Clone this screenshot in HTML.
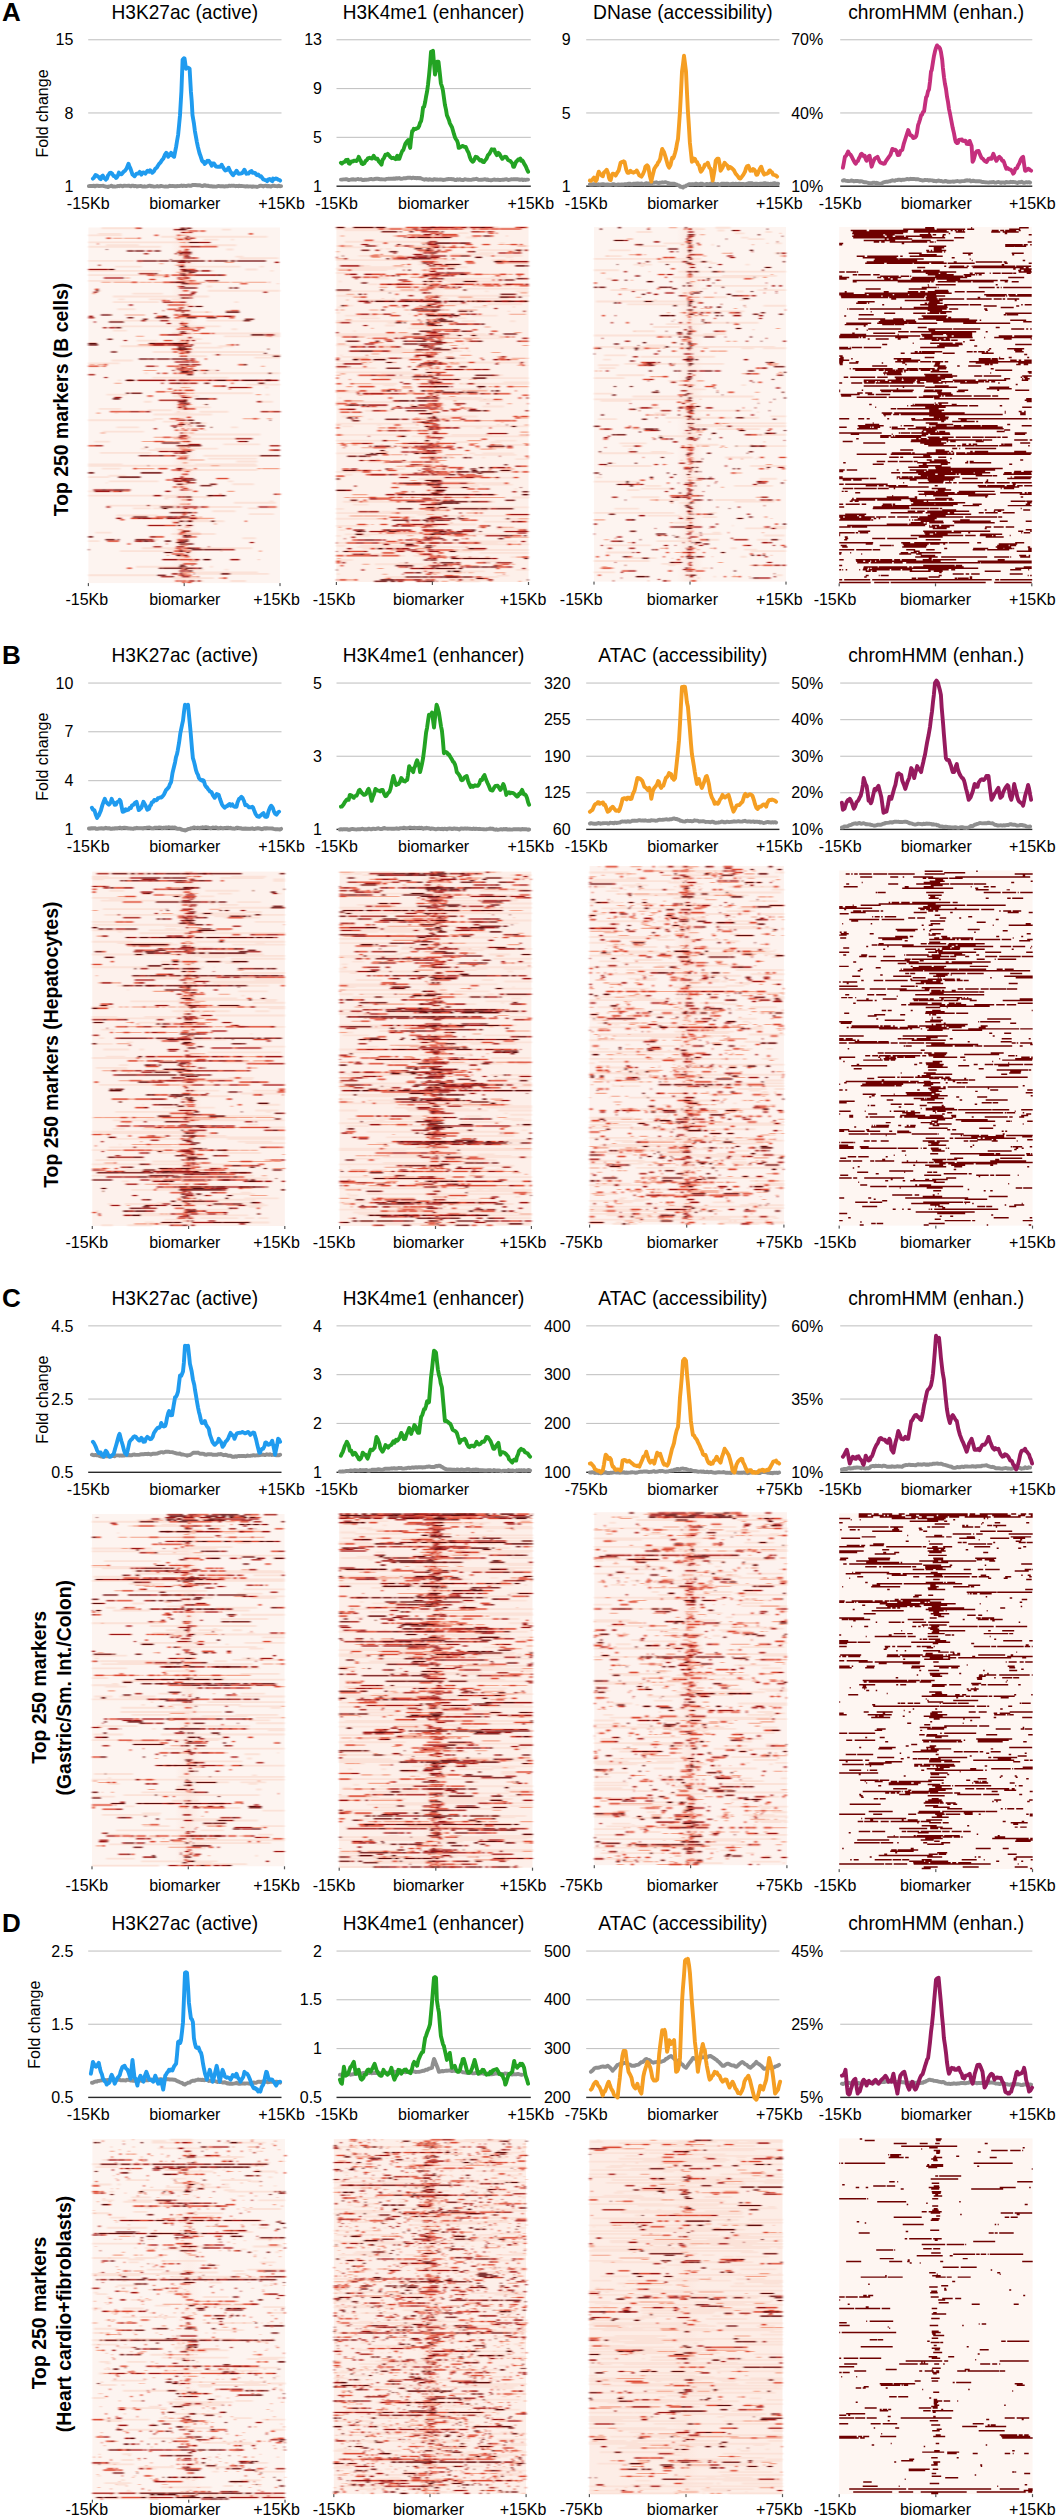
<!DOCTYPE html><html><head><meta charset="utf-8"><style>html,body{margin:0;padding:0;background:#fff;}html{scrollbar-width:none;}html::-webkit-scrollbar,body::-webkit-scrollbar{display:none;width:0;height:0;}svg{display:block;}</style></head><body>
<svg width="1060" height="2517" viewBox="0 0 1060 2517" font-family="&quot;Liberation Sans&quot;, sans-serif" fill="#000">
<defs><linearGradient id="band" x1="0" x2="1" y1="0" y2="0"><stop offset="0" stop-color="#f7b9a3" stop-opacity="0"/><stop offset="0.5" stop-color="#f7b9a3" stop-opacity="1"/><stop offset="1" stop-color="#f7b9a3" stop-opacity="0"/></linearGradient><filter id="soft" x="-5%" y="-5%" width="110%" height="110%"><feGaussianBlur stdDeviation="0.8 0.55"/></filter><filter id="soft2" x="-5%" y="-5%" width="110%" height="110%"><feGaussianBlur stdDeviation="0.4 0.3"/></filter></defs>
<rect width="1060" height="2517" fill="#fff"/>
<g transform="translate(88.4 227.5)">
<rect width="191.6" height="355.6" fill="#fdf4f0"/>
<rect x="82.4" width="26.8" height="355.6" fill="url(#band)" opacity="0.2"/>
<g filter="url(#soft)"><g transform="scale(0.5 1.4224) translate(0 0.5)" fill="none">
<path d="M26 0h76M267 1h18M19 4h47M0 5h67M145 6h38m9 0h166M230 8h30m25 0h6M0 10h201M35 12h66m130 0h65M0 13h145M276 15h14M294 20h16M302 21h78M0 23h92m80 0h49M98 24h8M53 27h54m84 0h113m38 0h9M189 29h27m98 0h24M0 30h145m39 0h67m113 0h6M0 33h147M127 34h32M0 37h83M194 38h16M191 40h27M237 41h10M15 44h10m214 0h144M88 46h61M49 48h192m-34 0h26M60 50h12m49 0h36m9 0h22M49 52h92m151 0h8M58 57h36M200 59h47M42 65h163m31 0h87M46 69h218M286 71h12M49 72h28M167 74h45m14 0h157M347 75h36M271 76h59m-35 0h22m-20 0h86M178 78h49M97 79h41M208 81h37M64 83h115m81 0h31M211 84h57M129 87h224M248 89h136M201 90h36M332 91h51M46 93h43M0 95h62M185 97h11M169 100h88M112 102h7m103 0h161M128 105h152m-147 0h16M59 107h6M316 110h67M354 112h6M208 116h121m-75 0h18M36 117h42m276 0h8M169 118h52M111 122h15m214 0h29M193 126h51M21 127h44M119 128h48M222 129h58M52 130h8m114 0h25M130 131h117M130 134h19M0 135h134M149 136h29M183 137h53M56 140h45m184 0h14M230 142h6M29 143h82M204 145h140M194 148h109M12 150h31M270 152h73M105 155h10m18 0h126M120 156h67M23 158h102M230 160h138M198 161h3M239 162h98M187 163h15M296 164h42M0 166h68m145 0h122M0 167h338M27 169h37M176 170h162M40 174h35M0 175h42m25 0h17M41 178h99m139 0h11M35 179h3M288 180h43M0 185h60M0 188h204M153 189h93m-46 0h15M152 190h8m71 0h3M362 192h8M291 193h54m-3 0h33M36 195h174M154 196h153M89 197h36m4 0h95m95 0h21M248 199h46M321 201h50M56 202h82M107 204h9m36 0h75M199 205h42M165 206h107M14 214h32m134 0h43M166 215h88M308 218h27M123 219h17M0 220h22M133 222h5M107 225h221M158 226h36M63 227h92M95 238h97m51 0h6M201 240h30m41 0h8M207 242h132M216 243h145M0 244h135M169 246h82M187 248h43m54 0h31" stroke="#fbe2d8" stroke-width="1.3"/>
<defs><path id="A1_1" d="M184 5h3m0 0h5m2 0h3M49 7h19m3 0h20m0 0h8m75 0h6m0 0h11M182 10h10M194 14h2M186 19h4M202 21h10M273 24h18M142 25h8M174 26h5M176 31h16m0 0h6M189 32h8M133 33h19m92 0h19M73 35h10M178 36h4m8 0h5m1 0h1M187 37h7m0 0h7M26 38h10m-1 0h10m5 0h16m0 0h15m0 0h5m16 0h14m1 0h10m3 0h18m14 0h12m22 0h9m-7 0h3m0 0h3m1 0h14m1 0h14m5 0h18m0 0h16m0 0h10m3 0h5m0 0h12m0 0h6m4 0h5m1 0h19m0 0h15m0 0h4M378 39h2M8 46h6M202 48h4M187 52h3M193 54h8M275 58h10M235 59h4M73 61h19m0 0h13m0 0h8m68 0h6M183 63h11M189 70h6m2 0h1m6 0h12M210 74h14M95 76h16m244 0h8M180 80h10m-1 0h5M100 82h21m155 0h9M194 86h6M186 88h5m0 0h5m0 0h4M187 93h7M2 96h11m5 0h13M23 97h7m152 0h13m150 0h8M174 98h10M110 100h20m0 0h6M199 101h7M197 102h1M52 109h14M185 112h9m0 0h4m1 0h4M190 114h8m1 0h6m0 0h2M155 115h11m0 0h7M185 116h6m0 0h9m0 0h4m1 0h6M335 117h10M194 118h6M192 124h6m5 0h4m23 0h2M180 127h9M179 129h2M16 130h8M182 134h6m0 0h3m118 0h6m0 0h14m9 0h5m14 0h10M193 137h6M197 139h2M205 141h16M182 142h9M24 144h10m155 0h9m3 0h9m-1 0h2M131 147h18m16 0h8m0 0h6m13 0h8M170 148h6m0 0h7M107 150h24m20 0h20m2 0h23m0 0h1M191 153h4M181 154h8m0 0h6m2 0h1M181 155h17M184 156h10m3 0h4m5 0h6M174 157h8M177 160h7m3 0h7m0 0h7M202 163h10m0 0h20M189 165h9M245 167h17M97 169h19m0 0h16m206 0h7m2 0h6m0 0h15m0 0h14M187 170h7m-1 0h7m0 0h7m-5 0h6M191 171h4M185 180h9m0 0h4M177 182h6M69 185h14m195 0h14M186 191h6m0 0h5m9 0h1M183 194h8m0 0h9M198 197h4M190 203h1m12 0h7m0 0h8m4 0h5M110 204h2m68 0h24m11 0h7m-4 0h18m0 0h16M251 208h6M193 210h10M179 212h10M188 215h3m-2 0h11m-8 0h8m0 0h9m-6 0h22m-16 0h4m1 0h1M177 220h9M175 221h8M184 223h6m-1 0h8M190 226h8m0 0h2M265 227h2m74 0h6M157 230h4M178 231h4m1 0h8M340 233h2M201 234h18M185 242h8m0 0h7m0 0h9m0 0h4M185 243h15m1 0h3M203 245h16M261 246h8M183 248h18m-4 0h5M195 249h3"/></defs>
<defs><path id="A1_2" d="M94 0h7M200 2h20m3 0h11M194 3h7m6 0h1M321 4h8M132 5h8m37 0h7M36 7h9m54 0h5m88 0h4m13 0h5M178 8h5m-1 0h8m4 0h4m0 0h6M192 10h2M18 11h2M184 13h19m19 0h24m0 0h12M193 15h7m0 0h1M181 16h4m6 0h4M181 17h4M182 19h3m5 0h5M190 21h6m16 0h8M179 26h3m2 0h8M199 29h15M185 30h4m6 0h1M200 32h5M117 33h16m20 0h8m5 0h15m17 0h15m58 0h4M151 34h10m32 0h2M183 35h9m-1 0h12m-2 0h2M122 36h12m48 0h8M201 37h9m1 0h3M86 38h12m51 0h14m14 0h19m-5 0h4m10 0h2m155 0h1M201 39h21m82 0h14M179 41h4M13 43h6M189 44h9m0 0h2M192 49h2M147 51h9m2 0h5M169 52h14M159 54h19m0 0h15M181 56h6M158 57h19M285 58h8m0 0h8M171 61h10m11 0h3m7 0h2M137 62h10m32 0h20m0 0h24m0 0h18m0 0h11m3 0h15m18 0h5M172 63h11m99 0h10M187 66h2M190 67h5m0 0h4M185 68h7m-1 0h4M183 70h20m12 0h17M177 71h7m1 0h4m0 0h6m-6 0h20M208 72h12M201 74h3m20 0h20m3 0h5M143 75h15m23 0h7M364 76h2M199 77h4M151 79h17m17 0h7m8 0h2M195 80h5M192 81h4m0 0h3M121 82h8m-4 0h20m0 0h12m-5 0h8m10 0h21m3 0h8m83 0h7M167 85h14m8 0h13m0 0h5M181 86h4m0 0h7M169 87h10m6 0h5m1 0h8M182 88h10m6 0h2M187 90h8M233 92h4M194 93h7m5 0h5m1 0h2M212 94h9M31 96h7m262 0h10M0 97h21m9 0h5m101 0h3m18 0h16m1 0h8m3 0h4m6 0h15m0 0h5M191 98h6m9 0h2M190 99h10m-9 0h13m-1 0h7M182 100h10m2 0h9m20 0h11M206 101h4M148 102h7m15 0h7m3 0h12m-10 0h9m1 0h5m-2 0h15M80 107h6m96 0h7m1 0h3m6 0h20m0 0h20m37 0h13M286 109h4M250 111h16M320 112h7M159 113h8m114 0h4M171 114h6m3 0h7m6 0h18M135 115h19M191 116h3M181 117h2M118 118h11m55 0h6m-6 0h10m-4 0h4M198 119h8M241 120h9M190 121h5m0 0h3M185 122h7m-1 0h3M179 124h6m1 0h8m5 0h4M180 125h10M190 126h7M192 127h13m0 0h9M43 129h18m0 0h22m19 0h11m249 0h7M197 133h8M163 134h19m147 0h9M175 135h6M182 137h9M182 139h5m17 0h2M187 141h4m8 0h2m21 0h7m0 0h2M173 142h7m11 0h6m9 0h8M192 146h6M149 147h16m23 0h4m9 0h2M182 148h4m0 0h6m0 0h6M131 150h9m0 0h12m36 0h8m0 0h5m0 0h3M0 153h13m172 0h4m6 0h6M188 156h18m-13 0h4m165 0h7M183 158h8M151 160h14M182 161h8m1 0h6M178 162h7m-1 0h8M90 169h7m43 0h18m33 0h1m20 0h4M166 170h20M195 171h7M187 173h10M188 176h7m0 0h5m56 0h18m0 0h6M155 177h11m17 0h7M190 178h7M169 182h8m6 0h8m3 0h1M193 183h6M192 184h6m6 0h2M48 185h13m149 0h8M263 187h2m113 0h6M200 194h3M43 196h1m189 0h7m120 0h9m0 0h7M190 197h3m17 0h6M190 200h9m11 0h5M188 201h4m0 0h4M135 203h22m23 0h10M85 204h13m28 0h12m-2 0h15m53 0h14M64 205h8M313 206h4M169 207h7M153 209h23M186 213h18M183 214h10m0 0h2M180 215h9M135 217h16m54 0h5m1 0h5M178 219h18M38 220h15m0 0h6m0 0h2m40 0h7m77 0h4M78 222h6m72 0h2M197 223h1M174 225h8m0 0h5m2 0h4m0 0h9M180 226h8M171 227h16m3 0h7m2 0h6M167 229h17m0 0h7M187 230h4M192 231h4m-1 0h7M181 233h15m-1 0h14M190 236h24M77 239h10m101 0h4M186 240h4m6 0h2m-1 0h2M192 243h2M180 244h4m0 0h8m1 0h6m1 0h6M269 246h8M174 248h8m7 0h6m7 0h1M188 249h5m5 0h3m0 0h5"/></defs>
<use href="#A1_2" stroke="#e65440" stroke-width="1.6" stroke-opacity="0.34"/>
<defs><path id="A1_3" d="M101 0h5M171 1h4m1 0h5M186 3h8m8 0h5M196 6h6M202 7h7M221 10h23M203 13h20M117 16h11m68 0h3M178 17h3m4 0h9m0 0h8M111 18h9m53 0h4m13 0h9m0 0h5M195 19h6M191 20h6m0 0h4M196 21h9m1 0h7M97 23h12m74 0h10m-5 0h6m45 0h5M179 24h16m4 0h4m170 0h8M20 26h4M190 27h3M0 29h21m0 0h19m144 0h14M188 30h7m11 0h15m4 0h9m0 0h10M101 32h16m0 0h15m51 0h4m18 0h1M182 33h16m15 0h18m0 0h10m-2 0h18m7 0h7M31 35h16m0 0h21m110 0h6m8 0h4m1 0h4M234 37h18M163 38h9M184 41h6m-4 0h4M182 42h9m22 0h5M19 43h2M10 45h8m188 0h10m134 0h8M205 46h8M181 47h24m0 0h4M191 49h4m9 0h2m0 0h2M149 52h20m14 0h7m0 0h5M81 54h8M200 55h10M187 56h3M180 57h6M149 58h2m22 0h18m-6 0h9m-3 0h2m1 0h5m0 0h4M187 59h4M132 60h4M185 61h7m3 0h6m0 0h2M1 62h8m261 0h17M0 63h12M105 65h10m28 0h9m0 0h9M11 66h4M157 67h8m18 0h7M29 70h8m4 0h7m-1 0h7M209 71h2m8 0h4M182 74h5m-1 0h4m0 0h9M158 75h23m173 0h18M202 77h4m0 0h1M71 79h6m118 0h6m6 0h6M134 81h17m0 0h19M129 82h23m7 0h11m-10 0h20m0 0h12m12 0h6m86 0h4M178 83h9m1 0h8m0 0h7M182 85h4M198 87h7M255 89h8M183 90h4m8 0h3M203 92h10M203 93h3M173 94h10m0 0h9m0 0h11m2 0h7M182 96h12m12 0h15m0 0h3M115 97h18M185 98h6M176 99h9m0 0h6m11 0h2M168 100h4m84 0h4M185 101h10m0 0h4m4 0h5M138 102h4m13 0h3M0 103h11m0 0h2M32 105h6M98 107h15m0 0h18m-1 0h17m0 0h8m4 0h17m4 0h15m-2 0h9m37 0h9m2 0h7m32 0h13m3 0h5m27 0h14m3 0h20m0 0h6M146 109h4m12 0h14m12 0h12m2 0h16M266 111h9M281 112h20m0 0h7m0 0h12M167 116h23M52 119h14m121 0h6M250 120h6M141 121h20m0 0h14m-1 0h16M337 122h10M182 123h8m8 0h5M195 124h4M179 126h8M190 127h7M83 129h19m12 0h10m221 0h16m8 0h15M181 135h14M179 138h7m14 0h2M165 139h14M131 141h6M198 142h1m15 0h4M184 144h5M183 146h8m-2 0h7M179 147h9M294 148h14m0 0h19m0 0h1M299 150h14M200 152h19m0 0h5M13 153h16m334 0h20M369 156h14M141 157h20m1 0h23m-3 0h5m-3 0h11m-8 0h7M171 158h10m10 0h2M123 160h8m0 0h10m24 0h10M193 162h4M119 167h2M176 169h7M179 170h7M145 172h2M196 173h3M184 175h6M170 176h14m0 0h4m3 0h3m1 0h3m2 0h5M167 177h14m9 0h6M171 178h17m9 0h6M203 179h3m0 0h7M254 180h3M190 183h3M10 184h17m9 0h7m0 0h7m21 0h13m100 0h3m0 0h4m8 0h2M12 185h16m0 0h17m16 0h7m86 0h10M371 187h6M130 188h16m104 0h16M178 189h8m1 0h6M197 191h10M117 195h6M36 196h7m133 0h8m3 0h17m-1 0h17m4 0h9m107 0h20M193 197h6M190 202h2m14 0h6M171 203h8M56 204h10m32 0h7m1 0h20m29 0h10m-1 0h13m1 0h7m17 0h14M199 206h10M176 207h5M119 209h11m0 0h23m43 0h5m7 0h1M123 217h12m54 0h7m3 0h6M115 219h15m66 0h4M93 220h15m14 0h10m48 0h10M193 221h1m129 0h8M194 222h4M130 224h16m30 0h16m48 0h2M203 225h1m10 0h10M268 226h10m0 0h15M191 230h8M148 233h10m0 0h21m33 0h7m0 0h3m62 0h18M214 236h2M210 239h8M182 241h8m-1 0h6m1 0h5M167 243h12m3 0h7m22 0h2M145 245h21m21 0h16m16 0h2M184 248h3m14 0h12m5 0h7"/></defs>
<use href="#A1_3" stroke="#e65440" stroke-width="1.6" stroke-opacity="0.34"/>
<defs><path id="A1_4" d="M184 0h10m2 0h7m0 0h3M181 1h9m0 0h4m1 0h2M194 7h5M200 10h21M36 15h2M77 16h14m2 0h12m0 0h7m20 0h12M202 17h4M181 18h8m15 0h2M201 20h2M164 22h2M109 23h18m0 0h11m2 0h8m0 0h13m4 0h18m-10 0h7m0 0h8m-4 0h12m-3 0h13m-12 0h5m7 0h17m0 0h10m10 0h4m3 0h13m0 0h16m5 0h10m3 0h6m0 0h6m0 0h5m0 0h14m0 0h20m0 0h7M182 27h8M41 29h11M190 30h16M200 31h10m0 0h4M133 32h5m51 0h4M189 33h4m65 0h6M68 35h3M252 37h8M172 38h20m0 0h1M186 39h15m21 0h2M190 41h2M191 42h22m69 0h6m3 0h9M15 44h6M185 49h6m5 0h6M214 55h14M275 59h10m0 0h16m-1 0h2M25 61h18m1 0h3m142 0h12M147 62h10M78 63h12m44 0h20m0 0h8m34 0h20m20 0h20M109 64h10m194 0h18M310 65h14M41 66h23m0 0h7M191 69h8M55 70h11M184 73h8m0 0h2M325 75h20m0 0h7M38 78h8m0 0h2M0 81h17m104 0h13m35 0h20m0 0h7m0 0h3M0 82h19M203 83h4M179 84h8m1 0h3m0 0h3M178 85h5m0 0h3m0 0h6m0 0h7m3 0h1m156 0h2M45 87h12m138 0h6M352 88h4M369 90h14M101 92h18m1 0h13m3 0h10m0 0h17m3 0h20m0 0h13M194 96h8m108 0h7M208 100h11m15 0h6M185 101h17M232 102h2m126 0h6M197 103h12M75 107h17m165 0h19m34 0h12m0 0h16m14 0h13M176 109h10m46 0h10m98 0h12M75 116h7m3 0h14m0 0h8M193 119h6M49 120h14m151 0h9m0 0h18M190 121h7M179 122h13m0 0h5M190 123h4m0 0h3M234 124h4M190 125h5M198 135h13m152 0h2M203 137h8m2 0h12M186 138h7M217 139h14m0 0h2M171 140h4m70 0h2M199 150h2m112 0h6M147 151h23m0 0h13M177 153h8m1 0h12m1 0h19m0 0h8M114 154h4m82 0h2M197 157h8M183 158h14M101 160h22m18 0h10m192 0h13m0 0h19m0 0h8M197 161h1M183 169h5M0 172h11m94 0h23m0 0h17M60 175h7m0 0h18m0 0h8m0 0h11M206 176h3m1 0h1M186 177h20m0 0h9M196 179h7m11 0h1M177 180h12m54 0h11M224 181h8m0 0h14M27 184h9m14 0h21M238 188h12m16 0h8M194 189h8m0 0h5M144 196h7m0 0h18m-1 0h2M148 197h11M163 200h6m0 0h12m0 0h14m2 0h2m0 0h5m0 0h4m7 0h2M89 203h8m0 0h7m0 0h15m38 0h13m14 0h18M138 204h2M181 206h10m2 0h2m2 0h10m38 0h8M179 209h6m16 0h6M189 213h3m0 0h4m2 0h3m0 0h1M190 216h8m2 0h5M0 217h9m186 0h4M34 219h19m5 0h4m32 0h21M110 220h11m32 0h9m0 0h3m25 0h10M176 221h7m-1 0h6m1 0h4M182 222h7m0 0h5m4 0h3m0 0h9M198 225h16M0 226h2m204 0h13m0 0h10m1 0h17m-1 0h22M182 227h7m0 0h1M152 228h15m0 0h1m28 0h6M176 230h9M230 233h14M183 237h10m14 0h2M181 238h10m1 0h4M141 239h6m1 0h17m0 0h14m0 0h9m-9 0h9m5 0h17m9 0h8M192 240h4M201 241h8M185 242h2M265 243h7m0 0h9m1 0h2M137 244h18m32 0h4M166 245h5"/></defs>
<use href="#A1_4" stroke="#e65440" stroke-width="1.6" stroke-opacity="0.34"/>
<use href="#A1_1" stroke="#f4a38b" stroke-width="0.75"/>
<use href="#A1_2" stroke="#dd4c36" stroke-width="0.75"/>
<use href="#A1_3" stroke="#9c1719" stroke-width="0.75"/>
<use href="#A1_4" stroke="#5a0a0c" stroke-width="0.75"/>
</g></g></g>
<g transform="translate(336.4 226.8)">
<rect width="192.1" height="355.2" fill="#fdf0ea"/>
<rect x="82.6" width="26.9" height="355.2" fill="url(#band)" opacity="0.2"/>
<g filter="url(#soft)"><g transform="scale(0.5 1.4208) translate(0 0.5)" fill="none">
<path d="M213 0h111M0 1h204m-13 0h174m-165 0h20m17 0h89M16 2h100M243 4h21M208 5h6M259 7h22M170 8h55M17 10h168M326 11h11M80 12h7M60 13h26m40 0h79M9 14h44m93 0h132M86 15h7m5 0h12M282 16h102M285 18h30m51 0h6M228 19h80M44 20h106m148 0h74M164 21h23m152 0h14M102 22h53M0 23h242m-234 0h73m229 0h9m28 0h8M163 24h58M164 26h13M20 27h48m137 0h3M23 28h127m28 0h84M0 29h119M22 30h79M0 32h19M210 33h11M85 35h19m205 0h8m6 0h19M77 36h29m97 0h181M182 37h84M5 38h5m212 0h103m-95 0h100M64 40h19m30 0h40M176 41h7m100 0h44M94 43h5m46 0h99m13 0h127M0 45h186m111 0h7m55 0h25M1 48h40m163 0h129m-42 0h40m-20 0h33m-21 0h62M53 49h8m290 0h4M111 50h6m88 0h18m23 0h98M41 51h81m-63 0h15m125 0h10M270 52h6M224 54h40m38 0h69M9 55h25m138 0h31M3 56h13m159 0h29m69 0h29M0 60h7M145 61h4M17 62h63m192 0h50M174 63h23m2 0h30M47 64h40m156 0h17M0 66h180m70 0h29m68 0h11M102 67h23M97 69h20m32 0h33M143 71h50M34 73h5M0 75h245m-41 0h35m17 0h43M0 76h240m39 0h53M43 77h16m35 0h74M156 78h179m-141 0h23M0 83h110m-66 0h76M87 85h49M35 86h186m-54 0h12M68 87h183m12 0h4M100 88h35m88 0h10M7 90h5M10 91h29m-13 0h60M82 92h176M0 94h78M193 95h187M0 96h65M0 99h80M181 100h75M0 102h154M89 103h63m-49 0h38m-24 0h65M318 104h15M84 105h75m-46 0h5M87 106h297m-180 0h79M334 109h51M68 110h54m124 0h139M94 111h22M216 114h89M12 115h84M0 116h63M237 117h37m-31 0h23M53 118h20M6 120h3m151 0h112m-46 0h30m18 0h17M216 121h95M285 122h49M0 123h129M8 124h18M38 125h52m108 0h21M57 126h44m191 0h43M57 129h55m-13 0h2M11 133h44m123 0h104M160 134h74M63 135h10M0 138h163m-108 0h26M82 139h7m231 0h8m23 0h3M11 140h22m166 0h33m5 0h147M113 141h53m112 0h13M0 146h139m-56 0h10m17 0h34m86 0h82M151 147h32m-4 0h205M0 150h68m-68 0h94m-59 0h39m6 0h16m222 0h42M146 151h19m70 0h29m44 0h22M7 153h11m158 0h3m160 0h44M84 154h24M0 159h18m-18 0h71m195 0h11m15 0h63M275 160h85M190 161h43M201 162h12m78 0h7M79 163h7m272 0h26M62 165h65m-55 0h12m91 0h25M91 166h11M131 168h35M274 169h4M116 170h21M223 171h4M0 172h62m264 0h49M108 173h73m100 0h36M17 174h15m44 0h18M193 176h164M164 177h107m-41 0h41m46 0h7M202 179h68M259 180h86M197 181h88m-74 0h42m38 0h62m-56 0h4M266 182h19M225 183h29M356 184h5M195 190h17m25 0h23m91 0h34M26 191h19M55 192h39M13 193h173m7 0h124M33 195h31M191 197h193m-187 0h28M0 198h15m177 0h121M270 199h32M90 200h39m-10 0h104M0 201h194M162 202h53M33 203h49m110 0h192M127 204h30M0 205h84m-83 0h28m-25 0h103m227 0h50M151 207h20m-12 0h7m129 0h70m-35 0h54M123 209h157M0 210h52m-52 0h64M320 212h61M6 213h11m70 0h20m100 0h8M17 216h354m-230 0h93m-86 0h30M0 217h9m35 0h23m42 0h5M262 221h100M0 222h74m-60 0h45m224 0h40M254 223h130M0 224h18m29 0h87m118 0h3M41 225h221m-208 0h35M52 226h88M114 227h3m33 0h234M241 228h30M286 229h98M74 230h42M0 231h137m17 0h65M198 232h87m63 0h36M0 234h33M0 235h21m270 0h38M125 236h13M77 237h97M176 238h31M359 241h25M169 242h128M194 243h55M1 244h6M321 245h24M97 246h49m69 0h109m-87 0h42M232 248h69M246 249h41" stroke="#fbe2d8" stroke-width="1.3"/>
<defs><path id="A2_1" d="M197 0h7m-4 0h10M96 1h10m22 0h16m-10 0h17m-3 0h20m0 0h14m-14 0h17m-4 0h7m-4 0h18m-14 0h6m18 0h14m0 0h4m22 0h4m22 0h8M134 2h19M142 5h13m0 0h15M8 6h8m98 0h7m20 0h8m43 0h16m132 0h2M170 11h10M324 12h12m2 0h10M2 13h6m8 0h12m0 0h4m93 0h10m49 0h4m3 0h6m13 0h6m146 0h18m3 0h1M145 14h5m1 0h9m0 0h13m0 0h19m0 0h15m6 0h6m0 0h11m0 0h17m-7 0h9m1 0h8m1 0h10m8 0h5M0 17h6m346 0h6M74 19h12M85 20h20m-1 0h12m6 0h10M70 21h14m0 0h4m22 0h10M0 22h15m186 0h15M320 23h12m0 0h6M198 24h5M194 25h8m1 0h2m130 0h20m0 0h18m-5 0h14m-7 0h6m0 0h3m-2 0h2M130 26h8M114 27h20m58 0h15m18 0h14M4 30h9m0 0h10m148 0h5m5 0h10m6 0h1M222 31h2M142 33h7m0 0h18m31 0h12m-2 0h9m-5 0h9m0 0h9m4 0h17m-8 0h11m-3 0h9m-6 0h7m3 0h12m16 0h16m1 0h19m15 0h10M148 35h17m10 0h5M149 38h3m24 0h4m2 0h6m0 0h10m1 0h6M124 39h11m0 0h3M127 40h10m17 0h14m0 0h5m8 0h14m12 0h5m4 0h11m104 0h6M184 41h10m78 0h8m2 0h14m38 0h13m0 0h3m6 0h8M86 42h16m67 0h7m1 0h6m0 0h6m1 0h4m2 0h9M172 43h6m38 0h17m0 0h11M128 44h13m0 0h14m-1 0h2M368 46h14M20 47h7m0 0h9M180 48h9m-1 0h6m0 0h4m4 0h9M34 49h13m137 0h4m-4 0h6m3 0h7m2 0h1m41 0h18m0 0h10M92 50h2m84 0h7M20 51h4m153 0h4M260 52h19m12 0h7m4 0h19m0 0h11m17 0h18m11 0h6M203 54h9m-1 0h1M181 55h8m1 0h2m25 0h10m0 0h11m56 0h6M120 56h8m32 0h11m15 0h5m16 0h1m146 0h2M186 57h2M8 58h8m50 0h18m52 0h10m70 0h10m18 0h12m1 0h12m-1 0h14M344 59h2M112 60h6M81 61h11m97 0h13m-6 0h4m1 0h5m140 0h19m0 0h14M18 65h10m0 0h2m155 0h10M131 66h11M0 67h8m188 0h4m14 0h6m3 0h12M296 70h12M70 71h4M124 74h9m0 0h9m214 0h14M272 75h4M43 77h13m165 0h3m102 0h12m9 0h6M62 78h6m141 0h9m1 0h11m-1 0h10m0 0h9m5 0h17m0 0h16M191 79h2m18 0h4m43 0h9M260 80h12M84 81h10m127 0h13M2 82h16m169 0h4m2 0h9m0 0h7m0 0h1m42 0h2M187 83h3m8 0h2m28 0h14m130 0h12M97 84h9M246 85h12M156 87h15M132 88h6m0 0h13m0 0h17m1 0h8m24 0h7m102 0h10m0 0h8M70 89h16m87 0h6m14 0h5M185 90h4m0 0h5m54 0h20m0 0h2M218 91h11m0 0h5m88 0h7M34 92h14m1 0h6m0 0h9m286 0h8m0 0h10m0 0h11m2 0h3M328 93h11m9 0h16M188 94h6M50 95h11m5 0h4m80 0h8m29 0h3m21 0h5m10 0h10m4 0h4m76 0h6M185 96h10m32 0h15m0 0h4M362 97h9m10 0h1M171 98h13m14 0h8M195 99h5M8 103h8m0 0h2M0 104h8m183 0h6m-3 0h10M168 107h15m0 0h14m0 0h3m66 0h4m4 0h6M35 110h20m0 0h15m92 0h4m82 0h2M20 112h12m100 0h15m0 0h3m154 0h8m15 0h1m26 0h17m0 0h13M132 113h11m0 0h9M90 114h14m14 0h12M20 115h4m160 0h7m0 0h7m0 0h6m-1 0h3m0 0h5m1 0h2m38 0h6m3 0h15m-1 0h17m0 0h10M0 116h2m140 0h15m26 0h7m1 0h5m0 0h7M141 117h10m-5 0h13m2 0h11m22 0h14m41 0h15M44 118h8M188 119h2m36 0h9m0 0h3M179 120h10M194 121h12m90 0h2M30 122h8m0 0h16m180 0h6M342 124h9M0 125h2m146 0h6m27 0h7M164 126h14m11 0h9M256 127h16M190 128h8m-2 0h14m46 0h4M186 130h4M24 133h16m0 0h11m197 0h2m113 0h7M158 134h4m206 0h16M168 135h12m38 0h8M211 136h6m14 0h20m37 0h13m0 0h15M330 137h4M0 139h8m152 0h4m212 0h8M84 141h15m25 0h8m48 0h8M91 143h11m47 0h13m20 0h6M368 144h11m0 0h5M10 146h4m286 0h2m64 0h16M191 147h5m-4 0h2m2 0h1M102 150h9m0 0h13m138 0h16m0 0h12M156 151h2m18 0h8M2 152h7m7 0h15m87 0h13m135 0h17m91 0h10M32 153h10m48 0h2m83 0h7m26 0h6m103 0h15M124 154h8m0 0h18m0 0h2M50 155h12m0 0h15m20 0h15m0 0h4m41 0h19m103 0h8m25 0h11m0 0h13M288 156h6m0 0h19m2 0h3M88 158h10m0 0h6M108 160h12m0 0h13m85 0h10m0 0h12m0 0h13m4 0h2M184 161h8m0 0h7m-1 0h1M226 162h10M55 164h10m24 0h19m5 0h19m54 0h10m0 0h6m0 0h7m0 0h11M133 165h7m2 0h6m43 0h3m10 0h2M174 167h16M120 168h14m21 0h20m0 0h5m10 0h4m2 0h1M179 169h6m0 0h8m19 0h10M162 170h2m28 0h4m2 0h13m121 0h19m0 0h5M71 171h13m220 0h4M175 173h13M276 176h12m20 0h10M148 178h11m0 0h1M262 180h15M120 181h9m0 0h10m32 0h11M191 185h4m0 0h3M195 186h6m1 0h5m0 0h1m64 0h13M32 188h15m0 0h7m0 0h8m246 0h14M16 190h12m2 0h10m1 0h15m-1 0h10m15 0h10m0 0h14m32 0h10m9 0h13m1 0h18m5 0h2m-2 0h16m-1 0h6m18 0h9m0 0h16m10 0h15m1 0h11m0 0h12m0 0h14m0 0h11m0 0h5M186 192h8m0 0h5M53 193h10m129 0h7m2 0h6M182 197h4m0 0h5m6 0h5m0 0h4M188 198h3M178 199h15m3 0h11m-9 0h1m9 0h12m7 0h1M110 201h9m141 0h16M181 202h8m0 0h6M26 203h15m0 0h13m1 0h18m0 0h13m0 0h8m0 0h8m3 0h3M128 204h8M82 205h12m270 0h13m0 0h7M185 207h5M228 208h4M59 209h5m6 0h4M159 210h16m17 0h10M4 211h6m171 0h13m89 0h9m39 0h12m1 0h11M197 214h6M117 215h16m1 0h19m0 0h9m30 0h3m0 0h8M142 217h12m70 0h13m19 0h19M349 218h16m1 0h7m0 0h11M148 219h16m27 0h8M86 222h18m2 0h15m0 0h5m10 0h11m0 0h12m16 0h3m0 0h8m20 0h18m1 0h8m-2 0h11m-7 0h7M350 223h15M158 226h10m0 0h16M108 227h9m117 0h10m8 0h14m0 0h17m0 0h13M115 229h3m42 0h11m0 0h1M192 230h1M194 231h7m8 0h9m22 0h4M298 232h8m54 0h11M2 233h6m206 0h6M52 237h14m250 0h7m1 0h8m18 0h7M191 238h4m49 0h12m11 0h16m1 0h2M174 239h8M82 240h12M196 243h9m33 0h13m4 0h3m6 0h7m1 0h3m41 0h12m0 0h10M92 244h10m92 0h6M234 245h12M96 247h6M20 248h17m189 0h12m30 0h7M210 249h13m17 0h8m58 0h6m52 0h6"/></defs>
<defs><path id="A2_2" d="M139 0h14m0 0h12m25 0h7m7 0h8m-1 0h3m21 0h14m109 0h8m11 0h5M84 1h11m11 0h9m0 0h16m46 0h5m12 0h7m-6 0h15m-9 0h1m1 0h1m6 0h15m2 0h11m6 0h9m19 0h6m8 0h20m2 0h18m1 0h17m0 0h15m0 0h11M157 2h7m1 0h9m-1 0h7m0 0h2M287 3h11m13 0h5M188 4h14m2 0h9m91 0h11m4 0h3M210 5h20m0 0h12M121 6h20m8 0h10m1 0h12m0 0h16m22 0h14m1 0h12m0 0h7m28 0h18m18 0h6M182 7h4m0 0h7M56 9h18M94 11h8m84 0h4m0 0h5M258 12h14m20 0h15m41 0h14m5 0h5M8 13h8m102 0h7m25 0h4m34 0h19m25 0h6M226 14h14m9 0h7m13 0h7M187 15h3m3 0h2M162 16h7m0 0h18m5 0h3m23 0h12M168 17h2m4 0h8m0 0h12m14 0h14m122 0h8m12 0h4M340 18h11M89 19h3m98 0h4M68 20h17m143 0h20m62 0h6M120 21h18M112 22h10m70 0h9m15 0h4M170 24h8m0 0h4m-1 0h6m0 0h7m-2 0h4m-2 0h3m61 0h10m0 0h6m58 0h12M186 25h8m67 0h16m43 0h15M142 26h6M51 27h1m155 0h17M187 29h7m-1 0h6m0 0h5M23 30h7m146 0h3m14 0h5M256 32h12M18 33h6m47 0h18m1 0h8m21 0h8m0 0h15m10 0h12m9 0h15m5 0h14m-5 0h2m13 0h19m0 0h7m33 0h16m35 0h13m19 0h16M88 34h4m6 0h9m65 0h3m13 0h9m7 0h7m107 0h9m37 0h4M53 35h15m2 0h15m80 0h10m16 0h6m0 0h5M312 37h4M132 38h17m130 0h3M87 40h7m0 0h7m11 0h15m21 0h6m36 0h4m1 0h12m21 0h10m18 0h20m4 0h6m5 0h20m2 0h13m25 0h8m0 0h15m0 0h1M194 41h11m91 0h20m4 0h10m36 0h19M120 42h13m0 0h17m4 0h11m16 0h10m-2 0h8m-2 0h1m21 0h11M180 43h6m1 0h6m2 0h1M166 44h17m0 0h1M118 47h6M48 49h12m118 0h6m4 0h5M185 50h5M143 51h7m0 0h15m5 0h5m3 0h6m-2 0h7m0 0h4m0 0h8M168 52h18m93 0h12m41 0h17m18 0h12M182 54h8m7 0h4M17 55h6m83 0h16m80 0h13M94 56h8m31 0h3m36 0h15m0 0h7m6 0h6M156 57h12M0 58h2M162 59h10m0 0h10m0 0h8m0 0h10m-1 0h3M40 61h8m23 0h11m82 0h8m15 0h9m6 0h17m-11 0h3m0 0h3m4 0h8m20 0h15m23 0h6M108 62h15m33 0h6m32 0h4M238 63h2M201 64h3m10 0h1M194 65h6M120 66h11m37 0h2m12 0h8M188 67h15m-3 0h8m27 0h7M150 68h13m0 0h13m50 0h10m27 0h11M181 69h8M192 72h11m0 0h15m0 0h15m39 0h10M200 73h2m14 0h17m8 0h5m64 0h12M100 74h11m0 0h6m63 0h10m-5 0h4m3 0h8M186 75h19M192 76h7M12 77h9m0 0h8m105 0h12m0 0h16m0 0h19m18 0h17m122 0h8m7 0h3M72 78h20m0 0h10m98 0h9m173 0h2M96 79h15m61 0h20m-10 0h5m0 0h4m1 0h4m8 0h6m57 0h3M238 80h14m0 0h2m115 0h13M66 81h18M190 83h6M41 84h11m32 0h11m13 0h10M259 85h4M73 87h18m13 0h4M179 88h5m2 0h9m1 0h5M179 89h5m3 0h6m-1 0h8M60 90h2m125 0h5m2 0h2M156 91h10m171 0h3M0 92h6m282 0h4m32 0h13M48 93h7m-3 0h17m77 0h16m0 0h8m156 0h13M182 94h5m14 0h2M116 95h2m57 0h7m-1 0h5m5 0h7m0 0h4m62 0h13M203 96h19m145 0h5M173 97h4m3 0h6m185 0h6M54 98h6m100 0h11m14 0h3m32 0h10M188 99h4m8 0h6M180 100h2m77 0h15M192 102h14m0 0h13M44 104h7m0 0h19m10 0h20m56 0h14m12 0h8m18 0h10m0 0h16M0 106h4M26 107h2m42 0h20m0 0h15m-1 0h4m50 0h9M197 108h5M0 110h10m18 0h7m133 0h17m6 0h6m1 0h18m-17 0h3m14 0h16m1 0h1m40 0h2M44 112h15m0 0h14m0 0h3m110 0h10m0 0h5m115 0h10m16 0h12M104 114h15M0 115h10m0 0h9m27 0h10m0 0h4m30 0h9m81 0h15m4 0h11m148 0h2M40 116h6M56 117h9m1 0h14m0 0h15m0 0h6m0 0h6m19 0h15m13 0h20m-1 0h4m34 0h13m0 0h11m0 0h13m16 0h19m14 0h12m5 0h6m1 0h20m-1 0h8M188 118h4m8 0h4m168 0h12M180 119h8M104 120h8m252 0h6M314 121h12m1 0h4M16 122h14M0 124h13m0 0h9m5 0h14m142 0h9m-6 0h4m11 0h9m0 0h2m170 0h2M18 125h6m154 0h14m-4 0h7m1 0h12m0 0h3m29 0h8M50 126h8m11 0h7m1 0h4m96 0h6m1 0h5m9 0h3m0 0h4m0 0h3M112 127h10m86 0h4m36 0h8M6 128h15m165 0h10m14 0h2m16 0h19m0 0h1M88 129h13m201 0h4M8 130h8m0 0h11m3 0h16m146 0h10M354 133h9m6 0h15M230 134h11m0 0h9m108 0h10M152 135h16m22 0h4m16 0h8M180 136h16m-2 0h6m55 0h13m0 0h8m40 0h12m0 0h9m0 0h13m1 0h9M160 137h11M175 138h7m-1 0h10m0 0h9M116 139h12M186 140h4m-1 0h15m0 0h2M0 141h6m97 0h7m0 0h11m77 0h19m-11 0h2m98 0h4M195 142h5m0 0h8M82 143h9m51 0h7m13 0h8m1 0h12M164 145h18m24 0h16M0 146h10m372 0h2M122 147h7m50 0h9M180 148h9M204 149h4m82 0h11M9 152h6m15 0h19m16 0h8m58 0h11m33 0h12m11 0h19m-1 0h16M10 153h10m170 0h15m61 0h10m32 0h9m61 0h6M185 154h6m-5 0h10m10 0h4m10 0h14m44 0h8M14 155h2m58 0h16m-13 0h20m-5 0h8m50 0h18m23 0h16m-15 0h11m4 0h8m90 0h7m29 0h12M162 156h12m52 0h11M174 157h4m22 0h10m48 0h8M164 158h20m0 0h4m14 0h4m1 0h3M92 160h13M378 161h6M168 162h19m12 0h11m172 0h2M188 163h4m5 0h3M80 164h9M96 165h10m43 0h12m-1 0h14m22 0h9m-7 0h2M165 167h8m37 0h2M138 168h18m30 0h4m8 0h13m158 0h13M193 169h5m26 0h17m1 0h12m59 0h8m20 0h7M12 170h14m79 0h9m135 0h3m54 0h4M42 171h8m14 0h6m14 0h5m13 0h18m58 0h10M52 172h14m0 0h2m114 0h17m-7 0h3m11 0h17m4 0h9m116 0h2m2 0h8m8 0h12M166 173h9m25 0h13m1 0h13m15 0h6M59 174h17m0 0h19m0 0h7m17 0h5m5 0h12m29 0h2m32 0h19m36 0h18M0 175h16m232 0h17m0 0h16m-1 0h12M230 176h11m0 0h15m32 0h20m46 0h6m0 0h4M112 180h9m32 0h12m17 0h9m-6 0h13m-7 0h1m19 0h10m0 0h17m0 0h8m90 0h8M139 181h15m0 0h16M190 182h5m2 0h7m0 0h4m-1 0h1M110 183h14M262 184h15m5 0h19M182 185h6M130 186h12M118 187h19m53 0h10m3 0h4M169 188h10M65 190h15m25 0h13m3 0h12m16 0h6m59 0h17m25 0h10m69 0h1M81 191h19m0 0h10M54 192h6m46 0h13m0 0h13m0 0h16m0 0h10m1 0h9m0 0h14m0 0h14m3 0h1m13 0h11M46 193h6m68 0h8m82 0h7M190 194h9M180 195h16M193 197h4M166 198h10m0 0h9m-7 0h12m0 0h8M220 199h6M119 201h8m149 0h7m4 0h5M340 202h7M250 203h4M106 204h15m0 0h7m8 0h9m48 0h10m3 0h5M94 205h7m31 0h12m112 0h8M187 206h4m59 0h15m1 0h12m-1 0h5M373 207h8M142 208h3M42 209h17m29 0h14m28 0h9m0 0h12m27 0h8m0 0h4m-1 0h6m25 0h4M148 210h10m128 0h16M170 211h11m111 0h7M20 212h10M108 213h10m56 0h7m0 0h4m7 0h4m168 0h11M94 214h6m21 0h8m4 0h6m4 0h15m18 0h18m-6 0h9m-1 0h10m-3 0h3m18 0h12M86 215h4m10 0h17m48 0h8m32 0h6M174 216h20m2 0h12m10 0h12m4 0h17m0 0h11M237 217h18m20 0h3m75 0h17M192 218h9m135 0h13M174 219h4m-3 0h8m69 0h2m4 0h6M32 220h10m82 0h9m23 0h17m15 0h4M100 221h20m3 0h1M20 222h19m16 0h16m11 0h4m41 0h10m22 0h19m6 0h20m-10 0h2m55 0h7m1 0h17m-15 0h18m0 0h7M342 223h8m15 0h3M158 224h6m30 0h4M260 225h2M68 226h10m105 0h5M120 227h18m60 0h15m-1 0h12m0 0h10M25 228h19m0 0h10m116 0h6M92 229h13m0 0h10m89 0h10M56 230h10m100 0h19m0 0h7M0 231h15m4 0h11m0 0h19m0 0h11m-1 0h9m22 0h18m0 0h14m0 0h4m60 0h8M186 232h14m0 0h19m1 0h2m149 0h13M0 235h8M0 236h8m272 0h14M202 237h4m15 0h19m91 0h15M8 238h6m170 0h5m37 0h6m24 0h12m55 0h9M124 239h14m185 0h18M320 240h6M176 242h4M190 243h4m11 0h1M179 244h9m146 0h2M216 245h18M278 246h10M102 247h6m187 0h9M0 248h2m4 0h14m16 0h6m93 0h19m15 0h3m6 0h4m6 0h9"/></defs>
<use href="#A2_2" stroke="#e65440" stroke-width="1.6" stroke-opacity="0.34"/>
<defs><path id="A2_3" d="M168 0h9m0 0h6m0 0h17m0 0h16m0 0h20m13 0h7m0 0h6m4 0h20m10 0h9m0 0h9m52 0h11M152 1h12m7 0h5m5 0h10m47 0h5M170 3h15m0 0h8m0 0h12m65 0h17m15 0h9M174 5h16m8 0h9M142 7h17m17 0h5m13 0h3m-3 0h18m-15 0h4m26 0h3M184 10h17M180 11h6m-3 0h7m38 0h17m15 0h8M50 12h14m118 0h6m-5 0h10m-5 0h14m-9 0h4M72 13h8m55 0h13M194 14h13m5 0h4M78 16h8m102 0h3m11 0h6m168 0h7M196 17h10m56 0h10M114 18h6m54 0h5m0 0h3m1 0h6m9 0h3m123 0h16m12 0h18M154 19h18M158 20h17m12 0h17m0 0h12m47 0h5M0 21h2m138 0h11m0 0h9m2 0h14m0 0h8m2 0h13m0 0h7M15 22h7m100 0h18m0 0h4m88 0h4M344 24h10m0 0h17m0 0h13M180 25h6m1 0h7M180 26h6m8 0h18M8 27h20m0 0h19m138 0h6M204 29h12m5 0h8M134 30h2M187 31h10m-1 0h3M198 32h11m0 0h8m9 0h14m0 0h16M26 33h15m15 0h15m115 0h3m0 0h6m1 0h8m0 0h5m48 0h5M109 34h9m56 0h12m11 0h7m7 0h15m2 0h8M32 35h17M38 36h4m142 0h7m14 0h5m165 0h7M124 37h17m183 0h8M204 38h6M101 40h11m8 0h9m0 0h11m0 0h8m-6 0h7m24 0h8m56 0h19m81 0h15m26 0h6M196 41h1m11 0h14M205 42h11m15 0h8m3 0h8M172 46h10M55 47h5m296 0h4M144 48h10m45 0h3M194 49h12m139 0h7m-1 0h8M128 51h8m0 0h8m22 0h7M44 52h16m9 0h4m24 0h8m17 0h16m27 0h8m13 0h6m23 0h7m39 0h6m32 0h12m18 0h14m14 0h6m0 0h4m0 0h7M56 53h12m128 0h14m6 0h4m30 0h8M190 54h7M132 55h12m24 0h2M191 56h4m1 0h6m-5 0h3M168 57h6m142 0h6M212 58h2M190 59h3m181 0h4M48 61h18m27 0h17m68 0h9m81 0h13M124 62h3m75 0h8m11 0h11M226 63h6M207 64h3m0 0h3M164 65h2m15 0h4M8 67h14m0 0h6M188 68h6m4 0h1m39 0h12m0 0h13m11 0h14M54 69h8m127 0h8M233 72h14M192 73h8m4 0h4m25 0h8m20 0h11M0 74h4m185 0h9m0 0h3m-1 0h2M205 75h14m1 0h6m80 0h8M177 76h6m0 0h9m-2 0h16m-7 0h1M30 77h13m141 0h15M116 78h8m3 0h11m-1 0h3m14 0h11m8 0h7m8 0h5m179 0h10M174 79h6M44 80h2m54 0h14m28 0h18m28 0h7m71 0h16m80 0h7m13 0h2M198 81h14m0 0h9M56 82h11m0 0h9m106 0h20M166 83h19m2 0h2M28 84h13m11 0h7m4 0h16m39 0h10m53 0h6m-1 0h4m1 0h4M185 85h7m0 0h2m38 0h10M174 86h13M26 87h20m45 0h13M208 88h1M198 89h4M158 90h11m0 0h7m-1 0h8m-7 0h12M180 91h4m0 0h6m0 0h4m0 0h1m134 0h8M104 92h20M0 93h5m287 0h3m19 0h10m16 0h8M194 94h7M184 95h10m10 0h7m157 0h6M14 96h12m0 0h20m0 0h6m116 0h14m20 0h10m106 0h6M185 97h7M0 98h15m0 0h7m122 0h4M216 100h18m11 0h11m18 0h16m1 0h14m-1 0h2M200 103h8M69 104h11m20 0h18m10 0h2m44 0h4m12 0h2m6 0h9m105 0h8m2 0h2M191 106h8M202 107h6m2 0h13m0 0h10M184 108h6m-1 0h5M128 109h4m57 0h9m9 0h4M134 110h14m39 0h8m67 0h12M164 112h12m0 0h16m37 0h3M286 113h2M116 115h6m4 0h2m18 0h6M205 116h5M41 117h6m5 0h14m1 0h11m0 0h11m0 0h5m13 0h19m57 0h11m93 0h10M192 119h8M160 120h18m11 0h8m-7 0h6m2 0h4m0 0h4m174 0h4M114 122h11m57 0h6m1 0h14M192 124h9m35 0h19m47 0h2M38 125h9m15 0h17m0 0h18m0 0h5m62 0h14m18 0h5M60 126h7m53 0h8M123 127h10m3 0h12m-1 0h9m0 0h11m0 0h11m0 0h13m1 0h12M21 128h17m160 0h1m67 0h14M72 129h16m60 0h8m56 0h12m8 0h8m138 0h6M46 130h4M166 131h13M192 133h6M37 134h6m146 0h3m2 0h6M30 135h4m96 0h12m56 0h8m42 0h10M185 136h4m-1 0h5m3 0h11m-7 0h1m16 0h9m50 0h12M154 137h2m16 0h6M192 139h14M178 140h8M184 141h4m0 0h8m2 0h5m0 0h4m10 0h13m2 0h14M191 142h4M102 143h19m2 0h19M193 144h9m0 0h1M192 145h14m96 0h7m0 0h16m-1 0h14M64 147h2M189 148h18m0 0h7M92 150h10M50 152h15m77 0h7m0 0h19m0 0h7m12 0h7m39 0h5M182 153h4m2 0h4M18 154h2m46 0h4m16 0h12m18 0h4m36 0h8m2 0h20m7 0h5m143 0h6m0 0h5M132 155h12m24 0h19m-11 0h17m22 0h9m-3 0h11m10 0h10M174 156h6M180 157h8m2 0h10M130 158h16m2 0h16m16 0h10m7 0h3M181 159h15m0 0h4M138 160h2M63 161h5m258 0h2M210 162h2M192 163h3M46 164h9m10 0h15m52 0h6M106 165h13m0 0h13m44 0h9m-3 0h10m-7 0h7M148 167h17M175 168h4m0 0h7m25 0h11m136 0h11M321 169h17M29 170h13m130 0h16m0 0h2m22 0h6m24 0h7M52 171h12m126 0h3M172 172h8m3 0h6m10 0h7M154 173h10m24 0h8M68 174h20m0 0h10m13 0h8m22 0h19m0 0h12m0 0h14m4 0h6m-4 0h11m40 0h12m22 0h1M126 176h17m0 0h1m72 0h14m27 0h19m42 0h8M207 178h3M203 179h9M124 180h10m31 0h7m1 0h12m15 0h12m34 0h16M181 181h9M36 182h4M193 183h9m10 0h4m0 0h7m39 0h2M301 184h5M19 185h11M198 186h16m138 0h8M200 187h3M99 188h18m4 0h5m60 0h8m-6 0h2m0 0h4m0 0h19m1 0h7m44 0h12m15 0h11m13 0h1M218 190h2M66 191h15m91 0h19m4 0h3M198 192h10m18 0h10M160 193h7m0 0h11m107 0h20m2 0h2M198 194h5M168 195h12m0 0h7m4 0h5M200 198h6m101 0h13M190 199h7M44 200h19m1 0h10m0 0h11M246 201h4M347 202h16m0 0h9m0 0h13M214 203h9M187 204h6m-5 0h7m1 0h9m-1 0h6M183 205h7m1 0h4m8 0h19M149 206h19m20 0h2m1 0h4m1 0h1m18 0h13M140 207h4m46 0h5m155 0h8m2 0h13M120 209h10m21 0h18m-1 0h8m16 0h8m-3 0h4m0 0h1m0 0h18M112 210h13m4 0h20m26 0h17M290 211h4m28 0h9M34 213h10m8 0h4m36 0h8m18 0h18m0 0h14m22 0h17m-3 0h7m-4 0h3m4 0h4m0 0h16m4 0h10m22 0h18m105 0h5M66 214h20m0 0h9m120 0h6m19 0h11m0 0h13m0 0h9m63 0h18m0 0h16m0 0h14M219 215h10m133 0h18M51 216h3m154 0h10M298 217h18m0 0h10M30 218h8m137 0h8m20 0h4M16 219h2m167 0h6m-4 0h19M42 220h15m19 0h15m2 0h6m39 0h16m20 0h14m24 0h8m23 0h1M162 221h8m200 0h8M0 222h2m37 0h16m16 0h12m85 0h7m12 0h7m0 0h15m3 0h20m12 0h7m-7 0h17m15 0h7m3 0h2M94 223h12M138 224h20M22 226h8m68 0h16m4 0h10m1 0h10m-1 0h8m130 0h14m0 0h10M141 227h11m0 0h10m20 0h14M0 228h2m52 0h8m58 0h16m14 0h20m14 0h16m0 0h6M32 230h15m19 0h2m105 0h7m1 0h8M68 231h17m117 0h6M228 232h12m26 0h2M182 233h8m2 0h9m45 0h4m60 0h12M11 236h7m120 0h4m52 0h6m38 0h10m46 0h6m4 0h2m14 0h12m0 0h19M240 237h8M190 238h14m0 0h19m91 0h9M138 239h6m4 0h4m96 0h7m3 0h13m70 0h11M148 240h18m9 0h7m0 0h14m176 0h6M50 241h6M136 243h20m28 0h8M132 244h2m53 0h2M194 246h15m10 0h18m0 0h9m0 0h5m16 0h7m14 0h2M116 248h20m18 0h15m14 0h3m58 0h8m50 0h11M122 249h12m26 0h10m1 0h7m22 0h2"/></defs>
<use href="#A2_3" stroke="#e65440" stroke-width="1.6" stroke-opacity="0.34"/>
<defs><path id="A2_4" d="M0 0h13m0 0h3m18 0h9m0 0h14m0 0h18m3 0h20m90 0h10m88 0h11M90 3h14m0 0h12m0 0h6m5 0h3m16 0h8m56 0h4M294 6h14M136 7h2m23 0h16m2 0h11m22 0h15M196 11h7m0 0h11m0 0h8m0 0h6m18 0h14M122 12h6m46 0h2M58 13h14M156 15h13m0 0h3m8 0h8M50 16h16m113 0h3m0 0h5m4 0h1m166 0h13M106 17h12m0 0h4m150 0h6M189 18h9M12 20h2m161 0h9m32 0h4m28 0h15M278 21h13M100 22h6m44 0h14m0 0h7m0 0h19M316 24h16M172 25h9M217 26h19m0 0h10m0 0h2M193 27h4m161 0h20m2 0h4M229 29h7M144 30h4M219 32h8M246 33h11M122 34h4m49 0h4m0 0h4M191 36h5m1 0h8m5 0h4m0 0h1m145 0h15m7 0h2M141 37h1m194 0h11m0 0h9M174 38h8m3 0h9m60 0h7m0 0h19M50 39h12M186 41h7M0 44h17m0 0h11m60 0h6m160 0h6M106 46h2m76 0h4M44 47h7m277 0h13m0 0h15M326 49h19m19 0h6M60 52h5m12 0h5m0 0h15m8 0h13m19 0h17m2 0h9m8 0h17m1 0h19m14 0h6m-1 0h5m0 0h10m1 0h7m-1 0h5m14 0h7m2 0h9m1 0h10m15 0h16m13 0h14m18 0h8M10 55h6m164 0h11M202 56h6M178 57h2M90 58h6m54 0h17m1 0h16m0 0h3m1 0h10m0 0h7m0 0h3M194 59h5m45 0h18m5 0h5M228 61h8m25 0h5M181 62h10m-9 0h7m0 0h13m8 0h11m12 0h12m0 0h1M202 65h18M194 66h8m4 0h10m0 0h16m0 0h2M118 67h13m4 0h4m29 0h2m9 0h8M180 68h8m-8 0h9m0 0h8m93 0h6M197 69h7m2 0h5M166 73h8m0 0h16m60 0h11M152 75h16m166 0h7m0 0h20M206 76h8m28 0h8m20 0h10M165 78h8m9 0h4M20 80h17m0 0h7m34 0h8m48 0h8m18 0h8m0 0h12m15 0h16m71 0h7m0 0h3M134 82h19m0 0h11m2 0h16m20 0h7m0 0h3M174 84h6M196 85h14M158 86h16m18 0h15m0 0h10m-1 0h12M46 87h12m-1 0h7m0 0h9M180 91h8m0 0h2M126 92h4m90 0h12m-1 0h6M33 93h11m30 0h19m0 0h6M100 95h7m0 0h5M182 96h18M164 97h7M25 98h2m219 0h14M100 99h11m0 0h10m0 0h7M152 100h10m72 0h12M180 102h12M278 104h17m0 0h18M152 105h18m0 0h16m1 0h7M199 106h3m1 0h1m68 0h13m0 0h15M154 107h2m78 0h13M185 109h3m10 0h9M193 112h18m0 0h14m57 0h12m0 0h4M100 115h9m61 0h8m32 0h4m96 0h4m4 0h8M196 116h10m6 0h20m0 0h7m3 0h14m3 0h18m1 0h4M316 117h6M176 120h7m0 0h5m10 0h4M125 122h10m0 0h11m3 0h9m4 0h17m0 0h2M255 124h3M24 125h14m11 0h11M150 126h12M110 128h4M140 129h8m8 0h18m0 0h6m84 0h18m0 0h8m3 0h9M202 130h4M179 131h13M21 134h12m150 0h5m4 0h9M98 135h18m0 0h10m16 0h2M32 136h14M169 137h9m1 0h8m2 0h3M340 139h2M177 140h7m166 0h10M184 142h7m11 0h1M182 145h2m154 0h4M129 147h9M178 150h7M202 151h2M186 153h2M76 154h10m12 0h10m92 0h6m96 0h16m0 0h19M88 157h8M189 158h8M68 159h6m4 0h8m0 0h14m56 0h10m4 0h11M58 160h19m0 0h5M22 161h19m3 0h17M187 162h10m19 0h4m34 0h9m2 0h5M336 167h6M286 169h8m12 0h7M98 170h7m163 0h12M13 171h18m0 0h9m125 0h2m104 0h10m47 0h15m0 0h5M240 172h16m0 0h10m4 0h7m0 0h8m3 0h17m0 0h12m2 0h3M282 173h10M104 174h7m113 0h5m-1 0h10M0 177h7M178 178h10m0 0h19M189 179h9m-1 0h6M134 180h18m0 0h16M180 181h4m0 0h10m0 0h7m0 0h9M202 183h10m11 0h1m26 0h12m106 0h2M0 185h9m0 0h10m179 0h16m0 0h4M152 186h2m218 0h12M190 187h14M126 188h17m-7 0h11m-4 0h10m-6 0h9m-1 0h19m-18 0h13m1 0h6m-2 0h4m-2 0h8m-6 0h9m-8 0h9m6 0h19m6 0h10m0 0h19m-8 0h15m-7 0h17m-9 0h7m14 0h15m11 0h7m0 0h5m57 0h12M28 192h14m296 0h19M140 193h20m52 0h11m0 0h19m0 0h13m-1 0h10m4 0h17M204 194h9m0 0h8m0 0h14m1 0h10M187 195h3m6 0h6m1 0h7M180 197h16m8 0h6m0 0h7m0 0h5M122 198h19m0 0h11m82 0h18m0 0h7m0 0h17m0 0h10m1 0h11m0 0h6m16 0h17m0 0h15m0 0h2M244 204h2M180 205h4m-4 0h12m0 0h10m20 0h16m6 0h12m84 0h6M112 206h20m0 0h13m27 0h13m13 0h17M180 207h4M303 210h4M44 213h8m48 0h8m86 0h4m72 0h8M40 214h12m2 0h4m46 0h17m84 0h10m59 0h2m10 0h4M194 215h17m2 0h6m10 0h15m0 0h8M38 216h13m137 0h7m-1 0h3M326 217h19m1 0h7m22 0h5M186 218h6M180 219h7m19 0h8m110 0h10M57 220h9m0 0h10m158 0h9M172 222h2M138 223h16M179 224h5m1 0h6M176 225h7m0 0h9M82 226h12m170 0h12M14 228h11m201 0h14M47 230h9M230 233h16m6 0h16m0 0h19m0 0h13m0 0h9m67 0h7M175 234h10m2 0h9m0 0h5M208 236h16m0 0h11M214 237h7M118 238h20m0 0h12m0 0h4M190 239h9m2 0h3m67 0h16m2 0h16m1 0h17M166 240h10m22 0h13m0 0h11m0 0h17m5 0h8M0 241h2M222 242h7m3 0h11m0 0h5M158 243h12M138 246h14m0 0h17m1 0h7m-1 0h8m2 0h8m14 0h9m0 0h17m0 0h8m0 0h2m8 0h15M280 247h15M88 248h9m0 0h18m267 0h2M76 249h17m0 0h9m6 0h10m60 0h17"/></defs>
<use href="#A2_4" stroke="#e65440" stroke-width="1.6" stroke-opacity="0.34"/>
<use href="#A2_1" stroke="#f4a38b" stroke-width="0.75"/>
<use href="#A2_2" stroke="#dd4c36" stroke-width="0.75"/>
<use href="#A2_3" stroke="#9c1719" stroke-width="0.75"/>
<use href="#A2_4" stroke="#5a0a0c" stroke-width="0.75"/>
</g></g></g>
<g transform="translate(594 227)">
<rect width="192" height="354.6" fill="#fdf4f0"/>
<rect x="82.6" width="26.9" height="354.6" fill="url(#band)" opacity="0.2"/>
<g filter="url(#soft)"><g transform="scale(0.5 1.4184) translate(0 0.5)" fill="none">
<path d="M243 0h30M200 1h22M247 2h14M85 3h31m227 0h13M282 4h19M294 7h15M308 8h33M139 11h55m169 0h13M235 12h5M88 13h57M30 16h43M361 18h23M22 20h33M0 22h214M128 24h108M232 25h13M79 26h37m187 0h8M93 27h7M222 28h3M0 30h50M169 31h215M256 34h110M158 35h171M25 36h11M240 41h107M216 43h11M33 44h74m220 0h57M284 45h15M216 49h50M292 51h9M4 52h210M66 54h48m-36 0h27m-27 0h119M339 55h24m-13 0h34M190 59h111M274 61h21M218 67h111m-23 0h17M144 68h77M118 70h54M78 73h44M218 75h46M0 76h246M104 83h40M0 84h362m-341 0h19m126 0h20M41 85h78m176 0h25m18 0h46M89 86h11M20 90h45M93 91h149M18 93h16M61 96h199M8 97h42M10 99h33M45 104h56M0 106h61M149 108h33M295 111h9M195 114h29M0 117h38M77 119h243m-166 0h73M0 121h187m-156 0h19M13 122h61M85 127h46M188 129h104m-37 0h61M326 130h4M121 131h30M353 133h31M143 134h133m13 0h41M8 135h38M250 138h35m-21 0h120M204 139h45M194 140h190M76 142h29m142 0h85M178 145h27M307 146h77M128 147h82M51 152h54M203 153h46M57 154h41m182 0h104M69 156h8M114 158h32M11 159h144M262 162h56m9 0h15M323 163h3M21 168h94m197 0h72M5 176h11m171 0h32M331 177h35M0 179h92M103 182h31m146 0h78m-49 0h34M94 184h64M66 185h25M75 190h24m-7 0h39M118 192h52m72 0h82M281 193h80M171 194h31M182 196h5M41 198h49M0 201h161m69 0h15M184 202h32M106 203h66M217 204h29M160 208h28M276 210h3M359 211h25M302 212h82M237 215h16M201 216h54M161 217h3m176 0h41M167 219h28M225 220h25m76 0h23M125 221h107M22 224h92M273 226h12M300 227h26M313 228h71M24 229h51M293 232h12M62 233h63M0 235h111M135 237h38M149 238h14M216 240h13M0 243h42M364 245h13M239 246h5" stroke="#fbe2d8" stroke-width="1.3"/>
<defs><path id="A3_1" d="M108 0h4m38 0h13m0 0h3M372 4h2M212 5h10M66 8h12M346 11h2M174 12h6m9 0h7m0 0h3m117 0h4M256 18h14m0 0h4M70 19h10m0 0h4m16 0h4M26 20h2m190 0h7m147 0h7M163 21h1M98 25h4M110 31h2M14 32h7M354 33h4M187 35h9m142 0h8M315 36h5M74 37h4m174 0h2M192 38h10M54 43h7m0 0h5M194 45h10M178 46h8m6 0h4M84 49h10m102 0h11m0 0h5m8 0h13m0 0h7M122 51h2M302 56h2M214 57h5m3 0h12m46 0h6M190 59h6m0 0h1M146 60h6m20 0h6m10 0h10M184 62h8m-4 0h2m5 0h1m4 0h8m4 0h9m2 0h5M160 65h2m28 0h4M282 67h2M364 71h8M191 72h7m120 0h2M80 73h2M138 77h13M183 78h9M186 79h6M176 80h6m1 0h7m4 0h2m68 0h9m5 0h8M111 85h12m-1 0h8m0 0h2m6 0h4m76 0h8m0 0h2M162 87h4m66 0h14m1 0h7m0 0h12M120 96h7m230 0h12M350 97h4m0 0h12M189 98h3M2 101h5m4 0h5M370 102h6M296 103h8m62 0h5m3 0h4M112 105h10m1 0h5m0 0h9M172 108h5m29 0h6m0 0h8M170 111h9m8 0h3m6 0h5M322 116h9M212 121h2m102 0h10M174 123h13m0 0h5m136 0h2M194 124h10M170 126h11M184 129h6M109 132h12m2 0h8M180 133h6M259 134h3M150 137h2M255 138h10m2 0h3M192 139h6m54 0h2M198 141h2M190 142h2M198 143h5m12 0h7M204 144h5m0 0h9M234 146h2M116 148h4M340 151h2M188 153h7m0 0h1m118 0h2M192 154h5m9 0h4m5 0h11m0 0h4m24 0h7M252 155h4m6 0h4M187 157h4M192 158h4M156 159h2M193 161h1M191 162h7m-1 0h1M195 163h5m94 0h4M174 164h2M40 166h2M142 167h4m42 0h4m152 0h8m0 0h4M189 171h4M284 173h12M189 176h4m1 0h1M194 178h5m4 0h13m164 0h4M150 180h2M254 183h6M324 190h10M112 192h13m237 0h4M154 194h4M186 195h8M192 201h5M170 204h4m11 0h8m147 0h4M354 205h2M0 206h7m0 0h11m0 0h4m162 0h3m0 0h4m0 0h4M152 208h6M230 212h2M187 214h9M336 215h4M134 217h7M20 220h10m342 0h2M68 222h5M132 226h12m57 0h3m28 0h6M206 227h5M162 229h12M354 231h2M236 232h2M156 233h2M248 236h10M312 238h6m10 0h10M16 239h7m0 0h3M12 240h4m19 0h5M187 245h3m90 0h2M276 246h4m0 0h8m22 0h2M208 247h2M108 249h2"/></defs>
<defs><path id="A3_2" d="M180 1h3m4 0h6M190 6h5m0 0h1M192 7h3M183 10h8m0 0h4M190 12h2m16 0h6M187 14h7m0 0h4M274 18h2M84 19h11m107 0h14m0 0h2M187 20h6m186 0h5M138 21h10m1 0h13M126 22h8m58 0h6M189 26h7M154 29h8M249 31h5M21 32h1M128 33h14m46 0h6M187 34h9m0 0h1M142 35h4M300 36h9m0 0h6M208 37h4M0 39h6M126 43h5M191 46h4m47 0h2m96 0h2M50 47h4M181 48h5m113 0h12M187 49h9M186 50h4M186 51h2m1 0h8M208 53h5M382 58h2M178 60h6m13 0h11m15 0h11m36 0h12M16 62h6M188 63h5M240 64h4M64 67h6m117 0h6M280 68h8M196 73h8m47 0h12M192 74h3M126 77h12M188 78h4M176 79h10M189 80h5M156 81h5M198 82h8M191 83h8M0 85h8m92 0h11m61 0h8M156 87h6m52 0h6M187 91h10M94 95h10M97 96h12m3 0h7m41 0h2m185 0h9M88 97h12m6 0h8m38 0h5M324 99h9M316 103h7m-1 0h8M198 104h4M137 105h8m-1 0h4M98 107h13m6 0h3m68 0h2M179 108h11M328 109h8M191 111h5m40 0h8M188 112h3m31 0h13m0 0h5M246 115h2M268 116h12M168 118h11m7 0h2M326 121h2M182 122h8M166 123h8M116 125h11m66 0h5M189 126h3M182 127h12m3 0h5m96 0h2M184 128h10M168 129h4m18 0h6M195 130h3M190 131h10M104 132h5m26 0h3m88 0h4M250 134h9M191 135h1M242 138h9M70 140h4M62 141h6m10 0h10M12 142h5m16 0h3m250 0h4m3 0h5m52 0h6M101 143h10m95 0h5M314 146h13M19 149h8m107 0h8m48 0h6m-4 0h11M89 154h5m82 0h4M180 155h9m0 0h11M187 156h10M191 157h7M186 161h5M98 162h2m232 0h8m30 0h9m0 0h5M187 163h8m75 0h5M189 164h6M189 165h6M192 166h5m-3 0h2M120 167h4m14 0h4m50 0h1M180 169h10m-3 0h5M330 170h10m6 0h2m28 0h6M194 171h2M274 173h10M113 177h5M92 178h6m0 0h4m87 0h4M192 179h2m143 0h6m0 0h5M146 180h4M81 181h10m99 0h6m-6 0h6M188 182h9M152 189h13m0 0h13m16 0h6m0 0h9M188 190h6M125 192h3m215 0h5m18 0h6M194 193h5M188 201h4M204 202h10m2 0h11M344 204h2M191 208h3m0 0h2M362 209h6M183 211h7m0 0h9m141 0h5M196 214h2M268 215h2M203 218h5M42 219h2M212 220h13M190 221h4M202 223h4M298 224h7m69 0h8M144 226h4m40 0h13m39 0h4M144 229h6m26 0h10m0 0h11m0 0h5m16 0h4M312 230h6m20 0h4M24 231h6m157 0h7M4 232h5m0 0h1m59 0h7m62 0h4m32 0h5M196 233h3M166 234h6M188 237h6M338 238h10m0 0h10m25 0h1M16 240h5m0 0h14m155 0h4M185 241h12m0 0h5M56 242h12m80 0h6m38 0h6m5 0h11m-1 0h8M8 245h6M260 246h4m25 0h5M149 249h3m42 0h10"/></defs>
<use href="#A3_2" stroke="#e65440" stroke-width="1.6" stroke-opacity="0.34"/>
<defs><path id="A3_3" d="M107 1h4m81 0h4M282 2h10M188 3h10M199 5h3M187 6h5m0 0h8M188 7h3M184 8h6M61 9h7M120 10h11m235 0h2M206 11h4M82 12h6M189 13h6M152 17h7m157 0h2M374 18h10M190 19h12M266 20h12M272 21h10M195 22h1M176 24h7M88 25h5m101 0h1M196 26h4m0 0h1m47 0h8M192 28h3m0 0h1m0 0h6M336 30h4M60 31h6m119 0h4m9 0h1M191 32h3M146 33h7m0 0h5M82 34h5M36 37h9m0 0h3m168 0h6m4 0h4m14 0h8M152 38h4M344 39h2M194 41h2m30 0h6m124 0h6m8 0h6M342 43h2M76 45h5m125 0h2m156 0h2M106 46h8m28 0h10m0 0h8m204 0h2M120 47h6m0 0h2m69 0h1M174 48h7m108 0h10m16 0h9M197 51h1M199 52h1M48 53h6m134 0h3m1 0h4m17 0h5M254 54h2M300 55h2M198 56h6m18 0h4m5 0h5M212 60h8m32 0h2m28 0h11M189 61h7m14 0h6M42 62h2m234 0h7m0 0h5m0 0h4m36 0h8M193 63h1M330 64h6M216 65h4M34 67h4m132 0h6m53 0h5m32 0h2M114 68h2m172 0h2M190 70h4M192 71h2M180 72h6M240 73h11M188 74h3M167 75h10M151 77h3m108 0h2M16 78h2m174 0h2m150 0h2M62 80h4m0 0h6m232 0h4m70 0h6M188 81h5M199 83h1M54 85h4m135 0h3M189 86h3M128 87h4M120 89h4m0 0h4m52 0h7m-2 0h9m2 0h2M78 91h10M193 92h6M178 93h12m110 0h8M79 94h3m103 0h7m0 0h4M104 95h11m0 0h9m4 0h4M150 96h6M100 97h6m3 0h5M335 99h11M24 101h5m173 0h4m4 0h12m19 0h12M304 103h11M366 104h7M187 105h9M111 107h6M108 108h2m202 0h4M154 109h10M179 111h8M364 113h8M174 115h12M194 117h2M172 119h4M188 121h3M194 122h2M352 123h2M72 124h2m102 0h6M184 126h5m0 0h11M92 127h9m0 0h10m2 0h3m58 0h5m9 0h4m32 0h13m85 0h2M70 128h8m116 0h3M90 129h2m42 0h13m0 0h7m130 0h7M187 130h8M140 132h2m172 0h6M190 133h6M124 134h2M187 135h4m5 0h5m10 0h1M10 140h2m258 0h6M68 141h5m15 0h2m100 0h9M19 142h13m167 0h6M111 143h6m0 0h9m57 0h6m158 0h5M189 145h4m159 0h7M210 146h4m88 0h12m18 0h2M28 147h4M20 148h8m160 0h7m-5 0h10m52 0h4M119 149h4m19 0h8m47 0h3m3 0h3m0 0h2M200 150h4m176 0h2M158 151h9M80 154h9m234 0h5m10 0h6M22 155h2m150 0h6M197 156h2M70 158h13M187 159h9m0 0h2M193 160h2M195 164h1M170 166h7m0 0h5M10 167h11m103 0h4M262 168h4M368 169h12M180 170h13m-7 0h7m0 0h3M190 172h4M152 176h6M206 177h13m16 0h5M244 179h2m80 0h11M86 180h4m78 0h2m25 0h6m41 0h2m89 0h11M57 181h11m6 0h7m11 0h7m81 0h4m0 0h6m128 0h8M197 182h1m30 0h2M152 184h8m26 0h6M188 185h9M142 186h6m42 0h4m24 0h2M187 187h7M186 188h5M178 189h8m22 0h4m2 0h4M36 190h7m0 0h4m108 0h7m0 0h10m3 0h13m146 0h13m0 0h1M187 191h6M198 192h5m12 0h3m114 0h11m12 0h3M340 196h2M246 197h2m40 0h4M191 198h7M186 200h6M196 202h3m107 0h6M90 203h12M170 205h8M64 206h11M0 209h6m238 0h4M152 211h7m40 0h9m0 0h8m16 0h10m103 0h7M122 212h2m230 0h10M190 215h5M0 216h2m183 0h7m0 0h2m19 0h2M127 217h7m7 0h5m67 0h2M46 218h10m136 0h11M188 219h6m80 0h4M280 220h14m0 0h9m0 0h5M34 221h10m0 0h4M76 222h6m96 0h2m156 0h13m2 0h5M218 223h4M14 224h4m122 0h8m14 0h2m46 0h8m87 0h9m44 0h4M380 225h4M28 226h8m34 0h12m102 0h2M122 227h6m61 0h8M76 229h4m5 0h7m94 0h4m-1 0h6M190 230h3M326 231h8M213 232h7m122 0h5M42 236h2m117 0h11m19 0h4m151 0h10M62 238h2m126 0h6m122 0h10m32 0h7m0 0h6m3 0h7M234 240h2M178 241h7M68 242h7m0 0h9m70 0h2m29 0h4M54 243h4M360 244h2M184 245h4M192 246h6m162 0h4M54 247h2m274 0h11m0 0h12M128 248h4M38 249h2m98 0h8"/></defs>
<use href="#A3_3" stroke="#e65440" stroke-width="1.6" stroke-opacity="0.34"/>
<defs><path id="A3_4" d="M48 0h6m128 0h4M12 1h4m330 0h2M276 2h6M198 3h1M188 5h11m129 0h4M376 6h2M264 8h2M40 9h8m0 0h12m127 0h9M187 11h4m0 0h3M88 12h10M195 13h2m51 0h2M148 15h6m0 0h6m0 0h8M188 16h4m0 0h4m116 0h6M166 17h2m21 0h4M366 18h4M186 21h8M190 22h5M104 24h5m2 0h1m71 0h5m26 0h11m153 0h4M185 25h10M46 26h2m96 0h5M230 28h4m108 0h9m0 0h3M189 31h8m3 0h10m26 0h12m9 0h3M194 33h2M87 34h5M320 35h2M226 36h6M62 37h4M106 38h10m0 0h2M186 39h4m2 0h1m45 0h2M178 41h4m6 0h5m39 0h2M0 42h7m3 0h6m0 0h7m107 0h6m0 0h13m1 0h6m100 0h4M156 43h10M212 45h4m98 0h4M198 46h6m0 0h8M96 47h6m92 0h3m69 0h8M170 48h4m102 0h13M298 50h6m0 0h6M100 52h13m0 0h5m71 0h10M40 53h6M188 54h5M158 55h8m22 0h6m0 0h1M246 56h8M187 58h8m0 0h3M240 60h12m82 0h7m0 0h1M192 61h8m118 0h11m41 0h8M132 62h12m0 0h9m1 0h8m82 0h5m5 0h4M157 66h1m58 0h3M220 67h7M284 71h10M144 73h2m42 0h4m0 0h5M166 74h10M186 75h9M170 77h4m4 0h11m0 0h3m28 0h13m0 0h8m71 0h4M334 80h2M98 81h6m57 0h3m29 0h1M40 82h9m0 0h1m124 0h4m10 0h10M88 83h2M142 84h6m0 0h2m41 0h5M8 85h6m66 0h10m94 0h4m0 0h4M82 86h6M0 89h2M186 92h5M185 93h6m-1 0h3m1 0h5m4 0h5M72 94h6M344 95h4m2 0h10M106 96h10m72 0h4m-1 0h4m0 0h4M113 97h8m-7 0h2m42 0h2m30 0h4M360 98h10m0 0h11M110 101h6m44 0h6m2 0h5m15 0h14m20 0h7m0 0h8m71 0h12M380 102h4M188 103h6m0 0h1M373 104h5M184 106h5m0 0h7M186 107h7m163 0h4M318 109h2M40 112h4m28 0h5m113 0h4m-3 0h5M240 113h2M124 115h4M116 116h14m116 0h2m128 0h4M185 117h7M36 118h8m135 0h7m70 0h2M188 120h8m184 0h4M191 121h1m168 0h2M188 122h6M329 124h1M203 126h9M169 127h5m18 0h4m0 0h1M78 128h6M190 129h10m150 0h2M14 132h6m148 0h4M185 133h5M189 134h3m0 0h3m-3 0h4m88 0h11m0 0h5M96 135h10m100 0h5m147 0h6M187 138h6m2 0h4M0 140h10m180 0h2m74 0h4M100 142h8m0 0h13m2 0h5m66 0h5m8 0h5m4 0h9M127 143h4m60 0h1m1 0h2m95 0h12m78 0h4M90 144h4M236 145h8m98 0h10m8 0h4M36 146h6m1 0h11m0 0h8m0 0h2M132 147h2M130 148h8m70 0h2M152 149h6m28 0h4m2 0h6m32 0h2M284 154h2m26 0h11m6 0h9M188 155h3m0 0h2M10 158h4m69 0h3m224 0h8M226 159h8m72 0h2M185 160h6M134 162h6M216 163h2M194 165h7m2 0h10m0 0h3M28 166h7m0 0h1m46 0h4M21 167h5M194 169h6m4 0h4m138 0h6M278 170h4m5 0h5M193 172h1m8 0h6m4 0h2M0 173h10m136 0h4M12 174h2m146 0h4m22 0h6M112 176h6m114 0h2M219 177h5m2 0h9M64 179h6M64 180h5m115 0h2m3 0h6m1 0h2m129 0h6m41 0h5M46 181h11m11 0h6M72 182h6m124 0h2M196 185h1M170 187h4M192 188h4M186 189h4M164 190h9M62 192h2m139 0h11m14 0h4m2 0h2m111 0h8M152 193h6M191 194h6m2 0h1M182 196h8M185 197h9m0 0h1M270 198h2M189 200h5m0 0h1M30 202h10m0 0h2m148 0h4m-4 0h4m33 0h11M310 204h7M186 205h7m1 0h5m87 0h12M75 206h7M378 209h6M187 210h6m0 0h5M159 211h12m-1 0h13m6 0h5M184 212h12M72 214h12M212 215h2M124 216h12m0 0h8M158 217h2M162 218h8M92 220h2m131 0h5m124 0h8m0 0h6M48 221h10M196 222h2m4 0h12M222 223h8M190 225h6M116 227h4m66 0h3M254 229h8M315 231h5m18 0h4M58 232h11m115 0h6m-6 0h8m1 0h4m-3 0h6m4 0h10M96 233h13m0 0h1m77 0h10M152 236h9m11 0h4M183 240h5M191 242h3m86 0h4M191 245h13M84 246h8m0 0h6m0 0h5m2 0h5M312 247h1m5 0h12"/></defs>
<use href="#A3_4" stroke="#e65440" stroke-width="1.6" stroke-opacity="0.34"/>
<use href="#A3_1" stroke="#f4a38b" stroke-width="0.75"/>
<use href="#A3_2" stroke="#dd4c36" stroke-width="0.75"/>
<use href="#A3_3" stroke="#9c1719" stroke-width="0.75"/>
<use href="#A3_4" stroke="#5a0a0c" stroke-width="0.75"/>
</g></g></g>
<g transform="translate(839.2 227)">
<rect width="192.6" height="356.3" fill="#fef6f2"/>
<g filter="url(#soft2)"><g transform="scale(0.5 1.4252) translate(0 0.5)" stroke-width="1.05" fill="none">
<path d="M172 0h18m74 0h2m94 0h19M128 1h29m-6 0h34m-25 0h4m12 0h15m4 0h3m-3 0h57m4 0h14m70 0h22M23 2h32m5 0h78m11 0h66m8 0h4m4 0h4m2 0h9m1 0h3m55 0h14m3 0h8m2 0h22m5 0h4M27 3h4m0 0h106m-104 0h79m37 0h28m-3 0h39m-38 0h4m0 0h23m5 0h10m-2 0h4m14 0h19m52 0h18m5 0h32M26 4h71m-65 0h14m1 0h26m2 0h53m-31 0h17m-12 0h6m70 0h4m37 0h3m109 0h5M29 5h59m4 0h19m50 0h23m3 0h7m13 0h6m166 0h6M26 6h23m0 0h40m0 0h2m4 0h2m-2 0h12m5 0h18m3 0h16m0 0h36m-22 0h23m20 0h4M28 7h28m-12 0h94m-82 0h2m3 0h18m3 0h13m70 0h19m-5 0h33m-26 0h4m2 0h14m-1 0h4m21 0h20M91 8h4m4 0h47M49 9h30m0 0h4m0 0h29m33 0h38m12 0h34M69 10h11m4 0h7m10 0h75m5 0h8m2 0h2m184 0h8M0 11h8m117 0h5M0 12h6m326 0h35m2 0h8m5 0h3M179 13h35m118 0h18m0 0h24M189 14h21M189 15h15m-7 0h8M174 16h6m3 0h3m3 0h2m-1 0h24m-18 0h18M175 17h14m-8 0h22m-10 0h13m4 0h2M139 18h26m82 0h20m78 0h24M160 19h35m63 0h5m83 0h4M35 20h16m5 0h62m4 0h5m14 0h66m-23 0h4M47 21h68m110 0h6M71 22h25m0 0h23m1 0h2m0 0h47m92 0h2M69 23h87m109 0h2m100 0h5M55 24h33m0 0h89m0 0h16m-10 0h17m-5 0h14m20 0h6m38 0h53m3 0h6M52 25h38m5 0h52m-45 0h3m28 0h6m4 0h2m4 0h2m-1 0h10m-6 0h19m-9 0h2m3 0h11m4 0h9m-1 0h10m-7 0h3m3 0h14m2 0h54m-41 0h6m95 0h6m42 0h6M325 26h5M210 27h4m7 0h29m5 0h4m6 0h2m1 0h64m0 0h20m2 0h26m-1 0h5M156 28h16m47 0h9m-6 0h20m-11 0h26m10 0h74m-5 0h6m-1 0h28m4 0h6M348 29h5m8 0h24M145 30h19m4 0h33m157 0h6m5 0h15M0 31h11m3 0h20m1 0h3m108 0h42m-10 0h56m-44 0h5m164 0h20m-1 0h7M173 32h20m-18 0h5m-4 0h23m3 0h13m46 0h6m4 0h20m10 0h2m4 0h16m2 0h22m1 0h6m21 0h8M27 33h9m2 0h25m5 0h13m96 0h52m20 0h23m2 0h2m3 0h6M0 34h6m76 0h37m4 0h17m2 0h2m48 0h56m-48 0h13m38 0h13M0 35h20m-17 0h6m67 0h8m4 0h10m3 0h23m-2 0h2m22 0h104m-62 0h18m-11 0h27m5 0h8m2 0h19m82 0h32M0 36h15m75 0h13m4 0h10m26 0h49m2 0h45m-43 0h40m-29 0h15m4 0h2m4 0h10m-2 0h2M27 37h95m0 0h69m24 0h102m5 0h16M27 38h8m82 0h65m2 0h5m8 0h23m-2 0h15m4 0h27m3 0h42m22 0h6m8 0h14M177 40h2m14 0h40m80 0h4M178 41h2M165 42h20m0 0h10m2 0h2m80 0h32m4 0h5m3 0h2m3 0h57M53 43h30m-17 0h2m71 0h36M191 44h27M11 45h4m74 0h10m38 0h21m4 0h10m5 0h42m12 0h20m4 0h15m0 0h21M0 46h29m-22 0h4m40 0h132m-96 0h10m72 0h38m-29 0h19m-10 0h32m-19 0h13m6 0h6M0 47h55m4 0h48m3 0h25m0 0h3m2 0h54m-17 0h13m100 0h45m3 0h15m3 0h29M3 48h81m3 0h85m3 0h37m-33 0h29m-17 0h12m91 0h38m2 0h2m4 0h45M4 49h94m2 0h70m3 0h15m-9 0h16m82 0h5M104 50h10m60 0h23m2 0h51m5 0h50m4 0h16m2 0h5m4 0h24M131 51h72m-19 0h15m4 0h4m144 0h4M37 52h34m109 0h21M34 53h21m3 0h2m111 0h5m2 0h15m-15 0h29M86 54h4m72 0h34m14 0h49m2 0h5m0 0h18m80 0h3m4 0h14M178 55h5m-2 0h35m73 0h26m39 0h6M122 56h3m24 0h68m-46 0h44m108 0h26M16 57h2m2 0h30m-12 0h4m12 0h4m3 0h154m-105 0h5m24 0h4m77 0h18m52 0h6M177 58h29m86 0h5M63 59h2m116 0h44M90 60h22m36 0h25m3 0h19m-18 0h7m2 0h14m2 0h12m118 0h53m-6 0h2M39 61h30m260 0h5m1 0h23M10 62h4m151 0h46m-35 0h10m5 0h8m2 0h15M168 63h46m-43 0h20m-14 0h36m5 0h6M38 64h54m16 0h7m0 0h13m30 0h3m0 0h60m-55 0h60m-52 0h34m13 0h22m0 0h17M82 65h48m3 0h19m42 0h82m5 0h3m58 0h17m0 0h15M79 66h75m-70 0h29m4 0h21m70 0h32m0 0h34m94 0h17M14 67h50m12 0h61m-51 0h47m-31 0h15m0 0h13m8 0h39m0 0h19m52 0h6m0 0h88M11 68h3m0 0h43m29 0h24m1 0h19M49 69h4M157 70h18m138 0h8M33 71h5m20 0h66m54 0h29m-27 0h16m4 0h26m2 0h54m62 0h26m4 0h4m4 0h3M55 72h2m122 0h13M118 73h21m3 0h52m-5 0h41m-34 0h42m0 0h36m19 0h4M26 74h5m37 0h44m72 0h18m-18 0h53m0 0h29M2 75h52m63 0h2m45 0h44m6 0h52M0 76h37m-36 0h44m-8 0h125m-113 0h4m113 0h21m29 0h9m4 0h37m53 0h27m4 0h16m0 0h20M0 77h39m2 0h3m3 0h6m59 0h26m32 0h16m0 0h18m-16 0h9m3 0h30m-17 0h54m23 0h2m18 0h14m-5 0h9m-2 0h19m-12 0h38m-21 0h35M57 78h4m12 0h26m18 0h6m38 0h34m2 0h12m4 0h8m108 0h16m38 0h2M185 79h15m4 0h18m2 0h13m24 0h10M248 80h3M147 81h2m33 0h36m-11 0h20m5 0h14M86 82h10m104 0h40m-33 0h9m4 0h27m105 0h33M196 83h15m-3 0h31m-24 0h10m45 0h6M0 84h18m3 0h2m2 0h21m3 0h35m78 0h49m-38 0h5M0 85h24m276 0h4m32 0h34M297 86h4m49 0h16M151 87h6m3 0h4m1 0h41m49 0h12m2 0h6m3 0h13m3 0h4m54 0h17M123 88h8m12 0h48m16 0h24m54 0h24M370 89h6M0 90h7M2 91h7m162 0h19m130 0h2m17 0h6m31 0h4M0 92h7m0 0h2m15 0h3m82 0h35m135 0h24m2 0h12m2 0h11M0 93h4m-4 0h7m-3 0h16m96 0h8m3 0h35m117 0h39m24 0h13m4 0h5m6 0h15M0 94h8m25 0h6m73 0h23m-18 0h38m-20 0h23m4 0h22m2 0h20m-19 0h20m-1 0h2m3 0h7m42 0h26m-11 0h14m-3 0h99m-94 0h14m34 0h21m13 0h11M0 95h7m13 0h18m47 0h3m38 0h6m60 0h10m71 0h26m-7 0h26m40 0h27m-16 0h9M1 96h6m125 0h3m56 0h10m90 0h9m2 0h5m47 0h9m-3 0h3m6 0h6m-5 0h8M66 97h30m93 0h24m23 0h5m17 0h26M197 98h18M21 99h2m4 0h80m-21 0h4m27 0h13m5 0h22m2 0h32m5 0h18m89 0h6M32 100h39m0 0h3m5 0h10m2 0h21m-8 0h5m4 0h14m2 0h10m1 0h18m5 0h19m4 0h14m112 0h34M91 101h2m4 0h30m3 0h3m50 0h35m-21 0h6m174 0h8M88 102h36m178 0h2m75 0h6M90 103h2m3 0h30m45 0h17m0 0h20m-18 0h5m-5 0h5m1 0h31M172 104h25m5 0h34m34 0h16m3 0h35m42 0h2m0 0h17M9 105h9m4 0h50m4 0h21m14 0h78m-15 0h53m-46 0h18m-8 0h8m2 0h10m152 0h3m3 0h8M113 106h13m1 0h3m-1 0h61m-22 0h26m-21 0h23m-1 0h5m-1 0h13m118 0h12m24 0h2m3 0h10M49 107h43m5 0h28m4 0h24m3 0h2m0 0h27m-12 0h13m-10 0h28m23 0h46m5 0h17m2 0h31m-1 0h7m-6 0h3m34 0h13M49 108h6m3 0h14m4 0h2m3 0h19m4 0h34m0 0h2m0 0h11m-9 0h8m5 0h7m12 0h25m-24 0h20m9 0h24m2 0h22m3 0h35m-26 0h6m22 0h8m-5 0h3m6 0h8M0 109h4m0 0h2m18 0h22m4 0h21m2 0h73m0 0h2m8 0h14m18 0h16m0 0h2m-1 0h2m5 0h2m28 0h36m40 0h3M353 110h4M49 111h50m2 0h70m20 0h28M127 112h3m42 0h19m-6 0h31m-21 0h41m64 0h40M115 113h3m177 0h50M0 114h2m43 0h3m34 0h2m0 0h65m21 0h19m2 0h15m32 0h20m58 0h4m32 0h28M0 115h2m82 0h20m3 0h40m22 0h9m-8 0h21m-11 0h4m3 0h18m30 0h16M36 116h11m5 0h14m130 0h21m-17 0h24M3 117h38m16 0h13m3 0h29m-16 0h4m108 0h18m-11 0h22M4 118h20m144 0h29m0 0h7m2 0h3m3 0h53m4 0h34m3 0h3m0 0h7m-3 0h5M35 119h60m4 0h56m4 0h29m1 0h12M190 120h52m0 0h98m34 0h11M371 121h14M375 122h10M191 123h2m5 0h20M60 124h5m82 0h2m2 0h39m2 0h5m2 0h6m20 0h10M136 125h2m5 0h108m0 0h6m3 0h18m43 0h5M72 126h2m98 0h41m153 0h19M103 127h11m2 0h83M180 128h30M180 129h25m-24 0h2m148 0h2m26 0h6m5 0h3M85 130h21m4 0h141m80 0h2m29 0h11M88 131h16m4 0h12m3 0h123m-115 0h13m2 0h29m-18 0h43m-25 0h8m40 0h18m-17 0h5m15 0h83m35 0h11M90 132h3m87 0h32M189 133h30M0 134h20m18 0h12m5 0h6m35 0h4m44 0h8m-3 0h2m17 0h30m-4 0h6m1 0h17m20 0h139m2 0h6M145 135h6m0 0h50m-30 0h42m30 0h12M204 136h6m16 0h29m0 0h16m3 0h4M67 137h2m104 0h24M52 138h28m100 0h48m108 0h6M37 139h12m0 0h40m34 0h2m4 0h10m-1 0h11m44 0h22m14 0h15m5 0h34m2 0h32m48 0h20M0 140h15m24 0h23m2 0h2m3 0h13m19 0h2m2 0h12m36 0h21m5 0h4m2 0h11m-4 0h3m1 0h49m-13 0h22m-9 0h47m-36 0h71m-30 0h3m4 0h2m1 0h4M36 141h41m28 0h20m0 0h7m5 0h32m-12 0h41m-27 0h134m-75 0h99M167 142h28m135 0h12M165 143h4m5 0h18m4 0h2m2 0h12m103 0h16M0 144h75m0 0h10m34 0h3m1 0h3m0 0h16m2 0h61m-44 0h27m-15 0h13m6 0h5m4 0h13m-7 0h14m130 0h24M23 145h17m65 0h2m58 0h13m-5 0h4m5 0h39m-11 0h12m129 0h21M82 146h18m0 0h4m4 0h2m2 0h62M82 147h17m4 0h61m-11 0h5m19 0h24m5 0h23m4 0h30m3 0h23m2 0h24m-7 0h4m4 0h7m3 0h11M34 148h5m115 0h5m4 0h12m4 0h3m0 0h17m0 0h19M144 149h36m-25 0h49m-20 0h102m-93 0h29m65 0h4m-4 0h19m44 0h27m4 0h5M7 150h20m116 0h42m-7 0h26m11 0h3m4 0h11m40 0h16M48 151h44m70 0h24m-10 0h34m-16 0h20m148 0h4m0 0h16M170 152h39m37 0h8m5 0h5m3 0h9m-3 0h2m49 0h5m1 0h16M178 153h55m3 0h7m2 0h26m1 0h46m2 0h26m32 0h3M226 155h10m4 0h2m10 0h62M122 156h26m45 0h18M193 157h16m-9 0h20m4 0h4m34 0h5m4 0h27m52 0h24M105 158h39m2 0h5m24 0h32m-16 0h26m-5 0h2m5 0h4m4 0h3m4 0h18m3 0h28m0 0h102M35 159h60m8 0h39m-27 0h94m-55 0h4m17 0h19m3 0h33m4 0h112m-107 0h16m5 0h66m17 0h31m-29 0h23m6 0h9m-8 0h3M168 160h14M100 161h19m3 0h6m20 0h37m13 0h16M222 162h3M175 163h10m5 0h25m147 0h6M75 164h17m5 0h20m3 0h2m0 0h25m2 0h8m24 0h36m38 0h3m3 0h8M8 165h5m143 0h48m0 0h5m0 0h13m30 0h6m3 0h43M67 166h22m78 0h8m28 0h14m123 0h6M159 167h46m-43 0h36M138 168h40m14 0h31m-24 0h19M193 169h134m-131 0h28M0 170h11m4 0h21m79 0h4m22 0h34m3 0h15m-1 0h3m-2 0h18m-14 0h21m-20 0h114m-71 0h24m3 0h7M0 171h8m146 0h16m3 0h51m-41 0h25m18 0h66m58 0h14m5 0h17M104 172h18m-8 0h5m7 0h66m-13 0h29m-14 0h12m2 0h61m2 0h31m28 0h15m4 0h35M158 173h34m5 0h12m-1 0h25m2 0h4m4 0h43m42 0h57M163 174h48m62 0h33m1 0h9M0 175h7m108 0h7m3 0h14m1 0h7m3 0h26m1 0h50m-48 0h35m13 0h13m-5 0h6m102 0h2m5 0h35M0 176h7m-7 0h59m2 0h8m-1 0h6m41 0h2m3 0h96m-60 0h28m4 0h43m15 0h31m59 0h32m-28 0h2m2 0h39M7 177h17m4 0h17m96 0h14m22 0h24m-19 0h46m67 0h3M179 178h30m11 0h2m71 0h5M128 179h2m28 0h50m-45 0h36m13 0h13m3 0h7m4 0h49m3 0h20m4 0h26m4 0h40m-37 0h2M0 180h9m3 0h85m250 0h6M53 181h23m3 0h10m4 0h9m0 0h12m4 0h19m54 0h6m80 0h17m2 0h35m4 0h17m4 0h11m3 0h16M99 182h54m0 0h26m100 0h81M7 183h21m2 0h45m2 0h22m10 0h3m73 0h28m110 0h2m4 0h21M197 184h27M5 185h4m2 0h6m140 0h34m2 0h18m28 0h72M32 186h10m128 0h48m-30 0h40m-8 0h2m2 0h7m5 0h36m50 0h44m5 0h4m2 0h8M159 187h154m-22 0h3m67 0h24M106 188h2m64 0h2m14 0h6m0 0h24m40 0h40M95 189h44m-21 0h4m29 0h5m136 0h4m67 0h5M26 190h3m5 0h36m0 0h78m-52 0h46m6 0h8m36 0h34M24 191h48m-45 0h36m13 0h26m0 0h22m17 0h31m0 0h34m-30 0h24m-5 0h2m5 0h13m4 0h10M21 192h6m4 0h8m104 0h26m6 0h3m165 0h30m1 0h12M148 193h104m124 0h9M0 194h8m5 0h28m4 0h9m33 0h18m2 0h5m32 0h5m0 0h40m-26 0h12m2 0h14m1 0h30m-5 0h8m-3 0h15m30 0h18m88 0h9M85 195h18m-8 0h11m1 0h63m-23 0h9m2 0h27m-14 0h24m-6 0h21m-21 0h27m-19 0h26m-3 0h8m19 0h18m0 0h9m0 0h6m57 0h48m-10 0h4M0 196h10m58 0h72M67 197h74m2 0h37m1 0h18m2 0h5m157 0h2M206 198h28m57 0h4m15 0h20m38 0h14M137 199h15m4 0h15m5 0h84m-81 0h29m-13 0h5m5 0h29m75 0h3m5 0h7M103 200h32m0 0h32m6 0h26m-21 0h35m-12 0h2m4 0h10m4 0h9m49 0h10m3 0h25m10 0h24M12 201h42m128 0h82M0 202h36m3 0h12m126 0h36m-30 0h3M0 203h8m3 0h29m4 0h27m3 0h20m4 0h14m4 0h23m4 0h15m2 0h88m-29 0h4m29 0h64m2 0h8M2 204h44m0 0h18m5 0h5m5 0h3m75 0h38M0 205h20m0 0h43m1 0h4m72 0h2m4 0h2m2 0h41m-25 0h6m70 0h5m0 0h14M163 206h18m-11 0h38m19 0h76m18 0h16m36 0h12M143 207h26m4 0h2m5 0h29m-22 0h16m27 0h81M95 208h42m2 0h26m-12 0h22M16 209h156m8 0h2m3 0h15m4 0h26M0 210h23m2 0h31m124 0h12m3 0h26m71 0h12m5 0h20m4 0h17M187 211h28m76 0h4M373 212h12M38 213h3m0 0h21m106 0h57m-36 0h24m16 0h32m-21 0h4m17 0h41m56 0h10m14 0h3M0 214h31m2 0h5m3 0h17m112 0h22m-20 0h3m19 0h50m-42 0h15m41 0h4m102 0h2m3 0h13M0 215h2m170 0h9m7 0h29m65 0h39m0 0h5M0 216h2m141 0h105m4 0h21m8 0h25m2 0h5m28 0h2M11 217h6m142 0h48m-12 0h2m96 0h36M12 218h6m48 0h26m4 0h9m0 0h2m0 0h49M10 219h6m157 0h4m-1 0h27M0 221h68m56 0h18m8 0h31m0 0h9m-9 0h30m-19 0h12m4 0h9m2 0h9m0 0h32m16 0h8m68 0h18M53 222h14m60 0h52m3 0h19m7 0h4m107 0h37M3 223h5m0 0h7m66 0h22m-1 0h3m1 0h3m20 0h47m140 0h7m0 0h16m2 0h13M6 224h11m109 0h48m-20 0h3m156 0h31m33 0h5M210 225h6m52 0h2m0 0h28m18 0h13m1 0h17m1 0h2m28 0h7M0 226h30m4 0h31m2 0h15m52 0h18m22 0h17m76 0h25m4 0h25m-8 0h27m-19 0h3m2 0h14m38 0h7M149 227h12m194 0h30M0 228h5m17 0h2m99 0h15m5 0h11m-1 0h2m3 0h6m-6 0h46m-7 0h3M0 229h4m40 0h2m74 0h16m0 0h8m10 0h11M163 230h29m-8 0h2m174 0h14m5 0h3M152 231h45m-43 0h20m0 0h12m18 0h10m0 0h55m0 0h27m14 0h30m2 0h2m18 0h20M179 232h6M0 233h9m24 0h47m2 0h24m4 0h12m3 0h13m0 0h16m13 0h17m-15 0h16m-5 0h5m2 0h35m0 0h12m83 0h14M34 234h14m4 0h10m2 0h8m2 0h16m0 0h62m-19 0h13m4 0h17m0 0h12m-9 0h33m-23 0h5m92 0h108m-69 0h5m4 0h3M36 235h23m4 0h43m3 0h18m7 0h14m-1 0h51m-31 0h9m6 0h5m-1 0h49m0 0h47m-4 0h3m2 0h91m-58 0h11m7 0h9m3 0h39M0 237h6m162 0h63m-49 0h3m-1 0h27m22 0h13M49 238h28m2 0h57m4 0h5m3 0h20m-1 0h4m0 0h7m-5 0h76m-71 0h18m11 0h8m154 0h16M48 239h9m3 0h2m3 0h97m-1 0h46m-42 0h13m-7 0h9m-1 0h21m2 0h28m-25 0h6m5 0h21m-3 0h44m74 0h33m-19 0h17M0 240h4m2 0h2m5 0h3m24 0h2m5 0h9m3 0h20m0 0h22m3 0h19m3 0h20m32 0h41m5 0h8m110 0h22m14 0h2M53 241h10m3 0h9m66 0h2m0 0h40m6 0h18m84 0h32M200 242h5M227 243h22m4 0h7m4 0h17m60 0h20m0 0h6M53 244h6m20 0h2m2 0h16m100 0h6m172 0h2m3 0h3M50 245h5m124 0h19m-3 0h6m60 0h5M145 246h9m3 0h20m54 0h5m1 0h22m2 0h5M0 247h6m4 0h52m-30 0h30m4 0h39m-26 0h113m-16 0h24m-5 0h110m-89 0h4m5 0h3m4 0h11m0 0h22m3 0h16m-12 0h4m36 0h8m2 0h48m-45 0h61m-16 0h15M0 249h22m-15 0h56m-53 0h6m54 0h30m3 0h70m-47 0h92m-37 0h112m-17 0h8m26 0h75m-73 0h17m0 0h13m-12 0h4" stroke="#6e0000"/>
</g></g></g>
<g transform="translate(92.3 871.6)">
<rect width="192.5" height="354.4" fill="#fdf1ec"/>
<rect x="82.8" width="27" height="354.4" fill="url(#band)" opacity="0.2"/>
<g filter="url(#soft)"><g transform="scale(0.5 1.4176) translate(0 0.5)" fill="none">
<path d="M42 1h74m75 0h20M76 2h33m129 0h4M0 3h34m244 0h70M0 4h102m154 0h87M1 5h22m339 0h23M110 6h28m224 0h23M34 13h30m162 0h68M251 15h28m94 0h5M167 17h31m17 0h29M0 18h88M34 19h34M17 20h232M224 21h20m46 0h47M235 22h9M253 23h39M254 25h131m-106 0h11M21 26h25m-6 0h81m-38 0h65M307 28h32M206 29h100M24 30h361m-258 0h73M244 31h56M263 32h72M0 35h85m240 0h60M195 36h5M1 37h213m-14 0h9M145 38h44M146 40h22M0 41h69m-6 0h25m25 0h161M51 42h9m160 0h11M94 43h203m-103 0h191m-164 0h114M316 44h21M0 49h82m126 0h177M50 50h110m167 0h18M123 51h48m109 0h105M198 53h44M246 55h58M207 56h31M144 57h79M0 58h343M202 59h183M217 60h49M277 61h108M137 63h146M266 64h29M42 66h2M0 67h163m55 0h5m20 0h2M113 68h46m9 0h24M298 71h43m-18 0h62M80 74h171M116 75h269M325 76h60M208 77h177M241 78h144M50 80h24m88 0h92m52 0h47M70 83h3M292 84h59M203 86h12M298 87h7M199 89h91M172 90h198M76 91h108m162 0h21M321 92h64M0 95h37m-23 0h29m233 0h24m-23 0h108M353 96h32M160 98h115m-60 0h41m70 0h28M211 99h14M246 101h139m-58 0h6M0 102h50m54 0h135M0 103h157M91 106h79M212 109h13m85 0h62m-19 0h32M18 111h27M316 114h4M14 117h10M130 118h138M69 120h12M0 121h41M305 123h80m-25 0h25M22 125h52m20 0h10M231 127h147M27 130h39M0 131h94m2 0h35M260 134h42m-28 0h53M322 135h63M53 136h19M7 138h63M45 139h25m48 0h10M66 142h92M149 143h27M273 145h50M166 146h155M235 148h5M14 150h212m-96 0h6M203 154h51m67 0h64M298 156h54m-51 0h74M203 158h71M132 160h16M100 164h3m233 0h39M141 166h104M326 168h47M46 169h147m154 0h11M136 171h47M177 172h183M0 173h153M109 174h70m-14 0h124m-103 0h5M41 175h343m-326 0h37m65 0h44M65 177h12M311 178h21M145 180h10m184 0h46M41 181h24m34 0h72m-33 0h62m-49 0h22m6 0h26M0 183h224m0 0h5M13 184h226m-74 0h77M233 185h5M106 186h162M214 187h171M45 188h179m-134 0h136m44 0h93m-15 0h37M291 190h69M306 191h79M54 192h3M109 193h48M33 194h110m-16 0h78M0 196h103M132 198h36m93 0h76M6 203h101M120 204h58M214 205h13M0 206h118m-118 0h219m-59 0h116M206 208h51M67 210h223M0 211h94m-84 0h95M147 213h40M0 214h314m-314 0h323M115 216h237M59 218h14m131 0h33m-31 0h10M64 220h33m48 0h14M148 221h144M136 223h55M78 224h196M297 226h20M278 227h47M196 228h27M304 230h69M189 231h137M129 233h190M31 234h9m25 0h76m57 0h49m76 0h20M233 235h30m4 0h84M313 236h27M75 238h10m127 0h67M7 239h6M90 241h131M91 242h72m-15 0h164M216 244h76m13 0h19m8 0h20M145 245h34M105 247h19m180 0h50M99 248h75m-62 0h34M18 249h23m29 0h50" stroke="#fbe2d8" stroke-width="1.3"/>
<defs><path id="B1_1" d="M186 0h6m2 0h4M179 1h10m20 0h4M188 3h8m0 0h4m16 0h3M158 11h12m0 0h8M183 12h9m0 0h1M190 15h4m8 0h4m1 0h4M144 16h14m0 0h12m0 0h11M51 17h14m124 0h10M197 26h4m33 0h18m0 0h4M0 27h11m177 0h6M139 29h8m0 0h14M301 32h3M382 37h3M194 39h15m0 0h9M200 43h3M9 45h10M186 49h10m0 0h1M187 50h9m4 0h3M70 52h9m0 0h14m23 0h19m0 0h14m-1 0h4M186 54h8m7 0h9m0 0h13M157 58h12M184 64h8m0 0h8M185 65h6M291 69h11m0 0h1M189 72h7m2 0h1M7 73h4m183 0h7M183 74h3m5 0h4m0 0h4m97 0h13m0 0h17M199 75h5m0 0h4m0 0h3M186 76h5m2 0h6m-1 0h7M12 78h6m21 0h14m134 0h4m3 0h9M180 82h8M191 83h7M122 84h21m0 0h14m29 0h6m14 0h2M253 86h22M176 88h8m0 0h6m0 0h7m0 0h3m1 0h4M204 91h9m0 0h13M200 92h15M186 94h4M53 95h8m3 0h9m6 0h13m0 0h9m8 0h19m10 0h9m5 0h16m4 0h16m40 0h18m0 0h10m0 0h17m-1 0h18m14 0h17M184 98h10m13 0h4m10 0h15m2 0h7M213 103h11M68 106h10m126 0h19m0 0h15M88 107h6m104 0h10M72 109h16m31 0h19m37 0h8m7 0h11m43 0h18m20 0h4M46 113h16m13 0h10m0 0h14m51 0h5m0 0h17m25 0h7M191 116h8M192 117h4M352 118h4M49 121h24m0 0h2M195 128h14m0 0h9m1 0h6M194 130h13m5 0h14m51 0h4m19 0h11m1 0h16M93 133h11m40 0h18m62 0h6m71 0h12m9 0h7m0 0h16M317 138h13M176 139h6m4 0h5M20 140h17m12 0h9m70 0h17m3 0h20m5 0h11M72 141h2M175 142h20m0 0h2m-2 0h7M206 146h1M53 147h14m-1 0h8m25 0h19m20 0h12m60 0h19M180 148h24M120 150h7m29 0h15m0 0h5m3 0h6m0 0h13m28 0h17m16 0h14M205 154h2M72 160h13m93 0h5m0 0h8m0 0h9M185 162h5M182 164h5m19 0h1M276 165h6M185 168h8m17 0h1M191 169h7m0 0h2M183 172h6m0 0h4m2 0h7m0 0h4M3 173h5m0 0h13m1 0h20m-1 0h8m0 0h7m14 0h4m13 0h13m0 0h8m0 0h17m5 0h9m28 0h8m0 0h15m3 0h13m-1 0h13m1 0h8m0 0h8m14 0h13m0 0h19m0 0h10m1 0h9m-1 0h7m0 0h15m4 0h18m0 0h15m0 0h6M191 174h18m0 0h17m0 0h6m0 0h9M185 175h7m1 0h4m9 0h8M104 180h19m80 0h9m73 0h9m60 0h2M190 184h4M19 185h11M226 186h2M137 187h9M183 188h9m6 0h5M96 190h4M79 192h18m0 0h11m9 0h19m0 0h11m0 0h14m1 0h9M30 196h11m0 0h5m0 0h12m64 0h9m0 0h13m17 0h15m15 0h15m36 0h19m10 0h7m0 0h15m2 0h19m2 0h15M186 197h6m9 0h2M185 199h10m185 0h5M192 200h12m4 0h7m0 0h7M345 203h11M272 204h13m0 0h11m24 0h17m-1 0h13m0 0h11m2 0h8m0 0h8M24 205h20m138 0h17m0 0h20M188 208h10M0 209h17m12 0h6m326 0h22M181 210h4m10 0h3m4 0h19M179 211h5M259 212h16M339 214h10M167 216h9m0 0h3M117 217h19m102 0h9M179 218h22m0 0h17m1 0h11M105 220h16m0 0h11m22 0h23m0 0h8M185 222h7m0 0h5m0 0h8m0 0h3M126 223h6m48 0h9m-4 0h3m0 0h7m0 0h8m-1 0h3m96 0h12m0 0h7M189 224h3M316 228h22m0 0h12M170 230h8m19 0h7M185 232h7m1 0h5M181 233h3m6 0h3M69 235h6m194 0h22M135 241h8m2 0h7m59 0h13m0 0h5m20 0h13M197 243h4M188 244h4M181 246h7M84 248h8m0 0h18m3 0h12m11 0h2"/></defs>
<defs><path id="B1_2" d="M203 3h4m2 0h7M194 5h6M70 6h8m55 0h17m107 0h6M185 7h8m-2 0h6M11 10h9M44 11h19m85 0h10M0 12h9m120 0h20M0 14h7m176 0h9m0 0h4M194 15h7M123 16h21M65 17h22m96 0h6m0 0h19m-9 0h4M180 18h8m7 0h4M61 21h19m0 0h19M180 23h12M193 26h4M137 27h2m37 0h9m-6 0h14M185 29h6m0 0h10M171 31h8M172 32h7m3 0h6m0 0h16m67 0h16m0 0h14M46 35h18m1 0h17m102 0h9M182 36h4m3 0h3M190 37h16m31 0h3M212 40h6m30 0h7m0 0h6m0 0h19M194 42h17M185 43h4M280 44h16m29 0h24m23 0h13M191 45h13M254 48h10M178 50h9m9 0h4M82 52h4m7 0h23m76 0h4M143 54h14m66 0h3m24 0h8m11 0h14M103 55h20m68 0h8m1 0h5M20 56h7m120 0h17m16 0h15m0 0h6M159 62h14M37 63h6m136 0h19m0 0h12M0 65h19m172 0h4M191 68h10M191 70h9M128 72h13m0 0h10M186 73h8M187 74h5m56 0h10m77 0h22m0 0h11m1 0h16M183 75h6m1 0h9M54 78h2m28 0h9m110 0h3M377 80h8M181 81h7m7 0h1M188 82h8M188 83h4m12 0h4m0 0h2M157 84h5m17 0h7M184 85h10m22 0h6M193 86h21m0 0h11M182 87h8m2 0h4M310 89h8M185 90h4m0 0h5m3 0h4m0 0h3M175 92h10m1 0h13M17 93h16m158 0h3M192 94h8m16 0h16m2 0h6M101 95h6m21 0h5m58 0h18m2 0h17m62 0h14M11 96h20M197 98h8m7 0h1M184 100h4M207 102h1M189 103h8m0 0h6m-1 0h4m-3 0h9M29 104h21m177 0h23M78 106h4m126 0h3M162 107h9m0 0h13m-1 0h7m-4 0h12m-8 0h7m11 0h18M277 108h6M47 109h20m21 0h14m38 0h16m0 0h15m12 0h7m-6 0h6m0 0h7m-5 0h21m0 0h3m18 0h6m26 0h12m0 0h5m3 0h18m9 0h12m-12 0h23m-7 0h16m-9 0h21m-10 0h10m0 0h5M198 111h6M181 112h9m0 0h3M36 113h5m21 0h13m30 0h10m16 0h17m29 0h15m15 0h8m0 0h17m4 0h4M198 115h5M180 116h4M174 117h5m1 0h10M174 118h5m0 0h8m0 0h3m0 0h1m131 0h10m0 0h20M139 119h14m16 0h4M179 121h7m1 0h9m-4 0h13M187 122h5m1 0h8M283 124h7M129 130h17m0 0h18m0 0h18m2 0h19m-2 0h3m13 0h8m0 0h10m15 0h6m6 0h14m5 0h7m40 0h14M88 131h7M209 132h12m0 0h6M71 133h20m18 0h13m15 0h5m25 0h18m0 0h14m3 0h11m28 0h11m15 0h18m60 0h12m1 0h4M190 135h7m0 0h1m111 0h24m0 0h20M107 137h12m0 0h14m48 0h4m2 0h9M310 138h7M182 139h4m5 0h2M58 140h14m0 0h12m19 0h4m60 0h13m4 0h3m2 0h6m14 0h2m41 0h9m26 0h16m0 0h4M285 145h12M182 146h7m0 0h4m0 0h4m8 0h21M74 147h17m0 0h8m19 0h9m3 0h14m6 0h7m-1 0h12m17 0h16m0 0h9m20 0h4m0 0h17m15 0h15M4 148h8m226 0h2m54 0h16m0 0h7m18 0h8m0 0h9M127 150h16m0 0h11m44 0h4m90 0h16m0 0h6m69 0h2M182 151h6M373 153h12M373 154h11M370 155h15M180 156h12m0 0h4M124 157h11m1 0h16m45 0h17m108 0h13m45 0h2M39 160h11m0 0h22m13 0h24m0 0h8m27 0h5m51 0h1m68 0h8M191 162h9M188 164h6m1 0h6m-1 0h5m86 0h8M190 165h15M86 166h17M201 168h3m0 0h5M188 169h3M155 170h19m0 0h21m-1 0h5m-4 0h6M219 171h24m0 0h3M56 173h14m9 0h8m52 0h17m-9 0h13m-4 0h6m-2 0h23m9 0h7m35 0h15M196 175h9M57 176h22M177 178h5m1 0h4M49 179h6m27 0h11m37 0h15m3 0h18m64 0h7M124 180h8m10 0h19m0 0h19m1 0h19m28 0h4m1 0h13m1 0h13m5 0h5m0 0h15m9 0h18m0 0h19m0 0h13M372 182h13M182 183h6m1 0h6m1 0h6m0 0h6M236 184h11M0 185h19m10 0h7M72 186h6m32 0h9m87 0h20M93 187h23m0 0h21m57 0h6M176 188h7m9 0h5M108 192h9m56 0h13m0 0h7m-7 0h8M6 193h2M348 194h9m-1 0h20m1 0h5M193 195h7m1 0h1M62 196h18m0 0h7m1 0h18m1 0h13m24 0h17m20 0h10m0 0h5m0 0h5m11 0h14m2 0h14m19 0h10M169 197h14m3 0h6m4 0h8M192 198h12M178 199h6m11 0h1m12 0h14M188 202h9M185 203h4m15 0h1m151 0h19M296 204h24M44 205h4m139 0h9m22 0h13m1 0h4M188 206h10m8 0h1m1 0h6m118 0h12M200 207h3m60 0h16m18 0h20M198 208h5m0 0h10M19 209h10m16 0h6m148 0h6m46 0h8m3 0h9m112 0h2M15 210h11m111 0h24m8 0h8m0 0h4m7 0h8m27 0h17m5 0h21M27 211h13m9 0h11m131 0h1M189 212h5m0 0h8m-6 0h22m-16 0h1m15 0h9m0 0h17m0 0h7m0 0h8m17 0h14m23 0h3M235 213h16m0 0h12m0 0h16m0 0h7M118 215h8m5 0h12m3 0h4m27 0h4m18 0h15m0 0h16m13 0h7m24 0h8m10 0h12M142 217h16m-1 0h15m0 0h6m16 0h4m51 0h7m28 0h24m-22 0h4M132 220h22m31 0h8m10 0h8m14 0h6M144 222h18m8 0h9m0 0h19m-1 0h19m0 0h20m66 0h14M175 223h23m-9 0h7m28 0h12m57 0h8M123 224h5m51 0h10M191 225h6M156 226h8m0 0h23m63 0h18M194 228h5m2 0h3m29 0h5M187 230h9M171 231h7M181 232h4m13 0h7M185 233h5M183 235h13m0 0h9M165 237h16m148 0h6M184 239h8m2 0h8m7 0h13M0 240h8m175 0h3m10 0h9m-3 0h2m2 0h3m19 0h15m0 0h18M168 241h13m0 0h11m76 0h1M13 242h4m163 0h8M170 244h8m0 0h9m11 0h4M193 246h1M125 248h8M162 249h18"/></defs>
<use href="#B1_2" stroke="#e65440" stroke-width="1.6" stroke-opacity="0.34"/>
<defs><path id="B1_3" d="M198 0h1M9 1h13m-1 0h12m57 0h14m24 0h17m44 0h12m-8 0h17m11 0h16M75 4h23M99 5h16m0 0h14m76 0h1M94 6h8m0 0h6m-5 0h9m-4 0h9m-6 0h12m-5 0h7m25 0h9m0 0h10m12 0h8m6 0h18m12 0h14M165 7h20m11 0h4M0 10h11m9 0h8m2 0h3M22 11h12m29 0h19m100 0h13m0 0h15M123 12h6m21 0h20m16 0h11M97 14h24M100 15h8m253 0h10M187 16h13m0 0h5M188 18h7m4 0h6M193 19h3m2 0h3m0 0h1M179 20h6m0 0h7m0 0h5M185 21h4m3 0h5m19 0h17M195 23h9m0 0h5M194 24h6m3 0h3M381 25h4M180 26h21m0 0h1M297 27h9M192 28h3m10 0h2M125 29h6m58 0h8m0 0h8m-3 0h1M51 30h4M179 31h6m3 0h8m0 0h6m2 0h5M62 32h21m0 0h13m83 0h9m0 0h2m23 0h10M149 33h9m37 0h4M177 34h3m0 0h5M198 35h2M192 36h2M228 37h8M281 38h12m0 0h4M188 39h4M46 40h20M211 42h9M191 43h8M316 44h9m24 0h23M19 45h12m118 0h6m0 0h6m1 0h8m-1 0h12M73 46h16m26 0h18m26 0h8m15 0h6m-3 0h15m-6 0h1m62 0h17m-2 0h4m34 0h5m50 0h5M68 51h9m71 0h6M177 53h22M131 54h11m15 0h10m2 0h16m0 0h6m1 0h14m-12 0h7m10 0h6m1 0h14m0 0h11m1 0h6m8 0h9m24 0h9m0 0h3M85 55h18M83 56h18m26 0h6m31 0h16m3 0h5m3 0h3m7 0h1m110 0h12m0 0h13M124 57h19m45 0h9M169 58h8M255 63h2M159 65h12M96 68h16m52 0h11m25 0h3m3 0h2m94 0h20M200 70h5m0 0h1m36 0h2M151 72h11M95 73h12m46 0h14m34 0h6m-6 0h8m2 0h2m35 0h11m54 0h13m25 0h6m19 0h6M206 74h8m44 0h19m4 0h15m30 0h9M85 76h24m0 0h16m50 0h12M204 77h16m0 0h7m1 0h6M18 78h21m54 0h11m79 0h5m34 0h4M76 80h7m26 0h11m2 0h14m45 0h19m4 0h5m-1 0h19m-17 0h14m28 0h19M174 81h7M199 83h5m39 0h8M169 86h10M197 87h5M194 90h3M33 93h8m145 0h3M126 94h14m0 0h12m48 0h4m-4 0h16M316 95h10M193 100h3M218 101h22M181 102h9m2 0h6m0 0h9M170 103h8m6 0h4m6 0h7m5 0h5M0 104h21m28 0h15m65 0h14m42 0h16M183 106h4m13 0h8m52 0h18M148 107h8m21 0h5m15 0h3M283 108h10M67 109h4m31 0h11m0 0h6m56 0h8m17 0h15m0 0h18m59 0h21m-7 0h7m44 0h9M29 110h2M239 112h18m0 0h10m-1 0h3M118 113h13M213 114h15M1 115h12m177 0h6M185 116h6m10 0h1M46 117h8m58 0h10m31 0h12m3 0h14m-3 0h12m-5 0h11m24 0h18m120 0h7M185 118h11M153 119h16m180 0h8M73 122h4M206 124h1m31 0h19m0 0h14m0 0h10m9 0h21m0 0h14m-1 0h8m0 0h6M151 125h11m0 0h11M152 126h16m17 0h6M186 129h2m-1 0h6m-1 0h4M107 130h19m62 0h3m0 0h3m1 0h6m1 0h15m21 0h13m5 0h6m26 0h13m44 0h19m0 0h16M122 133h14m72 0h20m-13 0h9m7 0h10m11 0h16m17 0h16M133 134h8m34 0h20M352 135h10m0 0h22M117 136h12m42 0h10m10 0h2M177 137h4m17 0h4m1 0h3M212 138h9M154 139h6M38 140h11m36 0h14m8 0h4m0 0h16m54 0h20m-3 0h3m-1 0h18m-17 0h8m9 0h17m0 0h17m9 0h7m0 0h19m21 0h8M98 141h23M42 143h8m39 0h18m67 0h9m32 0h16M196 144h9M166 145h13m1 0h5M190 146h13m-6 0h8M133 147h5m6 0h14m0 0h17m-6 0h16m-10 0h7m69 0h15M110 148h7m1 0h18m-1 0h7m46 0h8m0 0h6m115 0h9m0 0h9M202 150h15m0 0h7m19 0h13m17 0h19m49 0h19m0 0h23M185 152h6M188 154h6m3 0h6M295 155h3M228 156h4M216 157h14m105 0h5M153 158h14M164 159h4M117 160h7m0 0h20m133 0h2M191 161h4M178 162h7m14 0h3M121 164h12M103 166h9M173 168h21m0 0h1m0 0h5m-3 0h2M185 170h7m8 0h2m178 0h5M188 171h12m9 0h10M156 172h1M183 173h9M183 174h5m0 0h2m185 0h2M103 176h6m65 0h20m111 0h16m5 0h3M187 178h2M55 179h9m0 0h12m17 0h14m-1 0h20m45 0h17m20 0h11m0 0h11m17 0h17m1 0h19m-1 0h2M131 180h8m74 0h15m32 0h5m79 0h10M192 182h16m0 0h12m-1 0h9m116 0h17M209 183h1M194 184h9M119 186h7m20 0h9m41 0h10M40 187h7M117 189h8m0 0h8M18 190h4m166 0h6m-1 0h7M194 192h9M82 194h6m248 0h12M174 196h10m0 0h7m45 0h8M19 197h4m156 0h7m-3 0h6m0 0h4m0 0h4M94 198h15m76 0h4m0 0h9m0 0h5M196 199h9M46 200h10m127 0h7m60 0h22M46 201h15m0 0h11m0 0h10m18 0h3M198 202h6M178 203h6m15 0h5m172 0h9M197 205h5m0 0h5M107 206h9m84 0h5M181 207h6m1 0h6m0 0h3m119 0h9m1 0h9M57 208h14m142 0h3M152 209h10m2 0h20m-1 0h4m2 0h8m1 0h1m36 0h16M0 210h15m145 0h8m17 0h8m43 0h9M42 211h7m11 0h5m34 0h9m0 0h9m4 0h21m15 0h21m0 0h9m-3 0h7m-4 0h19M105 212h10m12 0h9m24 0h15m-1 0h12m0 0h11m37 0h17m23 0h8m12 0h19M194 213h22m11 0h8M151 214h14m3 0h3M28 215h10m0 0h7m0 0h16m1 0h16m0 0h15m20 0h5m7 0h6m15 0h7m29 0h17m31 0h13m15 0h17M96 217h19m66 0h13m0 0h5m0 0h11m0 0h17m2 0h9m16 0h6m-4 0h16m0 0h14m-11 0h8M121 218h12m0 0h7m163 0h7m17 0h14m4 0h14m20 0h6M67 220h12m0 0h12m120 0h15M129 222h8m-8 0h14m19 0h8m61 0h11m7 0h5m1 0h20m-1 0h15m0 0h13m19 0h4m14 0h7M236 223h8m1 0h23m0 0h3M260 224h8M180 225h4m0 0h6M192 226h6m40 0h12M184 227h7m0 0h4m1 0h6M80 228h10m96 0h15m0 0h2m21 0h9M182 230h4m18 0h3M99 231h10m106 0h2M226 232h20m1 0h4M329 233h7M140 234h16m32 0h9m63 0h23M37 235h18m58 0h11m11 0h14m82 0h8m52 0h16M98 237h21m-1 0h11m151 0h11M185 238h10m0 0h3m1 0h9M73 239h11m22 0h15m0 0h3m97 0h7M186 240h6m69 0h9M12 241h4m140 0h11m29 0h16m18 0h18m15 0h6M63 242h15m110 0h4m0 0h3M173 243h11m0 0h7m0 0h4M192 244h6M189 246h4m39 0h14M200 247h23m0 0h18M294 248h12M155 249h7m25 0h4m6 0h8"/></defs>
<use href="#B1_3" stroke="#e65440" stroke-width="1.6" stroke-opacity="0.34"/>
<defs><path id="B1_4" d="M39 1h16m0 0h5m-1 0h12m5 0h10m23 0h8m4 0h8m17 0h13m0 0h18m1 0h16m16 0h11m0 0h8m6 0h11m-7 0h21m0 0h21m0 0h6m0 0h12m76 0h10M98 4h23m0 0h16m4 0h6m0 0h10m1 0h9m0 0h11m0 0h11M200 5h3M56 6h6m2 0h6m8 0h8m0 0h8m21 0h2m8 0h8m36 0h12m32 0h12M36 11h7m139 0h5m0 0h7m2 0h7m7 0h4M170 12h17m196 0h2M321 13h2M357 14h10M108 15h9M163 17h12M127 21h8m0 0h5m0 0h7m0 0h10m-8 0h14m-5 0h5m0 0h11m3 0h20m0 0h19m20 0h11m5 0h6m0 0h10M361 24h20M357 25h8m0 0h16M148 26h2M149 27h4m102 0h4m6 0h8M195 28h6m0 0h4M221 29h18M325 30h12M275 31h22m1 0h11m3 0h5M206 32h7m10 0h7M129 33h7m3 0h9m37 0h8m6 0h2M186 34h5m-1 0h9m1 0h5M180 35h3m9 0h6M173 36h16m5 0h11M206 37h16M0 39h10M12 40h12m2 0h16m24 0h8m0 0h16m128 0h16m0 0h4M209 41h7m0 0h18m0 0h13M67 46h7m20 0h5m0 0h14m20 0h8m0 0h18m8 0h18m4 0h5m11 0h8m0 0h10m4 0h12m0 0h18m17 0h6m0 0h15m0 0h15m5 0h9m3 0h15m2 0h19M253 49h10M77 51h18m0 0h12m-1 0h22m0 0h20M180 52h9M199 53h6M283 54h8M124 55h23m38 0h6m120 0h9m0 0h7M5 56h15m85 0h22m166 0h19M108 57h16m19 0h13m41 0h11m4 0h14m6 0h19m0 0h16m1 0h11m0 0h16m0 0h13M85 58h7m0 0h9M25 60h15m0 0h3M160 63h14m53 0h7m0 0h21m24 0h23m0 0h9M200 64h2M139 65h6m0 0h10M111 66h20m0 0h7M84 68h4m54 0h11m0 0h11m15 0h9m-6 0h4m0 0h4m-3 0h13m0 0h16m76 0h10m20 0h22m4 0h8m1 0h10m0 0h1M179 70h9M80 73h11m0 0h4m12 0h5m1 0h16m-1 0h20m19 0h11m4 0h10m0 0h6m0 0h14m2 0h18m1 0h5m-1 0h11m14 0h16m0 0h19m1 0h15m12 0h10m1 0h15m6 0h17M61 80h15m9 0h9m0 0h7m4 0h16m-1 0h5m11 0h7m3 0h17m-1 0h19m4 0h5m0 0h10m-5 0h15m-10 0h2m23 0h8m-6 0h16m-10 0h20m-10 0h5m4 0h3m16 0h12m2 0h12m0 0h13M189 81h7m96 0h2M145 83h9m0 0h21m-1 0h7m1 0h13m0 0h2M196 85h12M178 89h7m0 0h9m0 0h5m139 0h8M313 90h6M16 94h14m160 0h5m-1 0h6m52 0h12m0 0h18m0 0h12M196 95h12M0 96h11m186 0h2M189 100h5m3 0h1M186 103h6M21 104h8m35 0h7M2 106h20m165 0h7m0 0h6M128 107h8m4 0h8M138 109h10M176 114h6m0 0h8m1 0h23M54 117h6m0 0h5m0 0h17m-13 0h2m11 0h16m0 0h13m16 0h8m0 0h17m51 0h18m22 0h7m-1 0h11m1 0h11m0 0h18m0 0h19m-1 0h17m3 0h10m5 0h16m7 0h13M148 118h11m0 0h15m1 0h10m10 0h5m80 0h2M182 120h9m0 0h7M0 121h9m170 0h13m87 0h22m1 0h5M210 123h12M191 124h7m0 0h8M92 130h7M141 134h11m0 0h19M173 135h9m0 0h6M105 136h12m16 0h4M223 138h3M143 139h11m6 0h18m0 0h9M189 140h6m0 0h4M124 141h21m0 0h9m18 0h8M50 143h10m0 0h11m0 0h18m17 0h18m0 0h12m0 0h15m0 0h18m8 0h13m-7 0h16m-9 0h11m-2 0h7m1 0h9m15 0h7M187 144h9m10 0h5M159 145h7M92 148h7m0 0h12M35 153h7m2 0h19M34 154h14m0 0h11M272 155h19M108 157h9m1 0h7m31 0h19m1 0h20M167 158h11m0 0h3M186 159h6m3 0h6M189 160h11M195 161h5m0 0h3m1 0h3M53 162h6M331 163h17m0 0h5M133 164h23m0 0h6m2 0h7M170 165h14M204 169h9m85 0h2M365 170h15M200 171h9M131 172h16m0 0h9m77 0h16m0 0h17M365 174h10M145 176h10m0 0h19M188 179h17m-4 0h12m0 0h10m14 0h10M178 182h4m179 0h11M185 184h9m9 0h2m42 0h3M180 186h7m1 0h5m0 0h9m-1 0h6m0 0h1M33 187h7m160 0h3M181 189h6m0 0h9m2 0h1M197 191h18M204 192h3M200 195h10m0 0h11m4 0h3M190 196h6m53 0h13m0 0h8M131 197h8m58 0h2M109 198h5M166 200h17m59 0h8M31 201h14m37 0h18m89 0h3m0 0h6m0 0h9m0 0h3M191 202h23m0 0h17M190 203h6M94 206h13M279 207h18M71 208h11m233 0h10M133 209h9m0 0h10m25 0h4m0 0h6m0 0h8m148 0h6M102 210h14m0 0h10m235 0h13m0 0h5M142 211h15m48 0h8M9 212h12m0 0h19m0 0h15m1 0h7m0 0h13m0 0h13m0 0h16m9 0h9m14 0h6m-1 0h11m1 0h6m40 0h19m1 0h14m19 0h16m13 0h11m0 0h17m3 0h5M182 213h12m2 0h6m14 0h11M113 214h8m0 0h14m0 0h17M92 215h19m48 0h18m73 0h8m24 0h9M367 216h2M0 217h8m0 0h13m0 0h19m220 0h15m33 0h4m4 0h10M139 218h13m1 0h10m148 0h16M173 222h8m0 0h9m5 0h11m0 0h14m3 0h8m8 0h10m-7 0h10m-1 0h15m27 0h12m0 0h16m-5 0h5m0 0h18m9 0h3M18 223h8m0 0h2m171 0h15m-1 0h11M173 224h18m0 0h19m0 0h9m0 0h20m0 0h21m118 0h7M21 225h2M178 227h6m24 0h10M270 228h10M178 229h10m0 0h2M266 230h6M109 231h8M157 232h10m12 0h19m1 0h11m0 0h16M317 233h12M242 234h18m22 0h18M105 235h8m12 0h10m24 0h18m0 0h2M101 236h14M75 237h23m83 0h2m90 0h7M62 239h11m12 0h22m83 0h8m0 0h11M193 240h3M330 241h6M79 242h18M198 246h4M138 247h12m0 0h11m1 0h16m63 0h6m0 0h13m1 0h17m0 0h6m0 0h24m0 0h8M180 249h7"/></defs>
<use href="#B1_4" stroke="#e65440" stroke-width="1.6" stroke-opacity="0.34"/>
<use href="#B1_1" stroke="#f4a38b" stroke-width="0.75"/>
<use href="#B1_2" stroke="#dd4c36" stroke-width="0.75"/>
<use href="#B1_3" stroke="#9c1719" stroke-width="0.75"/>
<use href="#B1_4" stroke="#5a0a0c" stroke-width="0.75"/>
</g></g></g>
<g transform="translate(339.6 871.6)">
<rect width="191.8" height="354.4" fill="#fdefe9"/>
<rect x="82.5" width="26.9" height="354.4" fill="url(#band)" opacity="0.2"/>
<g filter="url(#soft)"><g transform="scale(0.5 1.4176) translate(0 0.5)" fill="none">
<path d="M0 0h111m132 0h80M6 1h20m3 0h15m76 0h49m-38 0h106M46 2h72m-68 0h240m52 0h41M27 4h9m204 0h129m-55 0h12m37 0h3M95 5h25m44 0h63M51 7h16m8 0h25M30 9h62m21 0h3m151 0h40M129 10h70M143 11h54M85 12h3m68 0h136m-56 0h140M281 13h59m3 0h33M201 14h19M0 15h241m-241 0h248m-231 0h5M261 16h39m-29 0h75m-73 0h30M315 17h34M203 18h62M284 19h73M153 20h203M287 21h29M219 22h32m-19 0h52m55 0h45M35 23h76M0 25h384m-124 0h124M107 28h76m7 0h100M0 29h114m45 0h225m-92 0h19M15 33h157m-112 0h5M154 34h7m133 0h89m-32 0h4M265 36h93m-74 0h61M203 38h35M27 39h108M0 40h163m162 0h5M0 41h260m-174 0h7m80 0h23M40 42h38m11 0h119m23 0h13m27 0h26M114 44h17M3 45h130M133 46h39m75 0h59M0 47h163m-135 0h104m84 0h22M0 50h117m-71 0h12m146 0h98M140 52h35m125 0h4M124 53h201M123 54h139m-118 0h17m120 0h103M230 55h58M164 56h73M121 57h20M111 58h14m174 0h42M0 59h114M0 60h136M307 61h77M25 63h24M174 64h64m99 0h46M4 65h12M185 67h199m-30 0h30M0 68h14m259 0h23m32 0h44M202 69h72M0 70h151m-116 0h54m247 0h11M21 71h13M202 72h53M33 76h52m200 0h23M329 77h55M0 79h316m-287 0h256m-224 0h112m-7 0h17M0 80h132M7 81h25m314 0h4M180 82h4m76 0h13m36 0h75M0 83h161M230 84h70M202 85h13M0 86h27m22 0h80m-5 0h17m67 0h46m42 0h13M261 87h118M26 88h235m-165 0h159M343 89h21M292 91h67m-56 0h33M166 92h21m136 0h6M44 93h229M47 95h17M82 96h104m-78 0h25M0 97h41M0 99h372m-342 0h185m-135 0h101m-97 0h47m26 0h156m-103 0h3M0 100h197M37 101h108M174 102h110m-75 0h6m125 0h40M249 103h8M170 107h14m29 0h19M0 108h171m-38 0h10m149 0h62M75 109h75m-38 0h127M0 110h248M78 112h23m-19 0h54M0 113h27M6 115h53m230 0h71M155 117h18M153 120h231m-150 0h149M241 121h5m16 0h34m3 0h54M55 123h22m42 0h16m87 0h13M0 125h272m-109 0h58m19 0h104M17 127h44M254 128h11M0 129h27m133 0h101M303 131h79M103 134h35m129 0h101M36 135h64m85 0h141m-138 0h4m165 0h19M152 138h3M131 139h9M105 141h4M0 142h166m-49 0h76M17 143h214m-153 0h150m74 0h79M41 144h34M0 145h31M310 146h74M0 149h384m-357 0h190m-176 0h92M77 151h47m69 0h66m-11 0h18m-13 0h131M0 152h91M171 153h111M157 156h118M0 157h196m-196 0h208m-22 0h24M37 158h77M0 160h28M55 161h159M102 162h196m-116 0h24m56 0h67M0 163h289M185 164h160M217 165h43m-1 0h125M111 166h83m-37 0h7m129 0h63m-20 0h48M133 167h128M0 168h36m100 0h161m20 0h67M329 170h8M341 171h43M94 172h10m1 0h76m71 0h31m31 0h3M130 173h34M16 174h56m8 0h133m115 0h40M40 175h4m26 0h20m254 0h39M54 176h152m37 0h82M0 177h58M112 178h8M13 179h45m55 0h106m99 0h66M222 182h47m94 0h12M54 183h105m9 0h11m2 0h171M317 185h17M243 186h106M93 187h108M335 189h49M318 190h65M74 191h69m11 0h13m88 0h35M155 192h37m84 0h90m-37 0h33M161 194h76M0 195h384m-148 0h23M0 196h77m-76 0h114m-22 0h40m86 0h128m-49 0h86M94 199h151m31 0h34M109 200h234M86 201h298m-189 0h4m42 0h89m31 0h23m-7 0h5M24 202h57m141 0h18M265 203h49M241 204h36M87 205h99M0 206h309m-270 0h46M292 207h57M18 208h3m230 0h8M315 209h4M66 210h28m184 0h54M99 213h37m123 0h12M213 214h9M0 215h384M263 218h120m-85 0h86m-35 0h5M139 220h10M340 221h44M0 223h346m20 0h3M274 224h12m13 0h85M254 225h129M14 227h7m34 0h329m-281 0h65M17 228h20M242 229h9m100 0h11M17 230h16m99 0h18m49 0h36M239 231h44M39 232h15m92 0h47M0 233h268m-40 0h53M87 234h261M102 235h32m22 0h121M0 238h78m-78 0h84m-84 0h317M27 240h336m-235 0h95m5 0h17M37 241h47m-1 0h19m23 0h99m-73 0h75M49 242h10m240 0h7m-5 0h83M193 243h40M294 244h89M38 246h97M89 248h151m74 0h67" stroke="#fbe2d8" stroke-width="1.3"/>
<defs><path id="B2_1" d="M0 0h23m2 0h3m272 0h12M215 3h16M184 4h3m0 0h8m0 0h3m1 0h2m66 0h15m86 0h10M60 5h11m183 0h15m0 0h7M193 6h3M88 7h16m82 0h10m1 0h21M126 9h6M290 12h24m26 0h12M38 13h7m0 0h9m11 0h15M0 15h8M190 16h12m21 0h7m14 0h11m7 0h2M14 17h17m-1 0h24m0 0h21m1 0h13m-1 0h14m0 0h18m83 0h10M170 19h2M170 22h17m0 0h15m-7 0h4m15 0h1m70 0h6m0 0h15m4 0h6m0 0h12M82 23h16M103 24h9M301 25h11m10 0h4M12 27h14m168 0h7m0 0h20m23 0h16m80 0h6m0 0h16m0 0h4M298 29h2M348 32h2M128 33h19m21 0h6m24 0h16M105 35h11m24 0h8m0 0h7m0 0h21m-15 0h9m6 0h19m-10 0h8m4 0h8m23 0h12m-5 0h13m3 0h7M160 36h10m8 0h5m1 0h7M3 37h12m0 0h14m-1 0h3m165 0h10M96 38h7m-1 0h21m0 0h10m0 0h13m0 0h19m25 0h6M170 40h11M188 41h9m-7 0h8M356 43h11m0 0h1M220 44h19M8 45h19m-1 0h21m1 0h15m0 0h7m5 0h14m28 0h12m59 0h18m126 0h17m22 0h12M176 46h6m126 0h8M200 47h1M106 48h14m0 0h13m0 0h10m0 0h12M204 50h14m7 0h12m1 0h14M181 51h4m-1 0h2m-1 0h6m0 0h4m1 0h7m133 0h22m0 0h2M66 52h14m15 0h21M180 53h6m5 0h6M260 54h2M170 56h16M259 57h13M314 59h14M0 60h8m122 0h5m12 0h15m0 0h4m1 0h6m32 0h14m12 0h11M44 61h8M134 62h8m126 0h7M66 63h19m3 0h24m1 0h7m10 0h16m44 0h9M205 64h1m127 0h13M208 65h6m20 0h23m20 0h13M8 67h6m150 0h8m4 0h6m0 0h7M152 69h19m-1 0h19M146 73h20m0 0h18m-1 0h7M201 79h3M242 82h15M0 83h12m188 0h14M40 86h8m70 0h12m1 0h16m17 0h15m0 0h24m0 0h11m0 0h8m6 0h18M178 90h7m0 0h4m2 0h11M184 91h6m0 0h8M77 93h22m-1 0h11m0 0h16m0 0h5M30 95h18M320 97h14M36 99h2M48 100h9M316 101h12m0 0h10M190 102h6m5 0h7M49 103h6m36 0h10M24 105h16M298 109h10M130 110h12m33 0h8M195 111h15M349 112h18m0 0h11m0 0h3M0 113h15M266 114h15m-1 0h3M188 115h8m0 0h8m1 0h2M48 118h10m0 0h15M181 119h6m5 0h5M178 120h22m-13 0h5m8 0h15m91 0h5M101 122h7m1 0h13m-8 0h21m-11 0h14m-3 0h14m-6 0h16m-10 0h11m4 0h14m22 0h17m4 0h6m4 0h1M140 123h19m43 0h22m-13 0h1m12 0h20M171 125h3m1 0h7m5 0h6m0 0h7m0 0h3M204 127h8M294 128h4M0 130h7m17 0h8m70 0h6m20 0h18M78 131h2m49 0h16m56 0h14M199 132h5M0 134h15m129 0h23m55 0h17m0 0h11m62 0h8m-1 0h17M152 137h10M260 139h15M226 140h15m33 0h8M34 141h16m33 0h7m-6 0h6m8 0h4m19 0h18m11 0h12m43 0h9m34 0h6M196 143h6M216 144h10M0 145h23m24 0h10m136 0h5m1 0h5M84 147h2m50 0h16m34 0h2M0 148h6M226 149h20m41 0h9M366 150h18M0 151h10m0 0h8m165 0h9m0 0h7m0 0h3m65 0h9M92 153h23m0 0h8M176 157h5M0 160h4m298 0h15m0 0h9M60 161h2m109 0h8m3 0h20m21 0h6m0 0h16m65 0h13M15 162h12M260 163h2M117 164h4m0 0h13m20 0h9m0 0h15m0 0h9m10 0h10m0 0h13m5 0h8m-1 0h9m5 0h14m0 0h8m0 0h14m35 0h16m0 0h5M180 167h5M166 172h10M316 173h13m0 0h5M124 174h1m41 0h10m-4 0h6m-3 0h19m-17 0h7m10 0h2M81 178h19m1 0h14m66 0h4m6 0h5M324 180h12M205 181h8M182 183h3m0 0h3M349 184h7m0 0h2M106 185h4M178 186h9M193 187h2M56 192h13m0 0h20m29 0h4m0 0h5m79 0h17m58 0h8m38 0h10M88 193h10m97 0h15M154 194h19M87 195h5m91 0h9m158 0h10m-1 0h18m0 0h6M202 197h2M200 198h5m29 0h8M32 200h23m2 0h8m2 0h12m0 0h17m106 0h6M280 201h1M231 202h22M246 204h4M90 208h14m-1 0h20m0 0h17m35 0h3m4 0h5m71 0h23m-1 0h9M146 209h10m22 0h11m-10 0h6m1 0h8m-4 0h18m0 0h12M0 210h4m18 0h20m0 0h13M48 211h10m30 0h15m21 0h13m24 0h11m8 0h4m25 0h11m61 0h15m32 0h8m0 0h11M262 212h10m74 0h16M370 213h6M48 214h8m204 0h18m0 0h11M88 215h12m0 0h9m8 0h19m-1 0h7m1 0h7m14 0h12M198 217h11m-1 0h8m1 0h9m-1 0h2M94 218h12m0 0h10M71 219h19m68 0h15m0 0h9M32 220h7m0 0h8m335 0h2M58 221h24m72 0h16m6 0h2m2 0h22m112 0h22M236 223h16M12 224h16m0 0h10M376 226h8M186 229h9m0 0h13M0 230h18m0 0h1m66 0h11m1 0h8m0 0h16m0 0h14m0 0h15m130 0h19m0 0h7M132 232h23m16 0h4m0 0h6m1 0h6m4 0h8m0 0h1M4 233h4m172 0h2m196 0h2M8 234h14m139 0h12m54 0h9m1 0h3m40 0h10M193 235h3m1 0h6M22 236h4m75 0h22m85 0h4M42 237h10m64 0h13m0 0h12m0 0h20m0 0h3M116 238h9m26 0h6m1 0h10M97 239h15m47 0h8m103 0h11M350 240h4M240 241h14m106 0h14m0 0h10M194 242h7m2 0h3M18 244h8m159 0h5M192 245h8M188 246h6M176 247h3m35 0h7M162 249h22m0 0h12"/></defs>
<defs><path id="B2_2" d="M188 0h7M184 1h10m0 0h3m58 0h15m6 0h10M181 2h6m73 0h3m89 0h12M236 3h10M254 4h11M71 5h14m14 0h17m76 0h4m44 0h14m94 0h12m6 0h2m14 0h2M178 6h10m0 0h5m-1 0h18m3 0h8M35 7h11m0 0h21m0 0h17m35 0h1m14 0h20m64 0h6m42 0h17M74 8h8m4 0h9M346 9h13m17 0h2M202 10h4M0 11h7m13 0h14m65 0h12m81 0h5m37 0h14M26 12h14m278 0h19M54 13h7m121 0h6m0 0h4m-1 0h6m2 0h4M48 14h17M206 16h17m6 0h15m11 0h6m99 0h20M0 17h14m211 0h2M156 18h4m38 0h16m138 0h15m12 0h4M164 19h6m26 0h8m0 0h3M172 20h12m22 0h10m62 0h4M178 21h12m-3 0h4m0 0h3m1 0h6m0 0h1m8 0h6M154 22h16m18 0h5m6 0h9m-6 0h8m-2 0h6M70 24h12m0 0h21m101 0h8M290 25h11M194 26h14M221 27h20M150 28h18M188 29h4m8 0h6M188 30h8M147 31h17m0 0h12m3 0h19m15 0h6m22 0h7M207 32h9M146 33h21m8 0h7m1 0h5m4 0h6m12 0h1M131 34h18m38 0h6m0 0h3m118 0h12M70 35h4m1 0h13m28 0h4m27 0h7m0 0h7m13 0h5m13 0h4m-1 0h19m-4 0h12m-8 0h21m6 0h6m-1 0h5m7 0h4m9 0h15m0 0h1M0 37h6m46 0h10m76 0h4m17 0h7m26 0h2M165 38h22M0 39h19M263 40h14M25 41h16m157 0h4m60 0h15m1 0h11M201 42h5M51 44h3m185 0h19M24 45h5m24 0h9m0 0h10m-1 0h15m0 0h13m0 0h15m-13 0h6m-1 0h9m0 0h19m-2 0h6m-3 0h16m39 0h11m11 0h7m5 0h5m-1 0h10m110 0h23M326 46h12M172 47h8m0 0h5m1 0h5m0 0h9M155 48h7m3 0h11M189 50h8M32 52h17m0 0h17M174 53h10m2 0h5M40 56h14m88 0h8m0 0h6M183 57h5m1 0h5m0 0h7m0 0h5m7 0h2m25 0h17M40 58h6M227 59h9m49 0h1M135 60h8m30 0h13m0 0h19m16 0h10M52 61h9M187 62h5m-1 0h4m0 0h3M119 63h11m60 0h16m-7 0h7m0 0h6M64 64h14m80 0h13m16 0h5m1 0h8m3 0h6m114 0h9m13 0h3M182 65h7m68 0h20m13 0h2M162 66h21m-1 0h4m-3 0h7m-2 0h3m187 0h2M46 67h9m135 0h7m0 0h7M212 70h18M194 71h6m0 0h4M73 73h15m100 0h7m0 0h5m1 0h2m31 0h6m73 0h8M193 74h19M98 75h8M198 76h7m0 0h17M172 77h2M84 78h23m68 0h1M82 79h12m4 0h8m9 0h17m0 0h6m40 0h23M0 80h16m246 0h16M257 82h5M0 84h2m189 0h1M190 85h2M147 86h17m57 0h7M196 88h21m0 0h13M187 89h5M28 90h16m94 0h12m0 0h18m0 0h23m-17 0h4M206 91h1M184 92h3m0 0h7m10 0h7M68 93h9m135 0h18m133 0h10M194 94h3M133 96h22m11 0h14m22 0h6M60 97h5m14 0h7m52 0h7m0 0h23m-1 0h3m67 0h3m8 0h19m0 0h11m21 0h21m-2 0h6m10 0h4M98 98h2M148 99h7m47 0h18M76 100h15m0 0h5M197 102h4m7 0h4M60 103h17m-1 0h14m61 0h16m0 0h8m14 0h5m-3 0h6m6 0h6m1 0h8m0 0h11m0 0h5m0 0h18m1 0h16m0 0h17m0 0h7m5 0h18m60 0h8M70 104h20m0 0h2m276 0h8m0 0h7M42 105h18M177 107h3M84 108h15m29 0h14m20 0h13m21 0h16m0 0h22m-18 0h13m1 0h8m84 0h13m-1 0h8m0 0h4M72 109h2m107 0h6m32 0h19M141 110h20m0 0h11m13 0h5m0 0h3m-2 0h11M188 111h7m2 0h10M98 112h12m224 0h16M113 113h14m15 0h8m66 0h7M140 115h24m12 0h6m28 0h16M76 116h17m103 0h16m0 0h14M48 117h12m114 0h15M156 118h9m24 0h2m26 0h2M187 119h5m136 0h9m-1 0h11m0 0h2M192 120h5m87 0h23M192 121h19M179 122h17M182 123h5m0 0h8m-1 0h5m3 0h7m35 0h10M34 125h19m16 0h19m94 0h4m29 0h14m79 0h14m6 0h12m0 0h5m3 0h7M196 126h1m8 0h4M172 127h10m0 0h8m-3 0h16M190 128h10m2 0h7m1 0h6M262 129h2M7 130h17m54 0h9m0 0h15m9 0h6m169 0h2M42 131h6m0 0h11m1 0h19m65 0h6m36 0h15m15 0h11M168 132h15m0 0h15m-5 0h6m0 0h7m-2 0h2m33 0h18m22 0h18M165 133h4m13 0h6m0 0h7M17 134h11m138 0h22m0 0h10m0 0h21m-8 0h3m122 0h16m1 0h20m0 0h11M58 135h9m0 0h6m0 0h12M96 136h12m1 0h22m0 0h5m137 0h2M134 137h18m10 0h24m0 0h4M275 139h7M100 140h23m59 0h10m2 0h6m42 0h12M47 141h19m0 0h17m7 0h8m14 0h10m40 0h11m42 0h13m1 0h15m-1 0h5M196 142h20M193 143h8m29 0h15m0 0h11m8 0h2M76 144h9m165 0h10M23 145h8M76 146h16M192 147h10m100 0h20m-1 0h14M134 148h8m0 0h10m57 0h16M164 149h10m72 0h23M49 150h9m140 0h3m9 0h12m26 0h11m13 0h4m18 0h23m-21 0h16m12 0h2M18 151h12m149 0h4m5 0h6m85 0h13M188 152h7m15 0h8m0 0h23m61 0h20m22 0h7m0 0h3M191 153h13m34 0h6M59 154h8m15 0h15m45 0h16m29 0h10m107 0h2m-1 0h3M84 155h18m0 0h16m0 0h24m19 0h16m-1 0h21m-12 0h4m2 0h3m0 0h2m23 0h2M172 156h11M167 157h7m6 0h4m0 0h8M184 158h9M155 159h3m34 0h8m8 0h2M216 160h14M179 161h9m0 0h9m0 0h1m3 0h9m1 0h12M0 162h15m31 0h4m62 0h10M66 163h6M135 164h15m37 0h9m86 0h16m0 0h20m2 0h10M177 167h3m-2 0h12m2 0h16m-14 0h7M177 168h10m0 0h4m0 0h9M190 169h4M186 170h16M34 172h12m0 0h23m13 0h2m4 0h10M178 173h8m-4 0h20m-6 0h6m0 0h2M100 174h12m1 0h11m61 0h10m3 0h2M185 175h23m-1 0h2M312 177h4M114 178h22m5 0h3m20 0h6m4 0h7m10 0h6M271 179h14M174 180h10M176 181h9m136 0h8M12 183h20m156 0h7m0 0h6M19 184h7m151 0h4m2 0h5m-4 0h6m2 0h7m-3 0h9m-6 0h10m0 0h19m0 0h11m89 0h14m0 0h7M176 185h6m1 0h8m0 0h4m1 0h8M194 186h1m9 0h22m0 0h8M37 187h21m115 0h8m2 0h8M180 188h7m-3 0h10m-8 0h17m-9 0h8m0 0h1m41 0h20M105 190h9m84 0h11m67 0h12m14 0h11M154 191h20m15 0h15m0 0h2m2 0h6m5 0h8m37 0h10m37 0h9M127 192h15m20 0h8m71 0h8m14 0h18m24 0h19M178 193h17M173 194h7m12 0h22m0 0h4M80 195h7m105 0h1M182 197h6m2 0h9M72 198h16m-1 0h18m30 0h10m0 0h5m0 0h11m17 0h15m-2 0h4m1 0h4m-4 0h17m0 0h9m0 0h12M97 200h2M258 201h19M182 202h10m20 0h19m29 0h13m0 0h17M58 203h7m-1 0h5M182 204h16m20 0h21m1 0h4M140 208h5m20 0h8m6 0h3m7 0h4m-1 0h2m6 0h6M155 209h23m15 0h6m2 0h9m55 0h20M18 211h19m1 0h12m11 0h8m1 0h7m0 0h8m31 0h10m14 0h10m0 0h11m-5 0h13m2 0h19m0 0h10m0 0h9m17 0h16m0 0h15m55 0h16M109 215h8m39 0h9m11 0h7m0 0h5m5 0h1m32 0h9m0 0h15M90 216h6m84 0h3m10 0h4m-3 0h16m-11 0h1M328 217h7M19 218h12m121 0h4m80 0h13m46 0h12m59 0h12M0 219h2m2 0h14m0 0h17m18 0h17m19 0h7m0 0h7m3 0h6m80 0h3M47 220h3m100 0h8m0 0h8m76 0h9m4 0h7M8 221h10m64 0h10m-1 0h11m30 0h7m0 0h15m48 0h11m0 0h21m25 0h18m-1 0h21m0 0h17m36 0h15m0 0h5m10 0h4M204 222h10M38 224h4M348 226h21m-1 0h7M173 227h6m15 0h1m165 0h12M218 228h24m-1 0h14M209 229h6M66 230h2m6 0h12M66 231h11m-1 0h9m4 0h19M155 232h15m0 0h11m7 0h4m134 0h7M60 233h7m25 0h4m6 0h20m-1 0h15m72 0h13m14 0h19m22 0h10M21 234h10m123 0h8m56 0h10M54 236h10m63 0h11m2 0h16m1 0h18M189 237h4m31 0h10M125 238h12m0 0h14M82 239h15m18 0h20m3 0h18m11 0h9m0 0h8m0 0h5m93 0h12m-1 0h18M191 240h3M216 241h14m0 0h10M137 242h4m4 0h13m30 0h18m-15 0h8m11 0h10m11 0h11m22 0h5M116 243h13m20 0h11M180 246h7m154 0h12m0 0h7M179 247h5m2 0h5m3 0h3m2 0h4M177 248h8m0 0h7M66 249h7m191 0h10m20 0h12"/></defs>
<use href="#B2_2" stroke="#e65440" stroke-width="1.6" stroke-opacity="0.34"/>
<defs><path id="B2_3" d="M194 0h10m-9 0h2m95 0h8M59 1h13m0 0h15m0 0h19m33 0h20m12 0h19m33 0h15m6 0h8m2 0h4M91 2h11m0 0h23m0 0h7m15 0h10m29 0h4m16 0h7m29 0h19M200 3h15m153 0h8M110 4h2m68 0h11M85 5h14m101 0h22m0 0h12M118 6h15m64 0h8m2 0h1M16 7h19m69 0h15m55 0h10m99 0h9m42 0h16M50 8h10m0 0h14M170 9h12m16 0h2m68 0h16m0 0h14m1 0h15m45 0h17M194 10h6M7 11h13m61 0h11m25 0h4m2 0h12m20 0h6m0 0h16m-4 0h4m0 0h4m1 0h5m0 0h6m-2 0h9m7 0h10m46 0h8m0 0h19m24 0h10M0 13h15m4 0h19m42 0h6m112 0h18m-13 0h1m22 0h17m3 0h6m106 0h7m17 0h2M30 14h19m18 0h8m0 0h6m108 0h4m1 0h4m0 0h9m0 0h2M0 16h17m17 0h7m15 0h10m111 0h10m14 0h2m77 0h17m0 0h11M197 17h5m14 0h10m36 0h12m0 0h17m20 0h8m21 0h20m-1 0h12M176 18h9m-1 0h14m-13 0h4m25 0h11m0 0h1m141 0h13M183 19h6m1 0h6M188 20h18m-9 0h3m86 0h11m0 0h6m0 0h15m1 0h22m-1 0h2M284 21h23m0 0h6M101 22h19M184 23h6m0 0h6M52 24h14m120 0h18m29 0h5m6 0h10m4 0h15m0 0h7m0 0h8m6 0h16M173 25h6m0 0h9m0 0h7m0 0h3M31 27h7m20 0h10m-3 0h18m4 0h20m47 0h18m12 0h2m76 0h20M132 29h14m0 0h8m22 0h10m2 0h10m8 0h8M306 30h2M17 31h20m3 0h21m0 0h9m0 0h12m30 0h7m0 0h13m0 0h16m36 0h8m6 0h14M201 32h4M46 33h18m135 0h6m1 0h4m48 0h11m-1 0h20m13 0h15M80 34h20m49 0h14m0 0h13m5 0h8m24 0h3M87 35h13m20 0h11m5 0h11m52 0h4m2 0h6m13 0h4m35 0h6m13 0h16M2 36h18m1 0h9m160 0h9m2 0h2M66 37h4m198 0h12M200 38h10m-1 0h8M19 39h19m0 0h16m20 0h2m158 0h23m32 0h23M82 40h6m93 0h8m53 0h22M2 41h23m16 0h1m106 0h10m72 0h9m0 0h6m-4 0h21m-16 0h8M213 42h1M179 43h6m0 0h4M37 44h14m208 0h9m60 0h18M29 45h11m0 0h13m40 0h8m51 0h14m-4 0h11m-7 0h15m2 0h6m1 0h8m0 0h8m-5 0h12m-7 0h2m21 0h2M298 48h10M148 49h13M130 50h17m50 0h3m18 0h8m134 0h4M188 51h4m2 0h6M80 52h15m97 0h4M208 53h9m79 0h13M150 54h12m-1 0h14m1 0h12m10 0h12m0 0h17m1 0h10m76 0h20m-1 0h20m10 0h7M30 56h10m14 0h2m8 0h23M205 57h7M206 59h21m9 0h19M84 60h6M32 61h13m54 0h16m51 0h12m-2 0h3m3 0h8M96 62h12m38 0h20m0 0h17m-1 0h5m-4 0h1m32 0h10M206 63h6m112 0h6m28 0h8M97 64h15m0 0h1m37 0h8m13 0h15m15 0h4m46 0h24M189 65h19M55 67h20m0 0h5m12 0h7m-1 0h3m59 0h2m29 0h11m15 0h6m7 0h8M62 69h10m0 0h8M34 70h9m0 0h13m44 0h4m126 0h18M204 71h2M55 73h7m5 0h4m19 0h10m15 0h19m8 0h7m0 0h11m24 0h8m-1 0h20m3 0h13m0 0h7m61 0h5m0 0h13m44 0h17M156 74h10m0 0h4m42 0h14m-1 0h11M106 75h8m26 0h13m3 0h7m65 0h7m131 0h17M190 76h7M107 78h5M106 79h9M121 81h9M101 82h10M175 84h8m0 0h6M110 86h4m68 0h8m130 0h10m45 0h9M140 88h8m0 0h2m147 0h20M194 89h9M0 90h7m36 0h6m75 0h12M186 91h10m2 0h9M0 92h8m51 0h12m107 0h8m3 0h7m15 0h1M158 93h13m-4 0h3m0 0h8m-7 0h17m-10 0h4m2 0h4m1 0h1m40 0h16m0 0h6m90 0h22M38 94h6m142 0h5m0 0h3M114 96h19M46 97h14m5 0h13m14 0h10m27 0h8m0 0h20m6 0h13m-1 0h6m0 0h19m0 0h4m0 0h15m-12 0h16m-4 0h13m-9 0h19m-11 0h6m5 0h7m29 0h21m-2 0h4m24 0h5M0 98h6m16 0h13m-1 0h11m68 0h14m33 0h18m36 0h11m6 0h18m40 0h18m3 0h16m37 0h10M54 99h6m97 0h9m17 0h20m39 0h7m69 0h3M60 100h17M21 102h18m146 0h5m72 0h18m30 0h4M86 103h10m4 0h7m6 0h13m0 0h8m0 0h6m2 0h5m28 0h14m3 0h16m-14 0h13m-10 0h6m5 0h2m122 0h6M196 104h7m145 0h9m0 0h12M171 107h6m3 0h4m0 0h7m0 0h5m0 0h7m55 0h22M99 108h10m4 0h10m19 0h10m1 0h19m4 0h12m-8 0h4m6 0h6m-2 0h13m45 0h6m1 0h11m0 0h7m-1 0h4m0 0h10M0 109h18m138 0h6m0 0h14m12 0h2m10 0h19m19 0h11M12 110h22m149 0h8M189 111h9m10 0h7m11 0h10m23 0h15M120 112h15m38 0h16M100 113h12m98 0h6M154 116h11m0 0h15m10 0h8m28 0h8m14 0h2m92 0h12m22 0h8M78 117h2m76 0h8m-1 0h8m17 0h11m0 0h3M165 118h7m-1 0h18m-6 0h11m-1 0h23m-20 0h5m-1 0h10m0 0h7m38 0h15m20 0h14m0 0h9m22 0h7M60 119h2M162 120h16M38 121h16m252 0h14M202 122h4M161 123h12M158 124h14m-1 0h15m1 0h12m0 0h6m0 0h14M53 125h16m19 0h10m4 0h12m20 0h10m0 0h15m5 0h19m12 0h15m62 0h13m4 0h14m19 0h6m33 0h2M181 126h10m-5 0h16m-11 0h5M193 127h5m109 0h17m7 0h12M187 128h10m21 0h10M0 129h16M194 130h2M180 131h4m42 0h12M0 132h2m119 0h11m0 0h12m0 0h18m56 0h10m29 0h22M170 133h10M32 134h10m150 0h6m0 0h7m10 0h4m69 0h19M30 135h16m39 0h3m96 0h19m0 0h13M260 136h14M189 137h4m1 0h9m0 0h2M150 138h8m2 0h14m7 0h9m0 0h8M205 139h23M123 140h15m62 0h19m0 0h8M0 141h10m15 0h10m0 0h6m9 0h19m33 0h10m31 0h7m3 0h20m0 0h12m-5 0h8m-3 0h18m-13 0h4m63 0h7M169 142h10m-1 0h7m3 0h5m23 0h10M156 143h10m12 0h16m142 0h6M46 144h23m107 0h18m-1 0h18m75 0h8m66 0h21m-1 0h3M31 145h16m105 0h15m20 0h6m-4 0h18M20 146h8M2 147h11m0 0h23m140 0h8m30 0h14m68 0h6M170 148h21m0 0h18m-17 0h10M268 149h11m1 0h8M10 150h9m22 0h8m9 0h6m100 0h14m13 0h7m9 0h15m0 0h16m-4 0h6m1 0h21m0 0h10m5 0h20m36 0h14M146 151h8m50 0h12m0 0h9m0 0h15m-1 0h18m0 0h10M28 152h6m0 0h12m0 0h2m56 0h14m0 0h4m52 0h12m9 0h7m-3 0h4m40 0h10m2 0h7m-1 0h5m18 0h18M128 153h14m28 0h9m0 0h12m-11 0h10m0 0h10m0 0h5m1 0h5m-2 0h13M5 154h18m45 0h14m34 0h10m32 0h13m0 0h8m18 0h18m0 0h18m5 0h20m9 0h16m3 0h19M142 155h19m36 0h22M260 156h12M184 157h13m89 0h4M140 159h15m45 0h5M152 160h4m11 0h24m0 0h17m0 0h8M221 161h9m23 0h9m0 0h1m60 0h17M122 162h19m7 0h21m0 0h13M178 163h14m20 0h8M216 165h8m0 0h12m0 0h8M154 166h21m-1 0h9M156 167h21m8 0h9m84 0h4M180 169h4m-2 0h21m-7 0h5m2 0h7M182 170h6m-1 0h3m12 0h15m0 0h6m1 0h4M73 172h9m19 0h24m0 0h9m0 0h9M175 173h3m8 0h3m0 0h7m19 0h14M247 174h12m29 0h11M170 175h15M176 176h9m-2 0h5m-3 0h8M60 178h22m92 0h17m-5 0h6m164 0h2M190 179h9m0 0h4m17 0h24m1 0h23m17 0h7m0 0h18m0 0h19m0 0h13M184 180h6m-1 0h6m0 0h10m0 0h3M172 181h7m6 0h6m0 0h6m5 0h6M144 182h10m0 0h13m9 0h4m12 0h8M4 184h13m147 0h2m10 0h6m5 0h7m128 0h2m56 0h4M191 185h15M184 186h20m-16 0h4M26 187h8M38 188h19m-1 0h1m211 0h5M114 190h6m7 0h4m0 0h16m0 0h20m2 0h12m2 0h10m16 0h13m12 0h14m19 0h10m40 0h13m3 0h4M116 191h7m-1 0h9m2 0h13m28 0h15m27 0h6m4 0h2m18 0h8m2 0h8m8 0h12m8 0h12m0 0h7m66 0h6M89 192h5m48 0h19m9 0h13m6 0h15m18 0h19m13 0h9m26 0h16M194 197h2M105 198h13m0 0h17m26 0h16m8 0h6M156 200h10m26 0h4M162 201h6m0 0h14m4 0h4m2 0h6m162 0h12M192 202h6m55 0h7M204 204h14M288 205h11M114 207h13m52 0h15m0 0h4m0 0h6M326 208h16M232 209h15m-1 0h18m20 0h1M120 210h12m82 0h8m44 0h6M50 211h2m51 0h7m15 0h14m6 0h6m60 0h7m45 0h19m14 0h16m36 0h9M110 214h7M163 215h9m1 0h7m7 0h4m79 0h13M97 216h17m49 0h21m-1 0h4m-4 0h10M18 217h2m298 0h11M0 218h19m169 0h12m52 0h12m0 0h9m0 0h22m12 0h17m54 0h5M35 219h19m131 0h3M74 220h10m82 0h9m0 0h13m26 0h12M116 221h16m103 0h24m79 0h12M168 222h15m9 0h4M82 225h4m102 0h11M179 227h6m0 0h9M304 229h14M301 230h10M108 231h11m2 0h17m0 0h10m0 0h4m44 0h9m0 0h7M320 232h7M68 233h14m1 0h9m45 0h5m4 0h4m21 0h10m3 0h23m-21 0h14m-9 0h6m3 0h7m20 0h13m13 0h20m11 0h13m-11 0h8m2 0h18m2 0h1m43 0h18M104 234h10m17 0h19m23 0h19m0 0h14M38 236h16m10 0h12m10 0h15m74 0h13m138 0h8M185 237h4m-2 0h9m-3 0h5m3 0h4m67 0h10m76 0h8M268 238h8m17 0h14M338 239h11M96 242h9m2 0h11m10 0h17m-4 0h20m12 0h16m10 0h17m0 0h5m1 0h6m14 0h8m-1 0h14m-7 0h12m0 0h10M82 243h21m0 0h13m13 0h8M26 244h6m145 0h5m9 0h13m7 0h9m54 0h12m21 0h24M200 245h6M107 246h21m67 0h3m70 0h11m31 0h9m3 0h19m19 0h5m5 0h14M0 247h6m165 0h5m44 0h11m39 0h22M72 249h17m109 0h14"/></defs>
<use href="#B2_3" stroke="#e65440" stroke-width="1.6" stroke-opacity="0.34"/>
<defs><path id="B2_4" d="M181 0h6m17 0h6M106 1h16m0 0h11m1 0h18m6 0h5m2 0h6m23 0h16m0 0h6m3 0h4m15 0h12m20 0h7M76 2h7m0 0h8m41 0h15m10 0h18m3 0h22m0 0h6M16 4h8m0 0h6m196 0h6m60 0h23m0 0h9M286 5h8M133 6h9m118 0h10M154 7h7m0 0h5m76 0h24m52 0h16M42 9h22m0 0h10m239 0h7M0 10h2M92 11h6m38 0h18m18 0h19m-14 0h17m1 0h12m10 0h13m18 0h15m32 0h19M70 12h4m98 0h7m-1 0h18m3 0h17m2 0h12m0 0h11m4 0h9M175 13h6m7 0h4m26 0h8m139 0h16M142 15h21m0 0h7M17 16h17m7 0h15m28 0h8m34 0h20m0 0h15m0 0h10m0 0h7M162 17h20m-1 0h8m1 0h12m89 0h20m8 0h12m-1 0h5M180 20h8m-1 0h10M313 21h13M78 22h11m0 0h8m23 0h2M204 23h18m0 0h11m0 0h9m60 0h12m0 0h6M156 24h17m0 0h11m32 0h17M6 27h8m0 0h17m7 0h10m5 0h12m42 0h16m1 0h14m4 0h8m26 0h18m-1 0h13m1 0h19m0 0h13m43 0h17m-1 0h20m0 0h8M0 28h10M12 29h12m144 0h8M174 30h6m160 0h2M0 31h13m69 0h10m0 0h2m124 0h17M196 32h5M36 33h10m40 0h14m0 0h16m172 0h6m0 0h7m15 0h4M100 34h21m0 0h10m60 0h22M130 35h4m134 0h14m17 0h17M162 37h18m-12 0h1m11 0h12m152 0h2M280 38h9m0 0h11m0 0h8m0 0h15m4 0h9M53 39h21m117 0h9m0 0h2m58 0h17m0 0h12m25 0h4M172 40h9m9 0h6m1 0h5m0 0h2m74 0h12M180 41h4m16 0h6M195 42h6m-3 0h15m87 0h21m0 0h3M0 44h8m0 0h11m0 0h18m147 0h8m154 0h13M173 45h13m58 0h18M156 46h16M162 49h15m0 0h9m2 0h1M100 50h8m-1 0h7m0 0h16m17 0h3M42 51h11m0 0h14m5 0h4m86 0h15M142 53h2m165 0h11m0 0h13M80 54h2m273 0h8M156 55h2M87 56h12m0 0h15m74 0h8m-6 0h10m-2 0h2m0 0h5m-3 0h12m-9 0h7M210 57h20M250 58h2m112 0h7m0 0h11M48 59h6m200 0h7m0 0h24M72 61h7m0 0h20m16 0h6m2 0h24m0 0h15M194 62h2m90 0h8m0 0h8M78 64h19m141 0h14m23 0h8m0 0h6m1 0h6M185 66h3m4 0h1m73 0h4M184 67h7m10 0h16M55 70h11m0 0h8m74 0h10M192 71h10M240 72h18M106 73h10m18 0h8m18 0h14m-1 0h5m66 0h18m0 0h9m0 0h12m0 0h12m27 0h17m4 0h11M180 74h13M114 75h6m68 0h18m2 0h21M183 76h5M184 78h6m4 0h6M104 81h17m8 0h12M111 82h8m0 0h12m181 0h12m0 0h2M166 84h8M174 86h8m8 0h10m0 0h4m129 0h7m0 0h20m0 0h15M146 87h19m3 0h24M70 88h16m174 0h23m5 0h9m23 0h4M12 90h16M174 91h2M40 92h19m12 0h7m0 0h17m102 0h7m142 0h10M162 93h5M197 94h3M212 95h10M156 96h10M102 97h19m-1 0h5m33 0h5m23 0h9m-1 0h6m3 0h6m40 0h18m2 0h15m0 0h13m4 0h13M93 98h20m11 0h6m-3 0h15m0 0h13m-3 0h14m-11 0h6m5 0h8m4 0h13m-13 0h15m-2 0h7m-5 0h13m-4 0h12m16 0h4m14 0h11m0 0h8m0 0h10m-1 0h13m41 0h12m1 0h15M166 99h13m41 0h8m21 0h23m4 0h21m0 0h21M15 102h6m17 0h8m0 0h5m0 0h6m0 0h18m0 0h4m1 0h17m0 0h6m0 0h20m0 0h18m4 0h17m1 0h18m-1 0h14m2 0h17m0 0h16m0 0h4m3 0h6m2 0h14m22 0h5M188 104h8M220 107h2m22 0h14m22 0h16M186 108h9m16 0h5m17 0h8m0 0h11m38 0h16m-1 0h16M18 109h16m0 0h22m0 0h8m108 0h9m-5 0h9m0 0h11M100 110h10m222 0h6M214 111h12m10 0h24m19 0h7M110 112h6m18 0h17m1 0h21m16 0h3M222 113h9M181 116h6m0 0h7m160 0h7m0 0h7m0 0h7M60 117h18m46 0h6M38 118h17m2 0h22m0 0h15m27 0h6m17 0h8m16 0h15m33 0h24m0 0h9m0 0h6m16 0h19m23 0h22m9 0h11m0 0h3M182 119h8M211 121h21M219 124h22m4 0h11M114 125h20m49 0h7m19 0h6m16 0h6m0 0h16m0 0h13m37 0h5M310 126h15m2 0h12m0 0h16m0 0h2M187 127h5m133 0h6m14 0h12M20 128h6m171 0h2m143 0h8M242 131h6M72 132h14m0 0h24m0 0h12m106 0h12M188 134h4m13 0h6M156 135h17m0 0h9m102 0h16M0 136h14M133 138h14m2 0h7m22 0h12M149 139h8m27 0h21m23 0h8M132 141h12m0 0h9m20 0h5m18 0h10M102 142h6m0 0h14m20 0h12M201 143h9m118 0h6M68 144h6m236 0h4M169 145h19M236 146h13m0 0h13M262 147h10m88 0h16M164 148h2m58 0h4M198 149h16M19 150h7m-1 0h16m108 0h15m15 0h11m-8 0h9m-1 0h17m-3 0h6m12 0h11m10 0h6m13 0h11m0 0h22m17 0h16m-10 0h7M84 151h2m68 0h4M176 152h5m-1 0h6m3 0h5m0 0h5M58 153h12m0 0h6m149 0h3m22 0h4M23 154h18m4 0h14m40 0h11m15 0h16m38 0h9m70 0h8m42 0h17m-1 0h23m3 0h22m0 0h12M140 156h17m-1 0h15m12 0h3m14 0h4m170 0h2M28 157h6m163 0h12m2 0h12m0 0h19m1 0h7M110 160h19m0 0h23m8 0h7m22 0h6m0 0h9m26 0h10m46 0h8M143 161h12m5 0h6m5 0h17m-10 0h2m8 0h6m0 0h15m-1 0h13m9 0h12m3 0h6M141 162h7m114 0h8m0 0h23m-1 0h7M302 163h10M186 165h14M184 169h6M206 173h9m14 0h5M240 174h6m13 0h18m0 0h11m11 0h5M42 176h4m106 0h18m0 0h13m10 0h6m1 0h4M178 177h20m0 0h10M240 178h20m0 0h6m100 0h17M176 179h9m-3 0h20m-17 0h4m13 0h19M188 180h10m4 0h10m2 0h12M16 181h7m-1 0h7m153 0h20m-3 0h1M167 182h9m80 0h10M152 184h6M170 185h11m-1 0h10m15 0h8M208 187h2M376 188h8M230 189h20m-1 0h19m0 0h4M121 190h6m54 0h9m0 0h10m0 0h10m0 0h2m10 0h12m20 0h13m26 0h10M146 191h5m0 0h17m0 0h12m0 0h12m3 0h14m-1 0h8m10 0h15m-3 0h4m3 0h19m0 0h8m12 0h10m0 0h18m0 0h17m0 0h6m6 0h2m19 0h15M186 194h4M236 196h4M216 199h4M210 201h9m-1 0h15m0 0h12M12 203h18M250 205h7m0 0h13m1 0h18m15 0h14M200 206h20M129 207h9m0 0h24m0 0h12m6 0h5m-1 0h6m0 0h3m1 0h14M236 208h8M132 210h2m48 0h6M3 211h4M60 212h19m-1 0h9M116 214h10m1 0h4M180 215h7m96 0h3M68 216h23m23 0h23m0 0h14m0 0h12M172 218h2m2 0h10m14 0h19m1 0h17m87 0h2M189 219h4M84 220h6m136 0h12M2 221h2M183 222h9m58 0h8M54 225h14m0 0h14m116 0h3M252 226h4M382 228h2M32 231h11m-1 0h7m139 0h7M94 232h13m0 0h7M114 233h16m0 0h14m7 0h14m35 0h5m0 0h3m-1 0h20m-6 0h14m41 0h7M76 234h10m0 0h18m10 0h17m179 0h18M44 235h4M174 237h13m-11 0h9M276 238h13m18 0h5M258 239h10m56 0h10M186 240h5M57 242h13m1 0h9m0 0h16m22 0h19m27 0h9m47 0h16m1 0h16m19 0h11m-6 0h10m0 0h11M139 243h10m43 0h6M154 244h15m0 0h22m13 0h8m8 0h21m55 0h12M26 246h11m3 0h13m0 0h16m4 0h20m0 0h14m21 0h8m-1 0h6m1 0h6m30 0h17m39 0h21m0 0h13m22 0h20M6 247h13M194 248h4m140 0h24m0 0h4M126 249h16m90 0h18m-1 0h10"/></defs>
<use href="#B2_4" stroke="#e65440" stroke-width="1.6" stroke-opacity="0.34"/>
<use href="#B2_1" stroke="#f4a38b" stroke-width="0.75"/>
<use href="#B2_2" stroke="#dd4c36" stroke-width="0.75"/>
<use href="#B2_3" stroke="#9c1719" stroke-width="0.75"/>
<use href="#B2_4" stroke="#5a0a0c" stroke-width="0.75"/>
</g></g></g>
<g transform="translate(589.6 866)">
<rect width="194.3" height="358.6" fill="#fdf2ee"/>
<rect x="83.5" width="27.2" height="358.6" fill="url(#band)" opacity="0.2"/>
<g filter="url(#soft)"><g transform="scale(0.5 1.4344) translate(0 0.5)" fill="none">
<path d="M138 0h54M28 2h7M118 3h59m-3 0h93M0 4h79m134 0h16m143 0h4m3 0h10M73 6h6m108 0h39M287 7h91M73 8h36M9 9h87m-73 0h34m196 0h37M0 10h147m-71 0h22m47 0h18m6 0h4M157 11h24M93 12h9m107 0h18M65 13h52M13 14h19m47 0h12m187 0h97M43 15h18M104 16h67m193 0h25M33 17h26m207 0h21M182 18h201M53 19h128M91 20h227m-172 0h10M167 22h70m-65 0h49M319 24h57M0 25h9m-2 0h55M93 26h41m64 0h22m-10 0h35M59 28h16m171 0h11M24 29h167m-139 0h67m-59 0h11m225 0h47M191 30h35m30 0h3M111 31h9m154 0h57M0 33h31m148 0h140m24 0h46M49 35h18M169 36h16m4 0h44M83 37h10m269 0h2M15 38h111m9 0h28m108 0h22m-13 0h6m1 0h39M248 40h92M19 42h36m206 0h79M27 43h18m87 0h93m51 0h95m-88 0h34M281 47h20M149 48h13M0 49h155M59 50h58m-45 0h68M135 51h36m-12 0h8m24 0h71M278 52h22M0 53h34m158 0h12M34 55h52M82 56h53m23 0h43M220 57h140M370 58h3M0 59h127m-87 0h11m64 0h23m195 0h38M70 60h104m3 0h128m-85 0h141m-81 0h21M19 61h23m112 0h133m-99 0h33m128 0h32M0 62h95M364 63h17M71 64h2M89 65h37m-13 0h22m-22 0h32m-31 0h30M19 66h42m146 0h5M65 67h79m-9 0h39M136 69h172M0 70h107m107 0h10M49 72h4m21 0h109m-88 0h65m132 0h96M27 75h91m204 0h67M187 76h69m-53 0h100m37 0h2M78 78h57M102 79h30m88 0h41m95 0h31M189 80h51m-48 0h68m3 0h12M29 81h30m232 0h35M307 82h12M272 83h37M167 84h107M68 85h51m-50 0h19M309 88h80M67 90h50M11 91h107m249 0h22M94 92h38m-21 0h13m47 0h15m45 0h14m89 0h55M0 93h164M161 95h11m49 0h49M265 96h17m-1 0h16M16 98h58m94 0h22m131 0h53M66 100h46m11 0h116m-107 0h4m99 0h11m45 0h25M180 101h53M193 102h9m137 0h49M81 103h137m-84 0h104m-3 0h7M0 105h66m-61 0h84M296 106h38M6 107h30M306 108h13M16 109h52m-29 0h74m10 0h53M48 110h12M133 111h95M0 112h107m220 0h20M122 113h17m111 0h23m49 0h26M111 115h15m44 0h105m-40 0h54M226 116h53M19 117h174m125 0h71M50 118h129m-44 0h2m90 0h53M123 119h124M0 121h122m-90 0h33M310 122h31M71 124h10M118 125h53m-42 0h16m156 0h12M15 127h24m35 0h2m237 0h13m28 0h13M0 129h196m-97 0h2M38 131h104m-62 0h68M0 134h301m43 0h33M158 135h20M19 136h118m-95 0h101M0 137h10M196 138h75m-32 0h150M36 140h35m138 0h46M59 142h61M91 143h34m50 0h39M0 144h108M66 145h49m105 0h169M24 147h3m23 0h52m-52 0h200m-157 0h105M18 148h9M20 149h62m268 0h38M67 150h51M278 151h110m-52 0h33M45 152h4m200 0h91M45 153h56m135 0h27m63 0h63M189 154h72M296 155h58m16 0h19M319 156h23M345 157h11M340 158h19M238 159h40M107 160h10M38 161h4m36 0h136M350 162h9M183 163h64m56 0h24M257 165h11m19 0h7M146 166h14m200 0h12M119 168h28M101 169h52m-20 0h219M185 170h34M130 174h31m16 0h12m94 0h38M0 175h88m62 0h6M14 176h93m-34 0h12m32 0h21M0 178h146m16 0h14m57 0h18m-12 0h24M256 179h127m-54 0h8M0 180h72m-45 0h57m87 0h12m-10 0h103m-97 0h210m-114 0h114M0 182h142M83 183h8m-3 0h32m-6 0h42m-11 0h187m-125 0h68M134 184h31M357 187h15M0 189h98m-41 0h12m45 0h195m-117 0h93m10 0h37M138 190h8m7 0h91M50 191h38m7 0h88m5 0h200M65 192h86m48 0h3M253 193h95M21 194h169M15 195h26m-14 0h76m-36 0h102m-79 0h15M224 196h14m92 0h34M114 197h125M98 198h104m89 0h30M93 199h15M34 200h52m51 0h51m66 0h28M149 201h240m-228 0h56m-55 0h3M213 202h7m-1 0h84M257 204h56M0 205h110M97 206h37m65 0h63m22 0h31M0 207h107m178 0h32m36 0h33M93 210h81m43 0h171m-145 0h46M108 216h50M222 217h126m-36 0h42M236 218h3M0 219h55m266 0h68M169 220h45M20 221h63m105 0h62m83 0h56M0 222h78m-1 0h40m203 0h69M118 225h84M286 227h35M7 228h48M258 229h13M61 231h13M57 232h12m20 0h32M0 233h109M60 234h26m160 0h43M318 235h18M301 236h87M0 237h56m-56 0h253m-117 0h183m8 0h9m-5 0h15M194 238h42m87 0h65M0 239h84M0 240h265m-141 0h14M171 241h28M0 242h112m-53 0h97M34 243h80m4 0h5M56 244h132m-2 0h14m1 0h123m-71 0h120M217 245h64m86 0h11M0 246h364m-295 0h5m26 0h50M82 247h85M52 248h12m195 0h61m-35 0h104M46 249h49m219 0h25" stroke="#fbe2d8" stroke-width="1.3"/>
<defs><path id="B3_1" d="M18 0h2m62 0h20m0 0h2m92 0h18m0 0h4M198 1h8M187 2h6M128 3h12m0 0h2m42 0h6m1 0h4m3 0h12m40 0h2m56 0h6m12 0h6M233 4h12m6 0h4M52 5h17m4 0h10m-1 0h4m2 0h4m148 0h7m0 0h10m21 0h7m0 0h11m-3 0h6m11 0h20M24 6h6m114 0h16m0 0h4m4 0h12m7 0h8m-3 0h2m32 0h13M0 7h13m186 0h3m55 0h8M181 8h18m15 0h11m3 0h18m70 0h14M195 9h2m176 0h8M185 10h2m178 0h4M241 11h7m0 0h3m6 0h13m0 0h7m0 0h2m-2 0h10m1 0h10M260 12h2M181 13h10m0 0h10m94 0h7m-1 0h5M170 14h2m46 0h2m124 0h2M99 15h10m98 0h2m14 0h2M70 16h2m26 0h4M198 17h5M197 18h7m0 0h5M57 19h2m30 0h17m-1 0h8m0 0h7m35 0h14m2 0h6m94 0h12m-1 0h2M131 20h4m114 0h7m-1 0h6m1 0h16m6 0h9M80 21h3m254 0h17m2 0h11M105 23h10m116 0h20m-1 0h4M44 24h2m102 0h4m196 0h2M64 25h2M115 26h6m69 0h6M55 27h11m1 0h3m13 0h6m16 0h6m40 0h17m0 0h18m-10 0h7m24 0h6m71 0h8M215 28h8m46 0h14m20 0h8m-1 0h16M224 29h5M43 30h2M97 31h15M24 32h10m88 0h10m0 0h4M103 33h6m16 0h6m136 0h8M118 34h8m56 0h2m50 0h2m118 0h2M63 35h12m14 0h2m48 0h2m29 0h3m8 0h14m22 0h2m4 0h8m50 0h2m4 0h4m32 0h12m42 0h11M35 36h8m4 0h4m34 0h10m92 0h12M205 37h8m66 0h4m80 0h8m14 0h4M104 39h4m20 0h2M38 40h2m64 0h12m70 0h4m0 0h2M110 41h12m76 0h2M120 42h19m0 0h7m18 0h6m18 0h8m132 0h2m22 0h6M103 43h14m0 0h15m65 0h4m22 0h2m160 0h2M17 44h2m2 0h2m64 0h8m290 0h2M1 45h19m0 0h19m-15 0h2m12 0h6m12 0h11m84 0h8m12 0h6m5 0h8m65 0h4m106 0h7M29 46h14m0 0h10m146 0h13m-1 0h7M170 47h15m59 0h6m94 0h7M58 48h7m0 0h13m40 0h8m122 0h4m112 0h6m14 0h4M221 50h6m26 0h2M204 51h8m56 0h8M33 52h8m40 0h18m0 0h14M286 53h4M48 54h10m4 0h8m28 0h14m230 0h8M89 55h18m46 0h2m26 0h9M55 56h3m152 0h12m11 0h3M32 57h2m18 0h7m97 0h3m26 0h7m3 0h3m14 0h12m0 0h2m8 0h2M269 58h10m0 0h6M0 59h20m37 0h10m50 0h10m28 0h6m108 0h4m3 0h8m0 0h4m35 0h19m0 0h9M307 60h16M33 61h10m22 0h2m12 0h8m100 0h8m0 0h2m120 0h16M193 62h8m1 0h1m1 0h10m0 0h2m102 0h10m24 0h2M146 63h17m37 0h2M160 64h2M178 65h7m0 0h7M189 66h2m60 0h15m74 0h8M182 67h6M197 68h5m56 0h11m0 0h7m17 0h3M232 69h3m94 0h4M128 70h15m0 0h7M166 71h15M189 73h9M14 74h6m32 0h2m20 0h16m82 0h16m34 0h8m0 0h8m28 0h10m0 0h4m58 0h2M233 75h4m114 0h11m0 0h3M105 76h6m8 0h8m63 0h5m50 0h8m18 0h2M173 77h7M164 78h15m11 0h4M12 79h10m0 0h10m60 0h8m123 0h10m39 0h1m5 0h14M28 81h11m51 0h10m88 0h2m10 0h9m0 0h9m1 0h3M40 82h17m283 0h6m20 0h8M61 83h4M41 84h6m139 0h3m9 0h5m0 0h1M0 85h9M101 86h10M50 87h20m24 0h9m30 0h10m-1 0h14m0 0h19m17 0h7m92 0h14m12 0h15M56 88h4m34 0h4m172 0h10m100 0h9M90 89h10m72 0h2m44 0h8m22 0h10m78 0h10m10 0h7m2 0h11m10 0h2M34 90h2m42 0h6m0 0h8m110 0h4m8 0h4m86 0h16M51 91h14m-1 0h6m125 0h6M14 92h6m220 0h16M69 94h7m4 0h3m254 0h6M71 95h8m124 0h6M144 96h14m9 0h7M76 97h4m214 0h12M0 98h8m76 0h6m78 0h10m14 0h2M89 99h14m1 0h4m72 0h6m34 0h2m76 0h6m14 0h8m0 0h6M55 100h6m168 0h16m0 0h10m26 0h2m102 0h2M38 101h20m12 0h6m170 0h15m0 0h5m58 0h10m8 0h15m0 0h13M13 102h6m16 0h4m212 0h6M320 103h2M15 104h2m44 0h1m13 0h11m34 0h3m75 0h4m0 0h1M30 105h5m154 0h5m-1 0h4m102 0h4m79 0h4M162 106h14m14 0h6m58 0h4m104 0h6M26 107h12m30 0h6m113 0h9m1 0h4m33 0h6M124 108h10m64 0h4M80 109h19m4 0h13m93 0h10m0 0h6m0 0h4m54 0h5m32 0h2M79 110h9m0 0h3m95 0h6m5 0h10m-1 0h8m83 0h15m-1 0h5m11 0h8m14 0h15M96 111h14m0 0h10m58 0h2m104 0h13m39 0h8M160 112h14m18 0h18m3 0h5m11 0h17m8 0h9m17 0h9m0 0h17M18 113h13m0 0h5m52 0h2m134 0h12m0 0h7m0 0h8m123 0h10M91 114h2m137 0h16m132 0h6M185 115h6M381 116h4M9 117h8m60 0h4M46 118h6m181 0h9m24 0h6M31 119h4m138 0h6m34 0h16M17 120h7m-1 0h14m5 0h7m152 0h7m61 0h12m-1 0h14m0 0h11m0 0h9M18 121h2m92 0h2m32 0h6m14 0h13m0 0h5m10 0h7m0 0h5m54 0h13M195 122h4M244 123h8m0 0h10M196 124h4m33 0h2M71 127h19m4 0h14m17 0h9m1 0h7m158 0h9M158 128h2m14 0h4m92 0h14m20 0h15M54 130h10m130 0h18m72 0h4M34 131h14m22 0h2m22 0h18m54 0h13m41 0h2m56 0h9m4 0h17M119 133h5m33 0h6M40 134h6m70 0h10m26 0h17m-16 0h7m9 0h11m1 0h5m4 0h2m16 0h12m44 0h4m38 0h6m0 0h2M200 135h2m158 0h8M166 136h4m34 0h2M204 137h7M168 138h2m28 0h6M15 139h8m3 0h2m5 0h6m100 0h2m36 0h4m26 0h10m62 0h15m-1 0h1m13 0h6M34 140h5m30 0h6m47 0h8m8 0h2m24 0h8m1 0h3m8 0h4m16 0h18m-15 0h9m6 0h10m6 0h7m17 0h3m57 0h6m0 0h2M167 141h13m0 0h13m48 0h6M116 142h18m0 0h12M15 143h20m-10 0h2m26 0h10m50 0h12m0 0h14m-10 0h2m30 0h4m32 0h10m42 0h4m48 0h4m68 0h12m2 0h2M98 145h2m20 0h2m92 0h8M3 146h4m118 0h14m38 0h14m19 0h4m2 0h7M0 147h4m118 0h8m43 0h2m21 0h5m-3 0h13m53 0h16m9 0h11m-10 0h8m0 0h12m-1 0h3M12 148h7m0 0h11m108 0h9m11 0h16m18 0h4M64 149h10m0 0h14m0 0h6m99 0h7M8 150h10m0 0h9m73 0h6m10 0h8m24 0h9m91 0h7m2 0h1M193 151h9m0 0h3M3 152h4M63 153h4m108 0h8M266 154h6m12 0h4M234 157h4m132 0h2M12 158h18m0 0h4m122 0h17m0 0h14m35 0h16m-5 0h3m21 0h8m106 0h2M259 159h17m1 0h7m59 0h15M43 160h18m10 0h6m118 0h4m146 0h6M0 161h2M268 162h6M194 163h14m59 0h4m37 0h6m4 0h8m0 0h2m12 0h8M48 164h16m142 0h14m114 0h6M53 166h8m140 0h15m7 0h15m4 0h11M190 167h5m0 0h5m2 0h7m145 0h12M122 168h9m24 0h8m186 0h9m-4 0h4M62 169h15m10 0h8m79 0h2m18 0h14m74 0h8m0 0h10M108 170h6m8 0h11m39 0h1m35 0h13m-5 0h10m0 0h2m13 0h13m40 0h4m0 0h8m41 0h7m1 0h2M77 171h3m43 0h8m8 0h6m24 0h1m17 0h10m6 0h16m0 0h13m-7 0h3m7 0h12m-1 0h11m13 0h7m0 0h15m7 0h7m81 0h2M207 172h13m46 0h14M157 173h2M194 174h9m123 0h8M193 175h6M63 176h16m0 0h6m4 0h11m0 0h3m42 0h8m224 0h12M187 177h6m1 0h3m0 0h2M208 178h11m14 0h8m5 0h10m1 0h9m96 0h10m14 0h2M45 179h9m0 0h3m86 0h16m9 0h7m24 0h4M187 180h8m2 0h5M6 181h4m16 0h12M133 182h10M20 184h14m208 0h9m129 0h4M359 186h14m4 0h2m4 0h6M342 187h17M82 188h6m12 0h16m44 0h6m24 0h4m42 0h2m10 0h4M204 189h10m78 0h10m0 0h4m6 0h2M110 190h4m56 0h14m28 0h16m88 0h14m28 0h12M195 191h15m33 0h8m-1 0h12M121 192h17m0 0h15m0 0h18m10 0h2m4 0h9m-1 0h9m129 0h16m2 0h10M45 193h8m230 0h8m0 0h2M186 194h4M0 195h15m3 0h2m156 0h2m146 0h4M16 196h14m0 0h8m34 0h14m3 0h5m114 0h4m18 0h2m28 0h7M59 197h14m-1 0h16m0 0h19m0 0h5m78 0h7M31 198h2m22 0h18m34 0h5m11 0h6m51 0h6m1 0h4m8 0h1M11 199h11m0 0h13m55 0h16m50 0h16m0 0h10M87 201h8M100 202h2M194 203h6m1 0h1m126 0h7m0 0h12m0 0h11m18 0h10M147 205h2m100 0h8m76 0h4m6 0h6M126 206h10m68 0h4m36 0h4m74 0h14M33 207h12m0 0h2m82 0h14m0 0h8m-1 0h14m3 0h4m94 0h2m20 0h2M117 208h8m48 0h4m14 0h12m-7 0h6m47 0h14m0 0h8m25 0h12m7 0h10M224 209h4M0 210h9m0 0h11m6 0h8m22 0h8m146 0h4M45 212h2m8 0h10m2 0h8m114 0h4m22 0h8M15 213h10m156 0h15m2 0h5M208 214h4m142 0h12M183 215h14M134 216h6m136 0h10M110 217h10m94 0h5M129 218h4M51 219h7m33 0h10m-1 0h2m21 0h10m200 0h2m35 0h9M90 220h2m-2 0h7m0 0h8m9 0h19m19 0h12m10 0h13m1 0h14m1 0h8m0 0h14m28 0h16m5 0h12m0 0h7M13 221h6m6 0h7m-1 0h3m73 0h12m-1 0h4m13 0h10M189 222h6m19 0h9M11 223h8M182 224h6m2 0h8m30 0h16m4 0h8m60 0h2m40 0h4m10 0h8m6 0h3M55 225h8m50 0h15m90 0h4M79 226h9m0 0h7m-1 0h9m0 0h3m93 0h20m2 0h19m0 0h19m4 0h3M27 227h1m14 0h2m38 0h2m12 0h6m29 0h15m26 0h4m19 0h15m-1 0h11m11 0h18m0 0h10m27 0h12m2 0h9m1 0h8m16 0h10m2 0h10m-2 0h2M4 228h7m0 0h5m36 0h4m58 0h2m138 0h2M10 229h10m0 0h10m141 0h12m10 0h6m32 0h8m60 0h4m69 0h6M95 230h6m44 0h7m0 0h5m39 0h2m143 0h2M345 232h8M29 234h8m104 0h4M52 235h14m66 0h2m18 0h10m28 0h8m0 0h5M158 236h12m60 0h6M2 239h6m94 0h4m83 0h5m0 0h1m49 0h10M3 240h2m22 0h7m49 0h12M129 241h4m47 0h14M323 242h2M115 243h8M117 244h8m119 0h2M91 245h14m0 0h2m30 0h12M143 246h16m36 0h10m16 0h2M70 247h16m194 0h2m8 0h2m60 0h4M78 248h10m12 0h2M200 249h2m25 0h4m26 0h12m86 0h9"/></defs>
<defs><path id="B3_2" d="M32 0h19m0 0h5m70 0h4m56 0h3m79 0h13m0 0h5M96 2h6m91 0h4m87 0h15m0 0h7M108 3h20m38 0h12m2 0h18m-2 0h2m77 0h8M289 4h14M230 5h6m22 0h8M244 6h10M61 7h6m124 0h9m49 0h4m11 0h2M0 8h6m94 0h9m0 0h3m87 0h5m2 0h2m80 0h6m6 0h2M261 10h6m30 0h2M201 13h6M0 14h2m8 0h4m168 0h8m98 0h15m65 0h10M61 15h4M188 16h8m-1 0h1m24 0h2m24 0h8m4 0h8M191 17h7M5 18h2m172 0h18M183 19h12M189 20h6m83 0h6M209 26h2M3 27h2m106 0h5m3 0h7m15 0h8m16 0h11m9 0h1m29 0h6m56 0h8M222 28h12m92 0h7M209 29h9m-1 0h7M7 31h8m122 0h6m164 0h14M59 32h11m108 0h8m16 0h8m0 0h20M87 33h4m64 0h11m-1 0h5m21 0h4m102 0h6m34 0h4M0 35h3m46 0h6m24 0h10m70 0h11m189 0h4m4 0h2M122 36h3m26 0h6m48 0h2M1 37h11m109 0h6m28 0h4M107 38h8m1 0h3M170 39h4m146 0h14M55 40h3m92 0h10M180 42h8m8 0h6M11 43h12m312 0h8M197 44h2m64 0h2m16 0h2M48 45h8m209 0h18m0 0h2M185 47h3m163 0h9M130 48h10m33 0h15m58 0h6M113 50h8M41 52h16m148 0h6M274 53h8M88 54h10m253 0h7M192 55h5M48 56h7m167 0h11M216 57h14m50 0h8m0 0h6M59 58h6m0 0h2m218 0h3M25 59h8m14 0h10m10 0h10m190 0h8m30 0h18M187 60h11m-1 0h9m3 0h13M193 61h8m104 0h6M98 62h16m22 0h18m0 0h10M184 63h8M198 65h4M93 66h2m96 0h4m138 0h8M201 67h8m-1 0h1m3 0h20m22 0h10M188 68h9m89 0h7M213 69h17M0 71h6M97 73h13m90 0h6M0 74h4m26 0h2m156 0h2m2 0h3m15 0h4m138 0h8m6 0h6M37 75h9m109 0h10M225 76h10M162 77h11M22 78h4m82 0h4m70 0h6m-3 0h5m166 0h4M162 79h13m6 0h5m34 0h2M345 80h6M238 81h6m58 0h2M57 82h5m34 0h10M125 83h4m30 0h6M1 84h4m185 0h8M182 85h3m0 0h5m1 0h7m189 0h2M33 87h17m5 0h10m8 0h7m0 0h15m8 0h11m2 0h17m42 0h16m-6 0h4m2 0h17m-1 0h14m12 0h12m28 0h17m15 0h12m17 0h18M198 88h6M198 89h20M198 90h2m120 0h6m42 0h8M318 92h18M141 95h9m27 0h6m48 0h6M54 96h4m18 0h4m78 0h9M246 98h2M48 99h4m4 0h6m10 0h17M258 100h13M58 101h13m135 0h6M104 102h13m28 0h11m0 0h9m78 0h8m94 0h2M45 104h17m25 0h18m5 0h9m75 0h4m43 0h4m2 0h15M15 105h15m17 0h4m316 0h16M212 108h15M164 109h10M37 110h6m196 0h11m117 0h16M268 111h8m21 0h3m78 0h10M100 112h11m0 0h11m78 0h5m-5 0h6m0 0h7m-3 0h7m0 0h10m19 0h8m10 0h16M72 113h10m64 0h4m237 0h2M17 114h12m1 0h3m1 0h7m169 0h8m4 0h8m4 0h4m8 0h2m48 0h10M5 115h2m110 0h2m216 0h10M197 116h2M185 117h4m9 0h6m-1 0h5M18 118h2m180 0h12m14 0h7m129 0h14M183 119h13m81 0h2M207 120h7M120 121h12m0 0h4m140 0h14M189 122h7m38 0h2M194 124h2m3 0h1m132 0h8M6 125h12m166 0h2M125 127h18m102 0h2m40 0h13M94 129h6M191 130h3m0 0h3m15 0h6m0 0h14m40 0h2M188 131h6m0 0h3m5 0h6m52 0h4M200 132h1m154 0h6M113 133h7M272 134h4M146 135h12m0 0h12M70 136h8m114 0h12M259 139h4M13 140h12m51 0h11m147 0h4m78 0h7M275 141h2M14 142h13m3 0h8m130 0h4M35 143h6m129 0h4m1 0h4m8 0h8m30 0h18M287 144h7m0 0h8m0 0h2M0 145h8m160 0h14m204 0h3M120 146h2m49 0h2m17 0h20m176 0h2M20 147h8m46 0h10m44 0h9m37 0h18m193 0h2M149 148h7M51 149h13m136 0h7M36 150h2m150 0h2m20 0h18m0 0h10m0 0h6M289 152h14m12 0h12m0 0h19M195 153h12m64 0h2m72 0h6M272 154h12M16 155h12m4 0h6M141 158h9m58 0h6m70 0h7m-1 0h8m2 0h4M246 159h10m70 0h17M122 163h8m46 0h18m61 0h3m94 0h8M190 164h16M215 166h8M154 167h8m177 0h15m12 0h4M342 168h10M0 169h6m71 0h10m47 0h14M20 170h7m0 0h5m42 0h19m1 0h7m90 0h12m-3 0h6m-3 0h3m15 0h17M50 171h6m55 0h5m76 0h6m17 0h8m156 0h8M196 172h11M169 173h6m33 0h13M290 174h14m14 0h8m8 0h10m14 0h4M211 175h2m26 0h8m16 0h8M131 176h10m56 0h4M4 177h16M154 178h12m25 0h4m24 0h14m83 0h7m0 0h11M33 179h9m116 0h9m72 0h10M188 181h9m11 0h18m2 0h4m50 0h8M0 182h3m80 0h2M141 183h10m38 0h7m-5 0h4m74 0h10M0 185h15m0 0h5M77 186h6M22 188h7m201 0h4m102 0h10M248 190h2m80 0h20m20 0h2M209 191h17M102 192h6m0 0h11M205 193h6m148 0h6M190 194h3M136 195h4m28 0h6M8 196h8m142 0h11m1 0h4m4 0h15m81 0h2m42 0h7M73 198h13m-7 0h4m6 0h18m83 0h7m-6 0h7m0 0h3m36 0h8M60 199h6m212 0h12M23 201h7m71 0h12m0 0h2M56 202h8m0 0h8m70 0h10m152 0h8m70 0h7M185 203h8M169 204h11M213 205h6m44 0h4M4 206h6m20 0h2m22 0h6m174 0h2M257 207h8M51 208h8m126 0h5m2 0h3m7 0h1m86 0h8M277 211h11m-1 0h7M139 212h4M195 213h3m5 0h5m0 0h2M4 214h2m138 0h2m220 0h12M46 216h2m172 0h4M103 217h7m12 0h12m65 0h15M119 218h2m69 0h6m2 0h3M35 219h10m13 0h5m129 0h6m159 0h13M105 220h9m19 0h19m11 0h11m18 0h5m5 0h13m0 0h7m3 0h12m2 0h10m25 0h4M177 221h6m18 0h2M191 222h3m0 0h7m-6 0h19m-13 0h1m147 0h10M181 223h13m93 0h12M260 224h8m112 0h6M73 225h8m10 0h12m24 0h3m7 0h2m38 0h16m-1 0h7m9 0h8m128 0h15M199 226h5M14 227h13m19 0h6m12 0h4m54 0h7m91 0h11M306 228h12m0 0h8M134 229h7m0 0h5m6 0h19m17 0h19m32 0h11m0 0h9m-1 0h8m0 0h17m0 0h10m0 0h6m8 0h8m0 0h3M101 230h8m14 0h9m0 0h3m34 0h11m1 0h14m54 0h13M273 231h2M49 233h6m220 0h6M51 234h2m100 0h7m2 0h7M34 237h14m280 0h8M82 239h20m96 0h4m22 0h8M34 240h18m135 0h6m5 0h4m121 0h7m-1 0h3M171 241h9m13 0h3M92 242h9m150 0h2M200 243h2M0 244h10m127 0h12m0 0h17m0 0h2m28 0h10m102 0h8m39 0h1M185 245h7m35 0h2M184 248h4m10 0h12m102 0h12m0 0h2m26 0h9m0 0h5M193 249h2m-1 0h6m118 0h3"/></defs>
<use href="#B3_2" stroke="#e65440" stroke-width="2.0" stroke-opacity="0.35"/>
<defs><path id="B3_3" d="M156 0h12m21 0h8m44 0h7M270 1h14M266 3h9m8 0h9M141 4h6m155 0h4M285 5h7M180 6h12M166 8h15m79 0h4M191 10h2m62 0h6m6 0h10m2 0h11m0 0h7M0 11h3m192 0h18m148 0h3M45 12h7M321 13h7M190 14h8M146 16h8M75 19h8m112 0h16M198 22h2M37 23h2M24 25h12m0 0h2m157 0h5m70 0h4M167 26h12M205 27h2m17 0h14m0 0h3m20 0h2m123 0h3M81 28h2M182 30h9m0 0h6m0 0h1M40 32h14m135 0h7m64 0h2M69 33h7m121 0h3M88 34h2m182 0h8M273 35h2M109 36h13m52 0h4m163 0h8M11 37h1m167 0h9m0 0h7m150 0h12M179 38h3m49 0h2M228 39h16m27 0h12M42 40h11M208 42h16m30 0h6M0 43h11m12 0h12m0 0h18m79 0h9m52 0h5M151 44h7m30 0h2m67 0h4m28 0h4M77 45h6m0 0h8m64 0h6M20 48h6M180 49h4m6 0h8M22 51h8m182 0h11M57 52h4M154 56h4m32 0h4M209 57h6M337 58h8M183 59h7m5 0h5m95 0h6M141 61h10M114 63h10m56 0h4m9 0h5m126 0h2M0 64h2M183 66h4m0 0h3M194 67h4m2 0h8M72 68h4M37 69h9m-1 0h9M12 70h6m151 0h5m110 0h12m12 0h16M225 72h4M122 74h14m26 0h8m26 0h6M23 76h6M25 77h6m77 0h5m115 0h10m32 0h2m76 0h8m0 0h4M225 78h11m78 0h7m28 0h7M186 79h4m0 0h9m5 0h1m112 0h8M325 80h20M64 81h6m0 0h4M0 82h4m370 0h8M189 87h3m30 0h11m12 0h9m0 0h16M214 88h2m74 0h4M112 90h11M241 91h15m-1 0h1M154 92h4m36 0h10M271 93h8m60 0h16m0 0h6m10 0h9M151 94h6m168 0h8m34 0h18M1 95h11m111 0h18m8 0h7m36 0h7m6 0h1M194 96h2M52 97h3m138 0h4m0 0h10m0 0h2M230 98h12M200 99h19M190 101h6M59 102h6m28 0h7m18 0h3m64 0h12m2 0h14m146 0h6M34 106h15m38 0h5m132 0h12M227 108h9M270 109h13M117 110h16m0 0h2m114 0h1M145 112h12m19 0h15m-2 0h9m30 0h9m12 0h7m49 0h2M314 113h8M0 114h2m192 0h16M105 115h2M345 120h2M108 122h13M236 123h2M116 124h2M206 125h13M123 126h14M115 127h10m46 0h8M184 130h7M185 131h3m0 0h5m4 0h6m21 0h14m94 0h4M186 132h4m1 0h9M217 133h6M192 134h6M188 136h9m3 0h4M244 138h4M73 139h8m112 0h4m4 0h2m18 0h6m12 0h8M91 140h5m99 0h3M365 143h4M94 144h2m96 0h2m76 0h17M147 146h6M91 147h7m220 0h20M72 148h6m0 0h14m106 0h2M292 150h12M211 152h11m30 0h9M207 153h14M122 155h2M256 157h10M134 158h7m46 0h9M374 159h8M165 160h6M190 161h15M244 163h8M264 164h2M196 165h11M330 167h9M200 168h2m125 0h15M220 169h14M52 170h8m5 0h9m6 0h4m74 0h14m12 0h1m5 0h8m84 0h12m82 0h8M21 171h10m116 0h10m190 0h10M53 173h2m141 0h12m58 0h4M203 174h3m56 0h2M305 175h8M173 176h14m1 0h4m-1 0h2m0 0h3m17 0h17m77 0h15M28 177h4m98 0h6m106 0h6m120 0h4M183 178h8m-2 0h7M177 179h4m188 0h12M108 180h10M199 181h9M127 182h6m42 0h8M196 183h2m19 0h6m90 0h4M228 184h8m132 0h8M162 185h4M176 187h13M29 188h1m108 0h4M32 190h6m160 0h4M93 192h9m119 0h12m6 0h4M28 194h4M193 196h5m53 0h3m30 0h4m37 0h7M331 198h8m3 0h13M2 199h9m174 0h7m6 0h4M17 201h6m324 0h20m-1 0h2M192 202h9m75 0h8m30 0h12M193 203h10m-9 0h10m28 0h7m35 0h7M0 204h20m160 0h9m-1 0h4M157 205h8M190 206h12m20 0h12m117 0h3m22 0h7m0 0h5M189 207h6m124 0h4m12 0h9M33 208h8m17 0h14m65 0h10m59 0h3M387 211h2M197 212h2M119 213h10m62 0h6M100 214h9m0 0h5M7 215h6m246 0h2M334 216h12M225 217h6M13 219h8m141 0h4m43 0h6M192 220h2m2 0h6M188 221h7M49 222h10M107 223h8m142 0h18m46 0h4M157 225h20m23 0h9m120 0h15M196 226h3M182 227h6M88 229h4m21 0h14m0 0h8m-5 0h12m4 0h6m55 0h4m0 0h20M187 230h8m67 0h5m108 0h2M195 232h14M201 234h7m0 0h11M8 235h4m102 0h7M34 236h2m316 0h2M195 237h7m0 0h3M129 238h6M114 239h2m65 0h9m88 0h9m0 0h3M309 240h6m0 0h8M61 241h2M85 242h7m95 0h6m0 0h4M193 243h7M58 244h10m70 0h2m200 0h15M192 245h4M101 246h6M77 249h2m224 0h15m46 0h3"/></defs>
<use href="#B3_3" stroke="#e65440" stroke-width="2.0" stroke-opacity="0.35"/>
<defs><path id="B3_4" d="M232 0h9m117 0h8M322 2h6m48 0h8M170 5h4m56 0h10m98 0h16m0 0h2M264 6h17m0 0h7M187 7h6m1 0h4M305 10h2M187 11h2m122 0h12m0 0h6m5 0h10M0 12h12m0 0h19m-1 0h8m0 0h7m267 0h2M98 14h6M189 15h10M273 18h4M82 19h2m139 0h14M79 20h4M183 21h15m-1 0h11m75 0h16m-1 0h8M3 23h8m324 0h2M12 25h12m54 0h6m0 0h4m18 0h8m78 0h2M181 26h5m99 0h2M193 27h10m156 0h8m0 0h19M335 28h11m0 0h10m-1 0h7M77 29h4m28 0h10M153 30h16m28 0h6M61 33h8M0 34h7m0 0h5m140 0h13M163 36h12M197 37h2m134 0h12M183 38h5m0 0h3m1 0h4m-1 0h2m18 0h16M254 39h17m11 0h8M336 40h11m0 0h3M76 41h6m84 0h13M224 42h8M73 44h6m102 0h8m178 0h8M125 46h6M292 48h16m0 0h7m0 0h13M86 53h12m0 0h12m146 0h6m68 0h2M169 59h15m1 0h9m-3 0h6m34 0h6M23 60h12m4 0h2M151 61h2m66 0h10m81 0h11m0 0h4M372 62h12m0 0h4M176 63h7m0 0h15m40 0h14m0 0h14m0 0h13m1 0h10M44 64h8M195 66h6M234 67h2M160 70h9m127 0h12M136 74h6m0 0h6m0 0h6m1 0h3m40 0h4m42 0h10m0 0h6M243 77h6m63 0h10M273 78h2M199 79h4M194 83h7M298 88h6M0 89h6m22 0h9m0 0h3m136 0h2m6 0h2m6 0h2m42 0h6M10 90h6m260 0h2M329 91h10m0 0h12M370 92h10M279 93h14m87 0h3M199 95h6M42 97h12m138 0h2M228 99h6m5 0h16m0 0h11m12 0h2M118 101h6M187 102h5m-1 0h5m25 0h14m44 0h4m88 0h9m-1 0h7M2 103h14M367 104h4M135 105h12m26 0h4M8 106h2m39 0h18m0 0h20m125 0h2m22 0h8M248 107h4M274 108h18M28 109h8M138 111h6M140 112h12m28 0h9m48 0h9M302 113h10M186 118h2M220 121h2M121 122h11M342 123h11m3 0h18M248 124h16M219 125h9m50 0h12M59 126h4m74 0h4M59 127h4M116 128h12m54 0h12M6 131h10m0 0h2m220 0h4M211 133h6M202 134h4M315 139h8m0 0h10m20 0h8M279 140h14M69 141h7M79 143h6m26 0h8M182 145h7m1 0h4m84 0h4M2 146h7m12 0h7m257 0h12M3 147h5m76 0h7m128 0h8m125 0h4M96 148h4m152 0h20m0 0h14M140 150h2m202 0h4M138 152h16m0 0h9m5 0h13m0 0h17m0 0h8m17 0h8m3 0h14m13 0h5m0 0h1m6 0h10m63 0h3M229 153h8m84 0h2M15 156h2M282 157h8M106 158h4M382 159h2M116 161h2m87 0h5M386 162h3M188 163h7m0 0h8M207 165h9M118 167h12m66 0h2M201 168h4M184 169h2m160 0h12M146 170h12m114 0h12m0 0h10m90 0h2M75 171h2m46 0h9m24 0h7m0 0h10M241 173h16m0 0h9M188 175h3m0 0h6M19 176h8m-1 0h4m175 0h6m66 0h6m38 0h1M140 177h17m0 0h5M172 178h17M97 179h7m0 0h7m94 0h4M138 181h2M184 182h16M33 183h8m126 0h2M196 184h19m0 0h7m0 0h2M241 186h9m0 0h13m12 0h12m-1 0h2M174 188h4M12 190h4m258 0h2M209 192h4m54 0h17m-1 0h3M106 195h12m68 0h2m2 0h16m86 0h8m42 0h14M238 196h11m93 0h14m0 0h10M39 198h8m1 0h8m301 0h3M136 199h4m52 0h6M129 200h2m192 0h8M0 201h17m124 0h4M116 202h8m38 0h2M101 203h2m35 0h12m15 0h2m72 0h3m138 0h7M216 206h6m122 0h7M221 207h10m8 0h6m99 0h3M43 208h8m21 0h6m0 0h2m271 0h14m0 0h14M40 209h12m0 0h10M244 210h6M365 211h8M151 212h8m0 0h10m84 0h2M174 214h14m46 0h7M306 216h11M27 217h17m-1 0h9m0 0h3m90 0h14m0 0h19m0 0h9m48 0h15m-1 0h5M213 218h12m4 0h3M1 219h10m134 0h18M183 221h5m-5 0h8m4 0h6M197 223h10m122 0h18M275 225h8M349 226h10M204 228h16m0 0h9m0 0h3m36 0h19m0 0h13M121 235h3m232 0h2M340 236h2M187 237h9M203 238h8M152 239h9m0 0h20m9 0h4m118 0h6M221 240h2m14 0h10m124 0h10M211 241h4M141 243h7m-1 0h14m1 0h9M82 244h6m56 0h4m40 0h4m0 0h4M142 247h7m0 0h7m0 0h10M0 248h9m0 0h9m-1 0h11M65 249h8"/></defs>
<use href="#B3_4" stroke="#e65440" stroke-width="2.0" stroke-opacity="0.35"/>
<use href="#B3_1" stroke="#f4a38b" stroke-width="0.75"/>
<use href="#B3_2" stroke="#dd4c36" stroke-width="0.75"/>
<use href="#B3_3" stroke="#9c1719" stroke-width="0.75"/>
<use href="#B3_4" stroke="#5a0a0c" stroke-width="0.75"/>
</g></g></g>
<g transform="translate(839.2 870.5)">
<rect width="193.3" height="355.1" fill="#fef6f2"/>
<g filter="url(#soft2)"><g transform="scale(0.5 1.4204) translate(0 0.5)" stroke-width="1.05" fill="none">
<path d="M171 0h33m-23 0h26m67 0h3M210 1h42M13 2h8m3 0h3m3 0h7m3 0h25m3 0h28m2 0h53m20 0h6m-1 0h35m-18 0h4m154 0h36M367 3h5M42 4h6m0 0h18m36 0h16m9 0h3m18 0h40m44 0h21m0 0h129M167 5h5m0 0h2m4 0h22m-10 0h18m-4 0h14m2 0h27M192 6h16M181 7h30m172 0h4M45 8h2m122 0h33m142 0h6M14 9h6m78 0h20m36 0h66m-31 0h13m20 0h6m-1 0h41m1 0h25M183 10h24m-21 0h15M9 11h28m94 0h8m30 0h20m74 0h2m24 0h10m4 0h10M126 12h74m-2 0h19m-14 0h25m44 0h6M273 13h26m36 0h2m1 0h3M73 15h3m1 0h16m81 0h35m80 0h34m3 0h28m3 0h2m3 0h25M178 17h27M182 18h10M179 19h20m94 0h6m37 0h7m3 0h22M200 20h3M99 22h3m3 0h15m4 0h17m5 0h41m-11 0h25m-10 0h31m5 0h10M79 23h67m0 0h47m-11 0h10M27 24h2m14 0h40m94 0h70m0 0h5m3 0h73m-55 0h5m50 0h5M0 25h7m5 0h23m133 0h35M0 26h66m92 0h24m2 0h16m31 0h4M10 27h4m148 0h9m3 0h106m-104 0h22m86 0h26M28 28h16m3 0h33m3 0h5m90 0h10m4 0h6m122 0h3m5 0h16m3 0h17M23 29h30m96 0h26m47 0h5m110 0h22m20 0h8M1 30h14m0 0h4M191 31h11M66 32h2m3 0h10m3 0h3m4 0h23m144 0h8M138 33h14m4 0h16m29 0h13m26 0h4M20 34h26m0 0h34m5 0h45m183 0h6M24 35h14m144 0h30M275 36h18m-16 0h4M6 37h2m55 0h3m117 0h19m171 0h10M165 38h4m10 0h2m0 0h6m120 0h2m30 0h48M113 41h44m11 0h3m11 0h27m48 0h24M116 42h36m28 0h4m143 0h10M1 43h4m4 0h6m255 0h3M3 44h16m42 0h8m110 0h2m5 0h17m172 0h8M0 45h15m164 0h14M112 46h25m4 0h7m56 0h12m98 0h6m44 0h4M2 47h12m64 0h60m52 0h10m6 0h16m4 0h42m-17 0h6m90 0h2M86 48h40m54 0h52m3 0h4m4 0h18m2 0h5m4 0h50m3 0h19m32 0h11M131 49h6m223 0h22M180 50h18m-1 0h5M79 51h5m0 0h5m74 0h12m3 0h36m5 0h72M65 52h11m1 0h10m-9 0h71m68 0h16m4 0h36M54 53h4m38 0h3m27 0h99m5 0h49m-1 0h30m14 0h22m3 0h25m12 0h2M8 54h12m186 0h16m3 0h17m140 0h2M88 55h4m80 0h20m-1 0h3m3 0h4m4 0h9m0 0h6m-5 0h26m28 0h22m54 0h4M192 56h15M0 57h20m158 0h18m2 0h76m18 0h32m50 0h13M199 58h34m-1 0h14M8 59h6m30 0h12m74 0h2m2 0h45m6 0h19m26 0h22m22 0h6M40 60h15m4 0h15m14 0h24m64 0h44m2 0h12m18 0h8m32 0h24m4 0h2m-1 0h42m2 0h17m0 0h4m-4 0h6M186 61h16M131 62h12m2 0h88m-59 0h38m63 0h16m20 0h2m4 0h37M83 63h58m20 0h8M28 64h6m101 0h24m54 0h6m6 0h78M117 65h17m5 0h64m-41 0h2m39 0h63M0 67h19m124 0h4m12 0h26m4 0h18m-6 0h2m1 0h10m47 0h5m-1 0h33M73 68h10m64 0h62m-31 0h32M41 69h6m76 0h2m3 0h109m2 0h2m0 0h53m21 0h12m4 0h18M37 70h6m77 0h48m2 0h23m-21 0h15m2 0h25m-17 0h3m13 0h68m-63 0h54m5 0h105m-71 0h9M132 72h8m2 0h10m28 0h40m3 0h30m3 0h30m0 0h3m53 0h24M82 73h5m107 0h23m6 0h2M26 74h16m66 0h36m44 0h24m118 0h57M147 75h26m24 0h2m2 0h2m99 0h3m48 0h2m0 0h32M142 76h4m31 0h29m-24 0h5m2 0h7m12 0h23m4 0h7M44 77h5m20 0h6m-1 0h14m4 0h45m6 0h44m7 0h12m5 0h21m3 0h12m2 0h10M0 78h3m4 0h29m127 0h32m-4 0h10m-1 0h3M15 79h4m134 0h17m3 0h35m-29 0h3m157 0h18M0 81h37m86 0h28m2 0h4M165 82h48M0 83h51m-11 0h3m18 0h32m3 0h39m36 0h10m56 0h11m4 0h27m4 0h16m2 0h33m1 0h21M121 84h59m4 0h19m2 0h5m15 0h8M184 85h40m0 0h9m-5 0h51m1 0h10M181 86h28M12 87h8m36 0h14m4 0h20m58 0h138m-113 0h28M115 88h2M4 89h12m2 0h9m5 0h2m166 0h46m-40 0h6m37 0h2m5 0h2M54 90h5m28 0h28m32 0h31m3 0h8m15 0h5m26 0h6m3 0h21m96 0h26M35 91h32m4 0h4m74 0h9m1 0h48m-28 0h24m6 0h9m0 0h12m0 0h8m23 0h14m52 0h60m-49 0h6M28 93h5m108 0h36m8 0h20m14 0h12m2 0h6m0 0h5m113 0h30M124 94h10m4 0h64m-22 0h32m-29 0h5m28 0h38m16 0h7m0 0h31m0 0h2m4 0h17m4 0h19M201 95h100M173 96h29m13 0h2M85 98h9m3 0h8m38 0h4m39 0h17m182 0h2M173 99h38M10 100h10m152 0h59m3 0h24M70 101h22m30 0h10m48 0h3m3 0h8M57 102h18M185 103h2m8 0h5m0 0h3M74 104h4m107 0h2m109 0h48m-13 0h4M91 105h40m51 0h25M0 106h26m146 0h4m0 0h28m74 0h2m2 0h40M3 107h21m185 0h4m129 0h12M185 108h3m5 0h64M25 109h54m-28 0h5m26 0h5m2 0h14m5 0h3m26 0h20m3 0h22m-1 0h21m-13 0h16m5 0h2m2 0h38m31 0h14M15 110h4m4 0h30m-12 0h3m3 0h54m-46 0h25m4 0h5m1 0h16m-3 0h14m4 0h19m0 0h21m12 0h22m-21 0h35m-11 0h3m4 0h10m4 0h26m34 0h14M80 111h58m3 0h5m17 0h3m13 0h21m-18 0h38m38 0h63m0 0h39m2 0h25m-6 0h6M176 112h31m19 0h60M300 114h6m24 0h14M0 116h49m78 0h29m-1 0h61m-32 0h33m90 0h4M174 117h23M0 118h9m4 0h14m90 0h8m1 0h24m5 0h22m0 0h6m38 0h6m98 0h20m34 0h4M0 119h33m3 0h4m105 0h68M31 120h45m2 0h21m158 0h4m62 0h22M0 121h15m4 0h54m0 0h27m3 0h14m3 0h15m1 0h34m-22 0h6m19 0h22m0 0h16m134 0h8m2 0h3m4 0h24M184 122h38m0 0h56m104 0h5M129 123h3m1 0h12m29 0h33m-26 0h46m4 0h37m3 0h2m1 0h12m3 0h57m15 0h6M17 125h3M163 126h8M77 128h12m2 0h63m0 0h12m4 0h8m0 0h7m5 0h26m87 0h26M178 129h36m36 0h15m-6 0h4m2 0h25m0 0h10m0 0h20m-17 0h3M52 130h10m4 0h12m-9 0h3m8 0h23m4 0h55m4 0h8m5 0h32m127 0h13m2 0h3M0 131h32m46 0h4m10 0h9m1 0h11m3 0h13m2 0h21m36 0h48m6 0h10m112 0h17m3 0h3M0 132h4m78 0h2m5 0h25m206 0h2m30 0h35M48 133h39m3 0h10m3 0h9m136 0h5m73 0h39m0 0h21M8 134h3m176 0h19m100 0h2M160 135h6m7 0h28m137 0h2M35 136h5m110 0h6m18 0h35m-26 0h14m72 0h8m14 0h17m2 0h58m2 0h17M24 137h72m82 0h18m-5 0h16m-3 0h2m32 0h22m58 0h5m0 0h17M177 138h24m-22 0h38M29 139h16m234 0h5m0 0h5M178 140h17m120 0h63m1 0h5M342 141h22M123 142h2m44 0h24m147 0h23M174 143h32m-4 0h24m98 0h12M157 144h4m4 0h18M77 145h35m4 0h5m2 0h26m3 0h37m1 0h18m4 0h9m72 0h84M56 146h14m110 0h20m4 0h20m26 0h4M85 147h5m120 0h3m4 0h41m1 0h13M13 148h126m3 0h17m10 0h14m44 0h5M10 149h5m38 0h32m3 0h66m2 0h37m-10 0h19m11 0h4m18 0h10m1 0h11M0 150h2m44 0h82m42 0h18M43 151h68m-20 0h4m18 0h12m43 0h16m183 0h4M183 152h20m5 0h5m4 0h27m0 0h8m2 0h104M178 153h35m84 0h3M0 154h7m5 0h4m140 0h5m20 0h18m103 0h16m58 0h11M184 155h21m67 0h5M133 156h58m-17 0h19m180 0h14M47 157h26m36 0h2m24 0h7m0 0h43m5 0h11M65 158h6m12 0h134m-49 0h35m180 0h4M60 159h4m119 0h15m36 0h6m36 0h20M149 160h21m2 0h2m1 0h35m-32 0h32m-30 0h6M95 161h13m55 0h28m50 0h5m47 0h44M0 162h31M0 163h15m161 0h31m-30 0h2m106 0h20m2 0h11M103 164h22m5 0h19m122 0h5M57 165h3m3 0h9m89 0h14m30 0h4M119 166h5m62 0h26M163 167h2m8 0h21m-7 0h10m-4 0h37M173 168h48m0 0h15m2 0h51m0 0h16m1 0h34m-10 0h5m29 0h23M0 169h23m28 0h2m48 0h3m5 0h9m-1 0h15m2 0h3m6 0h8m36 0h6m3 0h17m138 0h2M126 170h36m-14 0h3m41 0h2m22 0h10m26 0h43m0 0h33m3 0h3m1 0h17m15 0h3M0 171h2m56 0h18m58 0h18m54 0h5m163 0h10M20 172h8m94 0h50m9 0h26m17 0h10m130 0h14M20 173h8m25 0h5m3 0h50m10 0h5m4 0h45m-40 0h74m16 0h9m31 0h4m22 0h46m3 0h7m13 0h10M157 174h70M195 175h17m21 0h64M184 176h14m46 0h27m0 0h41m22 0h8m1 0h2m31 0h11M93 177h10m60 0h23m4 0h7M181 178h10m4 0h30m142 0h2M65 179h2m3 0h2m2 0h26m18 0h6m11 0h4m3 0h11m34 0h13m108 0h5M30 180h4m30 0h34m-1 0h2m32 0h21M179 181h38m63 0h28M0 182h20m34 0h6m156 0h6m4 0h8M0 183h3m0 0h7m8 0h30m0 0h3m5 0h26m18 0h6m10 0h24m185 0h4m3 0h4M116 184h28M19 185h40m3 0h52m31 0h42m-6 0h15m1 0h2m24 0h26m78 0h2m0 0h2M93 186h2m148 0h3m2 0h32m3 0h15m-5 0h4m16 0h17m4 0h18m0 0h35M264 187h66m36 0h20M173 188h38m10 0h7m3 0h46m6 0h4m4 0h62M276 189h29m3 0h6m62 0h11M49 190h12m3 0h11m8 0h16m68 0h24m4 0h24m30 0h9m3 0h16m28 0h5m-5 0h12m38 0h2M0 191h2m2 0h25m1 0h2m146 0h23M184 192h15M0 193h18m160 0h36m53 0h3M0 194h29m12 0h18m203 0h4m77 0h3m1 0h19m15 0h5M0 195h29m-26 0h4m36 0h72m2 0h41m5 0h2m3 0h7m8 0h16m14 0h2m2 0h3m133 0h5m7 0h4M184 196h20m146 0h5M125 197h8m53 0h25m86 0h48M182 199h16m24 0h42m0 0h46m3 0h9m52 0h8m2 0h2M109 200h2m21 0h2m146 0h84m0 0h7m-6 0h4m6 0h12M17 201h17m4 0h21m34 0h4M2 202h12m216 0h18m74 0h3m0 0h41M86 203h6m94 0h28m2 0h20m76 0h8M0 204h24m3 0h9m0 0h10m16 0h8m2 0h38m25 0h3m16 0h2m33 0h18m95 0h65m0 0h7M125 205h52m2 0h10m2 0h40m4 0h152M200 206h13m5 0h6m-1 0h46m4 0h43M148 207h4m20 0h34m-23 0h25m16 0h28m50 0h6M37 208h4m139 0h34m16 0h16m130 0h4M27 209h3M229 210h5M100 211h48M36 212h22m72 0h2m44 0h10m2 0h8M73 213h6m130 0h34m0 0h13m3 0h6M2 214h16m152 0h34m-22 0h17m75 0h25m3 0h8m3 0h29m15 0h2M279 215h3M0 216h25m3 0h8m14 0h80m84 0h20M103 217h4m41 0h4m20 0h8m6 0h31M92 218h6m29 0h5m10 0h52M38 219h2m149 0h22M338 220h2M42 221h14m96 0h4m4 0h24M62 222h33m4 0h149M121 223h2m52 0h22m-22 0h32m146 0h13m2 0h14m0 0h4M257 224h3M188 225h16m85 0h4m9 0h5M197 227h2M106 228h9m0 0h31m5 0h9m27 0h4M167 229h9m-1 0h19m-14 0h26m93 0h38M0 230h10m48 0h6m68 0h126m-64 0h22M69 231h4m178 0h5m0 0h21m0 0h19M86 232h10M32 233h25m4 0h25m82 0h31m0 0h49m2 0h12M144 234h76m-44 0h28m48 0h2m12 0h3m96 0h2M182 235h19m130 0h3m16 0h20M46 236h30m116 0h2m4 0h10m68 0h16m2 0h12m34 0h14M206 237h6M107 238h6m13 0h3m8 0h6m36 0h2m2 0h3m4 0h128M153 240h118m-86 0h22M0 241h16m180 0h56M304 242h4M201 243h4m17 0h6M18 244h5m286 0h30m42 0h5M191 245h12M0 246h7m204 0h9m-1 0h44m3 0h6m95 0h20m-18 0h5M42 247h3M64 248h9m2 0h13m91 0h32M41 249h8m120 0h10m116 0h3m81 0h5" stroke="#6e0000"/>
</g></g></g>
<g transform="translate(92 1514)">
<rect width="192.5" height="352.3" fill="#fdf4f0"/>
<rect x="82.8" width="27" height="352.3" fill="url(#band)" opacity="0.2"/>
<g filter="url(#soft)"><g transform="scale(0.5 1.4092) translate(0 0.5)" fill="none">
<path d="M242 0h27M159 2h123M127 3h32M90 4h28m54 0h150M0 5h151M139 7h30M72 8h194M275 11h47m-39 0h54M51 13h3m210 0h22M168 19h151M290 20h27M198 23h83M0 24h120m41 0h89M0 26h192M116 28h77M209 29h176m-81 0h8M359 31h10M24 33h113M0 37h128M20 38h191M314 39h20M80 40h87m69 0h145M267 41h118M85 42h194M323 43h62M3 44h97M230 45h52M242 46h143m-125 0h125M0 47h385M74 49h70M303 53h82M86 54h144M290 56h51M86 57h6M283 58h102M212 59h29m78 0h50M81 63h24M150 65h29M28 66h19m200 0h84M110 67h69M42 68h74m148 0h51M298 71h87M257 74h95M0 77h143M116 79h213M242 81h8M148 82h39m25 0h49m20 0h19M166 83h30M121 84h24m-14 0h118m62 0h14M72 85h9m60 0h244M340 87h45M94 91h157m54 0h80M267 92h6M162 94h168M314 95h29M0 100h70M5 102h9m286 0h25M281 103h95m-71 0h39M15 104h157m72 0h26M51 105h101M19 106h160m-48 0h190M0 109h70m184 0h82M144 111h66M145 113h9m143 0h78M0 116h17m-17 0h32m177 0h58M189 117h196m-66 0h18M60 118h75M224 119h13M40 120h12m101 0h21M0 121h55M26 122h43M181 123h55M133 127h31m134 0h48M4 129h37m14 0h72m138 0h63m-19 0h36m-13 0h53M74 130h39m159 0h3M0 131h180M231 133h154M99 135h7m53 0h139M294 136h87M58 137h108m191 0h21M57 140h203M79 142h78m130 0h85M219 143h93M153 144h94m80 0h58M315 146h41M328 148h57M10 150h81m124 0h100M120 152h8m172 0h85M352 153h33M3 156h59m76 0h247M214 159h51M0 160h60m69 0h125M70 161h72M143 166h242M371 169h3M305 170h31M310 173h10M184 175h117M223 178h162M4 184h78M320 185h10M173 186h212M32 187h6M0 188h385M203 190h71m23 0h51M33 191h22m258 0h18M170 193h10M328 195h11M99 197h126M63 199h272M0 200h46M160 203h53m-36 0h8M105 205h10M66 207h19m146 0h12M240 208h57M341 210h44M100 212h38M20 213h115M147 216h118M186 217h146M220 220h43M103 221h52m182 0h48M48 224h140m29 0h47M25 227h51m256 0h30M192 228h66M74 229h63M208 231h177M183 233h175M34 234h194M205 237h22M326 242h6M28 244h57M98 246h153M205 247h36M211 248h99M0 249h134" stroke="#fbe2d8" stroke-width="1.3"/>
<defs><path id="C1_1" d="M314 1h14M217 3h15M111 4h18m0 0h14M241 5h11m15 0h19M82 8h11m31 0h4M382 10h3M201 11h13m0 0h7M155 12h14m0 0h11m2 0h8m4 0h11m56 0h14m0 0h17m31 0h15M190 13h6m3 0h3m0 0h5M184 14h10M53 16h17m6 0h20m0 0h10m0 0h8m19 0h10m0 0h16m0 0h9m0 0h14m23 0h4m0 0h12m0 0h12m0 0h11m6 0h10m4 0h9m20 0h19m0 0h6m7 0h18M180 21h11M202 22h3M59 24h14M163 27h4m36 0h19M203 32h10M168 35h2M0 36h10m0 0h20m168 0h6M189 38h2M299 39h13M218 40h6M152 41h6M195 42h3M133 45h12m0 0h10m0 0h9m74 0h9m-1 0h6m13 0h13M195 48h2M87 50h11m1 0h17m4 0h5m36 0h12m43 0h7M105 51h19m36 0h3M45 54h7m0 0h8M156 57h13m19 0h10M284 58h16M145 62h14M58 67h17m0 0h10m0 0h9M10 69h6m191 0h18M196 72h2M123 76h12M19 77h4m163 0h9m3 0h1M185 80h5m0 0h3m0 0h1M225 85h16m0 0h11M159 86h14M205 91h8M11 98h12m100 0h9M383 103h2M190 105h9m4 0h11M125 106h15m4 0h17m1 0h1m178 0h8m0 0h14m4 0h10M188 110h4M24 114h19m43 0h10m3 0h4m6 0h10m2 0h10m-5 0h5m0 0h17m-7 0h19m-13 0h19m5 0h10m1 0h13m0 0h8m9 0h17m0 0h10m18 0h10m1 0h10m0 0h10m-1 0h17m0 0h13M330 120h16m-1 0h5M377 122h8M32 125h14M198 127h2m42 0h4M119 133h2M153 136h8m218 0h6M156 141h15m0 0h15m5 0h1M379 144h6M153 146h12M16 151h4m158 0h7M83 160h6m0 0h10m34 0h14m14 0h11M192 162h3m2 0h4M157 164h18M175 169h17m76 0h3M126 173h6M191 176h4M205 179h14M96 188h10m15 0h6M1 189h10m320 0h6M12 190h18m163 0h4M112 195h8m0 0h6M20 197h2m16 0h6m146 0h6M283 205h16M0 207h7m207 0h15m14 0h12M174 208h14m28 0h6M219 214h4M100 220h16M230 221h8m0 0h10m12 0h8M321 222h19M84 228h6m24 0h16m28 0h17m119 0h9M142 230h2m50 0h4m30 0h19m0 0h3m131 0h4M136 232h19m5 0h9m0 0h14m1 0h4M8 235h13M153 236h8m0 0h8m0 0h19m36 0h3M189 241h4M232 242h4M193 245h3"/></defs>
<defs><path id="C1_2" d="M211 0h23m84 0h16M189 1h28m-25 0h4m89 0h10M283 2h20m24 0h10M183 3h23M250 4h15m11 0h23M154 5h18m21 0h23m-1 0h25m56 0h18M192 6h5M41 7h8m0 0h2m227 0h2M93 8h18m0 0h13m63 0h14m12 0h8M185 9h10M245 10h11m110 0h16M255 12h6m34 0h7m0 0h9m-5 0h17M9 16h9m96 0h19m49 0h7m-1 0h18m-10 0h9m68 0h17m28 0h6m19 0h1M165 19h5m21 0h5m10 0h5m20 0h14m0 0h15m23 0h17m19 0h15M120 21h13m2 0h8m1 0h17m0 0h11m0 0h8m11 0h3M186 22h9m2 0h5M178 23h6M99 24h6m60 0h6M358 26h14M109 27h16M194 31h9m0 0h13m79 0h3M215 32h8M149 34h6M124 35h4m218 0h12M30 36h6m118 0h19m0 0h8m1 0h16M183 37h10M171 38h6m50 0h17m2 0h7m2 0h8M117 40h8m55 0h10m-1 0h6m21 0h15m21 0h12M130 41h4M183 42h3m1 0h7m4 0h2M179 43h10m41 0h18m1 0h13m0 0h7m29 0h5M63 45h6m-1 0h13m0 0h14m6 0h13m54 0h12m-11 0h5m9 0h17m0 0h12m1 0h8m12 0h5m15 0h12m17 0h8m5 0h14M177 46h7m55 0h10m10 0h7M182 48h7m0 0h5M192 49h10M173 50h6m6 0h11m0 0h17m112 0h8m14 0h4M126 51h18M242 52h3M95 53h9M60 54h16m0 0h7M138 57h14m17 0h15M324 58h7M49 61h13m0 0h17m0 0h2M205 64h20m0 0h10m98 0h6M179 65h4M72 66h10m0 0h4m294 0h5M94 67h4m58 0h6m96 0h6M196 68h2M0 69h7m155 0h10m14 0h19m52 0h3M146 70h10M7 71h11m123 0h16m129 0h3M191 72h5M152 73h4M135 76h13m40 0h9M183 77h10M203 79h7M192 82h4M190 83h4m124 0h2M375 84h10M109 85h6m2 0h9m1 0h20m12 0h2M173 86h6M106 89h6M212 90h12m118 0h16M151 94h7m14 0h5M186 97h7m27 0h13m0 0h11M132 98h3m135 0h8M171 102h13m17 0h6M337 103h4m32 0h10M0 104h8M107 105h15m61 0h16M377 106h8M179 108h13m38 0h6m24 0h7m32 0h6M195 111h9M141 112h6M55 113h8m81 0h5M5 114h19m19 0h12m0 0h15m3 0h12m28 0h8m-3 0h7m6 0h4m30 0h11m3 0h16m8 0h7m29 0h19M160 117h6M164 119h18M316 120h14M153 121h13m0 0h14m98 0h15m26 0h5m18 0h20M365 122h12M234 123h8m35 0h11m16 0h10M160 127h12M194 128h4m81 0h11M127 131h7m19 0h12m-10 0h8m49 0h19m0 0h4M181 133h6M186 137h8m1 0h4M203 140h4M34 145h16m35 0h10m60 0h7m-6 0h19m0 0h18m38 0h8m-8 0h16m58 0h8m-5 0h6m-1 0h8M186 148h8m-7 0h8M259 149h4M236 152h6m19 0h13m6 0h13m2 0h7m11 0h1M312 158h10M52 160h16m0 0h13m18 0h10m0 0h17m1 0h6M204 161h19m57 0h6M136 162h16m35 0h4m28 0h11m134 0h10M33 164h2M102 166h2m100 0h6M75 167h4M135 169h18m58 0h6m17 0h11m1 0h19M0 172h16M195 176h10M190 177h5M143 178h15m41 0h10m5 0h4m32 0h14m15 0h16M275 181h4M185 184h8m-7 0h4M107 188h15M186 189h4M30 190h7m3 0h8M188 196h4m2 0h4M372 198h2M142 200h10m10 0h4M184 203h4M286 204h6m0 0h10M150 205h12M0 206h13m0 0h12m-1 0h6m0 0h11m5 0h2M175 207h13M0 208h6m182 0h2m32 0h17m0 0h16m0 0h11M21 209h19m0 0h7M227 211h4M116 220h15m0 0h3M249 221h11M179 222h4m26 0h2m132 0h6M187 226h3M46 228h11m3 0h19m10 0h19m23 0h8m0 0h15m21 0h8m0 0h5m-2 0h8m7 0h19m5 0h5m4 0h6m32 0h17m14 0h12m-1 0h4M339 229h12M206 230h18m138 0h19M31 231h2m130 0h17M116 232h11m69 0h2m114 0h6m12 0h6M21 235h5M188 236h14m0 0h17m14 0h10M191 238h6M193 239h1M197 240h4M79 241h6M183 242h8m11 0h12M184 245h7M188 246h4M169 249h5m2 0h10m21 0h8m10 0h13"/></defs>
<use href="#C1_2" stroke="#e65440" stroke-width="1.6" stroke-opacity="0.34"/>
<defs><path id="C1_3" d="M150 0h26m16 0h19m28 0h16m49 0h14m26 0h14m0 0h10M147 2h22m11 0h25m9 0h26m5 0h16m0 0h7M119 3h16m34 0h8m80 0h28m0 0h23m5 0h21M231 4h22m45 0h22M128 5h3m121 0h7m64 0h16M37 6h12M339 7h10M176 8h10m15 0h12m13 0h12m64 0h8M193 10h4m0 0h3m74 0h12m26 0h10M148 12h7m52 0h17m1 0h15m0 0h15m38 0h11m35 0h17M247 15h10M147 19h18m5 0h9m93 0h8m85 0h11M186 20h4m0 0h6M77 24h11m0 0h11M257 26h10m105 0h7m0 0h6M95 27h14M184 31h10m34 0h9m39 0h14m47 0h9m37 0h2M187 32h2m130 0h11m0 0h9M144 36h2M77 38h6m2 0h10m1 0h11M168 39h6m25 0h16m99 0h11m-1 0h5M125 40h15m0 0h18m0 0h15m0 0h6m16 0h11m0 0h5m25 0h14m14 0h3M164 41h10m2 0h17M71 43h6m136 0h13m43 0h16m5 0h8m81 0h6M197 44h5M114 45h7m2 0h10m7 0h15m0 0h13m10 0h8m34 0h11M22 46h18m0 0h10m7 0h15m14 0h12m16 0h16m0 0h6m1 0h18m0 0h5m-1 0h13m23 0h5m0 0h11m16 0h8m-1 0h12m0 0h13M98 48h19M223 49h16m5 0h6M309 50h14m12 0h7M144 51h16m22 0h7m0 0h12m-11 0h3m0 0h5m53 0h12m2 0h2M236 52h6M104 53h5M357 55h14M115 57h17m69 0h3m4 0h8m0 0h12M300 58h11m1 0h12M179 60h18m-2 0h2M29 61h17m59 0h12M20 63h6m182 0h20M185 64h14M64 66h8m106 0h6m186 0h11M121 67h16m32 0h10m15 0h4m40 0h4m7 0h17m10 0h6M0 68h2m185 0h6m0 0h3M174 69h9m42 0h11m0 0h17M0 71h7m143 0h10M274 72h10M139 75h6m72 0h4M113 76h10m59 0h6m9 0h1M193 77h2M68 79h12m110 0h13M173 80h20m0 0h4M190 81h4m0 0h1M194 82h1M240 83h4M356 84h16M35 85h13m0 0h18m0 0h13m69 0h8m35 0h9m61 0h2M189 86h10M157 87h7m3 0h7M178 88h8m-5 0h4m0 0h6m0 0h5M84 90h4m82 0h11m0 0h12M211 92h12M182 96h6m1 0h4m0 0h2M0 97h6m264 0h8M193 98h6m0 0h4m35 0h10M169 99h6M362 100h6M153 102h18m166 0h12m0 0h12M8 104h3m168 0h4m144 0h2M124 105h19m0 0h8m47 0h7m-7 0h9m0 0h11M137 108h9m0 0h20m40 0h20m12 0h17m13 0h8m28 0h8m6 0h14m-1 0h1M204 111h1M124 117h17m-1 0h12M152 119h2M136 120h9m-2 0h13m-11 0h13m48 0h17m4 0h6m-1 0h4m13 0h10m29 0h9m22 0h10m0 0h10m30 0h1M180 121h19m23 0h5m26 0h10m30 0h13m0 0h12m9 0h15m19 0h8M211 123h11m4 0h8m8 0h17m3 0h15m11 0h16M86 127h14m182 0h4M182 128h2m84 0h11M194 129h3M110 131h17m40 0h7m0 0h18m5 0h15m29 0h13m0 0h7m0 0h8m7 0h11m0 0h11m4 0h17M154 132h13M187 133h5m2 0h6M140 136h3m124 0h4M24 145h7m19 0h17m0 0h16m17 0h5m0 0h20m0 0h20m17 0h20m0 0h5m9 0h19m0 0h16m20 0h2m14 0h7m0 0h17m0 0h5m0 0h4M61 146h20m1 0h16m1 0h2M21 148h2m84 0h16m4 0h12M0 151h16M33 152h19m4 0h1m98 0h20m42 0h11m4 0h4m6 0h6m2 0h11m13 0h6m22 0h7M165 155h14m0 0h7M6 158h14m242 0h12M214 159h11M147 160h12m26 0h6M166 161h6m55 0h5M198 162h11m0 0h10M21 164h12m144 0h6m88 0h10M191 167h6M184 168h9M157 169h19m16 0h16m10 0h11m0 0h5M127 170h6m63 0h4m0 0h2M278 172h14M197 174h4M189 175h4M205 176h6m2 0h12m104 0h14M127 178h7m27 0h8m25 0h5m20 0h18m0 0h12M219 179h6M194 180h5M247 182h8M87 188h9M192 189h4M197 190h2M107 191h10m2 0h12M191 192h8m-2 0h3M187 195h3m6 0h7M197 197h2m12 0h15M190 203h4m1 0h3M56 204h10M141 205h10m-9 0h6m16 0h13m9 0h9m0 0h3m19 0h15m8 0h12m1 0h18m1 0h7m20 0h3M324 206h10M188 207h5m10 0h8m19 0h13m12 0h8m65 0h8M202 208h14M47 209h14M182 213h9m0 0h7M51 215h6m11 0h11m178 0h7m0 0h15m9 0h9M184 217h18m69 0h13M285 222h19m0 0h10m0 0h7M206 223h2m91 0h20M188 225h8m3 0h6M20 226h7m163 0h6M29 228h17m33 0h5m44 0h4m56 0h13m4 0h8m20 0h10m2 0h12m0 0h11m50 0h7M326 229h13M88 230h19m2 0h9m54 0h9m0 0h7M15 231h16m126 0h6M14 232h15M60 233h6m22 0h15m99 0h2M234 235h4M251 236h4M197 238h2M186 239h8m170 0h13m0 0h8M177 240h2M53 241h18m123 0h5m-3 0h4m5 0h13M102 243h19M192 246h5m151 0h6M190 247h1M153 249h8m0 0h8m16 0h5m1 0h13m39 0h13m2 0h11"/></defs>
<use href="#C1_3" stroke="#e65440" stroke-width="1.6" stroke-opacity="0.34"/>
<defs><path id="C1_4" d="M176 0h6m73 0h28m0 0h10m75 0h2M154 1h19m0 0h16m7 0h5m25 0h27m5 0h11m4 0h12m10 0h12M9 2h2m263 0h9m20 0h7m5 0h12M148 3h17m5 0h10m52 0h26M149 4h10m3 0h8m8 0h22m0 0h13m9 0h10m-3 0h16m8 0h15M95 5h13m0 0h17m47 0h20m187 0h6M294 7h12m2 0h10m3 0h6m0 0h8m13 0h4M198 9h1M186 10h7m39 0h13m41 0h2m39 0h1M135 12h14m0 0h14m4 0h18m-1 0h11m0 0h2M0 16h9M179 19h6m0 0h4m1 0h11m10 0h5m1 0h14m32 0h9m28 0h19m15 0h11m2 0h8m-1 0h10M135 20h2M143 24h2M88 25h6M218 26h7m1 0h20m0 0h9m13 0h2M125 27h6M300 30h17m0 0h9M237 31h15m0 0h4m74 0h7m27 0h19M175 32h10M302 35h12M128 36h16M106 38h9m0 0h9m0 0h10m0 0h9m1 0h11m1 0h9M215 39h2M88 40h13m3 0h13m29 0h8M61 43h10m16 0h8M202 44h1M191 45h7m0 0h9m1 0h8M7 46h15m28 0h6m15 0h14m13 0h17m70 0h10m17 0h11M170 47h7m3 0h13m0 0h11M83 48h15M205 49h19M179 51h10M227 52h9M135 55h12M22 57h15m0 0h15m20 0h18m0 0h17m0 0h9m19 0h14m0 0h12m2 0h16m4 0h5m1 0h19m22 0h15m5 0h10m0 0h19m0 0h8m0 0h5m-1 0h18M206 59h7m0 0h9M0 60h13m179 0h3m7 0h6m1 0h8M117 61h11m5 0h10m6 0h17m0 0h8m1 0h4M0 63h20M199 64h6M358 66h12M116 67h5m18 0h19m2 0h10m9 0h6m4 0h6m-5 0h4m4 0h1m-1 0h6m3 0h13m2 0h8m0 0h19m18 0h3m-2 0h8M8 68h10M271 71h15M157 74h6M259 76h18m1 0h11m0 0h20m-1 0h9M184 82h8M200 85h6M250 89h6M195 90h3M99 92h15m0 0h9M163 94h8M187 98h4m31 0h11M3 99h12m0 0h18m0 0h8m2 0h4m40 0h7m0 0h5m98 0h12M185 102h16m110 0h4M155 105h8m0 0h17m38 0h12M171 106h2M184 107h10m-1 0h2M146 108h14m3 0h16m-13 0h2m25 0h13m40 0h8m0 0h15m-1 0h19m-9 0h4m4 0h13M189 116h7m2 0h3M87 117h15m0 0h6m0 0h16m14 0h11m0 0h10m-7 0h15m2 0h9m0 0h11m-1 0h10m3 0h9m0 0h14m0 0h13m4 0h14m0 0h7M62 119h18M99 120h10m0 0h11m5 0h17m14 0h17m4 0h15m0 0h14m16 0h10m1 0h7m4 0h4m10 0h16m1 0h13m14 0h11m26 0h14m0 0h13M199 121h8m0 0h12m10 0h10m0 0h13m12 0h14M314 123h3M153 126h20m0 0h4M62 128h8m0 0h8M18 130h10m180 0h6M134 131h19m116 0h7m47 0h11M147 132h7m13 0h10m0 0h9m-1 0h16M133 136h7m67 0h2M267 140h14M148 145h8m91 0h15m38 0h8m6 0h6M25 147h4m42 0h17m0 0h13M95 148h12m32 0h4m60 0h13m0 0h9m66 0h2M187 150h2M144 152h11m20 0h20m0 0h11m-1 0h12M175 154h6M23 155h6m162 0h5m2 0h5m36 0h9m0 0h7M252 156h4M20 158h12m160 0h16m2 0h7M192 161h9M190 162h8m64 0h6m106 0h2M82 163h19m0 0h19m-1 0h7m0 0h8m0 0h10M185 164h6m-1 0h5m12 0h6m0 0h14m38 0h6M192 168h6M145 171h2M16 172h13m73 0h4M186 174h3m1 0h7M193 175h4M203 176h10M134 178h9m4 0h14m2 0h18m-13 0h11m2 0h14m-11 0h17m0 0h9m85 0h6M194 182h4m-1 0h8m3 0h3M26 184h2M235 186h2M189 188h2M186 190h16m4 0h18m0 0h19m0 0h7M184 192h3m2 0h8M168 195h19M0 197h12m190 0h9m15 0h6M126 199h4M252 200h4M0 201h18M38 205h14m0 0h14m23 0h12m1 0h7m0 0h10m0 0h15m-12 0h9m0 0h10m-7 0h7m10 0h14m12 0h4m5 0h15m0 0h17m14 0h11m-9 0h4m7 0h19M313 207h15m8 0h3M314 208h11m0 0h14M105 214h4M57 215h11m212 0h8M128 216h6M250 217h13m0 0h8M222 219h7m0 0h11m1 0h18m0 0h7m0 0h2M282 223h15m22 0h8m0 0h11M27 226h5M196 228h9m9 0h17m12 0h15M351 229h3M200 230h4M30 232h2M66 233h6m0 0h13m18 0h3m80 0h8M200 235h18m0 0h16M83 236h11m0 0h7M71 241h6m100 0h2M120 242h6m65 0h2M121 243h7m57 0h5m1 0h4m-1 0h4M197 246h9M181 247h8M216 249h10m43 0h10"/></defs>
<use href="#C1_4" stroke="#e65440" stroke-width="1.6" stroke-opacity="0.34"/>
<use href="#C1_1" stroke="#f4a38b" stroke-width="0.75"/>
<use href="#C1_2" stroke="#dd4c36" stroke-width="0.75"/>
<use href="#C1_3" stroke="#9c1719" stroke-width="0.75"/>
<use href="#C1_4" stroke="#5a0a0c" stroke-width="0.75"/>
</g></g></g>
<g transform="translate(339.2 1513.4)">
<rect width="193.3" height="354.3" fill="#fdefe9"/>
<rect x="83.1" width="27.1" height="354.3" fill="url(#band)" opacity="0.2"/>
<g filter="url(#soft)"><g transform="scale(0.5 1.4172) translate(0 0.5)" fill="none">
<path d="M47 0h38M131 1h215m10 0h3M11 2h170m126 0h17M118 3h4m-4 0h114m-68 0h25m29 0h3m116 0h23M51 4h3M31 5h67M236 6h66M28 7h2m191 0h71M87 8h8M254 9h130M37 10h29m190 0h131M55 11h35m25 0h2m25 0h54m74 0h4M295 12h14M2 13h32M31 14h95M216 15h4m10 0h128m-66 0h95M6 17h63m-43 0h206m-53 0h87m48 0h73M154 18h139M307 19h80m-38 0h37M0 20h61m47 0h100m70 0h4m23 0h18M0 21h161m116 0h37M152 23h5M174 24h97m16 0h55M240 26h147m-102 0h14M73 27h19m105 0h8m112 0h34m-12 0h42M166 28h194M148 29h55m-9 0h86M35 30h108M3 31h190m-164 0h7m307 0h44M58 32h9m133 0h63M158 33h9M300 35h80m-79 0h35m-31 0h81M230 36h13m94 0h50M153 37h33M192 38h62m-19 0h151M140 39h211m-94 0h17M15 40h88m-40 0h324m-264 0h63m158 0h43M124 43h31M0 44h209m-209 0h250m-146 0h144M302 45h16M0 46h263M167 47h37M96 48h54M0 49h348m-325 0h8M147 50h20m134 0h48m21 0h6M138 51h77M64 52h50m38 0h128m-51 0h35M157 53h9M196 55h16m1 0h53m20 0h11M341 56h45M153 57h29M288 58h59M143 59h153m-150 0h116M187 60h73M321 61h54M41 62h8m205 0h22M66 63h188m-172 0h73M90 65h60M50 66h11M28 67h46m38 0h135m-54 0h194m-88 0h87M61 69h120m-50 0h22M193 70h193m-95 0h80M300 71h87M136 72h10M33 73h16M226 74h134M115 76h5M339 77h48M141 79h9m-8 0h45M229 80h69M88 82h7m38 0h91m-44 0h131M0 83h286m-279 0h56m-43 0h177m-169 0h64m-63 0h14m157 0h58m79 0h40M192 85h128m-11 0h32M161 86h4m60 0h48m32 0h2M280 87h62m14 0h31M363 89h24M216 92h6M83 93h4m56 0h49M125 94h16m-6 0h85m-82 0h89m-74 0h12m52 0h6m-4 0h5m64 0h45M40 95h177M0 96h159m-156 0h98M127 97h90m160 0h10M201 98h70m6 0h52m-44 0h67M0 99h350m-211 0h56m160 0h11M0 100h64m56 0h86m49 0h132M19 101h41M33 102h4m34 0h185m-17 0h148M166 103h4M60 104h78M42 105h79m122 0h11M110 106h87M137 107h49m93 0h108M230 108h7m47 0h41M203 109h169m-131 0h117M8 110h26m217 0h71m1 0h64M202 111h11m159 0h15M89 112h158m-111 0h29m92 0h30M184 113h203M302 115h63M276 116h26M104 117h228M231 118h144M11 122h154m-27 0h10m22 0h16M85 123h28m144 0h79M176 124h20m123 0h12M20 125h7M98 126h50m208 0h10M68 127h43m-7 0h29m187 0h67M6 128h190m18 0h20M0 129h292m-157 0h101M31 130h31m33 0h111m93 0h49m-33 0h12M64 132h25M2 133h136M89 134h86m-79 0h90M145 135h62m72 0h90M0 136h144m-140 0h4m283 0h96M145 137h76M58 138h147m-118 0h28M186 139h131M53 140h63M160 141h168M0 142h167m-145 0h41m219 0h67M214 143h64m-52 0h62M196 145h96m-39 0h11M12 146h218m-32 0h188m-182 0h137m-3 0h48m-47 0h38M0 147h192m-87 0h16m4 0h70M264 148h122m-48 0h49M115 149h133M0 150h100m28 0h37m62 0h51m-50 0h8M123 151h77M83 152h3M204 154h70m47 0h35M0 156h87m-72 0h16M62 157h24m9 0h80M78 158h21M39 159h23m16 0h17M20 160h8M0 161h133m119 0h10M224 162h163m-107 0h8M172 163h97M192 165h33m75 0h44m-19 0h50M216 166h12M0 168h68m86 0h103M191 169h16M0 170h177M135 172h245M0 173h90m-30 0h46m94 0h102m-26 0h56m-17 0h71m-64 0h4M0 174h387m-323 0h60M0 175h127M14 176h37M146 178h241m-214 0h106M305 179h47M18 180h8m58 0h10m143 0h52m-18 0h37M125 182h46m-38 0h59m132 0h62M161 183h69m94 0h29M45 184h50M0 187h98m-98 0h322m-320 0h309m-230 0h93m-40 0h112M257 189h21M28 191h12m69 0h71M81 192h306m-294 0h110m63 0h65m-63 0h119M7 193h16M49 194h176M155 195h4m173 0h54M59 196h100m14 0h54M211 197h4m6 0h119m-108 0h32M130 198h109M0 199h75m263 0h30M0 200h80m133 0h97m-64 0h39M82 201h52m76 0h116m-20 0h41M0 202h87m-87 0h123m-78 0h71m77 0h98M196 203h100M118 204h268m-173 0h174M55 205h112m121 0h13M341 206h46M80 207h36M264 208h45M14 209h49m-15 0h198m-131 0h36M84 211h125M31 212h31M101 213h21m106 0h10m24 0h112M278 214h74M41 215h21M87 216h29m9 0h12M228 219h5M238 220h92m-10 0h25M11 221h166m-140 0h126m-84 0h55m9 0h145M63 222h2m222 0h75M96 227h23m167 0h101M2 228h384m-283 0h35M61 229h144m-24 0h27m31 0h137m-73 0h15M0 230h331m-201 0h24M203 231h45m79 0h59m-18 0h17M73 233h31M270 237h117M22 238h65m136 0h153m-73 0h60M0 239h45m178 0h11M0 241h38m-38 0h63m18 0h30m45 0h176M103 242h132m89 0h10M0 243h191M59 245h215m-7 0h16M72 246h121M207 248h32M0 249h90m207 0h69" stroke="#fbe2d8" stroke-width="1.3"/>
<defs><path id="C2_1" d="M9 0h21M51 1h24m99 0h10m10 0h4m125 0h6M176 2h19M9 3h23m210 0h16m122 0h6M186 4h7M25 5h4m334 0h20M201 6h22m0 0h23m4 0h13m93 0h21m0 0h10M8 7h17m153 0h5m99 0h4M164 8h10m88 0h8M332 10h11M345 11h6M75 12h15M159 13h13M184 14h12m4 0h19m0 0h5M235 15h4M200 16h2m85 0h6M75 17h10m74 0h20m2 0h11M125 18h19M163 19h5m35 0h14m18 0h10M81 20h16m70 0h19m0 0h13m0 0h7M0 21h9m191 0h5m-4 0h7M182 23h4m75 0h4m115 0h7M150 24h8M239 25h2m72 0h6M227 26h21m-1 0h5M162 27h21m0 0h3M196 28h2m3 0h3m36 0h4M186 29h6m34 0h23M187 30h4M174 32h14m0 0h5m4 0h7M185 35h10M132 37h8m56 0h14m0 0h8m18 0h12M178 38h5m0 0h7m7 0h1M0 39h23m0 0h8m74 0h7m67 0h5m2 0h10m-9 0h9m8 0h1M191 40h7M40 41h7m15 0h11M199 43h4m0 0h1M83 44h10m106 0h10M11 45h8m54 0h11m0 0h17m-1 0h8m1 0h12m222 0h13M84 46h8m0 0h4m110 0h10M0 47h8m374 0h5M322 48h6m0 0h8M195 51h7m13 0h1M137 53h2m46 0h9m0 0h5m1 0h1M179 54h4m3 0h4m3 0h9m-8 0h2m2 0h18m-10 0h4M117 56h21m0 0h10m0 0h15m-1 0h15M192 57h4M213 58h17M200 60h3M195 62h5M112 63h10m0 0h12m167 0h2M171 65h8M97 66h16m242 0h2M200 68h12m0 0h20m0 0h24m0 0h11m0 0h5M193 72h5m37 0h12m45 0h8M265 74h5M167 76h7m10 0h5m1 0h8m-1 0h1m4 0h19M173 77h9m0 0h5m6 0h14m-10 0h8m8 0h16m11 0h10M165 78h19m7 0h4m0 0h18m-1 0h16m0 0h22m0 0h8m1 0h9m5 0h18M191 79h6m0 0h8m1 0h5m1 0h4m-1 0h1m151 0h11M255 81h15m14 0h10M184 82h2m61 0h9m8 0h6m114 0h3M272 84h12M182 86h3m10 0h9M381 87h6M84 88h20m38 0h18m34 0h7m24 0h9M32 89h15m35 0h22m0 0h5M190 90h5M32 92h10m7 0h6m22 0h14m93 0h8m6 0h14m93 0h9M221 93h2m152 0h10m0 0h2M201 94h20M352 95h13M187 96h6M78 97h7m83 0h17m0 0h23m0 0h10M137 98h14m0 0h6m11 0h20m25 0h1m20 0h6M54 99h10m0 0h15M188 100h7m-2 0h22m-17 0h7M170 101h4m23 0h9m50 0h8m0 0h10M192 102h4m0 0h5m2 0h1M31 104h8M255 106h10m17 0h18M189 107h8m0 0h2m12 0h14m-1 0h14m8 0h14m-9 0h8m0 0h23m-21 0h19m1 0h13m-12 0h11m0 0h10m0 0h8M0 108h23m0 0h9M46 109h6m314 0h21M183 111h7M191 113h11m109 0h2m54 0h16M188 114h8m2 0h8M195 116h4M188 117h10m0 0h2M13 118h19m0 0h11m160 0h6M289 121h22m0 0h9m5 0h15m14 0h22M18 123h14m149 0h3m48 0h10M101 125h14m172 0h20m-1 0h15m0 0h9M108 126h10m172 0h16m51 0h11M305 127h19m0 0h14m0 0h13M63 128h20m0 0h7m101 0h3M90 130h14m42 0h12m157 0h20M186 131h12m104 0h12M18 133h10m0 0h10M198 136h3M202 137h19M138 138h10m0 0h11m96 0h12M165 140h18m-1 0h17m1 0h6M0 142h19m0 0h10m0 0h7m-1 0h5m58 0h10M39 143h4m131 0h7m3 0h9m1 0h8m0 0h2m133 0h23m10 0h17M181 144h4m1 0h8m7 0h1M231 146h15m21 0h3M115 150h18m0 0h19m35 0h1M174 151h4M258 152h16m0 0h8M260 154h10M139 155h15m9 0h7m19 0h4m0 0h7M117 156h16m0 0h7m-1 0h20M121 157h13m-7 0h22m-15 0h8m0 0h7m0 0h7m-1 0h11m2 0h13m17 0h7m10 0h15m-1 0h11m1 0h15m0 0h5M4 158h18m-10 0h13m5 0h7m9 0h19m-15 0h23m-4 0h6m-2 0h9m-8 0h7m1 0h19m1 0h6m-3 0h9m1 0h8m-5 0h15m-10 0h11m-1 0h9m-7 0h18m-9 0h16m-7 0h13m0 0h9m0 0h18m1 0h6m18 0h14M286 160h6m0 0h22m0 0h8M191 161h3m0 0h4m1 0h5m0 0h1M194 162h11m0 0h23m0 0h23m0 0h12M32 163h20M106 164h9m0 0h5M214 165h12M159 166h8m25 0h23m143 0h3M223 167h11m38 0h21m0 0h3M171 168h15m5 0h5m0 0h7M69 169h8M0 170h6m0 0h8M186 171h9M228 172h8m133 0h13M200 173h15m29 0h10m0 0h18m0 0h21m0 0h5M273 174h14m-12 0h11m0 0h7m0 0h9m3 0h17m11 0h11M181 175h7m0 0h7m1 0h1M12 176h7m0 0h7m0 0h7m1 0h8M81 177h22M327 179h10M44 184h22m20 0h16m78 0h12m2 0h23m23 0h7M142 185h11m4 0h3M174 186h19m0 0h19M21 187h4m117 0h7m23 0h5M191 189h4m3 0h5m132 0h11M58 190h16m0 0h21m253 0h7M178 191h9m4 0h5m0 0h6M7 194h23m15 0h18M341 196h23M178 197h9m0 0h4m0 0h8m0 0h1m12 0h4M0 198h3M54 199h10m136 0h7M181 200h5m0 0h5M19 202h12m31 0h12m0 0h16m0 0h12m-1 0h14m82 0h2M317 203h9M182 204h6m-1 0h5m1 0h7m8 0h4M180 206h8M168 207h13m180 0h16m-1 0h10M307 209h9m-1 0h9M0 210h10M20 211h5m160 0h7m2 0h7M181 215h8m4 0h4M58 217h12m9 0h5m5 0h20m-1 0h19m0 0h13m2 0h16m-10 0h7m-1 0h6m2 0h18m5 0h8m6 0h6m6 0h17m0 0h18m13 0h9m0 0h7m0 0h8m0 0h11m5 0h18m45 0h16m0 0h9M137 220h22m0 0h19m-1 0h13m-8 0h9M179 221h6m2 0h7m4 0h19m-17 0h6m12 0h18M212 222h17m0 0h20m0 0h6m3 0h11m0 0h6m18 0h3M187 223h7m0 0h5M190 224h8M206 225h6M221 227h19m1 0h3M188 231h8m1 0h4M166 232h6m1 0h7m190 0h11M174 234h8m15 0h6M155 235h10M0 236h3m180 0h3m6 0h7m0 0h7M3 238h20m2 0h13m19 0h12m0 0h18m10 0h21m0 0h3m16 0h9m87 0h8m126 0h11m-1 0h9M181 240h4m1 0h7m3 0h8m0 0h1M68 242h6m3 0h10m7 0h23m0 0h13m8 0h8m42 0h17m51 0h9m0 0h11M270 244h16m0 0h16m29 0h9M70 245h16m86 0h12m29 0h7M142 246h2m41 0h6m11 0h1M192 247h21m-15 0h5m28 0h13M184 248h4m0 0h8m1 0h16M190 249h7m33 0h6"/></defs>
<defs><path id="C2_2" d="M77 0h11m65 0h25m7 0h7m3 0h5m0 0h2m29 0h19m14 0h8m3 0h17m63 0h25m-19 0h6M58 1h10m6 0h12m17 0h8m5 0h17m18 0h20m-12 0h11m14 0h10m4 0h4m-1 0h11m33 0h14m10 0h12m0 0h14m8 0h8m-1 0h12M0 2h21m42 0h26m32 0h12m5 0h19m0 0h11m0 0h19m16 0h20m-14 0h2m14 0h24m1 0h14m0 0h10M17 3h13m10 0h9m85 0h28m10 0h16m16 0h4m8 0h26m3 0h11m2 0h21m18 0h21M32 4h8M60 6h16m60 0h6m0 0h12m0 0h12m0 0h2m4 0h18m5 0h6m8 0h1m53 0h3M25 7h11m94 0h11m0 0h12m31 0h9M174 8h8M186 9h18m20 0h15m19 0h8m3 0h17M189 10h19m0 0h16M153 11h15m0 0h16m1 0h9m0 0h5M90 12h12m2 0h15m6 0h13m49 0h8M127 13h14m0 0h18m12 0h10m2 0h4m13 0h1m64 0h4M196 14h5M41 16h10m139 0h10M85 17h15m0 0h3M143 18h10m11 0h23m0 0h1m15 0h8M148 19h15m10 0h20m3 0h6m14 0h8m1 0h10m0 0h16m17 0h5m34 0h5m20 0h3M96 20h14m100 0h7m-6 0h4M11 21h17m0 0h3m157 0h9m0 0h3m51 0h6M39 23h17m43 0h7m18 0h5m5 0h6m5 0h11m-10 0h18m7 0h11m4 0h20m4 0h9m-6 0h8m-2 0h10m23 0h2m1 0h6m10 0h1m96 0h12M192 24h8m6 0h3m17 0h11m14 0h9M0 25h12m41 0h6m108 0h19m-1 0h5m3 0h18m0 0h4m104 0h4M189 26h8m21 0h9M174 27h8m1 0h7m0 0h6m3 0h6m-1 0h1m27 0h12m17 0h6m0 0h13M186 28h6m2 0h6M168 29h18m7 0h7m49 0h9m50 0h8M191 30h6m0 0h4m1 0h7M140 31h13m40 0h17m0 0h19m26 0h7m0 0h18M188 32h9M319 33h5M144 34h11m0 0h7m24 0h8m2 0h1M170 37h8m2 0h10M190 38h6M112 39h11m56 0h9m10 0h6M105 40h20m-1 0h10m0 0h16m32 0h22m-7 0h4m0 0h6m16 0h14M49 41h13m126 0h8m86 0h4m83 0h15M193 43h6m62 0h8M208 44h20M0 45h11m8 0h14m0 0h19m77 0h21m20 0h14m2 0h6m7 0h4m8 0h6m142 0h17M146 46h13m0 0h7m54 0h16m122 0h10m0 0h15M86 47h8m38 0h9m0 0h10m0 0h11M182 48h6m0 0h3M122 49h11m2 0h7m25 0h19m-2 0h8m-7 0h14m-9 0h19m-12 0h5m48 0h7m16 0h18m31 0h23M91 50h4m112 0h2M203 51h6m0 0h6m82 0h6M84 54h4m114 0h4m4 0h1m5 0h6m66 0h7m0 0h13M47 56h2m128 0h23m88 0h9M157 57h12m50 0h15M0 58h15m157 0h7m2 0h7m2 0h8m-5 0h21m-13 0h6m28 0h6m104 0h11m-1 0h18M31 59h15m126 0h12m0 0h8m4 0h9m0 0h9M180 60h3m0 0h5m2 0h7M190 61h5M178 62h6m-5 0h17m6 0h4m0 0h3M99 63h13m60 0h8m16 0h6m81 0h18M181 64h10m-3 0h23M19 65h22m120 0h12m6 0h9m-3 0h6m58 0h2M61 66h11m13 0h12m49 0h14M145 67h6m90 0h14m2 0h11m0 0h10m0 0h10m0 0h8M190 68h10M0 69h11m6 0h14M7 70h17m178 0h2M101 71h7m104 0h2M0 72h16m136 0h6m18 0h9m0 0h8m27 0h8m0 0h7m13 0h21m-1 0h19M183 74h8m4 0h16m34 0h21m41 0h13M164 75h2m208 0h4M174 76h7m0 0h3m-1 0h19m18 0h18M103 77h8m3 0h14m18 0h18m0 0h19m-3 0h6m-3 0h10m-5 0h2m-2 0h9m10 0h6m21 0h5m0 0h16M184 78h7m3 0h6M177 79h17m18 0h13M174 81h8m-6 0h10m5 0h10m5 0h13m-9 0h4m10 0h24m0 0h7m20 0h4m15 0h11m-1 0h13m13 0h22m-1 0h3M20 82h21m132 0h9m6 0h4m0 0h5m-5 0h11m0 0h8m7 0h10m0 0h16m13 0h7M55 83h18m79 0h19m44 0h20m-7 0h20m0 0h20m-13 0h17m0 0h14m11 0h16m1 0h15M171 85h4M185 86h9m-5 0h6m9 0h6M205 87h2M179 88h13m-9 0h7m0 0h6m5 0h23m29 0h9m57 0h9M376 89h11M148 90h13m13 0h19m2 0h3m62 0h12m0 0h7m74 0h15m-1 0h7M42 92h7m6 0h17m19 0h5m3 0h8m0 0h15m0 0h6m2 0h15m3 0h16m6 0h11m139 0h8M156 94h19m0 0h10m36 0h8m92 0h12M135 95h7m-1 0h21m1 0h10m34 0h12m110 0h23M197 96h7M24 97h20m41 0h13m0 0h7m0 0h15m62 0h7m49 0h12M23 98h2m94 0h8m4 0h19m0 0h18m20 0h19m5 0h10m0 0h6m18 0h11M80 99h20m0 0h19m31 0h19m11 0h2m84 0h13m93 0h14M205 100h3m6 0h7m4 0h18M146 101h22m27 0h15m1 0h21m0 0h6m4 0h10M78 102h7m98 0h9M174 103h10m108 0h6M32 105h8m123 0h5m21 0h4m-4 0h5m0 0h1M199 106h4m97 0h15m-1 0h18m0 0h3M159 107h20m60 0h8M122 109h2m52 0h4M239 110h10M25 111h4m147 0h6m7 0h8m1 0h6m1 0h2m158 0h2M179 113h10m1 0h4m2 0h9m-4 0h9m129 0h18m0 0h10M303 114h19m7 0h18m10 0h5M178 115h8m0 0h10m1 0h1m182 0h7M187 116h7m109 0h16M43 118h6M14 119h8m13 0h10m116 0h8m0 0h16M211 121h17m49 0h13m50 0h14M195 122h11M67 123h19m88 0h4m6 0h9m1 0h2m19 0h17m13 0h13m0 0h12M269 124h14M143 125h8m8 0h16m2 0h16m10 0h7m7 0h8M2 126h7m0 0h13m0 0h14m1 0h5m108 0h10m31 0h13m164 0h4M206 127h1M90 128h7m171 0h10m15 0h17m13 0h9M155 129h15m-1 0h7m-6 0h9M71 130h19m25 0h8m0 0h11m0 0h12m29 0h5m-2 0h16m151 0h10M0 131h4m60 0h5m70 0h3m8 0h20m-13 0h14m-1 0h16m-15 0h17m9 0h9m6 0h8m15 0h17m-2 0h8m-6 0h4m58 0h13m0 0h3M50 132h6m2 0h16M38 133h22m0 0h16m116 0h10M191 134h10M73 135h19m38 0h21m26 0h17m-4 0h4m-1 0h5m58 0h9m33 0h18M30 136h7m143 0h9M221 137h9m10 0h12m3 0h9M84 138h4m129 0h8m0 0h10m0 0h7M112 139h10M134 140h19m0 0h12m15 0h9M250 141h18m21 0h13M160 142h23m177 0h10M87 143h6m51 0h15m17 0h6m17 0h14m-6 0h12m8 0h17m116 0h10M195 144h6M112 145h14m0 0h19m40 0h7M192 146h17m37 0h21M350 147h16m0 0h19M244 148h6m0 0h16m1 0h13m0 0h6m0 0h12M169 149h14M109 150h6m37 0h5m20 0h7M181 151h2m1 0h5m3 0h7M72 152h15m9 0h4m98 0h24m0 0h7m7 0h22m47 0h24m21 0h8M71 153h12m0 0h7m30 0h12m47 0h4m7 0h4m1 0h8m-7 0h1m5 0h6m177 0h2M166 154h19m7 0h12M91 155h8m0 0h10m45 0h10m6 0h17m-7 0h4m10 0h11M160 156h5M181 157h17m7 0h7m131 0h9m29 0h5M36 158h10m36 0h19m81 0h4m14 0h18m18 0h8M188 159h8m0 0h7M176 161h24m0 0h2M263 162h7M12 163h20m80 0h14m42 0h10m95 0h5M192 164h7m-7 0h20M145 165h16m8 0h19m0 0h19m27 0h16m33 0h9M178 166h14m159 0h7M162 167h18m0 0h18m-1 0h6m4 0h16M149 168h10m1 0h11m22 0h6M193 169h9M178 170h12m-1 0h8m-1 0h1M200 171h5M358 172h11M142 173h8m65 0h21M131 174h10m16 0h15m0 0h20m0 0h7m4 0h7m0 0h18m33 0h12m14 0h7m28 0h12m48 0h5M281 175h8M194 176h4m6 0h14m16 0h13m0 0h12m14 0h5m101 0h8M173 177h2m6 0h7M173 179h9m-1 0h13m1 0h12m-9 0h1M200 182h4m150 0h17m0 0h11M0 183h23m353 0h6M217 184h24M193 185h9m2 0h8m-1 0h1M0 187h21m100 0h22m7 0h15m0 0h7M101 189h8m94 0h7m0 0h4m132 0h3M95 190h5m271 0h5M183 191h12m-8 0h4m3 0h16M179 192h20m-14 0h7m3 0h6m13 0h6m2 0h15m0 0h10m0 0h5M30 194h16m50 0h6m43 0h14m70 0h10M363 196h18m3 0h3M180 197h11m75 0h8m0 0h4M51 198h11m14 0h12m229 0h4m42 0h18m0 0h6M18 199h21m0 0h15m137 0h5m0 0h4M30 202h12m73 0h11m54 0h10m0 0h7M325 203h8m0 0h3M203 204h6m89 0h8m1 0h22m9 0h8M184 205h7m0 0h4m10 0h5M188 206h4m9 0h3M71 207h6m104 0h8m0 0h4m10 0h1M193 208h20m-1 0h6M10 210h15M0 211h20m11 0h14m-1 0h14m0 0h7m24 0h17m74 0h14M171 212h20m-7 0h3m2 0h5m-4 0h9m-6 0h7m19 0h18M183 213h9m2 0h2m113 0h6M0 215h11m167 0h3m10 0h5m75 0h20m0 0h14M40 216h7m137 0h6m2 0h1M0 217h6m64 0h6m56 0h16m10 0h4m44 0h5m2 0h3m30 0h13M224 218h6M39 219h11m0 0h15m0 0h16m74 0h11m9 0h11M41 220h12m7 0h13m0 0h14m0 0h2m103 0h4m95 0h18M195 221h5M92 222h8m0 0h6m97 0h5m62 0h18m-13 0h14m84 0h5M282 223h6M183 225h13m-1 0h8m9 0h8m38 0h15m23 0h10m1 0h8M189 226h4m6 0h6M47 228h10m126 0h12m16 0h22M198 229h9M323 230h7M50 231h20m105 0h8m0 0h5m180 0h19M26 232h13m342 0h6M154 234h9m0 0h17m2 0h5m105 0h8M123 235h4M139 236h11m4 0h9M87 238h11m47 0h5m67 0h12m48 0h6M134 239h9m53 0h10m49 0h13m1 0h15m12 0h11M178 240h4M87 242h7m36 0h8m46 0h2m8 0h8m3 0h3M371 243h9M302 244h10m0 0h19M106 245h11m109 0h7M173 246h8m0 0h4m7 0h8M183 247h5m1 0h8m6 0h3m7 0h18m33 0h12M180 248h5m11 0h4M117 249h5m62 0h6m31 0h10"/></defs>
<use href="#C2_2" stroke="#e65440" stroke-width="1.6" stroke-opacity="0.34"/>
<defs><path id="C2_3" d="M0 0h8m3 0h12m7 0h7m51 0h17m23 0h24m8 0h16m-1 0h9m0 0h18m48 0h6m0 0h8m43 0h7M26 1h10m11 0h18m-13 0h7m9 0h5m2 0h27m-19 0h15m-12 0h18m-1 0h10m-4 0h6m14 0h18m-14 0h9m-5 0h4m1 0h10m19 0h12m-6 0h23m-11 0h19m-6 0h3m3 0h16m-13 0h11m0 0h17m0 0h15m-1 0h16m-10 0h9m1 0h9m60 0h19m-1 0h17M28 2h12m81 0h17m-5 0h18m0 0h20m29 0h9m76 0h27m18 0h9m8 0h6M0 3h9m0 0h8m32 0h15m4 0h18m11 0h19m8 0h10m14 0h14m1 0h6m6 0h2m13 0h10m55 0h9m15 0h8m31 0h18m1 0h10M112 4h22m34 0h15m0 0h13m16 0h12M9 5h16M0 6h12m174 0h8m-4 0h11m129 0h11m0 0h9M153 7h16m0 0h19m148 0h16m4 0h8M186 8h5M252 9h6M178 10h11m154 0h5M186 11h8m1 0h16m-12 0h6M119 12h7M187 13h9m0 0h4M181 14h4m2 0h8m7 0h6M182 15h8m7 0h5m0 0h4M259 17h13M29 18h17m15 0h4m89 0h10m139 0h4M227 19h6m18 0h13m9 0h15m0 0h19m5 0h20m53 0h1M120 20h15m12 0h10m33 0h10m-1 0h4m0 0h8m17 0h18m-1 0h15m-10 0h18m-4 0h23m-20 0h6M92 21h17m84 0h7m131 0h13M188 22h9m33 0h2M56 23h14m6 0h19m11 0h9m0 0h9m5 0h5m4 0h8m10 0h15m16 0h4m3 0h19m7 0h15m-7 0h12m-5 0h20M20 24h10m9 0h13m128 0h12m8 0h6m2 0h7m0 0h6m16 0h14M12 25h17m167 0h4m-1 0h8m1 0h7M2 26h10m0 0h21m0 0h8m0 0h13M244 27h17M182 28h4M70 29h12m120 0h2m96 0h8m8 0h19M147 30h9m28 0h5m12 0h18m-11 0h6m0 0h2M106 31h13m39 0h12m-1 0h15m0 0h9m53 0h9m26 0h12M98 32h10m70 0h8m8 0h2M85 33h12m0 0h18m37 0h21M73 34h10m20 0h8m51 0h5m41 0h6m165 0h8M90 36h3M190 37h4M0 38h21m0 0h10M52 39h12m258 0h13M0 40h3M148 41h23m25 0h21m0 0h3m20 0h8m18 0h16m10 0h24m0 0h11m20 0h22M187 42h9m0 0h7M179 43h12M170 44h16M52 45h21m76 0h21m14 0h14m5 0h4M32 46h22m7 0h15m90 0h8m14 0h18m1 0h1m28 0h10M192 47h10m126 0h7m0 0h22M82 49h16m20 0h4m25 0h13m17 0h9m0 0h4m10 0h7m-6 0h1m8 0h7m7 0h8m-3 0h19m-16 0h18m-2 0h9m0 0h1m4 0h5m37 0h5M131 50h14M0 51h14M184 52h5m92 0h20M188 54h6m53 0h18M225 56h8m-1 0h8m0 0h9m10 0h13m4 0h11m93 0h7M175 57h8m0 0h9m42 0h7m98 0h2M219 58h16m-5 0h14m130 0h5M22 59h9m133 0h8m20 0h4M210 60h4m105 0h7m0 0h14M159 61h9m27 0h6m0 0h4m43 0h21M173 62h16m-2 0h8m-6 0h5m31 0h18M182 63h5m4 0h6M114 64h23m21 0h13m23 0h6m2 0h1m8 0h11m-1 0h5m62 0h15M188 65h6m2 0h2M55 66h6m10 0h14m28 0h9m0 0h12m1 0h12m94 0h8m22 0h3M161 67h13m0 0h7m16 0h12M102 68h12M131 69h11M27 70h11M107 71h1m86 0h8m1 0h9M114 72h14m0 0h12m60 0h16M115 73h12M41 74h4m38 0h9m0 0h17m12 0h16m8 0h10m36 0h3m130 0h15M98 75h12M21 76h19M85 77h14m31 0h16m16 0h18m186 0h11M164 78h6m16 0h7m46 0h8m120 0h10M0 79h17m126 0h17m27 0h4m3 0h18m166 0h9M3 80h15m0 0h5m94 0h8m145 0h13m0 0h15m66 0h18M147 81h7m-1 0h19m48 0h8m1 0h6m-1 0h17m20 0h13m0 0h5m8 0h11m11 0h10M8 82h12m21 0h13m128 0h3m3 0h2M34 83h5m0 0h16m19 0h16m0 0h15m12 0h11m1 0h10m9 0h9m0 0h17m1 0h10m-1 0h8m0 0h19m-18 0h10m0 0h3m29 0h18m38 0h7m-3 0h17M284 84h8m0 0h18M198 87h4M32 88h10m62 0h4m54 0h17m17 0h4m38 0h15m9 0h9m0 0h15m22 0h11m10 0h15m0 0h6M4 89h4m102 0h11m0 0h11m0 0h18m0 0h15M10 90h13m0 0h9m20 0h12m0 0h6m0 0h6m1 0h10m-10 0h23m0 0h20m-11 0h17m7 0h6m0 0h7m15 0h10m28 0h7m23 0h19m0 0h12m19 0h19M95 92h4m76 0h4m34 0h14m0 0h14m72 0h6m8 0h11m0 0h6M45 93h20m0 0h14m8 0h19m-1 0h15m27 0h18m0 0h11m4 0h11m-10 0h8m3 0h6m49 0h10M137 94h20m30 0h14M191 95h16m12 0h4M186 96h6m0 0h14m-13 0h4m7 0h1m29 0h8m100 0h2M189 97h1m105 0h6M205 98h9m-7 0h6m10 0h11m-6 0h19m-7 0h20m-3 0h18m3 0h5M169 99h7m47 0h11m0 0h8m40 0h2M55 100h7m121 0h4m194 0h6M140 101h2m42 0h13m17 0h12m104 0h7m0 0h17m26 0h6M155 102h7m10 0h14M190 103h11m12 0h17m0 0h15m0 0h7m0 0h18m0 0h9M144 105h15m22 0h8m116 0h4m43 0h6M116 106h7m0 0h23m14 0h22m1 0h7m1 0h8m68 0h11m99 0h10M376 107h10M230 108h16M12 109h4m196 0h22M87 110h13m149 0h20m0 0h14M131 111h6m45 0h10m0 0h3M316 112h17m0 0h5M14 113h13m0 0h8m88 0h6m0 0h8m69 0h5m172 0h4M103 114h15m0 0h22m27 0h13m0 0h2m62 0h12m28 0h20m18 0h7m18 0h10M168 115h6m0 0h7M175 116h13m0 0h21m-10 0h3m3 0h5m0 0h4M183 118h6m18 0h2m164 0h14M24 119h11m164 0h6m174 0h8M43 121h18m0 0h12m9 0h6m107 0h8m24 0h5M32 123h23m1 0h11m19 0h2m60 0h6m13 0h7m18 0h23M241 124h14M41 125h7m144 0h11m58 0h4m100 0h4M128 126h22m28 0h2m2 0h9m15 0h20m18 0h15m25 0h6m60 0h7M192 127h4m0 0h9M186 128h5m58 0h19m10 0h15M176 129h5m1 0h7m0 0h9m-1 0h3M43 130h6m56 0h10m44 0h17m5 0h8m1 0h8m0 0h6M35 131h6m0 0h14m0 0h9m6 0h12m36 0h14m-12 0h19m-7 0h10m1 0h14m31 0h9m2 0h5m2 0h6m8 0h15M202 133h20m83 0h23m23 0h8m0 0h19m0 0h8M181 134h5m0 0h5m9 0h3m62 0h9m22 0h6M55 135h19m18 0h21m0 0h17m21 0h12m0 0h4m18 0h5m15 0h18m56 0h20M37 136h5m147 0h6M86 137h4m46 0h21m22 0h8m9 0h1m33 0h10M41 138h14m100 0h11m40 0h12m25 0h17M191 140h4m1 0h8m0 0h3m114 0h3m55 0h8M6 141h13m249 0h9m0 0h12M202 142h2m112 0h23m3 0h18m10 0h16M3 143h4m134 0h23m-5 0h11m12 0h13m18 0h15m1 0h24m-9 0h16m-8 0h10m-1 0h13m15 0h8m1 0h3M176 144h5m10 0h6M145 145h7m0 0h2m24 0h5m-1 0h3m7 0h4m0 0h3M209 146h22M194 147h18M366 148h6M178 150h10M103 151h14m61 0h6m5 0h3m7 0h6m32 0h7M87 152h9m22 0h11m100 0h5m48 0h23m23 0h22m8 0h20M79 153h8m96 0h6m100 0h22m70 0h1M48 154h21m22 0h19m10 0h6m167 0h24m0 0h9m3 0h17M48 155h18m5 0h20m93 0h5m-2 0h6m7 0h1m14 0h8m56 0h12M114 157h14m21 0h4m199 0h14M190 158h16M79 159h13m111 0h4M251 161h6m1 0h8M178 163h11m0 0h18m0 0h9m40 0h14m90 0h16m0 0h11M188 164h4m7 0h5m0 0h8m132 0h14M163 165h6m64 0h16m2 0h16m25 0h7M167 166h10M235 167h13M0 168h7M107 169h12m76 0h12m-6 0h1M122 170h4m56 0h3m0 0h3m22 0h14m86 0h9M195 171h5M0 172h6M319 173h17M141 174h16m71 0h4m14 0h7m0 0h23m99 0h7M139 175h18m30 0h4m35 0h19m0 0h5m0 0h13m2 0h9m44 0h3M198 176h6m1 0h1m53 0h14M103 177h4m80 0h13M190 178h10m33 0h13m0 0h9M189 179h10M179 180h9m-7 0h5M141 181h10m17 0h8m0 0h12m36 0h6M382 182h4M23 183h10m0 0h7m140 0h22M192 184h7m2 0h7M246 185h17m69 0h13m0 0h9M284 186h23M179 188h6m0 0h6m0 0h4M108 189h6m72 0h4m76 0h2M356 190h10M148 192h7m0 0h15m0 0h8m14 0h3m6 0h7M64 194h7m31 0h9m0 0h10m5 0h9m30 0h17m0 0h10m0 0h20m1 0h12m2 0h6M212 195h14M223 196h12M191 197h17m26 0h18M66 198h10m39 0h16m1 0h12m0 0h11m0 0h20m3 0h8m-6 0h5M207 199h1m96 0h6M0 202h19m33 0h6m310 0h19M278 204h20m31 0h7M195 205h4m1 0h5M167 206h13m0 0h7m7 0h8m33 0h21m12 0h5M193 207h7M183 209h11m29 0h10m1 0h20M0 211h11m95 0h15m0 0h16m57 0h1M96 212h17m67 0h4m15 0h5m-3 0h1m34 0h2M112 213h16m0 0h9m0 0h19m41 0h2m48 0h9M203 214h7M185 215h4m10 0h4m2 0h1m11 0h8M273 216h2M198 217h15M188 218h14m0 0h22M78 219h16m7 0h12m16 0h17m-1 0h7m15 0h8m10 0h18m34 0h18m0 0h14m28 0h11M52 220h7m134 0h4M16 222h10m0 0h15m0 0h17m0 0h19m30 0h7m0 0h18m0 0h15m-1 0h12m1 0h17m6 0h6m-1 0h16m5 0h11m4 0h17m-1 0h9m1 0h5m-1 0h17m33 0h10m5 0h18m5 0h14m0 0h18m-15 0h2M200 223h3m21 0h8m56 0h21m10 0h15M89 225h11m19 0h10m6 0h8m45 0h5m6 0h4m70 0h23M197 226h4M195 228h10m28 0h4M282 230h4m12 0h7m0 0h12m0 0h6M26 231h22m230 0h15m22 0h8m0 0h7M39 232h16m3 0h16m78 0h8m0 0h7m31 0h4m143 0h6M187 234h10m6 0h2m45 0h8M37 235h7M186 236h6M162 237h2m16 0h14m1 0h7m2 0h6m0 0h16m2 0h8M37 238h7m125 0h10m2 0h18m0 0h10m2 0h6m104 0h6M102 239h18m-2 0h9m15 0h20m5 0h17m7 0h5m10 0h14m17 0h18m11 0h6m14 0h5M75 240h14m216 0h12m0 0h9m0 0h20m0 0h2M205 241h18M15 242h7m164 0h8m10 0h4m14 0h4m50 0h2M182 243h6m6 0h4m110 0h8m17 0h24m23 0h7M24 245h6m156 0h12m-6 0h3m3 0h16m19 0h14m36 0h3m34 0h13M207 247h5m32 0h20M353 248h2M74 249h8m19 0h15m9 0h13m31 0h12m16 0h7m11 0h17m0 0h8m0 0h7m4 0h8m33 0h7m4 0h13m31 0h5m0 0h5"/></defs>
<use href="#C2_3" stroke="#e65440" stroke-width="1.6" stroke-opacity="0.34"/>
<defs><path id="C2_4" d="M45 0h11m7 0h14m28 0h20m24 0h11m44 0h15m0 0h12m1 0h23m4 0h15m18 0h8m22 0h28m36 0h1M2 1h9m0 0h10m-6 0h12m-6 0h24m55 0h8m3 0h8m64 0h5m36 0h18m54 0h7m79 0h4M13 2h9m18 0h23m34 0h23m75 0h8m108 0h19m23 0h23m0 0h6M133 3h16m39 0h24m-12 0h5m5 0h4m138 0h13m0 0h10M196 4h16m12 0h16M12 6h19m-1 0h10m2 0h10m149 0h7M191 8h9m1 0h8M195 12h7M165 15h12m13 0h5M181 16h15m0 0h13m-1 0h16M199 17h4m69 0h9m5 0h16m0 0h22M45 18h9m0 0h7M219 19h8m138 0h21M135 20h12m16 0h15m5 0h13m3 0h10m0 0h7m3 0h12m-10 0h7m2 0h4m44 0h20m-11 0h17m-7 0h14m0 0h17m-1 0h7M71 21h7m-1 0h15m18 0h14m-1 0h5m216 0h14m0 0h15m0 0h8m1 0h5M354 23h9M6 24h14m9 0h10m153 0h15m55 0h19m0 0h19m6 0h4M147 25h6m37 0h6m91 0h16M82 29h10m243 0h12m2 0h14m0 0h8m1 0h4M79 30h10m67 0h17M89 31h15m14 0h22m89 0h17M115 33h16m0 0h22m21 0h8m0 0h8m117 0h13M108 34h7m5 0h6m0 0h8m-1 0h12m-8 0h13m-1 0h16m0 0h6m0 0h18m-12 0h22m-10 0h12m-3 0h19m-16 0h7m9 0h1m1 0h8m0 0h18m1 0h1m54 0h24m-1 0h7M83 36h7M11 39h21m-1 0h20m12 0h15m1 0h16m206 0h21m13 0h2M175 40h8m23 0h13M171 41h11m145 0h15M0 44h7m116 0h2m26 0h8m0 0h11m16 0h8m175 0h7m-1 0h11M192 45h5m1 0h10m15 0h8m0 0h8M54 46h7m15 0h2m102 0h6m11 0h10m176 0h4M356 47h16M98 49h15m53 0h12m14 0h5m10 0h23m-13 0h8m67 0h12m7 0h12m27 0h11M14 51h8m65 0h22m-1 0h8m0 0h11m0 0h16m4 0h1m13 0h15m-1 0h22m0 0h5M191 52h8m3 0h7m2 0h4m49 0h17m20 0h7m-1 0h15M261 53h14m5 0h5M226 54h21m19 0h22M180 56h9m0 0h5m0 0h5m1 0h4m48 0h7m98 0h23M191 57h6M153 58h12M34 59h7m0 0h18m5 0h13m0 0h7m3 0h19m3 0h5m3 0h17m0 0h6m1 0h9m5 0h18m1 0h12m1 0h19m5 0h7m-1 0h19m0 0h8m0 0h11m0 0h14m3 0h17m4 0h2M306 60h13M150 61h9M92 62h14m0 0h10m5 0h15m0 0h6m0 0h16m0 0h15m21 0h12m1 0h12m0 0h6m20 0h2M187 63h3M137 64h21m13 0h17m115 0h7M172 65h13M207 66h10m31 0h23M25 67h2m164 0h6M114 68h4M123 69h6M0 70h7M187 71h8M58 72h16m0 0h15m-1 0h6M107 73h8M9 74h8m120 0h8m10 0h12m2 0h1m5 0h13m0 0h5M72 75h2M1 76h10m-1 0h11M125 78h7m0 0h7m0 0h21m10 0h16m-7 0h8m-1 0h2m58 0h2M17 79h1m103 0h8m30 0h17M381 80h2M127 81h19m6 0h12m88 0h18m9 0h5m5 0h8M106 83h12m20 0h10m23 0h22m78 0h24m34 0h5m0 0h8M133 85h10m0 0h12M179 87h9m0 0h8m83 0h9m0 0h16m0 0h17M0 88h6m36 0h6m16 0h2M67 89h1m97 0h8m1 0h24m0 0h7m0 0h7m72 0h10m0 0h6m0 0h4M32 90h19m36 0h8m0 0h14m10 0h14m-7 0h20m63 0h20m40 0h6M139 92h8m4 0h24M120 93h9m1 0h18M318 96h16m0 0h8M256 97h11m0 0h13m3 0h11m7 0h7M271 98h21m0 0h13m0 0h17m0 0h4m55 0h6M192 99h20m0 0h11m19 0h10M79 100h10M357 101h5M85 102h3m42 0h23m9 0h8M14 103h16m171 0h12m66 0h12M147 104h14m0 0h12m130 0h4M335 105h18m32 0h2M95 106h21m30 0h14m23 0h4M193 107h6M0 109h12m46 0h4m120 0h7m0 0h15m0 0h8M99 110h11M165 111h18M191 112h8M0 113h9m94 0h6m54 0h14m58 0h4M46 114h7m0 0h17m0 0h15m0 0h10m-1 0h6m43 0h24m109 0h8M93 118h18m0 0h15m0 0h9m1 0h23m0 0h22m0 0h16m-8 0h7m0 0h7m-6 0h4m2 0h4m12 0h20m-1 0h18M73 121h8m22 0h6M158 123h14M0 125h21m0 0h14m12 0h9m35 0h6m152 0h11M262 126h9m3 0h2m42 0h14M237 128h12m61 0h14M79 129h8M0 130h13m274 0h10M76 131h4m6 0h13m4 0h15M292 133h13m23 0h11m0 0h12M161 134h6m5 0h11m91 0h23m6 0h2M223 135h17m0 0h16m15 0h4m42 0h4M187 137h7M302 140h19m39 0h19M0 141h6m13 0h13m4 0h7m0 0h15m122 0h17m0 0h11M142 142h18m25 0h17M133 143h11m20 0h6m0 0h16m-15 0h5m13 0h12m2 0h2m69 0h11m-4 0h4M382 146h5M384 147h3M301 148h1M15 151h10M194 152h2m-1 0h5m1 0h3M90 153h5m44 0h8m3 0h18m0 0h19m-1 0h14m0 0h12m0 0h5m8 0h2m5 0h8m0 0h19m1 0h19m0 0h8m24 0h15m-9 0h11m0 0h11m-9 0h16m0 0h22m0 0h13M69 154h7m0 0h15m19 0h10m152 0h18M269 155h10m12 0h21m0 0h10M368 157h13M91 159h11M218 161h10m0 0h24M216 163h18M212 164h3M208 165h15m2 0h4m38 0h16m17 0h7M0 167h10m0 0h21m0 0h15m2 0h8m1 0h3m70 0h2M119 169h2m70 0h2m86 0h2M68 170h10m0 0h10m3 0h1m134 0h6m87 0h7m40 0h16M147 171h2M254 172h6M308 173h11m16 0h13M201 174h21m-1 0h21M120 175h19m23 0h7m3 0h20m0 0h10m2 0h16m0 0h5m50 0h5m2 0h19m0 0h16M185 176h10m171 0h13M247 177h6M185 178h5m12 0h10m0 0h1M170 180h9m6 0h6m0 0h7m0 0h4m0 0h2M122 181h19m10 0h5M278 182h6M202 183h4M183 184h9m60 0h14M263 185h16m0 0h12m0 0h15M307 186h23m0 0h16M167 189h7m-1 0h8m0 0h12m1 0h7m52 0h14m86 0h6M331 193h8M135 194h10m32 0h10m0 0h20m7 0h13m6 0h5m1 0h15m4 0h17M226 195h6M103 196h19M88 198h14m-1 0h9m76 0h8m-1 0h5m3 0h5m149 0h8M218 199h18m0 0h10m-1 0h23m42 0h16M194 202h2m106 0h19m0 0h5M181 203h7m1 0h8m0 0h8M115 206h12m-1 0h4m125 0h13M233 207h13m0 0h16m-1 0h19m27 0h6m0 0h22M0 209h7m158 0h19m10 0h19m0 0h10M183 210h14M149 211h10M85 212h12m16 0h6M51 213h12m3 0h7m3 0h13m0 0h12m0 0h7m48 0h7m2 0h18m0 0h5m0 0h12m0 0h13m0 0h13m1 0h14m20 0h20m0 0h10m2 0h7m3 0h18M188 214h9m0 0h6m8 0h2M69 215h8m0 0h11m0 0h18m4 0h16m23 0h8m148 0h8M27 216h6m0 0h7m219 0h14M274 217h10M49 219h15m0 0h8m22 0h7m12 0h18m0 0h12m3 0h6m2 0h17m0 0h14m21 0h15m0 0h16m32 0h18m3 0h7m11 0h10m0 0h19m0 0h8m4 0h7m0 0h3M78 222h15m195 0h15M182 223h8m68 0h21m30 0h9m16 0h8m0 0h9m0 0h3M100 225h8m-1 0h11m10 0h2m64 0h5m32 0h7m-1 0h21M194 226h3m170 0h11m0 0h9M177 227h7m-1 0h17M0 228h5m138 0h2M60 230h6M84 231h4m205 0h22M86 232h4m126 0h18m36 0h8m54 0h13m6 0h1M102 233h13m4 0h19m1 0h18m0 0h9m116 0h10M224 234h13m0 0h10M43 235h1M116 237h14m55 0h6m0 0h4m53 0h2M40 239h13m0 0h21m0 0h8m0 0h17m28 0h7m49 0h8m29 0h17M39 241h14m0 0h14m38 0h8M0 242h6m0 0h9M76 243h9m0 0h15m-1 0h8m3 0h10m10 0h24m1 0h9m1 0h14m0 0h3m9 0h3m1 0h4m117 0h16m24 0h14M0 245h22m16 0h8m75 0h5m52 0h4m1 0h9m55 0h13m12 0h11M48 246h21m0 0h9M141 247h2M68 249h6m8 0h19m41 0h11m0 0h12m16 0h19m5 0h10m44 0h17m1 0h9m30 0h10m0 0h8m0 0h8"/></defs>
<use href="#C2_4" stroke="#e65440" stroke-width="1.6" stroke-opacity="0.34"/>
<use href="#C2_1" stroke="#f4a38b" stroke-width="0.75"/>
<use href="#C2_2" stroke="#dd4c36" stroke-width="0.75"/>
<use href="#C2_3" stroke="#9c1719" stroke-width="0.75"/>
<use href="#C2_4" stroke="#5a0a0c" stroke-width="0.75"/>
</g></g></g>
<g transform="translate(594.3 1512.2)">
<rect width="192.6" height="353" fill="#fdf2ee"/>
<rect x="82.8" width="27" height="353" fill="url(#band)" opacity="0.2"/>
<g filter="url(#soft)"><g transform="scale(0.5 1.4120) translate(0 0.5)" fill="none">
<path d="M276 0h2M348 1h6M315 2h36M57 3h32M84 5h94m108 0h99M30 7h13M238 10h46M27 11h93m242 0h24M124 12h99M263 13h67M103 15h40m207 0h21M221 16h14m-2 0h83m-42 0h111M131 17h22M0 18h177m-6 0h34m-25 0h61m-6 0h3M25 19h70M195 21h17m88 0h60M0 24h385m-384 0h51m191 0h53m55 0h5M94 25h86M172 26h15m146 0h52M123 27h263m-104 0h30M200 32h65m2 0h67M22 33h87m190 0h64M2 34h17m59 0h183m-142 0h63M253 35h10M159 36h40m27 0h11m61 0h29m-13 0h7M178 37h12M10 38h132m99 0h8m1 0h4M315 39h11M73 40h78M219 42h57M0 43h100m205 0h73M265 44h21M168 45h126M34 46h17m237 0h58m8 0h10M333 47h3M73 48h20m30 0h57M126 50h50M33 51h20m46 0h13m60 0h55m44 0h34m-1 0h82M239 55h2M115 56h14m92 0h55M280 57h46M127 58h34m42 0h70m15 0h97M0 60h163m-159 0h36M99 61h71M281 62h41m2 0h24M290 64h9m-4 0h43M0 65h35M294 66h91M12 68h139m224 0h11M227 71h29M277 72h74M220 73h5M263 74h14M0 76h72m109 0h62M0 77h87M372 78h13M195 79h80M26 80h86M273 81h65M333 82h46M37 83h5m62 0h66m-14 0h34m-23 0h14m68 0h44M255 84h58M140 85h28M237 87h15M74 90h25M90 91h76M375 92h10M43 93h30M162 94h53M292 95h88M0 96h218M264 97h23M145 100h12m105 0h39m5 0h79M337 101h48M0 102h105m-60 0h102m230 0h6M133 105h28M45 107h6M110 108h17m153 0h71M335 110h40M117 112h38M124 113h21M30 114h101M57 115h33m75 0h50m3 0h92M131 116h21M185 118h128M0 120h191M0 121h97M117 122h44M173 124h23M174 125h28m62 0h31m33 0h57M12 126h19m312 0h42M164 127h177M365 128h7M105 129h12m46 0h114m88 0h4M106 130h67M4 132h10M119 133h37M37 135h39m211 0h98M83 136h6m238 0h58M315 137h11M162 139h74M326 141h32M341 142h41M18 143h20m268 0h58M31 145h324m-200 0h50M246 146h139M0 147h42m98 0h75m35 0h26M0 150h54m32 0h28M264 151h4M0 152h260m76 0h31M214 153h70m-62 0h17M150 154h78M3 156h5m273 0h80M93 159h81M0 160h2m10 0h44m227 0h55M209 161h11M287 162h28M0 163h63m-25 0h133m-79 0h6m48 0h34m-4 0h22M76 164h137m130 0h26M259 165h47M216 166h2M34 167h22m183 0h146M50 169h35M274 173h77M37 174h43m-10 0h98M318 175h17m-5 0h37m-10 0h5M0 176h69m56 0h85M0 177h43m-39 0h156m-58 0h50m152 0h7m51 0h24M4 178h76m1 0h5m113 0h27m124 0h7M234 179h19M119 181h41m73 0h92m-79 0h12M194 182h7M14 184h54M0 187h32m104 0h42M126 188h24m145 0h21m57 0h12M278 190h61M0 191h41m-8 0h35m72 0h26M259 192h126M0 193h68m99 0h25M155 194h78M0 195h56M0 196h81M85 197h34M234 198h21m-12 0h138M149 199h75m27 0h11M319 201h51M0 202h129m-14 0h2M274 203h18M109 205h64m-61 0h24M52 207h143m-113 0h56m-12 0h26M267 208h119M333 209h20M194 210h6M47 211h23M105 212h18m233 0h29M164 214h12m121 0h64M0 215h70m95 0h59m21 0h32m33 0h76M76 216h82M320 218h65M333 219h42m4 0h7M35 220h38M76 221h4m58 0h69M24 222h111m2 0h13m21 0h12M266 223h18M0 224h64M100 226h33M1 228h69m236 0h79m-62 0h12M0 230h3M8 231h309m1 0h54M237 232h56M285 233h6M56 235h257m-234 0h108M0 237h176M222 238h23M252 239h22M53 240h8M13 241h129m161 0h17M341 243h12M1 244h16M9 245h59M58 246h52M313 247h60M181 248h76" stroke="#fbe2d8" stroke-width="1.3"/>
<defs><path id="C3_1" d="M107 0h20m45 0h8m45 0h24m-3 0h10M0 1h3m96 0h8m0 0h14m0 0h2m64 0h12m23 0h17m25 0h19M35 3h7m3 0h10m212 0h10m0 0h6m-1 0h25M51 4h9m0 0h15m62 0h8M161 6h8m0 0h17m109 0h8m76 0h6M371 7h10M340 8h10m2 0h6m17 0h3M87 9h4m107 0h8m9 0h9m112 0h8M21 10h2m115 0h20m0 0h12m154 0h19m0 0h8m4 0h3M2 11h4m46 0h6m166 0h2m100 0h9m2 0h6m0 0h16m16 0h1M0 12h17m3 0h12m62 0h6m36 0h10m84 0h18m0 0h10m36 0h10M23 13h11M115 14h6m1 0h10m71 0h10m92 0h7M24 15h12m142 0h13m-5 0h4M99 16h8m58 0h19m45 0h9m45 0h6m2 0h10m8 0h6m52 0h7M184 17h7m0 0h6M217 18h11M254 19h6M36 20h8M163 21h9m0 0h3M157 22h2m22 0h14M71 23h6m92 0h18m-5 0h9m0 0h9m37 0h7m139 0h2M0 26h1m170 0h2m15 0h4m27 0h9m57 0h10m3 0h5m10 0h7m0 0h7m6 0h12m1 0h17M18 27h6m93 0h7m24 0h8m67 0h7m16 0h8m0 0h10m41 0h9M192 28h2m98 0h6M184 29h5m0 0h10m0 0h1M96 30h2m34 0h8m168 0h6M162 31h8M12 32h8m-2 0h19m-14 0h10m2 0h7m-6 0h15m30 0h15m123 0h2m150 0h8m0 0h4M0 33h3m180 0h8M88 34h8m1 0h9m81 0h10m-8 0h4M41 35h4M38 36h10m139 0h10m183 0h5M103 37h6m94 0h8M77 39h2m24 0h4m32 0h6m158 0h4m6 0h8m0 0h4m2 0h2M277 40h4m90 0h2M222 41h8M204 42h16M180 44h4m-4 0h7m-1 0h12m-10 0h5m19 0h4m48 0h7m0 0h5M133 45h12M63 46h6m179 0h9m80 0h8M137 47h13m0 0h9m18 0h12m142 0h13m0 0h11m1 0h7m3 0h11M121 48h2m25 0h6m0 0h5m70 0h2m42 0h7m91 0h14M8 49h14m38 0h6m20 0h2m30 0h6m102 0h1m1 0h10m-7 0h2m137 0h13M46 50h2m44 0h8m130 0h4m24 0h11m0 0h8m0 0h10m17 0h4m36 0h10m30 0h1M53 51h8m16 0h6m128 0h7m0 0h10m0 0h10M135 52h8m98 0h10m0 0h20m-1 0h3M118 53h18m0 0h8m4 0h19m0 0h8m0 0h5m0 0h7m2 0h3m9 0h1m3 0h5m5 0h9m-2 0h12m0 0h12M181 54h4M193 55h6M219 56h6M182 57h6m32 0h10m70 0h2M294 59h6M22 60h10m140 0h11m87 0h4M161 61h7m3 0h12m32 0h3m25 0h16m42 0h9m4 0h6m0 0h5M56 62h4m16 0h20m0 0h8m216 0h7m2 0h9M189 65h8m41 0h2m18 0h2m26 0h6M332 66h15m0 0h11m0 0h12M194 67h7M90 68h6m92 0h14M182 70h13m0 0h12m-1 0h2m174 0h3M31 71h16m70 0h16m0 0h6m52 0h5M185 72h8m0 0h3m11 0h16m24 0h4M185 73h7M163 74h8M0 77h2m187 0h4m0 0h1m18 0h6m34 0h2m16 0h6m80 0h16M67 78h17m0 0h13m88 0h4m4 0h4m101 0h18m0 0h8M286 79h7m0 0h6m0 0h3m68 0h10m3 0h2M122 80h14m0 0h10m92 0h10M90 81h6m102 0h6m72 0h10m3 0h5m46 0h4m6 0h8M155 82h12M183 83h4m0 0h9M0 84h4m136 0h6m186 0h7m4 0h3M59 85h2M45 86h6m5 0h7m-1 0h7m124 0h7m-1 0h15m0 0h5m76 0h4M8 87h8m43 0h7m55 0h8m10 0h15m15 0h6m4 0h6m7 0h7m12 0h4m83 0h3M160 88h12M230 89h2M178 90h10m0 0h2M189 91h6M192 92h3m0 0h6M3 93h8m0 0h6m102 0h12m142 0h15m0 0h8m0 0h11m0 0h4m60 0h6M176 94h18m127 0h10M40 95h4m110 0h10M10 96h2m132 0h6M185 97h7m0 0h18m60 0h8M14 99h2M144 100h13m0 0h5m34 0h4m22 0h20m24 0h18m0 0h16m0 0h6M121 101h4M60 102h6m230 0h10m0 0h6M96 103h6m22 0h14m21 0h17m38 0h8M0 104h12m0 0h4m72 0h7m71 0h12m10 0h6m1 0h1m94 0h8m24 0h10m44 0h9M193 105h9M252 106h8m102 0h13m0 0h5M91 107h18m13 0h11m50 0h12m6 0h4m2 0h4m102 0h10m54 0h4M42 108h8m4 0h10m4 0h2m58 0h8m51 0h6m2 0h3m0 0h5m-1 0h9m1 0h10m68 0h2M185 109h5m0 0h4M194 110h9m24 0h8M31 111h4M128 112h16m3 0h1M178 113h4m17 0h7m8 0h4m46 0h8m0 0h12m4 0h7m0 0h3M200 114h11m2 0h13m8 0h8m98 0h6m1 0h11M185 116h4M96 117h8m3 0h15m-1 0h9m26 0h17m0 0h12m-1 0h2m72 0h2M230 118h10m49 0h10m20 0h3m28 0h6m0 0h8M146 119h8m0 0h18m144 0h12m36 0h7m13 0h1M115 120h8m8 0h6m48 0h3m10 0h1m6 0h2M42 121h15m33 0h6m90 0h12m-1 0h5M266 122h12m-1 0h11M4 123h2m98 0h4m90 0h4m52 0h12m0 0h6M136 124h6m-1 0h6m33 0h8m16 0h6m0 0h10m8 0h8m22 0h2M156 126h8m29 0h3m6 0h16M189 127h9m-9 0h14m0 0h4m66 0h2M189 128h10m50 0h12M108 129h8m108 0h4m46 0h2M359 130h7M22 131h6M33 134h4m180 0h8m0 0h4M192 136h11M30 137h6m22 0h5m124 0h7m30 0h6m34 0h2m24 0h6m54 0h6M199 138h10m1 0h11M7 139h6m5 0h5M303 140h4M130 141h2m125 0h14M370 142h4M200 143h2M168 144h1m184 0h2M124 145h8m60 0h13m0 0h9m0 0h8M325 146h17m0 0h9M173 147h10m98 0h4M230 148h14m0 0h4m84 0h15m0 0h13M38 149h7m0 0h5m134 0h4m18 0h13m2 0h5m2 0h13m0 0h7m20 0h10m30 0h16m0 0h10M194 150h12M53 151h10m152 0h7m19 0h8m72 0h10M74 153h10m22 0h6m5 0h3m18 0h16m6 0h14m32 0h4M190 154h12M24 155h6m159 0h6m23 0h2M20 156h1m198 0h12m0 0h2M109 157h6m4 0h8m4 0h4m38 0h16m33 0h13M69 158h4m80 0h8M268 159h8m0 0h18M270 160h10m15 0h11M194 161h2M119 162h10m94 0h8M129 164h6M162 165h12m0 0h2m18 0h5m63 0h4m116 0h3M57 167h9m0 0h11m1 0h8m83 0h6M77 168h6m226 0h8M83 170h2m12 0h16m1 0h14m35 0h12m186 0h4M93 171h16m10 0h5m105 0h6m103 0h7m3 0h4M1 172h6m106 0h11m0 0h11m0 0h16m217 0h14m0 0h3M173 173h10m184 0h2M0 174h7m46 0h4m116 0h10m56 0h16m-1 0h6m107 0h2M184 175h6m52 0h6M105 176h6m0 0h2M206 177h12M271 179h2M197 180h11M31 181h6m166 0h4M173 182h12M2 183h16m-15 0h10m15 0h5m70 0h7m169 0h6m74 0h12m0 0h6m4 0h4M184 185h10m6 0h1M81 186h15m2 0h3m104 0h20m4 0h4m42 0h12m0 0h6M13 187h2m257 0h13M193 189h5M182 192h9m103 0h8M78 196h2m86 0h8m4 0h4m35 0h3m26 0h15m0 0h6m0 0h9m98 0h11M131 197h6m38 0h14M383 198h2M93 201h2m126 0h16m108 0h6M21 202h6m1 0h4M205 203h13M12 204h10m0 0h4m166 0h7M275 205h2M53 206h19m0 0h17m0 0h17m-1 0h11m104 0h2m38 0h14m24 0h8m39 0h7M332 207h2M115 208h20m158 0h6m12 0h16M92 209h10m79 0h5M179 210h9M177 211h4m127 0h7m5 0h13m9 0h8m1 0h13m1 0h10M37 212h9m146 0h4m63 0h12m52 0h6M39 213h13m83 0h5m49 0h8m1 0h4m57 0h7m0 0h2m51 0h5M3 214h15m-1 0h16m4 0h10m-8 0h14m-5 0h11m55 0h7m0 0h9m0 0h4m49 0h7m82 0h6m43 0h6M115 215h18m59 0h5m77 0h5M87 216h7m20 0h4m30 0h8m5 0h10m0 0h10m-1 0h14m60 0h10m120 0h1M312 217h12m0 0h9m-1 0h11m3 0h4m10 0h6M186 218h6m5 0h5m38 0h6m14 0h8M322 219h4M149 220h10M143 221h1m176 0h2M119 222h6m22 0h7m0 0h8m0 0h14m0 0h15m1 0h10m0 0h14m0 0h11M59 223h4m4 0h4m16 0h13m0 0h15m8 0h17m0 0h7m62 0h6m140 0h15m-1 0h16M193 226h8m10 0h8m12 0h11m9 0h10m10 0h13m1 0h5m49 0h8M137 227h11m5 0h16m13 0h1m10 0h8M176 228h14m-9 0h7m0 0h5m4 0h10m23 0h7M175 230h6M354 231h10M139 232h2m20 0h13m0 0h7M16 233h2m172 0h3m7 0h1m31 0h9m53 0h6m74 0h7m0 0h3M7 235h2m354 0h12M65 236h9m9 0h8m17 0h13m-1 0h16m17 0h14m1 0h16m0 0h10m-1 0h7m-6 0h19m9 0h9M283 237h11M18 239h2m68 0h14m0 0h10M245 240h2M135 241h4m10 0h6M41 243h7m113 0h12M26 244h9m34 0h6m1 0h7m69 0h2m78 0h4M192 245h7m26 0h9m29 0h6M58 247h17m-15 0h5m10 0h3m20 0h20m3 0h7m22 0h10m30 0h5M378 248h2M45 249h11m0 0h3m66 0h11m0 0h13m26 0h8"/></defs>
<defs><path id="C3_2" d="M140 0h12m-10 0h7m38 0h14m-10 0h5m-1 0h1m76 0h22M166 1h21m70 0h7m19 0h12M156 2h2m17 0h13M125 3h22m1 0h11m44 0h18m4 0h10m5 0h13M327 4h9m23 0h15M182 6h8m0 0h8m3 0h2M234 8h18m0 0h2M20 9h2m166 0h4m14 0h6M182 10h2m6 0h10m98 0h4M96 11h7m0 0h3m253 0h16M102 12h8m8 0h18m54 0h18m96 0h2M35 13h7m-1 0h4m338 0h2M295 14h10M190 15h5m-4 0h15m-11 0h4m0 0h1M147 16h10m27 0h7m184 0h10M229 18h13m107 0h10M308 19h2M19 20h16M185 22h9m0 0h4m0 0h5m34 0h11m6 0h3M103 23h12m44 0h2m1 0h11m-3 0h8m9 0h6m56 0h5M193 24h4M138 25h19m0 0h5M3 26h8m106 0h6m0 0h4m8 0h6m-1 0h17m35 0h6m109 0h6M142 27h7m8 0h3m22 0h2m131 0h10M178 30h15M190 31h6m150 0h6M0 32h18m78 0h5m36 0h10m34 0h11m-3 0h14m0 0h9m132 0h5M191 33h5M81 34h7m77 0h8m4 0h10m7 0h2M167 35h8M197 36h5m94 0h4M131 39h8m148 0h4M377 40h6M248 41h8m24 0h4M220 42h8M329 43h4M177 44h3M237 46h11m117 0h12M107 47h4m80 0h4M15 48h4m86 0h10m20 0h13m37 0h2m46 0h2M17 49h4m27 0h2m53 0h9m22 0h18m42 0h4m176 0h11M208 50h11m0 0h1M21 52h4m160 0h4m28 0h10M108 53h6m73 0h18m-10 0h4m11 0h12m3 0h12M200 54h7m2 0h8M182 55h4M188 56h5m1 0h4M288 57h12M183 58h5m7 0h3M162 60h10m11 0h3m10 0h6m-2 0h6M133 61h4m136 0h4m80 0h17M48 62h8m234 0h6m54 0h2M69 63h17m97 0h18M52 65h16M213 67h8M0 68h10m354 0h9M372 70h8M139 71h4m42 0h2m126 0h6M277 72h2m84 0h6M192 73h5m0 0h1M188 74h7m-4 0h6M381 76h4M50 77h4m131 0h3m12 0h12m170 0h3M100 78h2m73 0h6m104 0h13m26 0h5M47 79h7m132 0h10m0 0h9m0 0h8m3 0h6m54 0h10M110 80h12m178 0h6m20 0h2M185 81h7m0 0h8M185 82h4m175 0h1M2 83h10m224 0h2M134 84h2m130 0h18M277 85h14m5 0h18m-1 0h6M0 87h8m40 0h11m40 0h6m49 0h12m19 0h12M187 88h8m-1 0h10m18 0h2m152 0h8M314 90h2M362 91h18M198 92h6M29 93h2m118 0h13m27 0h7m40 0h13m80 0h16M0 94h7m0 0h8m14 0h2m154 0h14m0 0h6m0 0h3M21 95h7m164 0h10M28 96h10M288 97h6M185 98h9m-5 0h18m-9 0h5M42 99h6m134 0h6M106 100h2m82 0h4m48 0h12M192 101h7M180 102h2m1 0h4m2 0h9m182 0h5M88 103h8m84 0h6m0 0h4M95 104h3m80 0h11m154 0h19m1 0h11M188 106h14M109 107h13m11 0h2m36 0h10M34 108h8M195 109h3m16 0h2M186 110h8M183 111h6m54 0h20m0 0h6M106 112h2M70 113h13m0 0h5m102 0h9m7 0h8m8 0h14m118 0h13M182 114h5m85 0h4m54 0h10M180 115h8m1 0h10M130 117h7m55 0h8m0 0h16m4 0h4m62 0h10m20 0h4M157 118h8m2 0h14M106 119h4m242 0h12m9 0h5M192 120h6M176 121h10m2 0h7m143 0h12M200 122h3m45 0h18M142 123h6m41 0h9M5 124h2M87 125h13M72 126h2m114 0h6M0 127h4m64 0h2m128 0h1M184 128h8M206 129h18M194 130h6m152 0h7m7 0h6M3 131h18m56 0h1m305 0h2M27 134h2M0 135h3M48 137h11m72 0h18m31 0h6m6 0h15m-13 0h15M15 138h6m250 0h4m82 0h9m2 0h6M190 140h4m90 0h7M227 141h10m10 0h10m16 0h17m0 0h1M190 143h4m0 0h6M101 144h8m22 0h18m0 0h16M74 145h17m0 0h3m38 0h4M185 148h5m0 0h2m60 0h13M126 149h8m58 0h14M0 151h3m34 0h10m100 0h4m5 0h4m11 0h16m5 0h7M24 154h8m308 0h14M112 155h2m56 0h10m15 0h3M9 156h11m49 0h10m58 0h16m42 0h9m0 0h1M83 157h6m102 0h15m0 0h9m0 0h2m18 0h6m34 0h15M0 158h1M294 159h6M192 160h10m0 0h7m71 0h7m-1 0h8M13 162h18m0 0h9m163 0h4M175 163h3m23 0h1M113 164h16M192 165h10m14 0h7m0 0h3m60 0h8m52 0h2m14 0h20M151 167h16M9 168h2m252 0h10M0 169h4M1 170h4m146 0h12M111 171h8m265 0h1M195 172h2m136 0h10m14 0h11M0 173h7m92 0h4m149 0h11M183 174h2M179 175h5m40 0h16M31 176h6m196 0h4M50 177h4M195 178h3m95 0h6m0 0h2M183 179h6m60 0h2M183 180h6m19 0h5M21 182h6m179 0h4M18 183h5m150 0h15m57 0h9M194 185h6M73 186h8m50 0h2m56 0h4m60 0h6m76 0h4M173 187h17m-12 0h8m4 0h7m55 0h15m-1 0h6m15 0h4M98 189h10m39 0h12m59 0h2M91 190h16m3 0h7M190 192h8m1 0h1m6 0h4m4 0h7M156 193h4m20 0h14M84 194h1M193 195h3M208 196h9m23 0h6M79 197h2m89 0h17M164 200h10m0 0h18m188 0h5M188 201h7m-2 0h4m48 0h9m85 0h4m33 0h5M0 202h15m66 0h10m0 0h17m31 0h10M187 203h6m-3 0h15m-5 0h3M345 205h8M30 206h15m0 0h7m116 0h6m1 0h5m8 0h8m146 0h4M0 208h11m288 0h11M102 209h10m0 0h12m1 0h5m14 0h12m30 0h8m2 0h3m161 0h6M255 210h8M301 211h7m25 0h10M47 212h14m74 0h6m36 0h8m11 0h1m140 0h2M19 213h15m18 0h4M60 214h2m112 0h7m0 0h18m5 0h12m43 0h8m65 0h1M40 215h8m113 0h18m16 0h10m51 0h6m57 0h5M194 216h7m63 0h4M187 218h8M159 219h12m129 0h4M134 221h7m73 0h17M103 222h16m65 0h8m9 0h2M151 223h6m2 0h12m100 0h10m20 0h12m1 0h10m15 0h16M93 224h2M102 225h6M70 226h10m19 0h5m97 0h3m39 0h9m51 0h4M169 227h9m127 0h15M190 228h7m11 0h6M189 230h11M190 231h7M181 232h8M184 233h5m4 0h7m120 0h6M74 234h10M315 235h13M22 236h13m55 0h17m29 0h17m60 0h9m54 0h2M155 237h8m18 0h2m13 0h3m64 0h19M186 238h6m1 0h3M134 239h9m127 0h12M155 241h9m1 0h7m61 0h4M57 242h6m252 0h2M48 243h3M60 244h9m17 0h6m10 0h10M45 246h7m133 0h10m1 0h6M204 247h6m-6 0h13M160 248h6m18 0h7M73 249h6m70 0h11m0 0h7m0 0h8m7 0h9m5 0h12m-11 0h6"/></defs>
<use href="#C3_2" stroke="#e65440" stroke-width="2.0" stroke-opacity="0.35"/>
<defs><path id="C3_3" d="M127 0h14m-9 0h6m15 0h10m0 0h21m100 0h2m56 0h12M112 1h14m0 0h23m44 0h19m-17 0h4m1 0h1M110 2h25m69 0h28m0 0h6m47 0h22M139 3h12m70 0h24M353 4h6M345 5h10M84 8h4m212 0h13m45 0h16M193 9h2m105 0h10m55 0h10M197 10h12m126 0h9M174 12h2M81 14h8M192 16h9m0 0h1m36 0h3M152 19h12M251 21h4M169 22h10m69 0h9M102 27h10m14 0h6m150 0h17M326 28h6M34 30h16m0 0h5m0 0h8m1 0h11m5 0h12m1 0h12m17 0h7m14 0h9m0 0h20m2 0h5m20 0h5m2 0h6m10 0h14m0 0h19m1 0h19m-9 0h2m82 0h7m2 0h5M21 31h9m-1 0h12M211 32h11m127 0h12M217 34h14M84 35h8m67 0h8M190 36h10M187 37h6m3 0h1M1 38h12m93 0h5M81 40h6m30 0h4M182 41h17m121 0h7M58 42h2M28 44h8M199 47h6m34 0h14m18 0h2M47 48h2M128 49h8m16 0h5m29 0h2m64 0h14M152 50h6m24 0h15m175 0h10M185 52h6m-2 0h8m160 0h2M188 54h6m0 0h6M185 55h5m128 0h18M63 58h4m121 0h7M193 60h6m8 0h3m6 0h4m36 0h8M196 61h6M234 62h10M202 63h1M184 65h11m0 0h7m10 0h6M10 68h4m20 0h12m18 0h6m81 0h5m217 0h13M154 69h12M122 70h19m191 0h11M331 71h10M184 75h7m3 0h7M148 77h12m212 0h10M217 78h10m0 0h17M36 79h11m6 0h7M353 82h11M12 83h6m0 0h4m14 0h8M222 84h4M179 86h8M177 87h9m10 0h14M0 88h2M94 89h6M92 90h7M0 93h1m172 0h15m37 0h11m109 0h8M116 94h14m60 0h9m170 0h5M12 95h9m168 0h4m9 0h1M160 96h12M192 97h5m0 0h3M169 98h2m23 0h4M206 99h10m114 0h12M116 100h2m80 0h6M185 101h7m-3 0h8M150 102h7m76 0h8M103 103h9m26 0h19M32 104h16m182 0h4m98 0h11M184 105h9M144 106h8m50 0h10M230 107h7M50 108h2m116 0h17m0 0h3M291 110h8M173 111h9m91 0h9M367 113h11M178 114h6m4 0h2M98 118h2m81 0h5M18 119h7M189 120h3m131 0h6m0 0h2M57 121h5m304 0h15M191 122h9M14 124h12m228 0h9m113 0h2M185 125h7M2 126h4m193 0h1m172 0h4M214 128h16m65 0h8M172 129h6m0 0h19m0 0h3M78 130h2m119 0h3m10 0h7m7 0h4M132 131h1M181 132h10m0 0h2M181 134h2M177 136h15M56 137h4m64 0h7m76 0h5m110 0h16M173 138h7m135 0h12m6 0h8M229 140h12m6 0h10m0 0h9m0 0h13M303 141h4M362 142h8M194 144h18m0 0h11M355 146h6M87 147h18m10 0h8m85 0h5M138 151h6M219 152h6M180 155h14M290 157h7M325 158h8M36 159h8M86 160h13m207 0h7m1 0h2M184 161h10m93 0h7M40 162h7M158 163h17m15 0h11M184 165h2m166 0h10M121 166h2M273 168h8M74 169h9m0 0h12m14 0h16M82 171h2m112 0h4m6 0h12m96 0h10M95 172h8M235 173h17M0 174h5M192 176h8m3 0h7M191 178h4M195 179h4m34 0h6m0 0h2M201 180h7m171 0h6M13 182h8m10 0h5m149 0h12M189 183h5m143 0h6M3 187h4m234 0h9M260 188h14M134 189h11m59 0h2m86 0h2M59 190h2M146 192h2m102 0h6M77 194h7m169 0h10m18 0h11M186 195h7m36 0h11M116 196h6M237 197h14m0 0h8M106 200h10m161 0h3m72 0h6M254 201h3m64 0h18M73 202h8m32 0h3m70 0h7m2 0h4m88 0h11M28 203h12m0 0h16m5 0h10m260 0h3M68 204h14m20 0h12m85 0h1M170 206h10m16 0h4M229 208h2M190 209h16m0 0h14M187 210h7M135 211h9m46 0h5m30 0h6M34 213h15m285 0h2M36 214h13m4 0h7m100 0h14M48 215h3M321 216h5M226 217h6M124 219h18m0 0h18m18 0h14m-10 0h10m0 0h3m13 0h12M11 220h4m182 0h4M196 221h14M147 223h7m0 0h18m14 0h11m-8 0h10m3 0h9m0 0h11m0 0h6m21 0h8m32 0h8M99 224h6M63 226h6m117 0h6M237 227h10m73 0h7m18 0h14m0 0h8M42 228h18m177 0h10M90 233h2m130 0h10m9 0h1M14 234h10M67 235h8m37 0h11m62 0h18m104 0h8m13 0h3M5 236h2m28 0h5M188 237h6M143 239h7m36 0h2m180 0h4M29 240h11m157 0h6M184 241h8m0 0h4M334 244h7m0 0h6m27 0h8m0 0h3M0 245h16m0 0h3M81 246h4M84 247h4M198 248h7M309 249h6m12 0h2"/></defs>
<use href="#C3_3" stroke="#e65440" stroke-width="2.0" stroke-opacity="0.35"/>
<defs><path id="C3_4" d="M70 0h9m122 0h19m38 0h13m-11 0h8M149 1h17m72 0h19M140 2h26m22 0h16m38 0h20m-12 0h4m14 0h7M109 3h14m36 0h19m-12 0h10m2 0h9m-8 0h14m-1 0h10m45 0h8m0 0h21M277 4h6m56 0h12M163 5h9m0 0h10m0 0h5M348 6h9M354 9h11M209 10h8M225 14h18m38 0h2M274 17h2M329 21h16M160 22h10M377 23h2M193 26h6M112 27h7m0 0h7m69 0h5M23 30h11m71 0h16m13 0h9m70 0h10m51 0h7m0 0h8M10 31h11m20 0h5m140 0h13m0 0h18m0 0h13M339 32h10M65 33h18m0 0h16m0 0h10m0 0h8m0 0h12m68 0h2M92 35h11m73 0h2m51 0h2m24 0h6m36 0h4M317 37h10M146 41h8m45 0h5M44 42h14M235 43h6M112 44h16M201 46h2M256 47h15M85 48h2M200 49h2m68 0h7m-1 0h8M169 52h16m132 0h8m2 0h19m0 0h11M241 55h2m56 0h19M148 57h12m218 0h4M374 61h3M180 62h14m0 0h8m14 0h10m0 0h8M192 63h3m0 0h7M46 68h11m0 0h7m6 0h6m38 0h16m5 0h17M228 69h10M141 70h9m0 0h2m191 0h3M142 77h6m13 0h11m-1 0h9M159 78h8m76 0h8m120 0h12m0 0h2M11 86h11m0 0h7m272 0h10m3 0h12m55 0h4M325 87h8m0 0h8m37 0h3M258 88h6M12 90h4M6 92h6m0 0h6M103 94h12m30 0h6M82 95h4M172 96h6M242 99h4M15 101h14M92 102h8m2 0h11m0 0h4m6 0h9m1 0h9m0 0h8m8 0h7m-1 0h18m6 0h9m5 0h17m0 0h14m8 0h11m-1 0h9m16 0h2M278 103h18m0 0h8M302 104h6M184 105h2M180 106h8M213 107h17M64 109h2m70 0h7m5 0h12m-1 0h3M187 111h7m-5 0h2m91 0h1M126 113h4M37 115h8m0 0h6M0 119h12m0 0h6m7 0h3m22 0h2M379 120h6M238 121h11m0 0h5M86 123h10M4 124h10m89 0h4m156 0h4M101 125h14M7 127h14M203 128h11m16 0h9m1 0h2m25 0h19m1 0h8m8 0h6m0 0h6M136 130h2m53 0h4m24 0h7M188 134h5m0 0h8M45 136h16M98 137h7m0 0h7m132 0h9M131 138h15m0 0h9M149 140h10m35 0h7M183 144h6M105 147h7m11 0h7m61 0h17M66 149h4m70 0h2m22 0h6M140 150h19m0 0h5m52 0h8M113 151h2m29 0h11M354 154h17M186 156h9M44 159h6M273 161h14m7 0h3M211 162h8M383 164h2M152 165h8M67 166h2m134 0h2M195 167h10M95 169h14m16 0h11m154 0h14m74 0h7M227 170h6m116 0h4M23 172h12m222 0h10m76 0h8M186 174h10m0 0h3M97 179h4m90 0h3m1 0h3M191 180h9M57 181h8M0 182h13M89 183h4M225 184h8m0 0h12m4 0h5m19 0h4M22 185h4M149 187h6M70 188h2m172 0h16M164 189h14M175 191h6M112 193h2M183 194h5m2 0h4m69 0h7m0 0h10m17 0h10m1 0h11M240 195h11M122 196h4M217 197h8m19 0h15m0 0h2m3 0h18M155 198h4M262 200h15M129 201h7m0 0h5M299 202h6m0 0h2M71 203h1m121 0h4m103 0h11m2 0h18M56 204h11m47 0h4m202 0h8M145 205h12m14 0h7m3 0h2M185 208h9m-1 0h4M186 209h2M187 210h12M181 211h9M0 213h19m31 0h10M86 215h8m85 0h12M116 216h17M92 217h8m62 0h12m59 0h3M194 219h14M177 220h18M192 222h8M172 223h14m-11 0h10M247 227h2M280 228h2M192 229h9m0 0h10m0 0h5M0 230h3M2 233h10m162 0h10m4 0h16m0 0h6M24 234h16m0 0h12M81 235h9m0 0h12m0 0h6m15 0h14m0 0h14m1 0h10m0 0h12m-1 0h8m22 0h13m1 0h2M121 237h2M177 238h7m0 0h13m0 0h2M40 240h5m140 0h9m0 0h1m10 0h10M111 241h6M265 242h8M261 243h10m4 0h8m0 0h12M347 244h5M57 246h6m70 0h8m64 0h11M44 247h7m133 0h2M205 248h5"/></defs>
<use href="#C3_4" stroke="#e65440" stroke-width="2.0" stroke-opacity="0.35"/>
<use href="#C3_1" stroke="#f4a38b" stroke-width="0.75"/>
<use href="#C3_2" stroke="#dd4c36" stroke-width="0.75"/>
<use href="#C3_3" stroke="#9c1719" stroke-width="0.75"/>
<use href="#C3_4" stroke="#5a0a0c" stroke-width="0.75"/>
</g></g></g>
<g transform="translate(839.2 1513.4)">
<rect width="193.3" height="355.7" fill="#fef6f2"/>
<g filter="url(#soft2)"><g transform="scale(0.5 1.4228) translate(0 0.5)" stroke-width="1.05" fill="none">
<path d="M39 0h26m4 0h10m7 0h20m13 0h12m9 0h52m-12 0h33m-6 0h50m4 0h11m9 0h56m7 0h10m9 0h11m5 0h8M39 1h18m7 0h25m3 0h4m3 0h26m8 0h21m6 0h30m-2 0h7m3 0h36m-33 0h56m3 0h37m9 0h37m15 0h14m11 0h3m-2 0h3M39 2h29m13 0h51m12 0h15m6 0h10m14 0h28m3 0h20m11 0h52m6 0h54m-33 0h5m38 0h14M0 3h22m83 0h48m4 0h26m-6 0h35m-29 0h30m76 0h3m4 0h2M23 4h2m16 0h2m133 0h34m18 0h4M141 5h44m-5 0h18m12 0h6M0 6h7m279 0h3m22 0h4m-1 0h8m52 0h6M191 7h30m63 0h2M246 8h5m3 0h4m38 0h10m2 0h26M18 9h50m0 0h5m0 0h26m3 0h26m48 0h6m3 0h26m35 0h22m3 0h11m31 0h3M109 10h9m41 0h6M2 11h3m16 0h12m4 0h4m65 0h14m40 0h7M66 12h60m42 0h8m106 0h31m3 0h30M227 14h37m4 0h2m4 0h13m52 0h48M136 15h2m52 0h16M45 16h28m100 0h37m-28 0h23m9 0h11m30 0h16m72 0h41M4 17h38m198 0h8m0 0h24m30 0h38m8 0h13m0 0h11M279 18h2m81 0h4M133 19h6m40 0h2m172 0h11M237 20h2m0 0h6m2 0h8m53 0h4m47 0h14m2 0h12M68 21h22m90 0h27m51 0h36m2 0h2m0 0h8M15 22h26m3 0h8m9 0h28M0 23h50m44 0h71m2 0h7m12 0h11m-7 0h4m14 0h18m44 0h32m66 0h6M176 24h36m103 0h4m39 0h6M86 25h14m88 0h11m4 0h7m43 0h5M0 26h21m0 0h28m128 0h36M0 27h36m52 0h6m16 0h10m60 0h25m83 0h10M71 28h42M178 29h37M2 31h16m40 0h44m86 0h10m0 0h10m64 0h15m0 0h27M1 32h13m45 0h42m88 0h19m67 0h11m5 0h19M34 33h42m84 0h32m0 0h6m6 0h3m0 0h67m26 0h12M54 34h66m3 0h3m61 0h31M8 35h7m5 0h146m-115 0h25m4 0h34m250 0h22M168 36h36m17 0h5m65 0h3M52 37h23m5 0h4m3 0h57m2 0h8m18 0h52m-37 0h23M172 38h35M147 39h23m3 0h15m5 0h20m-19 0h14m41 0h14m14 0h11m4 0h29m50 0h13m1 0h2M351 40h21m0 0h7M26 41h2m4 0h61m0 0h7m83 0h14M13 42h30m52 0h28m4 0h54m0 0h84m-65 0h2M105 43h30m54 0h17m77 0h11m70 0h3m10 0h6M36 44h12m100 0h12m13 0h35m2 0h51m4 0h9m0 0h2m3 0h11m-11 0h15m0 0h6m32 0h12m36 0h5M20 45h2m74 0h3m199 0h6m25 0h8M188 46h13m173 0h11M52 48h5m116 0h35m2 0h3m3 0h16M75 49h3m0 0h36m0 0h12m3 0h60m-11 0h20m-5 0h43m-1 0h11M66 50h16m100 0h11m65 0h24M6 51h2m56 0h58m60 0h17m29 0h33m2 0h7M177 52h18M96 53h5m77 0h34m160 0h15M255 55h60m1 0h70M257 56h2m2 0h4m2 0h9m5 0h24M151 57h14m13 0h10M148 58h11m134 0h3M341 59h3m-3 0h5M111 60h8m4 0h87m-34 0h32m157 0h11M0 61h11m14 0h42m4 0h16m4 0h9m1 0h22m4 0h55M0 62h10m3 0h17m2 0h2m4 0h58m20 0h28m-15 0h4m29 0h9m4 0h2m4 0h23m157 0h5M81 63h15m0 0h137m48 0h2M46 64h6m41 0h68m-30 0h5m33 0h20m-4 0h31M96 65h40m5 0h6m4 0h13m21 0h18m160 0h3M74 66h29m3 0h7m3 0h6m56 0h29m-21 0h12m3 0h49m72 0h8m0 0h2M27 67h4m142 0h37m-26 0h61m-53 0h80m-24 0h3M65 68h64m50 0h25m-5 0h10m4 0h2m80 0h2M188 69h12M49 70h24m110 0h37M189 71h15m52 0h17m5 0h8M198 72h12M0 73h38m0 0h12m131 0h14m79 0h9m2 0h25M5 74h13m1 0h43m75 0h32m78 0h4m26 0h8m0 0h14m3 0h25M28 75h5m273 0h5M73 76h3m23 0h24m2 0h5m17 0h27m4 0h42m139 0h3M165 78h13m2 0h4m-4 0h35m-28 0h23M24 79h2m24 0h8m88 0h8m4 0h5m5 0h2m14 0h16m20 0h57m2 0h30m4 0h63m-21 0h4M178 80h19M182 81h18m-6 0h6M124 82h2m61 0h31m-30 0h11m3 0h50m46 0h5m23 0h2m0 0h22M185 83h15M109 84h23m4 0h11m30 0h34m78 0h49m2 0h8M0 85h4m95 0h6m107 0h11m2 0h5M53 86h2m16 0h63m3 0h16m24 0h21m103 0h2M161 88h4m2 0h9m3 0h23m-21 0h16m113 0h4M0 89h18m174 0h22m114 0h38m14 0h7M0 90h35m2 0h25m82 0h66m-23 0h30m-5 0h10M0 91h16m171 0h11m66 0h6M373 92h6M0 93h15m76 0h11m4 0h6m4 0h28m11 0h8m2 0h19m5 0h2m78 0h21m0 0h12m2 0h10m2 0h53m2 0h11m-7 0h5m5 0h2M92 94h6m77 0h13M89 95h6M114 96h3m14 0h3m34 0h34m-18 0h3M198 97h21m3 0h8m124 0h2M173 98h14m40 0h4m5 0h6M2 99h42m52 0h22m3 0h46m5 0h36m-29 0h29m5 0h2m3 0h24m36 0h54m11 0h5M0 100h3m3 0h8m4 0h24m53 0h27m4 0h36m4 0h56m44 0h6m64 0h51M181 101h27m10 0h16m4 0h21m0 0h85m22 0h8M128 102h4m38 0h52M0 103h10m5 0h42M39 104h28m4 0h91m-54 0h4m26 0h3m47 0h11m134 0h2m4 0h16m6 0h8m3 0h15M79 105h16m32 0h34M255 106h2M0 107h21m4 0h3m27 0h16m74 0h26m-21 0h3m36 0h12m-8 0h16m-6 0h38m96 0h14M0 108h12m-12 0h25m27 0h18m74 0h18m38 0h19m5 0h14m102 0h12M364 109h5M160 110h4m14 0h14m-2 0h10m88 0h3m49 0h16M181 112h37m22 0h4m52 0h3M155 113h3m24 0h20m78 0h7m3 0h24m6 0h47m-45 0h6m39 0h14m4 0h2M186 114h20m73 0h14M113 115h5m157 0h11m24 0h3m13 0h20m2 0h12M276 116h10M47 117h89m2 0h23m2 0h28m144 0h2M49 118h6m4 0h95m7 0h23m149 0h2M264 119h20M40 120h32m-24 0h2m64 0h4m4 0h12m52 0h18m-15 0h26m-9 0h8m6 0h24m22 0h13m5 0h10m3 0h41m20 0h5M47 121h7m131 0h26M21 122h2m23 0h9m216 0h2M50 123h2m203 0h4m4 0h16m-8 0h2M54 124h6m13 0h3m181 0h4m0 0h3m5 0h6M180 125h25M95 126h2m95 0h14M18 127h20m147 0h31m16 0h9m5 0h8m96 0h4m30 0h3M165 128h84m-75 0h31m48 0h9m2 0h33m2 0h7m3 0h42M234 129h4m85 0h16M173 130h2M176 131h3m49 0h6m-6 0h50M0 132h2m175 0h31m-13 0h3m0 0h6M117 133h5m1 0h9m5 0h11m2 0h12m39 0h2m4 0h28m2 0h22m102 0h3m1 0h18M66 134h6M68 135h128m-19 0h23m1 0h70m4 0h19m2 0h4m38 0h8M147 137h3m42 0h4m126 0h5M129 138h2M49 139h10m16 0h32m32 0h4m42 0h21m-11 0h2m2 0h5m55 0h14m6 0h16m46 0h10m0 0h36M0 140h9m78 0h5m90 0h15m112 0h7m5 0h21M0 141h2m-2 0h9m-2 0h8m42 0h48m77 0h34m94 0h23m3 0h3m1 0h9M72 142h5m2 0h10m38 0h4m38 0h38M64 143h38m78 0h102m27 0h5m52 0h20M189 144h12m47 0h3M262 145h4M182 146h4M136 147h8m103 0h2M170 148h12M210 149h54m0 0h12m4 0h20m-9 0h2M161 150h22m2 0h30m152 0h3M75 151h18m83 0h34m103 0h30m20 0h7m1 0h15M71 152h15m-14 0h10m80 0h4M0 154h16m3 0h38m0 0h15m130 0h3m5 0h64M160 155h11m4 0h21m98 0h22m62 0h9M174 156h32m0 0h12M52 157h4m25 0h10m101 0h13M274 158h72M14 159h12m5 0h41m94 0h78m5 0h3m25 0h62M92 160h6m70 0h12m3 0h50m-9 0h11m2 0h9m31 0h50m41 0h7M144 162h12M133 163h6m42 0h13M40 164h4m36 0h33m-26 0h4m83 0h17m149 0h22m0 0h24M78 165h28m69 0h3m5 0h11m-6 0h28m-20 0h28m79 0h5m-2 0h2M163 166h36M147 167h44m-12 0h17m33 0h18m2 0h29m3 0h7m15 0h20M121 168h3m170 0h6m71 0h4M13 169h21m2 0h32m125 0h6m140 0h5M261 170h4m92 0h18M76 171h34m26 0h5m57 0h58m-41 0h4m79 0h6m4 0h15m0 0h33M123 172h6m18 0h9m1 0h23m2 0h21m114 0h5m-1 0h23M0 173h47m5 0h8m120 0h12m0 0h34m42 0h82m20 0h9m2 0h6M13 174h4m75 0h25m0 0h9m54 0h19m-11 0h2m4 0h10m6 0h32m-10 0h2m114 0h14M59 175h46M6 176h27m0 0h16m3 0h26m-21 0h9m4 0h2m4 0h13m61 0h16m3 0h61m-52 0h25M61 177h3m86 0h8m4 0h20m5 0h2m4 0h39m-37 0h10m86 0h5M195 178h3m3 0h20m146 0h20M175 179h34m53 0h12m30 0h27m0 0h12m3 0h2m2 0h19m-2 0h20M20 180h24m12 0h2m3 0h15m88 0h6m22 0h96m4 0h3M241 181h2M0 182h12m0 0h66m104 0h35M39 183h4m140 0h17m16 0h4M129 184h4m190 0h4m24 0h4M182 185h32m107 0h3m29 0h4M277 186h18m79 0h5M42 187h20m0 0h17m2 0h19m78 0h31m-21 0h3m63 0h8M51 188h2m18 0h16m16 0h13m3 0h66m84 0h10m2 0h2m3 0h9M54 189h2m43 0h45m5 0h14m42 0h4m57 0h2m4 0h26m43 0h10M99 190h59m19 0h25M78 191h6m102 0h16m-6 0h27m3 0h2m3 0h69m-1 0h5m48 0h2m5 0h8M192 192h13M108 193h28m44 0h21m-1 0h26m26 0h18m4 0h6m0 0h11m3 0h46m5 0h3m0 0h3M138 194h6m35 0h34m117 0h2m0 0h22M47 195h42m0 0h34m2 0h2m4 0h11m3 0h53m107 0h12m64 0h6M92 196h8m3 0h9m3 0h5m12 0h47m2 0h46m3 0h12M40 197h4m76 0h11m0 0h3m-3 0h11m94 0h48m4 0h32m40 0h6M41 198h6m130 0h34M44 199h5M69 200h9m3 0h12m92 0h14M178 201h27m105 0h14m56 0h7M172 202h35m99 0h3m5 0h3m59 0h5M169 203h31m1 0h8m4 0h20M21 204h62m133 0h7m5 0h8M172 205h26M188 206h33M216 207h30m77 0h4m5 0h2m2 0h14m4 0h14M59 209h2m0 0h46m52 0h43m-10 0h10m4 0h42m-20 0h2m18 0h44m1 0h23M157 210h52m40 0h18M0 211h5m0 0h47m16 0h18m52 0h16m38 0h19m2 0h29m9 0h16m12 0h4m91 0h5m2 0h6M195 212h11m175 0h6M185 213h34M44 214h2m5 0h83m-61 0h4M62 215h6m57 0h4m8 0h20m17 0h32M37 216h11m2 0h28m5 0h16m4 0h58m2 0h20m144 0h6m32 0h5M156 217h3m21 0h24m3 0h2m0 0h10m124 0h34M348 218h10M165 219h30m61 0h4M182 220h25m144 0h6m5 0h13M120 221h56m6 0h16m4 0h24M39 223h23m4 0h26m33 0h9m2 0h24m3 0h41m2 0h15m4 0h20m3 0h15M19 224h4m134 0h22m-6 0h3M275 225h3M109 226h2m38 0h4m2 0h53m2 0h31m76 0h4M96 227h23m2 0h55m-25 0h42m0 0h11m3 0h19m3 0h13m2 0h3m64 0h6m-5 0h20M172 228h35m99 0h73m3 0h5M36 229h64m63 0h26m165 0h33M190 230h11m151 0h31M30 231h51m2 0h25m8 0h3m49 0h8m28 0h18M176 232h33M6 235h3m134 0h6m124 0h30m24 0h12M104 236h11m2 0h41M102 237h47M112 238h4m80 0h20M90 239h6m83 0h18m2 0h15m123 0h18M79 240h108M61 241h4m111 0h30m65 0h3m4 0h5m70 0h34M349 242h6M22 243h3m4 0h8m0 0h2m32 0h34m2 0h17m2 0h14m25 0h20m60 0h30m14 0h2m58 0h6m28 0h4M140 244h30m2 0h46m-25 0h2m119 0h6m44 0h4M148 245h31m3 0h41m3 0h8m4 0h26M0 246h90m2 0h14m3 0h27m13 0h85m-43 0h20m4 0h7m4 0h27m0 0h50m54 0h2M169 248h17m-11 0h22m-7 0h4m53 0h32m72 0h26M165 249h18m199 0h4" stroke="#6e0000"/>
</g></g></g>
<g transform="translate(92.4 2139)">
<rect width="192.6" height="360.7" fill="#fdf4f0"/>
<rect x="82.8" width="27" height="360.7" fill="url(#band)" opacity="0.1"/>
<g filter="url(#soft)"><g transform="scale(0.5 1.4428) translate(0 0.5)" fill="none">
<path d="M155 0h45M119 1h28M119 2h51m93 0h83M131 6h128M195 12h48m5 0h55M179 13h21M20 14h12m228 0h23M328 16h27M0 17h163m-126 0h108m-90 0h33M311 18h33M6 19h46m99 0h101M238 20h13M261 21h4M182 22h60m90 0h36M352 26h8M156 27h31M67 28h46m144 0h60M317 29h20M0 31h38m12 0h6m149 0h32m27 0h9M363 32h5M147 33h128M98 35h54m-34 0h63m82 0h22M34 36h10m132 0h12m84 0h113m-67 0h8m-5 0h32M136 38h24M292 39h12M78 40h39M19 42h24m28 0h126m135 0h53M62 43h58M127 44h53M159 45h44M224 46h31M105 47h16M304 48h73M82 50h28M0 51h34m149 0h78M167 53h7m53 0h17M35 54h32m86 0h73M318 59h10M12 60h7M29 61h81m222 0h18M289 64h32M174 65h49M192 67h8M326 69h56M0 72h98m-65 0h33M195 74h49m77 0h59M114 75h3m41 0h6m-6 0h41M139 76h71m87 0h11M322 77h8M366 78h7M125 81h15M0 82h73m12 0h44M71 83h33M145 84h83M73 85h20m242 0h31M117 86h6M109 90h27m-14 0h21m167 0h75M280 91h23M139 92h112M0 93h203m84 0h21M0 94h97m188 0h5M161 95h121M247 96h107M60 98h8M233 99h25M50 101h40m251 0h10M3 106h8m137 0h48M7 107h23M221 109h52M77 111h42M221 114h18M125 115h31m89 0h56M205 116h34m102 0h33m-30 0h41m-24 0h24M0 117h18m43 0h42M113 120h12m229 0h32m-18 0h13M59 123h30m6 0h73m-43 0h23M25 125h21M222 127h99M3 131h48M244 132h59m-36 0h5M278 133h10M2 134h33M163 137h11M46 138h115m-26 0h151m-40 0h23M0 139h80m20 0h13m151 0h13M325 140h26M0 142h52m118 0h10M52 144h24m88 0h36M165 145h6M176 146h96M184 147h46M116 149h47M139 151h133m62 0h51M166 152h13m130 0h63M14 154h20m35 0h39M26 155h10M185 157h11m10 0h21m53 0h31M313 158h59M143 160h76m13 0h100M13 162h15M366 164h8M361 166h5M38 167h68m210 0h4M190 168h158M303 169h32m17 0h34M14 170h34m163 0h82m-48 0h105M213 171h19m-7 0h14M312 173h7M61 174h39m-9 0h100m-82 0h99M245 178h11M0 179h25M164 180h17M77 181h23m186 0h35M150 182h131M165 183h99M172 184h86M113 185h21M57 186h92m84 0h15M231 188h2M163 190h66m-8 0h36M135 193h24m-21 0h7m138 0h36M11 194h103m-91 0h29m288 0h45M27 195h32m75 0h101M201 200h23m-3 0h19M69 201h64m225 0h27M6 206h10m212 0h5M114 207h85M186 209h4M219 210h101m-52 0h6M298 211h33M295 212h5M380 215h5M280 216h16M60 218h18M162 219h18M230 220h8M58 222h24M28 224h26m262 0h35M0 225h83m112 0h42M279 226h12M92 227h72m67 0h58M28 228h22m48 0h30m158 0h9M240 230h12m75 0h58M10 233h7M57 236h8m231 0h41M24 238h54m204 0h8M48 239h21M262 240h19M137 241h101M68 244h11m102 0h6M42 245h137M162 246h90m33 0h81M96 247h33m-22 0h19m98 0h90m-23 0h52m2 0h38M28 248h87m-2 0h8M113 249h18" stroke="#fbe2d8" stroke-width="1.3"/>
<defs><path id="D1_1" d="M80 0h3m235 0h4M61 1h3m300 0h4M359 3h3M37 5h2m42 0h3m53 0h2m141 0h4m27 0h6m0 0h11M329 6h2m9 0h4M53 7h3m171 0h3m84 0h3m55 0h3M35 8h9m27 0h4m240 0h2m13 0h2m4 0h4M188 9h2M67 10h9m1 0h11m50 0h3m52 0h6M117 11h4m63 0h9m78 0h2M97 12h3m48 0h4M284 13h3M57 14h3M100 15h3m3 0h2m38 0h2m55 0h4m166 0h7m4 0h1M87 16h3M324 17h3m17 0h3M338 18h2m-1 0h2M199 19h3m-3 0h4m93 0h4M143 20h4m21 0h2m8 0h10m2 0h9M72 21h4m70 0h3m2 0h3m2 0h16m0 0h16m27 0h2m111 0h4M273 22h8m12 0h3M75 23h2m103 0h12m51 0h3m121 0h2M191 24h15m-1 0h4M42 25h2m207 0h3M46 27h3m168 0h2m60 0h3M109 28h3m115 0h2M165 29h4m32 0h4m108 0h2M164 30h6m0 0h7m0 0h7m0 0h7m4 0h11m0 0h5m0 0h3m83 0h3M150 32h2m34 0h3m-2 0h5m28 0h4m111 0h4M117 33h3m76 0h4M38 34h2m9 0h3m135 0h4M145 35h6m55 0h4M13 36h5m74 0h3M65 37h2m25 0h8M105 38h3m74 0h10M171 39h3m30 0h2m119 0h4M130 40h3m101 0h4m131 0h2M22 41h2m253 0h2M301 42h2M9 43h4m20 0h3m95 0h7m1 0h7M160 45h3m198 0h4m-2 0h4M84 46h2m19 0h6m14 0h2m4 0h6m4 0h19m9 0h3m4 0h19m38 0h5m0 0h16m0 0h7m117 0h3M302 47h2m12 0h3M229 48h4m57 0h3M2 49h2m302 0h2M205 50h2M3 51h3M32 52h2m134 0h9m28 0h4M238 54h12M130 55h2m24 0h6m121 0h2M44 56h4m73 0h2m80 0h3m135 0h2m31 0h3M47 57h3m125 0h3m5 0h6m1 0h7m0 0h1M151 58h5m93 0h2M72 59h2m223 0h4M183 60h13m0 0h3m28 0h9m3 0h12M299 61h3M71 62h4M175 63h3M186 64h4M3 66h2m177 0h2M53 67h9m0 0h15m139 0h6M181 68h4M44 69h4m-3 0h3m6 0h4m37 0h4m13 0h3m4 0h3m160 0h3m69 0h4M178 70h4m122 0h2m48 0h2M251 71h3m17 0h3M186 72h4m93 0h2m98 0h3M175 73h6m192 0h3M6 74h2M85 75h2m20 0h2m16 0h3m122 0h4M112 76h3m3 0h4m-3 0h4m148 0h4M254 77h3m116 0h6M59 78h6m119 0h4m26 0h3m99 0h3M187 79h7M41 80h12m0 0h8m22 0h8m5 0h4m43 0h6m44 0h15m116 0h3M323 81h4m47 0h3M33 82h2m309 0h2M139 84h6M233 86h4m102 0h3m1 0h3M249 87h4m101 0h4M47 88h4m46 0h4M236 89h4M51 90h4M82 91h10m0 0h10m80 0h14m2 0h2m159 0h4M14 92h2m33 0h4m162 0h2m126 0h3M129 94h3m176 0h4M157 95h3m17 0h3m142 0h2M133 96h2m129 0h4M109 97h2m130 0h2m94 0h4M225 98h2m131 0h2M312 99h2M357 100h3M164 101h2m75 0h2m113 0h3m23 0h3M47 102h2m125 0h2M139 103h4m34 0h2m140 0h3M113 104h4m67 0h3m153 0h3M54 105h12m0 0h6m80 0h6m0 0h4m27 0h3M68 106h2M195 107h3M177 108h4M31 109h2m63 0h2M107 110h4M113 111h3m222 0h3M3 112h4m207 0h15m7 0h15m36 0h5M25 113h3M30 114h2m67 0h4m38 0h8m0 0h19m0 0h12m5 0h16m-6 0h7m7 0h13m-10 0h4m10 0h13m16 0h15m0 0h7m6 0h20m-11 0h4m7 0h5m-1 0h5m1 0h5M215 115h2M298 117h3m79 0h2M4 118h2m180 0h4m175 0h2M34 119h10m28 0h2m7 0h6M39 120h3m26 0h4m91 0h3m35 0h4m150 0h4M44 121h4m90 0h2m64 0h4m83 0h2M134 122h3m8 0h4m42 0h10m157 0h4M125 123h3M144 124h2m96 0h4M41 125h4m67 0h3m61 0h3m43 0h4M38 126h4m28 0h3m-1 0h4m-1 0h4m243 0h4M0 127h10m269 0h3m20 0h3m33 0h2m11 0h2m23 0h3M187 128h6M95 129h3m41 0h8m33 0h11M260 130h11m86 0h4M150 131h2m16 0h4m-3 0h9m13 0h8m8 0h2M158 132h3m44 0h4M16 134h4m10 0h2m50 0h2m43 0h3m97 0h2m13 0h4M34 135h5m0 0h12m4 0h1m29 0h3m47 0h4m196 0h2M160 136h3M88 138h2m109 0h3m46 0h4m108 0h2M18 139h4m247 0h4m20 0h4M209 140h3M171 141h3m6 0h4m163 0h4M11 142h3m51 0h2m92 0h4m31 0h4m6 0h2M248 143h3m115 0h3M276 144h3M196 145h5m12 0h4m3 0h8m0 0h14m-12 0h3m9 0h12m95 0h2M8 146h11m165 0h8m0 0h5m-3 0h11m141 0h3M76 147h4m16 0h12m215 0h4M27 148h3m28 0h2m83 0h2M38 149h3m43 0h2m61 0h6m7 0h16m0 0h6m0 0h7m9 0h4m5 0h2m112 0h9M39 151h3M188 152h5M118 154h4m66 0h2m19 0h2m125 0h10m-3 0h4M127 155h3M273 156h3M69 157h3m60 0h10m162 0h3m7 0h2M30 158h2m96 0h8M25 159h2m5 0h3m151 0h4m69 0h7m18 0h4m56 0h2M79 160h3m23 0h4m54 0h3M299 161h3m13 0h3M22 162h10m27 0h4m1 0h2m0 0h5m66 0h4m33 0h3m19 0h18m-12 0h2m37 0h15m34 0h5m0 0h11M252 163h2M183 164h3m5 0h3m-1 0h4m0 0h4m0 0h9M121 165h4m96 0h2M107 166h2m37 0h5m97 0h4m8 0h2M344 167h2M18 168h2m195 0h3M94 169h4m3 0h3m247 0h4M60 170h3m111 0h3m197 0h4M189 172h4m171 0h4M375 173h4M246 174h2m128 0h4M13 176h2m3 0h2m167 0h9m2 0h4m30 0h7m91 0h4M97 177h3M190 178h2m95 0h4M269 179h4M53 181h3M232 182h6m140 0h4M356 183h4M176 184h4m6 0h3m5 0h3M16 185h2m210 0h4M80 187h2m55 0h3m3 0h3m34 0h2m59 0h3m105 0h4M358 188h2M150 189h4M64 190h2m154 0h4M145 192h3m129 0h4m81 0h2m-1 0h3M153 193h11m5 0h8m-6 0h2m3 0h4M187 194h3m94 0h3m61 0h4M182 195h2m24 0h4M191 196h10m2 0h2m17 0h3m-2 0h8m7 0h4M120 197h3m94 0h2m158 0h2M185 199h6m133 0h4m54 0h3M185 200h3M187 201h12m0 0h4M61 202h6m1 0h2m129 0h3m7 0h10m10 0h5m14 0h3m-1 0h3M17 203h3m281 0h3M268 204h4M15 205h3m277 0h3M176 206h3m35 0h4m29 0h2M69 207h4m96 0h11m-10 0h3m8 0h12m9 0h6m35 0h10m108 0h10M158 208h2m78 0h2m62 0h3M45 209h6m211 0h4m18 0h4m54 0h4m37 0h3M153 210h4m25 0h3m45 0h2M271 211h3M23 212h3m336 0h3M117 213h3M288 214h4M165 215h3m113 0h14M116 216h2m96 0h4M13 218h2m237 0h2m81 0h2M73 219h2m216 0h4M2 220h3m8 0h4m158 0h2m124 0h2m16 0h4m47 0h2M185 221h3m3 0h2m61 0h2M92 222h4m138 0h2M207 223h4m43 0h3M116 224h4m146 0h4M43 225h3m128 0h3m24 0h3m41 0h4m30 0h2m0 0h2M106 226h4m48 0h2m138 0h4M287 227h4m54 0h3M169 228h7m0 0h6m1 0h8m176 0h3M329 229h4M87 230h4m174 0h4m20 0h4M9 232h3M84 233h2m31 0h5M80 234h3m256 0h4m42 0h2M116 235h3m69 0h4m14 0h2M147 236h2m52 0h2m105 0h3M53 237h2m242 0h4M47 239h2m43 0h4m44 0h4m2 0h4m170 0h4m9 0h4M67 240h3m224 0h4m36 0h2M11 241h4m195 0h4m99 0h4M36 242h3M71 243h2m121 0h4M177 244h4M71 245h3M36 246h3M189 247h4m40 0h4M31 248h4m134 0h3m23 0h3m32 0h3M129 249h2"/></defs>
<defs><path id="D1_2" d="M20 1h2m296 0h3M165 2h10m16 0h7m-1 0h2m95 0h4M334 3h4M363 4h4M137 5h3m92 0h6M270 8h4m-1 0h2m22 0h3M246 9h4M54 10h4m53 0h4M151 11h2m28 0h8m13 0h3m32 0h7m0 0h11m129 0h4M38 12h3M67 14h10m16 0h10m243 0h4M136 15h3m21 0h3m96 0h10m20 0h2m41 0h3M46 16h2m143 0h3m11 0h3M333 17h2M55 20h7m22 0h12m90 0h4M179 21h4m4 0h4M173 22h2m94 0h4M172 23h8m203 0h4M50 24h2m132 0h7m14 0h7m2 0h10M109 25h3m222 0h2M66 26h4M72 27h2M50 28h2M6 29h4m180 0h9M181 30h8m1 0h6M218 31h3m40 0h2M0 32h14m88 0h3m87 0h4m1 0h1M250 33h4M219 34h4M0 36h13m5 0h4m130 0h8M2 37h12m9 0h3m78 0h3m32 0h4m173 0h3M90 39h2M210 40h3M82 42h4m194 0h6M141 44h10M33 45h4m235 0h8m0 0h5M82 46h14m0 0h9m14 0h12m59 0h5m1 0h8m0 0h17m35 0h14M149 47h4m40 0h4M212 48h2M312 50h2M190 51h6M33 52h4m138 0h4M276 53h3M197 54h6m0 0h11m-1 0h7m0 0h11m2 0h5m12 0h7M140 55h16m5 0h3m73 0h4M96 56h15m107 0h3M156 58h6M334 59h2M251 60h11m0 0h9m28 0h4M194 61h3M125 63h2m57 0h9m69 0h3m1 0h14m2 0h9m74 0h4M192 64h9m-1 0h8m40 0h3M62 65h3m211 0h3M22 66h6M199 67h14m32 0h10m0 0h4M188 68h7M168 69h3M91 72h6m70 0h16m0 0h14m0 0h2M111 73h5m25 0h7m1 0h14m22 0h2m47 0h8m111 0h15m0 0h3M194 75h2M109 77h13m0 0h3m158 0h6M194 79h2M133 80h8M218 81h4M19 85h3m41 0h2M141 86h7m3 0h13m178 0h2M126 87h4m90 0h5M122 88h2m12 0h8M231 89h5m8 0h4M62 91h9m259 0h8m0 0h6M194 92h9M196 93h2m161 0h4M5 94h2m47 0h3M289 95h6m18 0h4m18 0h8m40 0h4M141 96h3m45 0h2m21 0h6M196 99h2M158 100h4m14 0h13m2 0h4m169 0h4M122 101h3M84 103h4m69 0h7m1 0h7M128 104h12m118 0h2M165 105h4m172 0h2M88 106h4m148 0h3M130 107h3m32 0h16m3 0h11m148 0h8M181 109h7m1 0h2M34 110h4M92 111h2m94 0h14M98 112h4m102 0h10m15 0h6m16 0h10m3 0h9m0 0h13M34 113h4M201 114h5m-4 0h7m-3 0h6m9 0h5m-3 0h14m0 0h8m-6 0h4m0 0h12m46 0h16m0 0h8m1 0h1M244 116h2M6 117h2m159 0h3m18 0h4m65 0h2m40 0h4M45 118h3M29 119h5m10 0h11m3 0h7m0 0h6m0 0h10M47 120h2m72 0h4m55 0h2m83 0h2m84 0h3m29 0h3M279 121h2M80 122h3m140 0h6m0 0h9m63 0h4M274 123h3m39 0h2M199 124h4m37 0h3m123 0h3M31 125h4m62 0h15M358 126h2M49 127h7m11 0h13m4 0h5M192 128h1m-1 0h4m64 0h2M33 129h2m140 0h5M195 130h2m3 0h7m120 0h3M281 131h6M48 132h11m146 0h4M284 133h2M52 134h2M28 135h6m52 0h2M240 137h4M191 140h6m134 0h4M105 142h3m83 0h9m11 0h1M49 143h3M8 144h3m67 0h3m115 0h4m169 0h3M110 145h4m19 0h7M19 146h5m173 0h4m0 0h4m4 0h8m0 0h9M91 148h4m2 0h4m281 0h2M153 149h7m28 0h6m136 0h9M154 151h3M42 152h3M329 154h6m10 0h6M56 157h4m0 0h9m48 0h10m22 0h14m60 0h14m29 0h4m11 0h11m0 0h9m0 0h13m2 0h13M204 158h4M183 159h8m0 0h1m60 0h7m10 0h3M146 160h3M71 161h14M38 162h8m36 0h8m9 0h7m33 0h4m-4 0h18m-1 0h13m15 0h12m20 0h20m-4 0h14m-10 0h5m5 0h10m0 0h17m-5 0h7m10 0h5m37 0h13m6 0h15M47 163h4M50 164h3M292 165h2M44 166h2m57 0h2m82 0h9m82 0h11M176 167h3m5 0h9m0 0h1M189 169h6m45 0h4M34 173h3m210 0h4m18 0h7M276 174h15m0 0h4m0 0h6M111 175h3M178 176h9m9 0h8m0 0h15m100 0h3M96 177h4m195 0h2M26 178h4m46 0h4M373 179h2M156 183h3m25 0h5M134 184h2m137 0h3M52 186h11m1 0h2m16 0h4m135 0h2m18 0h4M86 187h10M139 189h4M26 190h3m171 0h2M47 192h3m39 0h2m163 0h2M31 193h4M0 194h10m0 0h12m159 0h6m-4 0h3m4 0h8M132 195h5m0 0h7m31 0h9m0 0h3m7 0h1m-1 0h5m14 0h13M183 196h8M203 197h4m20 0h2M193 199h1m43 0h4M50 200h3m101 0h4M248 201h8m0 0h10M94 202h4m31 0h14m93 0h15m106 0h8M68 203h4m55 0h3m29 0h2m187 0h2M183 204h9M287 205h4M8 206h14m218 0h4M197 207h2m-2 0h4m170 0h5m0 0h7M230 208h4M27 209h8m62 0h3m70 0h10m0 0h12m22 0h2m79 0h3m31 0h8m16 0h3M18 210h2m347 0h11M126 211h3m49 0h4m5 0h7M190 212h6m2 0h3m4 0h4m-1 0h1m74 0h8M323 214h3m39 0h2M50 215h17m-8 0h14m87 0h16m97 0h13m10 0h4m1 0h2M114 216h4M248 220h2m54 0h4M91 221h4m76 0h4m30 0h4M36 222h3m130 0h5m4 0h6m20 0h4M309 223h6M18 224h8m4 0h3m174 0h3M169 225h3m9 0h3M275 226h10m9 0h9M300 227h3M29 228h14m3 0h5m56 0h12m61 0h5m8 0h5m-1 0h10m0 0h11m31 0h2m78 0h13M22 229h12m0 0h7m0 0h7m2 0h4m1 0h5M190 231h8M333 232h3M59 233h2m43 0h13m188 0h3M127 235h3M122 236h10M149 237h13m0 0h16m0 0h2m143 0h2M155 241h3m208 0h3M99 242h3M113 243h2m217 0h2M188 244h4m10 0h10m3 0h12m111 0h4M254 245h3M207 246h4M167 247h7m5 0h10m-1 0h4m5 0h6m113 0h4m30 0h4M57 248h38M17 249h3"/></defs>
<use href="#D1_2" stroke="#e65440" stroke-width="1.6" stroke-opacity="0.34"/>
<defs><path id="D1_3" d="M251 1h4m15 0h3M179 2h12M62 3h2M239 5h8m0 0h15m0 0h9m57 0h5M171 6h12M184 8h8m0 0h5M322 9h4M193 11h9m-3 0h8m18 0h12m12 0h2M196 12h8M174 13h2M31 14h14m0 0h5m1 0h15m11 0h2m26 0h4M272 15h8M81 17h15m4 0h15m59 0h8m14 0h14m0 0h13m97 0h6M327 18h2M125 19h10m5 0h6m0 0h18m26 0h20m23 0h16M65 20h10m3 0h5m13 0h3m54 0h15m1 0h8M39 21h4m78 0h10m0 0h4m43 0h7m0 0h6M323 22h4M56 23h5M158 24h12M317 25h6M164 28h2M335 29h3M189 33h7M191 34h3M185 35h5m0 0h3m5 0h2M242 36h2m120 0h4m4 0h6M16 37h6m133 0h8m217 0h6M162 42h6m150 0h3M146 43h11M134 44h5m12 0h15m17 0h7m2 0h9m12 0h6m1 0h9m0 0h10m4 0h5M183 45h8m76 0h4M98 46h2m12 0h7m41 0h16m45 0h12m13 0h10M258 48h6M196 51h7m92 0h3M156 52h4M181 54h14M236 55h2M55 56h18m9 0h4m0 0h10m15 0h12m26 0h18m3 0h6m0 0h13m6 0h11m22 0h17m4 0h7m24 0h18m36 0h3M142 58h9m38 0h8M159 59h2m181 0h10M12 60h4M201 62h2M193 63h4m94 0h15m0 0h2M91 64h2m93 0h3M4 65h5m82 0h18m12 0h4m10 0h2m25 0h7m61 0h16m0 0h11m0 0h9M0 66h8m6 0h8m142 0h12m0 0h7M82 67h1m99 0h9m0 0h4m134 0h2M176 68h12m7 0h6m162 0h9M97 70h4M256 71h2M116 73h8m0 0h7m92 0h11m9 0h15m0 0h5M178 74h11m0 0h4m9 0h8M153 75h5m0 0h11m64 0h16m0 0h8m4 0h16m-1 0h5m102 0h4M15 77h2m174 0h14m0 0h2m66 0h2m14 0h8M208 81h4M19 84h13M111 86h2m56 0h6M216 89h15M74 91h2m72 0h4m207 0h10m4 0h9m0 0h3M19 92h4m74 0h4m85 0h9M179 93h6m0 0h4M221 94h2M277 95h7m61 0h11m0 0h7m14 0h8M185 96h7M15 97h14m46 0h13m23 0h18m6 0h17m56 0h5m18 0h6m11 0h13m0 0h10m22 0h9M335 98h3M20 99h2m180 0h3M236 102h3M0 103h14m47 0h2m82 0h8m132 0h4M46 105h8m242 0h2M77 106h12M351 107h14m0 0h6M372 108h12M289 109h4M369 110h4M56 111h10M316 112h4M245 114h4m68 0h5m-1 0h11M224 116h7M208 117h4m9 0h3m56 0h9m14 0h3m74 0h2M108 118h2m161 0h10m98 0h2M20 119h9m63 0h8m1 0h6M255 122h11M179 123h10m-1 0h6M185 124h5m0 0h9M255 126h4M56 127h8m16 0h4m104 0h6m36 0h4M254 128h6M356 129h6M188 130h3m0 0h10M121 131h4M59 132h6m1 0h14M54 135h2M169 136h2m4 0h12m0 0h12m0 0h10M158 138h13M74 139h6m84 0h6m0 0h9m46 0h14m38 0h17m19 0h8M197 140h14m98 0h4M200 142h10M276 144h4M100 145h10m77 0h7M40 146h6M176 147h8M83 149h7M180 152h5M189 153h3m1 0h2M161 155h5m1 0h3M108 157h10m9 0h20m16 0h7m0 0h16m12 0h8m35 0h17m1 0h7m-2 0h11m-1 0h18m-17 0h6m21 0h14m13 0h4M226 159h8M277 161h8M32 162h5m10 0h19m11 0h5m8 0h9m13 0h18m0 0h8m31 0h4m1 0h9m75 0h10m6 0h12m-2 0h9m17 0h10m2 0h5m34 0h5m0 0h1M326 163h3M166 164h5M337 165h2m24 0h2M151 166h7M163 168h8m172 0h2M175 169h12M286 171h3M121 173h4m129 0h16m7 0h16m0 0h8m60 0h4M110 174h2m198 0h2m15 0h10M221 176h11M291 177h14m0 0h13M181 178h7m13 0h10M381 179h4M99 181h4M189 183h10m5 0h14M179 184h9m1 0h5m65 0h3M53 187h12M255 189h7M141 190h2m50 0h6M184 192h2M47 193h12m119 0h7M188 194h8M188 195h4M327 196h7m0 0h5M149 197h7M52 198h7m0 0h7m0 0h4m44 0h6M313 199h3M174 201h4m2 0h6m80 0h2M115 202h4m78 0h6m63 0h3M122 204h4m66 0h3m152 0h3M22 206h4m0 0h8m159 0h9M65 207h9m161 0h8m12 0h3M217 208h12m127 0h16M35 209h10m116 0h9M384 210h2M77 211h9m4 0h3M201 212h7m85 0h6m20 0h4m0 0h2M182 213h6m0 0h4m191 0h2M51 215h8m19 0h11m0 0h13m2 0h5m4 0h6m-1 0h15m0 0h10m1 0h10m0 0h6m30 0h16m54 0h7m19 0h15m83 0h3M201 216h6M135 219h13M104 221h3m77 0h6m1 0h6m22 0h5M184 222h7m1 0h6M293 223h16M0 224h12m0 0h6m8 0h6m270 0h8M189 225h9m0 0h3M285 226h5M180 227h6m1 0h4M93 228h10m88 0h3m73 0h8m38 0h2m52 0h7m0 0h11M186 229h8m110 0h14M326 230h2M198 231h5M159 234h8m0 0h4m40 0h10M124 237h14m0 0h10m152 0h12M231 244h5m20 0h16m8 0h10M0 245h44m8 0h35m192 0h2m43 0h35m2 0h24M142 246h9M47 248h4m62 0h49m112 0h58m8 0h45M218 249h13m0 0h7"/></defs>
<use href="#D1_3" stroke="#e65440" stroke-width="1.6" stroke-opacity="0.34"/>
<defs><path id="D1_4" d="M3 2h6m2 0h4m82 0h4m112 0h2m60 0h15m0 0h1M217 5h12m42 0h2M219 8h2M188 12h8m8 0h2M198 16h6M16 17h15m0 0h5m0 0h15m5 0h13m0 0h8m42 0h15m0 0h8m0 0h12m0 0h11m1 0h8m8 0h5m3 0h6m27 0h15m4 0h15m0 0h19m0 0h9m5 0h12m0 0h7m0 0h5m0 0h6m6 0h11m0 0h13m0 0h1M168 19h12m0 0h8m26 0h18m16 0h12m1 0h17m1 0h9m0 0h15m1 0h7m0 0h4M121 20h4m2 0h10m1 0h4M5 22h5m317 0h10M61 23h11m111 0h3M142 24h16M306 25h11m10 0h6M222 28h4M192 31h13M210 34h12M94 36h8m40 0h4m37 0h7m0 0h7m185 0h3M373 37h7M36 38h6m312 0h4M126 42h5m0 0h13m0 0h9m0 0h7M168 44h14m19 0h12M19 45h14M180 46h8M110 52h6m0 0h4m0 0h2M184 55h8M73 56h9m44 0h19m60 0h19m21 0h5m12 0h18m18 0h17m0 0h19M368 57h9M197 58h3m176 0h9M247 59h2m88 0h5M383 61h3M368 62h6M185 63h3m90 0h3M47 64h13m0 0h15m0 0h12M12 65h18m1 0h20m-1 0h13m0 0h20m2 0h6m24 0h12m0 0h17m0 0h18m7 0h10m3 0h9m2 0h19m5 0h13m36 0h17m1 0h7M8 66h4M109 67h11m0 0h9m127 0h2m19 0h13m1 0h9M97 68h4m64 0h8m162 0h9m0 0h7m0 0h11m11 0h10m0 0h2M252 69h4M101 72h2m80 0h6m1 0h4M193 74h9M221 75h12M175 77h16M311 78h6m32 0h6M36 84h8M230 87h8m0 0h8M344 91h15M176 93h3m11 0h6M59 95h9m-6 0h2m149 0h2m69 0h4m75 0h15M100 96h6m0 0h4M8 97h4m21 0h10m-1 0h4m1 0h19m0 0h5m-1 0h5m13 0h18m46 0h10m0 0h17m1 0h12m-1 0h6m2 0h9m5 0h18m6 0h7m3 0h6m17 0h11m0 0h12m9 0h12m1 0h15m3 0h20m0 0h12m0 0h3M183 99h9m0 0h10m180 0h3M84 100h15m1 0h10M121 104h6M281 109h8M332 111h8M193 115h6m1 0h4M212 117h9m47 0h10m11 0h9M211 118h9m0 0h4m42 0h5m10 0h12m0 0h8M243 122h4m0 0h8m20 0h7m5 0h5m0 0h2M248 124h10m0 0h4M193 127h1m131 0h4M343 129h13m6 0h4m0 0h11m0 0h6M127 131h5m-1 0h12m0 0h8m34 0h5m1 0h7m1 0h3m2 0h3m32 0h7M84 132h13m0 0h7M358 134h14M147 138h9M15 139h4m5 0h17m-1 0h11m3 0h16m10 0h17m1 0h10m4 0h19m0 0h15m0 0h18m15 0h19m0 0h12m3 0h7m0 0h6m16 0h12m5 0h5m-1 0h5m0 0h9m17 0h19m9 0h10m5 0h6m1 0h11m0 0h9M128 141h4M188 143h4m0 0h9m1 0h6m-1 0h3M83 144h4m102 0h7m7 0h6M86 145h10m18 0h13m0 0h6M154 147h2m28 0h5m0 0h1M55 149h9m4 0h6m1 0h7m8 0h7M181 153h7m12 0h3M371 154h6m0 0h8M262 156h13M187 157h8m11 0h13m73 0h7M65 158h2M42 159h10m320 0h2M261 161h13M88 162h3m184 0h9m9 0h1M147 168h7m0 0h5M10 169h4m146 0h11M150 174h10m0 0h8m138 0h7m2 0h9m12 0h10m1 0h5M190 175h9m3 0h7M168 176h6m208 0h2M318 177h6m1 0h15M173 178h5m10 0h8m0 0h5M232 180h12M161 185h9m0 0h11M151 189h13m98 0h5M199 190h7m0 0h1M225 191h13m0 0h5M188 192h6M32 195h2m165 0h13M265 196h4M140 197h9M120 198h7m1 0h2M168 199h13M48 201h11m0 0h1m176 0h10M146 202h8m2 0h3m34 0h4M188 206h5m11 0h8m0 0h6M75 207h10M208 208h9m157 0h12M140 209h4m229 0h8M63 211h10m38 0h2M171 213h8m-3 0h6M32 215h19m17 0h10m98 0h14m20 0h17m5 0h18m1 0h9M198 216h3M192 217h7M148 219h5m0 0h9m3 0h13m0 0h12m0 0h9m74 0h2M224 221h3M317 223h6m2 0h6M219 224h6m70 0h7m10 0h11M13 225h2M227 226h6m0 0h9m0 0h5M190 227h5M185 228h5m88 0h9m0 0h11M194 229h15m-1 0h6m104 0h8M41 231h13m0 0h9m26 0h2m245 0h3M141 234h2m8 0h7m19 0h10m3 0h7m2 0h12m10 0h3m139 0h2M370 236h7M274 237h11m0 0h16M327 239h3M374 240h10M272 244h8m10 0h2M94 245h54m2 0h57m2 0h44m4 0h44m4 0h14M115 246h10m3 0h15m8 0h13m0 0h5M192 247h3m1 0h10M8 248h13m2 0h27m46 0h12m59 0h49m5 0h21m6 0h19M237 249h14m1 0h10m2 0h8"/></defs>
<use href="#D1_4" stroke="#e65440" stroke-width="1.6" stroke-opacity="0.34"/>
<use href="#D1_1" stroke="#f4a38b" stroke-width="0.75"/>
<use href="#D1_2" stroke="#dd4c36" stroke-width="0.75"/>
<use href="#D1_3" stroke="#9c1719" stroke-width="0.75"/>
<use href="#D1_4" stroke="#5a0a0c" stroke-width="0.75"/>
</g></g></g>
<g transform="translate(333.8 2139.1)">
<rect width="192.3" height="355" fill="#fdefe9"/>
<rect x="82.7" width="26.9" height="355" fill="url(#band)" opacity="0.15"/>
<g filter="url(#soft)"><g transform="scale(0.5 1.4200) translate(0 0.5)" fill="none">
<path d="M261 0h76M39 1h16m94 0h6m72 0h87m-20 0h44M156 2h22m40 0h14m107 0h2M167 3h43m-7 0h4M0 5h51m10 0h173M360 6h24M145 7h11m56 0h45M219 8h24M95 9h17m232 0h37M305 10h51m19 0h9M9 11h56M278 12h67M259 13h13m-13 0h84M263 14h43m-32 0h50m-49 0h9m1 0h49M130 15h37M25 16h14m184 0h89M38 17h44M153 18h170m-82 0h28m59 0h5M302 19h82M215 21h25M46 22h5m20 0h23m191 0h96m-92 0h49m-10 0h25M19 23h11M148 25h20m17 0h44m63 0h5m22 0h58M21 27h117m-31 0h15m140 0h12m-2 0h6M109 28h57M205 29h47m74 0h33M0 30h164m-98 0h17m151 0h150M58 31h11m28 0h44m16 0h44m86 0h42M176 32h17M7 33h11m111 0h17m129 0h12M0 34h29m8 0h26m84 0h14m131 0h20m61 0h12M171 36h61m-17 0h4m109 0h41M113 37h27m124 0h25m9 0h32M114 38h95m123 0h3M355 39h20M89 40h17m90 0h13m40 0h4m121 0h10M25 41h76M128 42h17M243 43h27m52 0h8M129 44h17m35 0h38M56 45h27M27 46h11m169 0h21m54 0h59M40 47h38m207 0h37M128 48h77M1 49h33m187 0h36m-5 0h13m52 0h50M39 50h59m126 0h161M20 51h99m-68 0h4m232 0h13M0 52h74m-52 0h31m-8 0h13m66 0h22m10 0h133M60 54h64m-32 0h36m57 0h31m6 0h38m-7 0h12M185 55h150m-34 0h84M157 56h17M78 57h34m47 0h18m48 0h24m58 0h40M35 58h33m-32 0h9m162 0h111m-24 0h57M192 59h116M153 60h54M72 62h9m19 0h6m265 0h13M133 63h3M0 64h46m10 0h20M22 65h9M316 66h48M5 67h122m-24 0h3m102 0h16m66 0h29M277 68h18M296 69h89M275 70h50M0 71h13m39 0h26m87 0h163m-44 0h66m-40 0h36M9 72h45m-31 0h148m162 0h51M83 73h57m90 0h15m17 0h8M312 74h29M73 75h8M176 76h3M205 77h36M44 79h37M39 80h69m-56 0h57m247 0h28M10 81h102m31 0h20m-18 0h5m133 0h12m41 0h49M69 82h45m47 0h15M13 83h10m262 0h44m-40 0h40M117 85h70m-32 0h7m150 0h58M240 87h13M119 88h72m-18 0h29M162 90h90m-51 0h19m79 0h29m5 0h13m9 0h29M41 92h38m122 0h27m126 0h31M202 93h23m12 0h119m-62 0h23M344 94h7M370 95h3M246 96h10M295 97h21M0 98h124m-58 0h20m76 0h16M118 99h75M71 100h24m12 0h50m-45 0h57m-45 0h50m33 0h23M81 101h3M229 102h50M120 104h48m61 0h25M334 105h3M36 107h49m245 0h21m-17 0h38M0 108h56m-43 0h51m-46 0h17m45 0h58m137 0h104M114 109h66m141 0h63M41 110h6m246 0h7M0 111h37m166 0h9M0 113h36m99 0h9m126 0h59M0 114h27m318 0h4M39 115h16m82 0h22m1 0h37M198 116h6m65 0h47M2 117h121m-87 0h16m22 0h2m6 0h12m214 0h13M0 118h172M298 119h18M138 120h91m-69 0h15M274 121h16M54 122h73m199 0h35M45 123h3M138 126h35M99 127h80m26 0h17m51 0h7M50 128h28m111 0h107m-2 0h13M35 129h147m-109 0h13M114 130h6m2 0h4m10 0h79m154 0h5M19 131h79m62 0h69m-10 0h123M58 132h31m18 0h42M228 133h59m56 0h41M54 135h20m29 0h77m-50 0h41m150 0h64M7 136h5m52 0h23m22 0h15m142 0h3M75 137h23m139 0h26m5 0h34M29 138h23M318 139h66M223 140h4M121 141h14M95 142h3m99 0h5m15 0h83m-12 0h9M54 143h22M360 144h16M78 145h23m1 0h47m45 0h26M127 146h6M44 147h12M47 148h29M266 149h85m-40 0h21M94 150h4m99 0h12M185 151h66m63 0h40M310 152h16M218 153h70m47 0h49M74 156h3m5 0h189M92 157h70m47 0h4M51 158h30m-6 0h49m24 0h33M96 159h7m33 0h28m166 0h20M54 160h24m140 0h14m40 0h15M98 161h23m11 0h5M33 162h86m-86 0h162m-141 0h145m-51 0h121m-78 0h10m75 0h39m-38 0h13m-11 0h50M14 163h8m3 0h29M0 164h28M39 166h27m119 0h4M314 167h36M0 168h29m87 0h6M44 169h13m103 0h127m28 0h14M41 171h4m1 0h9M107 172h43m126 0h6m8 0h95M150 173h58m54 0h107M0 174h361M315 175h20m-4 0h29M142 177h3M338 179h40M90 180h10M237 183h136M207 184h3M84 185h110m-68 0h6M133 186h22M212 187h10m0 0h36m59 0h4M222 188h74M206 190h35m59 0h72M22 191h37m-21 0h31m68 0h3M117 192h137m48 0h9m-7 0h29M45 193h48M220 194h79M64 195h14M69 196h77m-10 0h57m-49 0h27m153 0h13M0 198h75m101 0h32M65 199h7m92 0h5m64 0h47M152 200h78m-23 0h12M20 201h134M44 202h6m45 0h23m19 0h21m113 0h6M328 203h17M166 204h22m39 0h40M16 205h5M56 206h153m124 0h15M89 207h53m169 0h74m-45 0h25M10 208h73m66 0h26m-17 0h67M111 210h29M193 211h10m33 0h24m66 0h59M9 212h67m-27 0h224m-222 0h17m-2 0h13m-12 0h103M68 213h19m62 0h94m-15 0h16m51 0h5M354 214h30M203 215h4m43 0h10m8 0h3m16 0h98m-15 0h2M191 217h55M8 218h19m165 0h9M0 219h51m57 0h26M179 220h80m7 0h15m64 0h40M87 221h3m157 0h75M57 222h14m32 0h9m3 0h43m149 0h60M178 223h170M52 224h68M34 225h27m-3 0h30m-24 0h119M70 226h132M301 228h14M43 229h14m-11 0h3M3 230h30m124 0h142M0 231h37m92 0h8m46 0h28m111 0h27M103 232h11M85 233h12m233 0h54M31 234h41m69 0h20m10 0h19m68 0h7m64 0h3M252 235h6m49 0h31m-3 0h43M47 236h124m-55 0h32m173 0h50M153 237h32M111 238h21m137 0h5M84 239h54m16 0h77m87 0h16m5 0h3M42 240h38m-23 0h41m85 0h20M30 241h162m-91 0h3m122 0h19M67 243h27M11 244h220m-59 0h30M78 245h40M48 246h30M66 247h14M175 248h52m5 0h13M57 249h3" stroke="#fbe2d8" stroke-width="1.3"/>
<defs><path id="D2_1" d="M95 0h3M31 1h10m19 0h4m19 0h3m40 0h2m71 0h4m0 0h6M134 2h4m20 0h8m10 0h6m0 0h10m-4 0h2m2 0h7m49 0h4m24 0h4M33 3h3m148 0h3m3 0h3m34 0h4m148 0h4M0 4h4m39 0h3m113 0h4m17 0h5m5 0h7m-5 0h5m0 0h3m-3 0h12m-9 0h3m6 0h8M34 5h10m43 0h3m18 0h4m78 0h4m13 0h9m17 0h3m142 0h7M13 6h2m30 0h2m58 0h4m119 0h2M12 7h2m163 0h14m48 0h4m52 0h14m0 0h3M31 8h2m254 0h2m88 0h3M37 9h2m1 0h3m210 0h3m90 0h2M111 10h1m35 0h4m70 0h9m4 0h7m0 0h6m0 0h7m0 0h3m35 0h2M88 11h2m50 0h2m58 0h3m75 0h2M18 12h2m23 0h10m2 0h6m-1 0h15m4 0h3m95 0h2m9 0h4m118 0h6m28 0h4m17 0h2m3 0h3M105 13h2m8 0h4m81 0h4M156 14h3m37 0h4m22 0h3m17 0h14m-1 0h3M8 15h14m0 0h2m51 0h1m128 0h4m22 0h4m52 0h10m21 0h5M34 16h2m150 0h2m102 0h10m52 0h6M158 17h3m125 0h3m31 0h3m-2 0h3M115 18h2m33 0h9m0 0h4m15 0h7m10 0h2m3 0h11m0 0h2m51 0h14m0 0h12m0 0h12M47 19h11m20 0h8m54 0h9m13 0h4m7 0h3m-2 0h2M24 20h3m7 0h3m36 0h4m92 0h11m-8 0h4m7 0h3m3 0h4m-4 0h4m10 0h10m-1 0h7m164 0h3M178 21h3m180 0h3m8 0h2M168 22h4m8 0h3m50 0h2m23 0h2M69 23h4m83 0h3M98 24h3m270 0h4M25 25h2m192 0h4m10 0h3m20 0h3M127 26h2m10 0h3m37 0h4m53 0h2m118 0h2m22 0h2M32 27h2m39 0h3m84 0h4m13 0h5m0 0h4m-3 0h5m0 0h5m122 0h12m34 0h4M76 28h4m89 0h2m134 0h3m76 0h3M14 29h2m159 0h2m16 0h2m3 0h4m58 0h12m7 0h2m32 0h2M201 30h2m8 0h3m43 0h3m86 0h2M60 31h2m38 0h2m78 0h5m33 0h2m75 0h2M87 32h3m55 0h4m39 0h3m-2 0h2m10 0h2m-2 0h2M160 33h8m0 0h4m2 0h6m189 0h6M54 34h12m0 0h5m0 0h7m4 0h10m0 0h2m80 0h2m2 0h8m0 0h4m96 0h2m31 0h2M59 35h3m44 0h3m45 0h2M0 37h8m23 0h3m120 0h6m0 0h10m7 0h8m1 0h4m0 0h6m-1 0h6M35 38h3m15 0h3m5 0h4m44 0h4m73 0h3m13 0h4m74 0h2m19 0h2m13 0h4m52 0h4M334 39h9M44 40h3m103 0h2m30 0h11m29 0h4m39 0h3m102 0h3M178 41h4m21 0h9m1 0h7m159 0h2M59 42h8m47 0h2m22 0h3m59 0h3m22 0h3M105 43h3m75 0h7m6 0h13m66 0h4m91 0h3M39 44h10m138 0h4m-4 0h6m-1 0h4m101 0h3m37 0h10M81 45h9m91 0h8m19 0h4m111 0h5m47 0h9M194 46h7m98 0h11M63 47h4m128 0h2m21 0h3M83 48h4m78 0h3m12 0h5m2 0h3m0 0h8m0 0h4m81 0h2m13 0h4M131 49h2m27 0h4M79 50h3M123 51h2m122 0h2m16 0h2M181 52h2m11 0h6m0 0h8m13 0h5m4 0h13m0 0h15m-14 0h2m12 0h2M140 53h10m2 0h3m159 0h3M154 54h4m18 0h4m5 0h9m16 0h4m87 0h3m3 0h2M7 55h4m232 0h3M48 56h3m8 0h5m16 0h4m20 0h4m38 0h12m44 0h3m78 0h2m71 0h2M63 57h5m15 0h4m126 0h4m116 0h3M86 58h2m37 0h4M30 59h2m70 0h4m244 0h4M151 60h4m47 0h3m43 0h2m71 0h6m57 0h3M13 61h3m159 0h11m4 0h13m43 0h3m51 0h3M32 62h3m128 0h4m15 0h4m107 0h3m52 0h4M182 63h6m0 0h2m9 0h3M78 64h11m0 0h5m96 0h2m39 0h7M260 65h15m0 0h3M3 66h2m118 0h6m11 0h3m59 0h3m2 0h2m125 0h3m42 0h4M46 67h8m22 0h2m292 0h4M96 68h11m2 0h13m4 0h10m122 0h3m104 0h4M285 69h5m11 0h3m19 0h13M65 70h4m101 0h4m7 0h2m71 0h2m114 0h3M178 71h8m0 0h5m0 0h10m29 0h3m39 0h2m26 0h4M96 72h3m105 0h2m160 0h3m-3 0h4m13 0h2M316 73h4m59 0h3M45 74h3m24 0h3m91 0h3m39 0h4m146 0h11M0 75h9m44 0h4m30 0h13m-1 0h3m58 0h3m19 0h6m0 0h6m62 0h3m-2 0h3m17 0h2M69 76h2m118 0h6m4 0h4m93 0h4m8 0h16m0 0h7m8 0h3M125 77h2m2 0h4m53 0h3m192 0h4M9 78h3m87 0h4m63 0h14m0 0h8m24 0h2m32 0h4M103 79h3m79 0h2m0 0h2m23 0h3m50 0h3m41 0h3m40 0h4m5 0h3M18 80h2m239 0h2m0 0h3m115 0h4M55 81h4m128 0h2m0 0h3m32 0h4m99 0h2m3 0h3M71 82h3m86 0h14m14 0h2m30 0h4m49 0h3m20 0h14M333 83h4M43 84h10m114 0h13m0 0h4m2 0h4m0 0h3m23 0h7m78 0h3m24 0h4m47 0h3M55 85h2m2 0h4m78 0h2m80 0h2m15 0h4m18 0h2M167 86h4m26 0h2m53 0h3m20 0h3m90 0h2M13 87h3m168 0h9m5 0h2m2 0h3m-2 0h2m13 0h3m68 0h3M55 88h3m144 0h3m19 0h2m72 0h4M45 89h2m90 0h4m40 0h2m40 0h4m56 0h2m34 0h3M132 90h4m50 0h7m-4 0h2m2 0h5m-1 0h2m34 0h3m1 0h4m71 0h3m48 0h2M39 91h3m16 0h2m6 0h7m14 0h10m-1 0h14m1 0h2m50 0h6m20 0h6m97 0h3m22 0h8M5 92h4m116 0h4m19 0h3m30 0h3m148 0h4M11 93h3m15 0h9m13 0h8m0 0h2m152 0h2m12 0h3m39 0h2M163 94h3m77 0h3m18 0h3m52 0h4M27 95h7m-6 0h2m3 0h5m143 0h2M11 96h3m27 0h6m149 0h7m70 0h4m90 0h12M31 97h4m24 0h4m35 0h2m89 0h9M63 98h2m132 0h2m18 0h2m42 0h6m28 0h4m1 0h2M28 99h12m0 0h8m5 0h9m5 0h4m7 0h3m108 0h3m0 0h3m47 0h4m138 0h4M1 100h13m0 0h7m4 0h10m38 0h13m3 0h8m115 0h6m9 0h4m68 0h3M26 101h4m80 0h3m19 0h11m2 0h4m19 0h4m20 0h3m40 0h3m0 0h3m107 0h15m0 0h5M11 102h4M30 103h3m125 0h3m44 0h2m1 0h4m-4 0h4m75 0h3m41 0h2M43 104h3m9 0h12m119 0h3m36 0h3m115 0h2m21 0h3M4 105h13m5 0h2m-2 0h4m164 0h2m4 0h3M7 106h4m156 0h6m8 0h5m15 0h3m-2 0h3m52 0h7M12 107h2m91 0h12m-1 0h4m-3 0h13m-11 0h2m52 0h3m165 0h3M2 108h4m20 0h4m98 0h4m29 0h3m4 0h11m-2 0h3m-2 0h8m0 0h7m-6 0h5m-4 0h4m-1 0h7m-5 0h3m4 0h4m157 0h2M101 109h2m38 0h3m41 0h4m18 0h2m52 0h7m75 0h3m24 0h2M36 110h16m5 0h8m0 0h11m0 0h13m0 0h13m15 0h6m-4 0h4m-1 0h2m9 0h3m48 0h3M230 111h2m123 0h12M57 112h2M6 113h4m146 0h4m31 0h4M1 115h2m118 0h3m51 0h4m24 0h5m2 0h4m-3 0h4m50 0h11m0 0h8M57 116h3m19 0h2m24 0h4m5 0h2m195 0h8m34 0h5M6 117h3m20 0h4m32 0h6m154 0h5m0 0h13m0 0h9M22 118h3m165 0h2m0 0h7m9 0h2M12 119h2m90 0h4m83 0h7m4 0h3m68 0h10m0 0h2m76 0h4M89 120h3m130 0h4m96 0h10m23 0h9M100 121h3m60 0h2m5 0h12m3 0h4m15 0h12m58 0h3m15 0h2m39 0h4m24 0h2M26 122h2m8 0h8m20 0h4m113 0h4m141 0h6M124 123h3m79 0h3m40 0h2m16 0h4m78 0h3M41 124h4m100 0h4m56 0h2m140 0h4M171 125h3m19 0h4m49 0h3m24 0h2m28 0h2m28 0h14m3 0h10m-3 0h3m0 0h8M16 126h3m28 0h3m32 0h4m111 0h2m0 0h3M123 127h4m55 0h3m78 0h2m-2 0h13m66 0h4m38 0h2M88 128h3m103 0h2m15 0h2m65 0h2m-1 0h13m-10 0h2m24 0h3m-3 0h3M8 129h6m60 0h4m111 0h2m0 0h2m125 0h6m11 0h4m32 0h14M135 130h2m39 0h4m71 0h2m17 0h4M124 131h13m2 0h6m53 0h5m0 0h9m117 0h2m22 0h3m16 0h12M58 132h4m113 0h6m31 0h2m-1 0h2m9 0h4m103 0h4M63 133h2m58 0h3m16 0h4m39 0h15m-1 0h9m14 0h3m15 0h2m97 0h2M59 134h13m4 0h15m-1 0h4m226 0h3m54 0h4M75 135h11m41 0h9m0 0h5m5 0h3m30 0h3m5 0h2m129 0h2m53 0h3M0 136h4m6 0h6m5 0h15m42 0h10m70 0h2m13 0h3m4 0h12m8 0h12m0 0h8m12 0h4m102 0h4m4 0h2m16 0h6m3 0h2m1 0h4M105 137h4m72 0h8m0 0h9m0 0h5m29 0h14m130 0h2M79 138h2m52 0h2m77 0h7m4 0h3m42 0h4M14 139h6m109 0h9m0 0h6m0 0h5m25 0h2m10 0h4m98 0h2M180 140h3m14 0h3M92 141h3m56 0h8m28 0h2m187 0h2M16 142h2m319 0h8m1 0h6M3 143h3m158 0h4m21 0h3m5 0h3m9 0h4m121 0h4m34 0h9M194 144h3m-1 0h2m-2 0h3m147 0h4M187 145h4m129 0h4m11 0h4m31 0h4M107 146h4m9 0h2m17 0h15m32 0h5m2 0h4m67 0h3m60 0h4M102 147h10m69 0h3m-2 0h6m-2 0h4m0 0h1m26 0h4m28 0h2m38 0h10m0 0h3M160 148h2m119 0h4m65 0h4M185 149h4m36 0h2m93 0h2M110 150h3m11 0h4m248 0h3M5 151h3m65 0h3m105 0h2m35 0h2m-2 0h4m131 0h4M271 152h2m64 0h4M199 153h4m90 0h3M20 154h15m61 0h9m0 0h5m42 0h2m66 0h2m12 0h8m0 0h4m101 0h4m7 0h12m10 0h5M96 155h9m0 0h8m21 0h4m112 0h2m29 0h4m25 0h4m66 0h2M0 156h11m2 0h1m174 0h9m-4 0h2m5 0h7m46 0h6M107 157h2m83 0h7m20 0h2m50 0h2M131 158h4m52 0h8m16 0h3M204 159h4m157 0h2m-2 0h10M1 160h6m-1 0h10m45 0h4m61 0h2m28 0h4M29 161h4m30 0h4m122 0h4m19 0h4m54 0h4M38 162h2m12 0h6m9 0h2m117 0h6m-1 0h2m-1 0h10m44 0h13m-10 0h3m9 0h13m8 0h4M232 163h5m31 0h2M1 164h5m114 0h11m21 0h4m30 0h2m48 0h3m75 0h10m29 0h4M92 165h2m1 0h4m51 0h2m30 0h4m-2 0h4m2 0h5m0 0h4m33 0h3m48 0h3M18 166h2m100 0h2m0 0h4m142 0h3m32 0h11M5 167h4m0 0h2m4 0h3m251 0h4M155 168h4m-2 0h2m37 0h4m172 0h6M7 169h3m54 0h6m4 0h2m40 0h11m0 0h12m156 0h3m56 0h6M15 170h3m146 0h3m34 0h4M194 171h9m9 0h3m22 0h2M8 172h3m57 0h3m49 0h4m44 0h4m170 0h2M53 173h2m86 0h2m133 0h2M221 174h2m101 0h2M242 175h2M92 176h10m1 0h6m33 0h3m44 0h9m0 0h8m0 0h5m-2 0h4m126 0h3M16 177h10m9 0h2m184 0h3m149 0h4M125 178h3m65 0h4m24 0h4m40 0h4M149 179h2m0 0h3m29 0h2m48 0h12m0 0h7m0 0h13m12 0h2m36 0h4m10 0h6m9 0h2m12 0h8m12 0h2m-1 0h4M67 180h4m7 0h4m15 0h2m211 0h2m35 0h4M177 181h7m2 0h10m0 0h4m0 0h3m1 0h2m131 0h2m3 0h2m22 0h6M68 182h3m65 0h2m73 0h3m6 0h3m23 0h2M95 183h2m65 0h2m102 0h3M6 184h2m98 0h3m30 0h9m2 0h3m23 0h4m20 0h3m57 0h4m4 0h3m32 0h4m73 0h5M6 185h2m5 0h5m12 0h9m-1 0h6m72 0h5m20 0h14m0 0h7m24 0h4m3 0h2m12 0h3m40 0h4m47 0h2m26 0h10m24 0h2M28 186h4m5 0h2m74 0h3m70 0h4m1 0h6m0 0h4m0 0h5M119 187h3m59 0h4m1 0h7m0 0h4m-3 0h14m-11 0h1m42 0h2m31 0h4M158 188h2m161 0h12M104 189h3m81 0h4m1 0h4m5 0h3M46 190h2m36 0h13m0 0h4m1 0h2m24 0h2m95 0h3m42 0h3M93 191h4m16 0h2M187 192h7m0 0h7m-6 0h3m-3 0h4m78 0h2m2 0h5m1 0h5m25 0h6M241 193h2m84 0h2M10 194h10m64 0h3m127 0h4m-3 0h8m37 0h7M55 195h3m48 0h4m40 0h4m78 0h4m51 0h3M73 196h3m36 0h4m6 0h5m59 0h14m0 0h12m-4 0h2m2 0h12m0 0h8m3 0h3m7 0h10M44 197h4m199 0h4m-1 0h3m107 0h2M110 198h3m38 0h14m16 0h3m130 0h3m12 0h7m0 0h9M148 199h3m76 0h3m-2 0h2M73 200h2m22 0h4m55 0h2m103 0h3m48 0h3m12 0h4M152 201h16m78 0h2m36 0h4m0 0h4M99 202h8m73 0h7m1 0h9m1 0h3m-3 0h4m119 0h4M105 203h4m19 0h4m9 0h2m183 0h2m22 0h2M40 204h4m40 0h2m86 0h2m127 0h3M30 205h2m137 0h12m0 0h4m5 0h9m-6 0h2m15 0h3M39 206h12m140 0h2m72 0h3m26 0h6M77 207h4m45 0h3m25 0h13m-3 0h2m2 0h12m0 0h4m179 0h4M4 208h3m58 0h9m115 0h12m-4 0h2m2 0h3m43 0h7m57 0h7m-1 0h1M67 209h13m-9 0h2m19 0h4m45 0h7m14 0h8m37 0h4m153 0h3M107 210h4m59 0h8m8 0h3m11 0h3m-2 0h4m54 0h4m27 0h5M57 211h3m130 0h14m2 0h2m8 0h2m18 0h2m7 0h4m108 0h3M88 212h2m86 0h13m17 0h4m28 0h7m61 0h4M26 213h3m21 0h2m86 0h2M52 214h3m101 0h6m35 0h7m5 0h2m49 0h4m68 0h2M321 215h2M166 216h2m1 0h2m18 0h4m2 0h3m94 0h4M22 217h3m165 0h4m-3 0h4m-1 0h4m0 0h10m3 0h6m0 0h14m0 0h8m4 0h11m-1 0h11M31 218h2m105 0h8m60 0h4m24 0h2m65 0h15m46 0h4M172 219h6m23 0h2m166 0h7M22 220h2m200 0h3M106 221h2m74 0h2m28 0h2m-1 0h6m72 0h5M210 222h3m7 0h6m52 0h2m102 0h3M135 223h4m55 0h4m2 0h4m167 0h3M61 224h3m207 0h14m23 0h4m8 0h4m5 0h2m31 0h4M38 225h15m1 0h9m0 0h11m0 0h9m7 0h3m10 0h5m0 0h8m13 0h3m11 0h4m15 0h16m-5 0h4m25 0h4m114 0h4M116 226h4m-2 0h4m36 0h2m16 0h10m-1 0h8m0 0h1M83 227h3m79 0h3m31 0h2m157 0h14m-6 0h4M155 228h2m32 0h4m60 0h2m83 0h3m11 0h7m0 0h3m12 0h2M19 229h2m7 0h5m2 0h8m-1 0h4m-4 0h4m66 0h2m64 0h4m0 0h5m0 0h4m0 0h4m0 0h8m-2 0h4m-1 0h3M113 230h3m204 0h4m15 0h3M176 231h4m9 0h9m0 0h7m11 0h1M44 232h4m18 0h4m192 0h6M15 233h3m64 0h3m157 0h4m6 0h4m58 0h2m38 0h4M116 234h3m24 0h2m18 0h3m159 0h2m44 0h4M19 235h12m53 0h2m94 0h2m24 0h3m63 0h15m0 0h6m10 0h4m6 0h14M2 236h2m4 0h14m0 0h4m9 0h3m14 0h10m0 0h2m132 0h2m-2 0h2m154 0h4m25 0h3M171 237h4m1 0h3m38 0h3m80 0h2m25 0h2m54 0h2M328 238h3M159 239h4m10 0h3m8 0h6m12 0h13m29 0h12m70 0h4m23 0h4M97 240h4m46 0h6m49 0h2m-2 0h14m18 0h19m-3 0h9m-6 0h7m0 0h14m50 0h20m-8 0h8m0 0h13m0 0h16M50 241h2m94 0h2m36 0h10m-1 0h8m2 0h3m162 0h4M17 242h2m4 0h4m6 0h3m4 0h4m61 0h4m10 0h4M94 243h4m15 0h6m-1 0h3m0 0h7m48 0h4m17 0h12m12 0h9m83 0h3M40 244h2m38 0h2m74 0h3m26 0h3m175 0h2M1 245h3m177 0h3M179 246h10m38 0h4M17 247h4m77 0h4m0 0h4m34 0h2m36 0h4m3 0h6m-1 0h11m-10 0h3m98 0h11m13 0h2M166 248h3m167 0h4M73 249h3m88 0h3m17 0h9m0 0h1m3 0h4m175 0h2m3 0h2"/></defs>
<defs><path id="D2_2" d="M32 0h8m0 0h6m34 0h2m112 0h6m0 0h15m21 0h6m73 0h2m34 0h2M180 1h14m-8 0h3M50 2h6m13 0h2m100 0h6m10 0h3m8 0h6m-5 0h2m31 0h16m100 0h2M166 3h4m-2 0h12m6 0h15m7 0h3m80 0h2M33 4h4m16 0h12m-1 0h4m97 0h11m2 0h12m-4 0h6m3 0h2m-1 0h3m0 0h2M32 5h2m32 0h8m61 0h4m57 0h11m-7 0h2m6 0h2m3 0h3m5 0h12m20 0h2m13 0h4m25 0h3m-3 0h7m40 0h12M67 6h2m123 0h4m6 0h3m96 0h4m64 0h4M210 7h2m31 0h3m62 0h2M296 8h15M139 9h18m8 0h4m14 0h14m0 0h8m2 0h6m72 0h4M37 10h11m4 0h2m8 0h4m39 0h7m5 0h13m191 0h8m10 0h3m2 0h2M5 11h15m48 0h4m121 0h7m70 0h4m97 0h8m-1 0h6m0 0h3M75 12h4m-3 0h3m44 0h10m164 0h3m-3 0h9m0 0h5m60 0h3M47 13h8m0 0h3m104 0h2m15 0h4m131 0h3M75 14h3m14 0h4m98 0h7m-7 0h12m21 0h4M66 15h9m39 0h6m66 0h6m32 0h6m24 0h2m54 0h6m52 0h15M118 16h2m5 0h3m54 0h2m3 0h9m1 0h4m1 0h5m75 0h3m15 0h10m15 0h14m1 0h8m10 0h4M45 17h2m19 0h3m256 0h12M163 18h15m7 0h6m4 0h5m107 0h3m8 0h2m2 0h2M38 19h9m15 0h16m46 0h11m15 0h12m15 0h4m79 0h2M143 20h4m10 0h8m54 0h10m0 0h15m4 0h11m2 0h16m0 0h2m90 0h15M205 21h2m110 0h2m57 0h4M4 22h4m35 0h2m136 0h3m30 0h4m97 0h3M60 23h3m-2 0h8m75 0h4M184 24h3m143 0h12M194 25h4m14 0h4m133 0h3M43 26h2m92 0h5m8 0h2m2 0h13M95 27h11m-8 0h4m59 0h15m13 0h4m63 0h4M204 28h2m3 0h3m90 0h4M18 29h3m37 0h4m112 0h4m21 0h3m32 0h16m0 0h11m25 0h3M230 30h3m13 0h3m0 0h4M72 31h3m100 0h5m4 0h13m-11 0h5m16 0h5M69 32h2m108 0h10m-9 0h13m0 0h3m2 0h4m175 0h3M233 33h3m31 0h2m45 0h2m8 0h3M71 34h3m250 0h6m42 0h7m2 0h2M82 35h4m15 0h2m234 0h7M275 36h4M9 37h4m131 0h10m19 0h4m20 0h5m114 0h2m30 0h3M29 39h3m53 0h4m0 0h14m0 0h17m18 0h18m95 0h9m30 0h12m16 0h11m15 0h9M52 40h4m28 0h2m70 0h4m4 0h8m11 0h2m-1 0h4m0 0h8m-7 0h2m5 0h6m0 0h1M17 41h13m0 0h15M195 42h3m24 0h4m23 0h9m51 0h8M108 43h4m31 0h4m67 0h5m3 0h5M29 44h4m15 0h3m122 0h2m6 0h6m1 0h4m18 0h2m38 0h3M2 45h4m83 0h1m99 0h7m0 0h3m122 0h3m5 0h13m0 0h15m3 0h15M174 46h11m6 0h4M58 47h3m119 0h8m4 0h2m99 0h3M94 48h4m150 0h10m100 0h2m10 0h4M94 49h4m21 0h3m205 0h2M117 50h6m58 0h2m60 0h8m65 0h2m19 0h3M23 51h4m113 0h15m0 0h17m3 0h8m86 0h8m0 0h8m6 0h17m0 0h15m9 0h8M18 52h10m0 0h14m123 0h2m3 0h4m-3 0h3m-1 0h6m5 0h8m20 0h8m156 0h3M206 53h4m0 0h15m2 0h7m91 0h4M157 54h5m33 0h2m7 0h9m35 0h2M10 55h8m99 0h2m33 0h2m88 0h12m7 0h13m4 0h4m1 0h8m5 0h6m-1 0h7m28 0h10m-1 0h2M23 56h10m8 0h7m0 0h6m-3 0h2m289 0h2m21 0h3m2 0h15M10 57h4m20 0h4m4 0h4m25 0h15m0 0h14m47 0h3m27 0h13m27 0h11m0 0h5m4 0h10m26 0h2M9 58h3m68 0h3m58 0h3m41 0h4m10 0h4m-2 0h4m9 0h2m86 0h4M289 59h2m30 0h3m45 0h2M226 60h4m84 0h2M25 61h2m17 0h3m158 0h6M79 62h4m153 0h4M89 63h2m57 0h4m-3 0h3m32 0h3m4 0h3m17 0h3m101 0h2M6 64h2m36 0h6m176 0h5m5 0h2m91 0h4M26 65h2m28 0h6m130 0h6m53 0h9m102 0h2m4 0h4M117 66h2m74 0h9m53 0h3M52 67h3m-1 0h2m134 0h4m43 0h4m7 0h2M121 68h2m2 0h4m29 0h2m13 0h4m0 0h10m2 0h2m-2 0h8m1 0h5m36 0h3m6 0h2m126 0h8M187 69h2m8 0h4m0 0h6m2 0h4m0 0h4m17 0h4m35 0h13m25 0h8m17 0h15m0 0h15m0 0h4m3 0h4M77 70h15m103 0h5m-3 0h4m-1 0h2m0 0h3m152 0h6M176 71h9m16 0h1m13 0h3m58 0h3m58 0h4M163 72h4m191 0h3M16 73h10m193 0h7m2 0h2m150 0h5M69 74h4m58 0h3m14 0h3M97 75h3m42 0h2m1 0h4m45 0h5m129 0h4M29 76h10m-8 0h4m7 0h2m13 0h4m40 0h3m77 0h2m39 0h4m6 0h3m68 0h6M89 77h2m118 0h3M188 78h6m68 0h4M89 79h3m41 0h2m34 0h4m22 0h3m83 0h4M190 80h12m0 0h3m13 0h2m51 0h4M82 81h8m85 0h4m37 0h3m50 0h2m15 0h3M175 82h12m97 0h6m0 0h6M233 83h7m27 0h2M48 84h2m75 0h11m3 0h15m0 0h12m13 0h9m9 0h5m0 0h14m17 0h6m80 0h3m45 0h5m0 0h7M34 85h4m34 0h2m121 0h6m-2 0h2m0 0h3M245 86h15m58 0h11M25 87h3m140 0h13m-10 0h2m6 0h5m2 0h4m51 0h4m100 0h3m20 0h3M120 88h2m22 0h3m47 0h4m-4 0h5m8 0h7m73 0h3m6 0h8m3 0h15M45 89h15m50 0h3m82 0h10M0 90h2m46 0h2m185 0h9m-2 0h4m-2 0h5m100 0h4M59 91h7m35 0h2m83 0h2m99 0h9m51 0h5m1 0h10m12 0h10M56 92h4m64 0h3m40 0h8m22 0h9m84 0h2M40 93h11m64 0h7m203 0h3M109 94h6m0 0h2m251 0h4M185 95h8m91 0h2m52 0h3m19 0h2M3 96h3m16 0h2m143 0h3m13 0h13M119 97h4m12 0h2m64 0h12m108 0h15M68 98h15m25 0h8m0 0h10m32 0h5m32 0h10m30 0h2m23 0h3m14 0h3M48 99h4m1 0h3m18 0h3m21 0h6m102 0h6m9 0h3m42 0h4m12 0h16M35 100h4m148 0h10m5 0h11m164 0h4M61 101h2m100 0h2m27 0h3m33 0h7m5 0h3M9 102h2m11 0h3m-1 0h3m38 0h4m10 0h4m72 0h4m62 0h2M14 103h13m-1 0h5m23 0h3m150 0h1m67 0h3M0 104h10m4 0h2m-1 0h8m28 0h5m4 0h3m61 0h2m33 0h3m15 0h13m-6 0h3m2 0h16m-10 0h2m27 0h3m106 0h3M3 105h2m88 0h4m73 0h4m15 0h7m0 0h2m67 0h4m35 0h3M186 106h12m-11 0h3m8 0h10m32 0h15m13 0h10m69 0h4M125 107h3m59 0h3m15 0h2m0 0h7m6 0h4m78 0h3M33 108h9m61 0h3m67 0h3m-1 0h4m0 0h8m23 0h4m2 0h4m144 0h3M183 109h3m2 0h10m0 0h4m0 0h2m45 0h4M52 110h5m3 0h2m40 0h11m12 0h8m60 0h3m37 0h4m20 0h2M183 111h2m6 0h5m-1 0h1m17 0h4m16 0h2m77 0h2m52 0h14M8 112h2m112 0h15m63 0h3m50 0h2m9 0h2M5 113h2m89 0h2m97 0h6m104 0h2M61 115h6m19 0h3m0 0h2m0 0h2m5 0h3m28 0h14m0 0h5m0 0h16m2 0h4m17 0h4M17 116h2m90 0h14m-1 0h2m11 0h2m124 0h5m0 0h5m16 0h8m57 0h3m2 0h11M131 117h10m2 0h9m21 0h11m2 0h3m16 0h2m77 0h3m19 0h6m19 0h6m16 0h3m2 0h4m20 0h4M87 118h4m94 0h7m7 0h8m8 0h13m124 0h3m22 0h8M113 119h6m78 0h1m9 0h3m8 0h3m59 0h2m0 0h2m80 0h3M200 120h3m20 0h3m7 0h2m50 0h2m45 0h4m3 0h11m-1 0h5M203 121h4m18 0h3m18 0h11m2 0h12M0 122h6m162 0h8m1 0h7m17 0h2m3 0h6m58 0h3M175 123h2M16 124h2m95 0h3m10 0h4m57 0h5m3 0h4M9 125h2m92 0h11m262 0h3M11 126h8m3 0h7m0 0h8m5 0h5m102 0h13m24 0h4m83 0h6M188 127h2m12 0h3m45 0h13M7 128h4m167 0h4m91 0h6m13 0h10m3 0h15m-14 0h2M14 129h5m0 0h4m0 0h6m0 0h3m155 0h3m124 0h4m66 0h3M219 130h4m93 0h4m55 0h9M66 131h9m75 0h2m26 0h10m79 0h9m-2 0h4M62 132h4m17 0h3m107 0h4m47 0h4m91 0h4m33 0h2M211 133h11m43 0h13m-3 0h4m-2 0h13m1 0h12m0 0h7M1 134h4m133 0h4m5 0h6m16 0h3m79 0h2m11 0h3m40 0h9m51 0h3M110 135h3m33 0h6m20 0h2m-2 0h4m14 0h2m43 0h2m55 0h2M16 136h5m12 0h14m38 0h2m22 0h9m32 0h9m17 0h17m1 0h2m27 0h19m39 0h7m4 0h18m-4 0h6m3 0h1m24 0h5m14 0h8M43 137h2m153 0h2m3 0h4m-3 0h6m0 0h12m138 0h2M192 138h9m-5 0h5m0 0h10m111 0h2M8 139h5m7 0h9m0 0h6m71 0h4m6 0h10m62 0h10m-4 0h4m38 0h3m111 0h9M186 140h8m0 0h7m36 0h3m139 0h3M137 141h4m42 0h2m16 0h2m28 0h2m38 0h7m0 0h5M8 142h8m48 0h4m128 0h3m9 0h14m28 0h9m73 0h5M131 143h3m35 0h4m21 0h8m1 0h5m88 0h4M301 144h2M24 145h3m154 0h8m7 0h8m0 0h2M154 146h9m-1 0h9m2 0h2m10 0h6M8 147h2m26 0h4m28 0h4m0 0h11m3 0h6m0 0h11m40 0h7m0 0h5m4 0h1m15 0h7m102 0h5M76 148h2m114 0h2m24 0h15m2 0h4m30 0h3M12 149h4m59 0h2m44 0h7m-1 0h1m57 0h4m6 0h3m27 0h12m0 0h2m29 0h5M134 150h2m55 0h3m39 0h2m123 0h2m24 0h3M10 151h3m61 0h4m137 0h2m8 0h5M204 152h11m0 0h12m47 0h2M39 153h2m89 0h4m55 0h10m69 0h4m37 0h3M182 154h3m-1 0h4m62 0h10m65 0h2m7 0h3m33 0h5M58 155h2m53 0h5m0 0h5m57 0h2M109 156h6m29 0h8m7 0h3m22 0h4m8 0h4m87 0h2M0 157h10m0 0h3m150 0h2m34 0h4m0 0h4m57 0h4m40 0h4m0 0h4M101 158h4m90 0h6m-1 0h4m31 0h13m0 0h5m-1 0h4m100 0h2M0 159h12m78 0h4m116 0h4m57 0h2m85 0h7m10 0h3M87 160h8m-1 0h7m3 0h11m28 0h2m47 0h4m4 0h3m20 0h8m11 0h2m57 0h4m40 0h4M94 161h2M122 162h9m23 0h4m25 0h2m17 0h7m0 0h9m-6 0h3m3 0h2m55 0h6M237 163h7m58 0h3M39 164h3m35 0h2m32 0h7m23 0h4m129 0h2m5 0h10m79 0h4M193 165h4m-4 0h11m29 0h4m22 0h3m-2 0h4M7 166h3m264 0h2m0 0h12m0 0h11m67 0h4M168 167h4m19 0h4m12 0h2m88 0h4m40 0h2m8 0h4M229 168h4m47 0h4m12 0h2m14 0h4M113 169h4m49 0h2m24 0h2m-2 0h3m141 0h11m0 0h7m-6 0h4M161 170h2m32 0h8m45 0h13m51 0h3M188 171h4m-3 0h5M75 172h3m25 0h10m92 0h3M171 173h4m44 0h4m58 0h4m90 0h4M2 174h3m0 0h11m23 0h6m12 0h3m12 0h4M184 175h3m19 0h4m33 0h2M82 176h10m73 0h4m41 0h2m102 0h4M206 177h2m62 0h5m81 0h11M18 178h3m12 0h3m132 0h4M128 179h3m65 0h2m129 0h4m8 0h15m-1 0h5M13 180h11m1 0h12m61 0h11m122 0h10m-6 0h3M95 181h3m46 0h8m40 0h5m4 0h2m11 0h10m-9 0h3m76 0h4M98 183h2m7 0h3m83 0h2m55 0h3m11 0h2m5 0h3M12 184h4m86 0h7m12 0h13m-8 0h2m52 0h11m-2 0h7M17 185h9m66 0h3m8 0h5m0 0h8m5 0h15m-6 0h4m2 0h5m29 0h3m24 0h3m1 0h4m103 0h4m36 0h3M46 186h2m5 0h3m47 0h11m65 0h4m23 0h7m40 0h7m55 0h2M350 187h3M20 188h4m189 0h2m117 0h4M27 189h9m-3 0h3m17 0h13m31 0h4m28 0h2m62 0h3m1 0h3m91 0h2m8 0h4m4 0h4m30 0h4M89 190h2m14 0h2m96 0h1M196 191h4M34 192h5m49 0h6m59 0h14m41 0h19m69 0h5m74 0h6m-1 0h4M20 193h2m169 0h6m0 0h3m164 0h10M0 194h10m124 0h2m49 0h3m-2 0h11m0 0h16m35 0h2m53 0h4m3 0h3M164 195h3M231 196h14m10 0h9m-8 0h4m56 0h2M20 197h4m132 0h3m30 0h12m60 0h6m-5 0h2m77 0h1M3 198h4m44 0h4m110 0h2m28 0h4m30 0h1m32 0h5m104 0h5M29 199h4m151 0h3m18 0h15m-9 0h3m6 0h5M40 200h3m31 0h2m49 0h4m57 0h4m5 0h11m57 0h4m56 0h8M47 201h3m-2 0h3m62 0h3m52 0h10m10 0h7m167 0h2M61 202h2m130 0h6m-2 0h4m64 0h4M131 203h4m46 0h3m93 0h4m0 0h2M10 204h3m33 0h2m1 0h3m133 0h18m25 0h4m1 0h11M162 205h3m20 0h5m7 0h4m4 0h5m93 0h3m5 0h2M34 206h5m16 0h7m60 0h9m0 0h5m6 0h2m37 0h10m54 0h5m34 0h10m60 0h3M86 207h6m18 0h2m229 0h3m34 0h2M32 208h4m38 0h6m107 0h3m14 0h2m2 0h3m-2 0h2m46 0h3m9 0h15m-1 0h5m9 0h4m72 0h4M80 209h4m66 0h12m-5 0h3m30 0h2m2 0h4m69 0h16m29 0h6M177 210h8m83 0h3m39 0h4M4 211h3m143 0h2m54 0h2M19 212h5m76 0h10m135 0h5m82 0h13m0 0h1m6 0h4m-2 0h3m-1 0h4M219 213h4m153 0h2M16 214h2m171 0h2m-1 0h2m16 0h2m2 0h2m103 0h12M203 215h4m1 0h5M130 216h3m17 0h6m0 0h12m2 0h4m3 0h3m13 0h3m22 0h3m17 0h8m44 0h2m23 0h4M54 217h2m186 0h2m38 0h7m6 0h4m7 0h4m28 0h7m5 0h10M75 218h4m10 0h3m56 0h3m57 0h4m130 0h3M70 219h2m81 0h4m59 0h3m103 0h16m6 0h5m5 0h15M168 220h4m58 0h3m104 0h4m-3 0h3m13 0h2M19 221h13m0 0h14m0 0h16m236 0h9m13 0h4M64 222h3m0 0h2m5 0h6m4 0h3m37 0h2m58 0h10m3 0h2m22 0h2m3 0h8m21 0h3m12 0h4m0 0h16m4 0h15m67 0h4M135 223h12m-9 0h4m9 0h7m0 0h6m-4 0h2m2 0h7m11 0h3m-2 0h9m0 0h4m4 0h4m105 0h9m46 0h4M81 224h15m22 0h7m66 0h2m74 0h2m19 0h3m14 0h10M11 225h5m2 0h18m17 0h10m7 0h9m0 0h7m-6 0h6m4 0h13m0 0h19m-3 0h10m8 0h19m12 0h3m0 0h2m20 0h17m-11 0h2m9 0h2m3 0h8m-1 0h20m7 0h11m3 0h18m3 0h2m1 0h17m0 0h16m35 0h4M36 226h3m18 0h3m17 0h3m4 0h4m82 0h8m-1 0h4m-4 0h9m32 0h4m154 0h3M0 227h11m177 0h10m0 0h2M67 228h3m6 0h4m17 0h2m87 0h8m-5 0h2m133 0h3m9 0h2M25 229h3m325 0h7m11 0h3M69 230h2M163 231h8m23 0h6m5 0h7m0 0h8m-7 0h3m4 0h6m80 0h3M123 232h2M192 233h2m107 0h14m-7 0h2m21 0h4M58 234h3m133 0h14m19 0h5m25 0h2M89 235h3m77 0h11m-1 0h8m14 0h3m57 0h12m20 0h10M48 236h2m118 0h11m-1 0h8m89 0h3m58 0h2M44 237h13m105 0h2m79 0h4m71 0h6m0 0h2m44 0h10m0 0h5M155 238h5m13 0h1m86 0h3m34 0h3m13 0h2m6 0h4M10 239h2m48 0h6m90 0h5m0 0h6m-2 0h3m0 0h6m12 0h2m32 0h6m-1 0h15m67 0h4m67 0h2m2 0h2M75 240h2m-2 0h15m12 0h5m15 0h10m23 0h19m1 0h19m1 0h7m4 0h4m64 0h13m1 0h18m-16 0h4m12 0h12m44 0h6m5 0h4M128 241h2m45 0h3m70 0h7m63 0h2M111 242h14m-8 0h4m115 0h2m51 0h3m52 0h3M30 243h2m64 0h2m11 0h5m67 0h2m6 0h4m16 0h12M14 244h2m100 0h13m16 0h5m198 0h4M179 245h2m144 0h2m56 0h2M14 246h4m62 0h2m69 0h2m15 0h3m11 0h4m174 0h3M176 247h8m-3 0h3m17 0h9m53 0h4m38 0h8m0 0h9m8 0h2M18 248h6m160 0h2m143 0h2M0 249h5m71 0h3m103 0h2m16 0h2"/></defs>
<use href="#D2_2" stroke="#e65440" stroke-width="1.6" stroke-opacity="0.34"/>
<defs><path id="D2_3" d="M69 0h2m145 0h7m0 0h13m73 0h3M41 1h3m287 0h4M13 2h3m174 0h2m30 0h3M167 3h3m31 0h5m96 0h2M0 5h8m85 0h4m84 0h2m2 0h4m69 0h5m9 0h2m12 0h5m0 0h7m71 0h2M0 6h10M335 7h11m2 0h4M226 8h4m81 0h3M104 9h7m13 0h10m23 0h8m-2 0h2m6 0h12m21 0h14m24 0h4M63 10h2m92 0h4m108 0h3m16 0h3M20 11h3m60 0h4m2 0h15m-1 0h9m74 0h2m136 0h7M182 12h6m3 0h6m10 0h3M69 13h7m70 0h3m218 0h4M74 14h16m111 0h1m57 0h5m17 0h7M160 15h2m27 0h3m0 0h9m0 0h13m0 0h7m-4 0h4M0 16h11m0 0h10m2 0h13m146 0h5m9 0h6m5 0h1m97 0h2m5 0h13M72 17h3m38 0h2m67 0h4M90 18h2m93 0h9M170 19h4M0 21h7m94 0h4M13 22h4m118 0h4m27 0h3m0 0h4m12 0h6m108 0h4M171 23h2M62 24h3M78 25h2m20 0h6m0 0h8m65 0h5m1 0h5m-1 0h7M120 26h8m0 0h9m5 0h8m58 0h4M178 27h13M5 28h6m9 0h4m3 0h2m91 0h8m64 0h4m107 0h4M89 29h4m5 0h2m173 0h7M182 30h2M144 31h2m8 0h6m33 0h6m1 0h6m25 0h3m58 0h7m1 0h16m18 0h6M14 32h10m-3 0h8m-5 0h19m1 0h8m11 0h6m11 0h15m29 0h11m0 0h8m5 0h17m0 0h10m-7 0h2m23 0h16m30 0h5m1 0h9m3 0h1M185 33h3m8 0h4m162 0h7m11 0h4M380 34h4M184 35h11m2 0h5m117 0h7m4 0h5M52 36h7m0 0h3m66 0h6m46 0h10m-2 0h4M90 37h6m50 0h3m36 0h3m1 0h7m12 0h8m-7 0h2m73 0h2m27 0h4M148 38h3m107 0h3m98 0h15m0 0h7m-1 0h4M14 39h8m2 0h2m145 0h14m0 0h18m-1 0h14m-1 0h8m0 0h16m1 0h8m26 0h15m52 0h2m10 0h5M154 40h4m1 0h1m15 0h7m15 0h3m104 0h2M22 41h4m141 0h4m29 0h4m88 0h3M174 42h2m10 0h2m0 0h2m68 0h3m75 0h2M39 43h8m143 0h6m86 0h2M225 44h4m62 0h6m10 0h6m30 0h3M3 45h4m252 0h2m0 0h8m2 0h8m102 0h3M61 46h6m100 0h7m14 0h8m77 0h4m68 0h6m5 0h4M176 47h10m-1 0h8m67 0h3m19 0h4m70 0h4M371 48h4M211 49h8M198 50h3m6 0h8m12 0h10m2 0h4m4 0h3M201 51h9m43 0h16m70 0h11m-8 0h2m6 0h7M12 52h3m121 0h10m9 0h11m13 0h5m78 0h8m15 0h5m6 0h6M110 53h2m59 0h2m33 0h3M51 54h4m60 0h14m45 0h4m0 0h5m84 0h6M106 55h8m140 0h7M8 56h15m3 0h3m3 0h9m61 0h12m34 0h2m218 0h3M104 57h2m83 0h6m0 0h2m54 0h3m109 0h12m0 0h10M180 58h2M16 59h3m110 0h4M310 60h3M12 61h3m96 0h4m10 0h6m54 0h5m-1 0h2M117 62h3M226 63h13m0 0h11M170 64h2M225 65h3m8 0h10m101 0h4M156 66h3m24 0h8M170 67h8m0 0h5M22 68h2m18 0h4m4 0h4m268 0h3M135 69h2m48 0h8m-6 0h10m8 0h4M111 70h10m46 0h5m0 0h10m0 0h11m27 0h4m56 0h2m98 0h4M94 71h3m79 0h3m6 0h9M139 72h7m2 0h3m52 0h2m4 0h2m94 0h2m-2 0h3M32 73h5m0 0h12m98 0h13m10 0h6m4 0h4m17 0h3m10 0h5m15 0h4m70 0h4m48 0h6M119 74h4m181 0h2m41 0h9M25 76h4m143 0h2m13 0h3m114 0h2M234 77h4m3 0h13m22 0h2M204 78h4m173 0h2M299 79h4M87 80h3m89 0h10m75 0h2M258 83h15M94 84h11m0 0h9m151 0h11m5 0h10m21 0h15m30 0h8M47 85h12m42 0h2m64 0h10m180 0h4M311 86h7M133 87h16m-11 0h3m12 0h16m22 0h11m-6 0h10m-1 0h1m18 0h2M199 88h6M41 89h3m82 0h3m76 0h2m68 0h10M322 90h2m6 0h2M27 91h3m151 0h6m108 0h5M116 92h4m0 0h5m2 0h4m44 0h10m10 0h4m6 0h13m0 0h15m32 0h4M251 93h10m90 0h5m0 0h11M17 94h4m64 0h2m122 0h3m93 0h1m23 0h2M227 96h2m83 0h5M299 97h14M41 98h6m3 0h13m33 0h12m20 0h7m-2 0h3m5 0h15m12 0h13m4 0h10m34 0h6m118 0h8M78 99h2m67 0h3m41 0h6m1 0h8m22 0h3m57 0h2m57 0h3m26 0h5M35 100h7m0 0h6m83 0h10m47 0h4m4 0h5m25 0h15m124 0h12m4 0h3M383 102h4M0 103h11m50 0h3m6 0h7m76 0h2m10 0h4m24 0h15m151 0h10M188 104h3m2 0h10m0 0h6m10 0h9m13 0h11m24 0h15m50 0h10M221 105h2M52 106h2m19 0h4m14 0h4m124 0h3m13 0h6m46 0h3m39 0h8m10 0h8m0 0h6M171 107h13m-2 0h9m-7 0h14m-8 0h3m5 0h9m44 0h13m-7 0h2m18 0h2m100 0h6M46 108h12M243 109h4m8 0h7M342 110h2M21 111h14m82 0h2m14 0h10m2 0h11M0 112h10m234 0h12M125 113h3m11 0h2m55 0h4m47 0h5m17 0h14m1 0h14M148 114h8m204 0h6m0 0h6M45 115h2m24 0h15m80 0h6m-1 0h5m1 0h7m6 0h1m93 0h9M130 116h2m200 0h4M81 117h4m2 0h5m60 0h6m-1 0h13m125 0h12M40 118h4m186 0h7M12 120h4m173 0h8m32 0h3m34 0h3M38 121h4m118 0h10m102 0h7m-1 0h13m9 0h3M92 122h4m91 0h2m-1 0h8m-5 0h4m20 0h3m22 0h11m0 0h7M121 123h4m69 0h3m35 0h4m131 0h3M0 124h6m80 0h13m191 0h8m6 0h8m0 0h5m0 0h9M113 125h9m19 0h4m39 0h7M139 126h11m25 0h8m-1 0h4M108 127h4m79 0h8m1 0h5m0 0h1m120 0h6m28 0h10m0 0h5M320 128h4M193 129h2m70 0h3m56 0h14m0 0h5m0 0h14m4 0h9M33 130h2m133 0h12m141 0h10m34 0h11M26 131h6m59 0h4m0 0h13m58 0h12m-10 0h3m14 0h2m61 0h6m1 0h8M87 132h15m0 0h5m0 0h12m20 0h11m17 0h8m8 0h15m0 0h15m58 0h15M45 133h2m6 0h2m312 0h8M115 134h3m69 0h12M55 135h16m0 0h4m29 0h8m63 0h2m1 0h3m105 0h4m15 0h12M16 136h6m0 0h6m20 0h19m6 0h3m5 0h4m0 0h8m0 0h15m12 0h13m3 0h9m14 0h17m27 0h20m30 0h9m0 0h19m69 0h5M229 138h12m101 0h5M0 139h2m4 0h2m72 0h10m108 0h12m8 0h14m127 0h10m5 0h10M50 140h4m26 0h2m79 0h9m13 0h8m19 0h3M5 141h2m7 0h16m14 0h3m8 0h10m33 0h3m58 0h11m0 0h5m22 0h12m82 0h8m0 0h2m10 0h2M204 142h3m56 0h11M173 143h3m11 0h7m41 0h3M70 144h3M189 145h5M147 146h2m23 0h14m-7 0h6M112 147h15m0 0h13m56 0h3m177 0h2M0 149h12m187 0h11m-1 0h8m0 0h7m17 0h15m98 0h2M44 150h8M52 151h8m0 0h13m123 0h9m0 0h7m8 0h5m31 0h2m16 0h4m71 0h2M188 152h10m-1 0h4m100 0h5m13 0h4M21 153h4M36 154h2m153 0h5m116 0h10m37 0h3M38 155h6m6 0h8m90 0h4m-2 0h8m0 0h4m24 0h2m16 0h8m0 0h4m5 0h7m10 0h2m136 0h2M115 156h9m2 0h4m5 0h9m45 0h3m55 0h4M185 157h6m8 0h4m65 0h7M128 159h2M6 160h2m108 0h4m18 0h4m17 0h14m3 0h11m0 0h9m9 0h4m30 0h2M38 161h4m140 0h2m62 0h4m48 0h2m22 0h2M0 162h2m28 0h8m44 0h2m0 0h2m28 0h8m9 0h3m87 0h3M299 163h3M178 164h3m4 0h9m2 0h6m31 0h10m20 0h12m15 0h9m4 0h9m58 0h3m4 0h8M58 165h2m104 0h6m11 0h4m3 0h6m-1 0h2m12 0h1m58 0h2m110 0h7M156 167h6M181 168h3M30 169h6m103 0h14m0 0h14m1 0h14m2 0h4M6 170h2m101 0h4m9 0h14m24 0h4m17 0h3m0 0h11m-4 0h5m38 0h14m13 0h16m50 0h3M0 171h13m73 0h4m88 0h6m19 0h1m54 0h11m0 0h10M125 172h8m35 0h4m92 0h4M4 173h2m33 0h7m2 0h9m96 0h2M17 174h8m163 0h3M52 175h6m103 0h2m7 0h2m26 0h3M60 176h2m-2 0h7m-2 0h4m168 0h2m89 0h2M183 177h4m70 0h3m2 0h4m9 0h13m81 0h9M311 178h4M107 179h4m66 0h3m4 0h3M9 180h5m75 0h6M16 181h4m42 0h5m6 0h14m0 0h9m0 0h8m98 0h12m76 0h7m0 0h3M184 182h3m1 0h4m2 0h8m0 0h5m61 0h10m0 0h6M144 183h4m40 0h3M0 184h14m0 0h9m5 0h6m24 0h14m37 0h12M93 185h11m24 0h19m15 0h8m9 0h4m-3 0h18m46 0h14M171 186h2M169 188h4m4 0h11m4 0h9M57 189h2m10 0h5m103 0h3m15 0h10m74 0h12m0 0h14m4 0h6m2 0h6m1 0h4m19 0h4M95 190h2m43 0h2m46 0h2m4 0h6m-1 0h3m86 0h2M182 191h5m15 0h4M0 192h14m0 0h7m0 0h13m7 0h15m0 0h15m0 0h14m11 0h3m12 0h10m6 0h19m0 0h5m4 0h4m8 0h5m0 0h18m14 0h1m33 0h9M26 193h2m40 0h4m122 0h3m2 0h2m1 0h2m170 0h11M90 194h13m0 0h9m25 0h4m3 0h8m14 0h6m0 0h6m89 0h15m0 0h2M212 195h7m8 0h6M306 196h4m39 0h4M244 197h3m70 0h13m1 0h10M219 198h6m122 0h13m0 0h11M75 199h2m67 0h2m55 0h4m98 0h2M190 200h7m0 0h3m44 0h4M30 201h14m146 0h4m44 0h2M69 202h10m231 0h5m0 0h6m0 0h15M165 203h2m24 0h2m166 0h2M100 204h14m0 0h11m-5 0h4m6 0h14m0 0h6m-1 0h7m0 0h7m9 0h13m19 0h5m4 0h9m-1 0h12m16 0h19M199 205h4m21 0h4M55 206h4m11 0h3m31 0h6m82 0h2m1 0h10m-9 0h3m7 0h11m3 0h2M194 207h4m56 0h3m45 0h3M159 208h13m-1 0h3m5 0h5m1 0h2m15 0h5m26 0h1M298 210h2M130 211h4M4 212h15m13 0h2m4 0h4m5 0h4m142 0h7m94 0h2M94 213h5m76 0h7m112 0h4m58 0h2M47 214h2m139 0h7m-7 0h9m92 0h3m16 0h9M214 215h4m121 0h4M219 216h2m3 0h5m32 0h4m46 0h5M165 217h2m178 0h5M209 218h4m83 0h5M62 219h2m30 0h2m126 0h8m12 0h6M58 220h4m95 0h4m18 0h3M89 221h10m106 0h4m103 0h2M174 222h10m126 0h4M49 223h6m124 0h4M70 224h3M18 225h4m41 0h6m17 0h12m14 0h11m-1 0h15m20 0h5m16 0h15m49 0h4m16 0h6m103 0h4M160 226h10m16 0h3m1 0h6m16 0h6m140 0h3M189 227h9m142 0h6m-1 0h13m-3 0h4m17 0h3M39 228h7m131 0h2m10 0h6m169 0h3M262 229h4m42 0h3m19 0h2M43 230h14m-1 0h13m7 0h4m79 0h7m35 0h2m45 0h11M188 231h6m-2 0h3m72 0h3M263 232h4m90 0h4M7 233h3m314 0h7m29 0h2M41 234h2m139 0h2m26 0h12m125 0h3M85 235h5m0 0h9m92 0h7M160 236h5m25 0h4m-3 0h2M57 237h5m10 0h8m161 0h3M10 238h3m147 0h14m9 0h6M14 239h2m50 0h6M35 240h5m-4 0h2m3 0h9m0 0h18m0 0h7m15 0h12m5 0h14m11 0h16m68 0h12m11 0h9m30 0h3m42 0h13m-1 0h3m6 0h13M94 241h11m0 0h14m63 0h7m17 0h11m38 0h5M83 242h2m4 0h7m0 0h5m23 0h6m2 0h13m2 0h3m131 0h3M49 243h13m13 0h6m47 0h4m173 0h4M17 244h2m34 0h5m43 0h7m0 0h8m13 0h11m0 0h4m5 0h12m0 0h11m4 0h3m8 0h4m58 0h2m116 0h2M311 245h11M98 246h2m57 0h7M45 247h3m192 0h14m0 0h7m1 0h2M100 248h9m7 0h2M146 249h2m113 0h10m21 0h3"/></defs>
<use href="#D2_3" stroke="#e65440" stroke-width="1.6" stroke-opacity="0.34"/>
<defs><path id="D2_4" d="M138 1h14m184 0h8m0 0h4m0 0h2m34 0h3M182 3h4m152 0h4m8 0h3M1 4h4M60 5h6m10 0h10m106 0h8M93 6h2m201 0h2m1 0h4M27 7h3M329 8h2M99 9h5m12 0h7m72 0h4m-2 0h3m23 0h9m91 0h12m0 0h12m-4 0h4M41 10h2m259 0h2m27 0h12M199 11h3m42 0h2m67 0h8m63 0h3M21 12h12m166 0h7m124 0h3M75 13h11m1 0h8m90 0h6M124 14h9m0 0h5m134 0h9M46 16h8m204 0h9m0 0h5M275 17h2M179 18h7m8 0h1M35 20h6m16 0h4m22 0h3m65 0h3m201 0h2M7 21h5m19 0h10M172 22h9M199 24h4M196 25h9m59 0h8M167 26h1M108 27h9m64 0h3m5 0h3m61 0h2m12 0h2M0 28h5M182 29h4M343 30h6m3 0h8m0 0h10M295 31h2m22 0h12M29 32h8m0 0h2m13 0h11m7 0h10m15 0h14m-1 0h12m0 0h4m19 0h4m28 0h5m30 0h8m0 0h17m-8 0h4M141 33h2m39 0h6m0 0h5M163 34h3m14 0h3M191 35h4m0 0h3m110 0h11m-3 0h2M176 36h10m7 0h7m108 0h4M18 37h11m2 0h9M93 38h3m63 0h4M120 39h18m18 0h15m32 0h12m2 0h13m31 0h13m28 0h16M154 40h5M291 41h2M17 43h3M62 44h3m26 0h4m134 0h15m0 0h3M97 46h13m3 0h12m3 0h14M170 47h9M210 48h4m26 0h8m67 0h2m57 0h11M119 49h4m0 0h5m30 0h4m105 0h5m0 0h3M197 50h2M130 51h4m55 0h12m13 0h17m2 0h20m70 0h9M32 52h3m25 0h4m86 0h5m29 0h4m82 0h16m4 0h4M6 53h4m80 0h15m0 0h6m207 0h6m-2 0h3M129 54h4m29 0h7m7 0h3m5 0h3m12 0h5M142 55h2M114 56h8m130 0h3M95 58h2M97 59h4M228 60h2M367 61h4M271 62h7M180 63h2m68 0h2m30 0h11m3 0h8m60 0h3M148 64h4m42 0h10m0 0h6M139 65h2m75 0h6M161 66h4M279 67h3M34 68h16m-3 0h3m131 0h8m51 0h9m0 0h14M189 69h2m66 0h2M96 70h15m48 0h8m74 0h15m0 0h8m3 0h9m53 0h14M60 71h16m0 0h12M53 73h5m84 0h5m45 0h9M4 74h2m67 0h8m47 0h3M236 75h4m63 0h3M228 76h2M233 77h9m13 0h6M116 78h4m112 0h4M77 79h13m-1 0h13m105 0h6M111 80h5m67 0h8m1 0h5M60 81h3m64 0h2M242 83h14m17 0h5M5 84h6m76 0h5m23 0h6m170 0h13m-1 0h8M25 85h7m0 0h9M177 86h8m0 0h5m0 0h3m0 0h3m1 0h1M59 87h4m120 0h8m70 0h2M37 89h5M354 91h2M111 92h6m14 0h2m52 0h5m46 0h13m11 0h3M289 94h7m0 0h10M287 95h15m-1 0h10m1 0h5M206 96h3m80 0h8m-1 0h11m10 0h11M79 97h15m218 0h8m16 0h3m20 0h6M83 98h6m0 0h5m112 0h3m-2 0h2M188 99h3m33 0h13M150 100h18m2 0h4m0 0h13m3 0h14m4 0h12m20 0h5m0 0h11m0 0h10m4 0h6M205 101h3m78 0h6m41 0h3M142 102h3M55 103h15m33 0h5m-1 0h10m1 0h4m-4 0h9m5 0h13m3 0h11m0 0h6m122 0h12m34 0h8M27 104h2m90 0h6m9 0h2m9 0h7m-1 0h11m0 0h5m104 0h6m16 0h12M54 105h14m103 0h2M143 106h9m3 0h1M89 107h6m261 0h4M24 108h9m101 0h8m10 0h4M113 109h4M45 110h3M9 111h12m35 0h3m16 0h10m-1 0h5m0 0h6m60 0h7m0 0h8m0 0h9M10 112h4m13 0h3m136 0h2m48 0h4M6 113h4m223 0h14m5 0h14m31 0h13m4 0h4m0 0h5m0 0h8m2 0h6m4 0h9m0 0h5m0 0h8m0 0h9M36 114h10m0 0h2m334 0h3M112 116h2m88 0h4M92 117h5m74 0h2m84 0h4M41 118h2m32 0h4m169 0h2M16 120h6m160 0h6m22 0h3m106 0h2m57 0h4m0 0h2M18 121h4m310 0h9m0 0h5m2 0h6M93 122h2m125 0h9m0 0h9M203 123h2m131 0h2M154 124h10m10 0h2m122 0h6M141 125h4m49 0h6m0 0h1m22 0h6m1 0h8m0 0h8M364 126h2M375 127h3M142 129h3m41 0h2M157 130h7m0 0h4m16 0h8m139 0h2m12 0h2M75 131h15m128 0h4m18 0h8m15 0h4M1 132h2m97 0h3m16 0h8m26 0h5m91 0h8m3 0h10M125 134h7m4 0h9m9 0h4m100 0h4M0 135h3m181 0h2M66 136h14m28 0h2m83 0h10m40 0h9m14 0h6m20 0h9m13 0h7m-3 0h9m-6 0h19m4 0h5M266 137h6M112 138h4m24 0h4m203 0h5m0 0h4M112 139h3M105 140h3m47 0h7m161 0h2M0 141h11m23 0h10m164 0h4m133 0h3M78 142h2m191 0h4M189 143h4M130 144h13m4 0h5m40 0h6m-1 0h3M7 145h2m146 0h7m117 0h14m0 0h9M299 146h4M348 147h2M233 148h9M256 149h12m5 0h13m3 0h2m54 0h10M198 152h6m84 0h9m0 0h4m5 0h6m0 0h7m7 0h6m0 0h4m1 0h3m-1 0h1M75 153h7m2 0h8m15 0h8m134 0h10M176 154h2m4 0h8M144 155h6m61 0h3M0 156h2M195 157h2m62 0h10m-4 0h2m9 0h14m-1 0h1M97 158h6m39 0h2m53 0h4m-3 0h2m177 0h3M259 160h2M27 161h3m344 0h4m2 0h4M200 162h3m129 0h10M94 163h14m68 0h8m3 0h8M85 164h2M34 165h4m116 0h6M70 166h6M151 167h6m117 0h2m5 0h3M160 168h16M39 169h11M108 170h14m73 0h5m79 0h6M13 171h13m145 0h8m70 0h7m22 0h16m0 0h15m0 0h5M115 172h8M15 173h11m-1 0h6m0 0h7m20 0h13M0 174h5M130 175h12M44 176h9m0 0h6m144 0h2M29 177h3m79 0h2m33 0h10m0 0h13m0 0h15m5 0h6m3 0h14m2 0h13m1 0h8M117 178h3m5 0h2m86 0h6M275 179h10m2 0h9m0 0h3m15 0h4M67 181h6m61 0h2m68 0h2m34 0h2M207 182h16m4 0h11m0 0h6m0 0h11m4 0h9M192 183h14m44 0h6m42 0h4M0 184h4m33 0h15m1 0h5m14 0h2M146 185h10m5 0h20m4 0h5m-1 0h5m5 0h8m1 0h15m4 0h7m4 0h6M264 186h8m12 0h2M147 187h4M298 188h4M36 189h14m12 0h2m-2 0h3M322 190h8m0 0h12M150 191h12m0 0h16m0 0h4m8 0h6M98 192h13m65 0h3m6 0h8m-3 0h17m21 0h9m-4 0h10m4 0h20m0 0h19m0 0h11M90 193h4M116 194h11m0 0h10m15 0h15m2 0h3m86 0h3M219 195h5m77 0h2m49 0h4M0 196h7m3 0h4m62 0h8M184 197h4M189 198h3M45 199h4m202 0h4M252 201h2m72 0h4m0 0h6M0 202h7m0 0h9m64 0h7m63 0h2m127 0h12m0 0h13m0 0h6m26 0h8m0 0h12M349 203h10M168 204h4M281 205h4m0 0h6M186 206h9m37 0h13M16 207h4m290 0h4m42 0h9m0 0h3M201 208h4m18 0h9M64 209h4m154 0h9m17 0h7M182 210h3M139 211h2m156 0h4M82 212h4m114 0h2M83 213h11m249 0h3M197 214h3m54 0h2m0 0h4M213 215h3M30 216h4m8 0h5m0 0h11m174 0h2m16 0h11m29 0h8m0 0h14M58 217h11M182 219h16m34 0h4m80 0h6M97 220h3m136 0h7m0 0h13M98 221h7m0 0h9M283 223h8m-1 0h4m23 0h9M109 224h5m13 0h4m39 0h2m197 0h6M200 225h4m64 0h4M115 227h6m-1 0h5m3 0h12m2 0h6m0 0h10m-6 0h15m-9 0h5m2 0h16m-14 0h6m0 0h15m-3 0h4m1 0h17m3 0h17m0 0h15m0 0h19m3 0h14m0 0h8m4 0h11m-1 0h10m0 0h12m0 0h13M0 228h6m0 0h6m1 0h7m8 0h11m142 0h5m182 0h10m2 0h2M60 229h4m303 0h6M147 230h2m16 0h3m71 0h5m0 0h4M354 231h4M74 232h12m140 0h4m50 0h2M43 233h15m3 0h6m75 0h2m89 0h3m78 0h10M184 234h3M139 235h7m1 0h10m0 0h7M105 236h3m120 0h6M150 237h3m182 0h4M229 239h4M27 240h2M64 241h8m121 0h11M189 242h10m-6 0h4m40 0h14m-1 0h6M35 243h10m147 0h3m25 0h3m34 0h4m2 0h8m5 0h3m13 0h3M172 244h15m7 0h4M201 245h10m48 0h3M125 246h4m39 0h5M296 247h4m31 0h4M0 248h6m0 0h4m103 0h10m211 0h4m5 0h7m4 0h5m-1 0h10M133 249h12m62 0h3m98 0h2"/></defs>
<use href="#D2_4" stroke="#e65440" stroke-width="1.6" stroke-opacity="0.34"/>
<use href="#D2_1" stroke="#f4a38b" stroke-width="0.75"/>
<use href="#D2_2" stroke="#dd4c36" stroke-width="0.75"/>
<use href="#D2_3" stroke="#9c1719" stroke-width="0.75"/>
<use href="#D2_4" stroke="#5a0a0c" stroke-width="0.75"/>
</g></g></g>
<g transform="translate(589.4 2139.6)">
<rect width="193.1" height="354.5" fill="#fdede6"/>
<rect x="83" width="27" height="354.5" fill="url(#band)" opacity="0.1"/>
<g filter="url(#soft)"><g transform="scale(0.5 1.4180) translate(0 0.5)" fill="none">
<path d="M15 0h6m221 0h144m-141 0h87m-6 0h3M2 1h25m150 0h78m16 0h26m19 0h70M58 2h143m87 0h66M37 4h24m82 0h130m6 0h49m-47 0h50M0 6h102m159 0h125M111 7h220M0 9h115m4 0h37M166 10h106M72 11h28m137 0h132M135 12h30m65 0h15m49 0h20M59 13h215m-119 0h54m128 0h50M107 14h55m13 0h106m14 0h16M0 15h108m-108 0h272M66 17h6m68 0h7m142 0h97M41 18h80M33 19h33m69 0h58m23 0h69M82 20h64M2 21h88m-66 0h183m17 0h8M147 22h22M0 24h75m187 0h24m-24 0h125M0 26h68m-54 0h268m-81 0h49m91 0h45M46 27h3m189 0h94M45 28h75m32 0h156m45 0h34M209 29h89m-71 0h159m-147 0h147m-144 0h120M33 30h193m-132 0h97m-20 0h119m9 0h11m39 0h35M147 31h7m94 0h64M128 32h3M97 33h129m-127 0h287M151 34h41M55 36h88m12 0h7m102 0h36M49 37h19M130 38h4M28 39h76M0 40h109m-52 0h24m149 0h55M78 41h70M101 42h85m-67 0h144M15 43h4m173 0h80M0 45h141m-137 0h145m-94 0h7m138 0h125M97 46h161M173 47h7m177 0h15M207 48h168m-55 0h6M111 49h9m16 0h8m47 0h10M62 50h111m-97 0h129m26 0h74M64 51h244M150 52h155M91 53h12M177 54h132M6 55h178m-100 0h5m146 0h12M39 56h225m-7 0h42m21 0h66M271 57h15M325 58h61M42 59h69m-54 0h62m137 0h42m-18 0h50M0 60h241m-240 0h14m277 0h53M7 61h4m64 0h6M47 62h142m-21 0h81M96 63h83m-10 0h116m-77 0h103M0 64h273m-221 0h49M0 66h143m139 0h104M195 67h64m17 0h43M263 68h25m-20 0h118M9 69h198m-172 0h30m70 0h96m-18 0h130M236 70h49m-49 0h55m84 0h10M41 71h345m-265 0h102m129 0h11M42 72h96m-49 0h237m-49 0h59M127 73h259m-222 0h34m-29 0h22m81 0h37M190 74h25m28 0h54m-26 0h54M0 75h160m129 0h97M131 76h230m-209 0h30m55 0h15m124 0h9M6 77h77m-10 0h122M0 78h73m-14 0h48m-25 0h246m-117 0h18M303 79h35M83 80h3m78 0h53M225 81h25M268 82h20m5 0h66M91 83h18M168 84h23M0 85h66M26 86h114m76 0h111M155 88h44m84 0h64M142 90h10M243 91h45m13 0h73M298 94h5m36 0h25m14 0h5M199 95h89m-76 0h174M23 96h57M159 97h11M173 98h63m-4 0h8m54 0h57M5 99h39m32 0h143m14 0h50m37 0h66M316 100h70M56 101h83m151 0h20m37 0h35M93 102h73M67 103h5m210 0h104M12 104h9M84 105h63M0 106h386m-356 0h22m58 0h127m13 0h36M31 107h8m83 0h63M0 109h60m1 0h190m117 0h18M154 110h233m-71 0h16M91 111h176m16 0h54M363 113h4M0 114h41m-11 0h13m31 0h53m83 0h94m-53 0h112M11 115h82m172 0h47m16 0h30M84 116h257m-31 0h76M23 117h15m175 0h36M218 118h15m49 0h5M202 119h160M37 120h6m59 0h207m-82 0h105M170 121h81M106 122h142m-33 0h21M104 124h74m-37 0h11m94 0h17M94 125h39M34 126h76m-70 0h58m110 0h9m16 0h82M0 127h48M5 129h189m61 0h131m-130 0h20m-4 0h29M0 130h236m-217 0h126M36 131h35m104 0h60m-45 0h63m82 0h36M32 132h47m6 0h116M0 133h107m97 0h36m6 0h4m11 0h57m-52 0h120M26 134h219m-206 0h55m128 0h67m-21 0h101M361 135h25M343 137h43m-18 0h6M51 138h90m-82 0h95M0 139h136M0 140h313m-34 0h107M0 141h60m30 0h139M44 142h138m-132 0h30m4 0h3m220 0h79M70 143h79m59 0h10M20 144h12m280 0h74M0 145h36m-8 0h43M33 146h68m-20 0h89m-50 0h32m63 0h11m29 0h33M0 147h127m-125 0h76m129 0h83M85 148h200m-172 0h141m15 0h34M0 149h223M75 150h144m-81 0h123M12 151h82m100 0h15m120 0h57m-35 0h30M123 153h93m41 0h13M23 154h29m-23 0h19m57 0h6m76 0h123M122 155h53m6 0h33m-22 0h22m59 0h114M0 157h297m-289 0h82m89 0h12M16 158h28m25 0h222m-204 0h221m-24 0h102M0 160h102m-14 0h105m-24 0h218M216 161h11m8 0h26m33 0h7m68 0h18M255 163h95m-83 0h94m-11 0h36M121 164h83m-9 0h28M0 166h15m47 0h60m-38 0h128m-124 0h46m41 0h13M180 167h70M0 168h276m-73 0h97m21 0h65M0 169h89m-89 0h105m14 0h105m32 0h130M0 170h43m3 0h36m50 0h11m122 0h27M167 171h12m133 0h74m-29 0h9M0 172h28m61 0h209m71 0h13M26 173h41m-5 0h158m-52 0h214m-146 0h150m-64 0h15M369 174h6M201 175h183m-152 0h92m22 0h11M113 176h153M0 178h147m-147 0h183m-149 0h58m4 0h276m-238 0h150m-146 0h90m41 0h84m-74 0h2M155 180h90M138 181h13M321 182h23M0 183h169m185 0h32M0 184h299m-208 0h16m93 0h9M37 185h121m103 0h16M172 186h95m45 0h74M152 188h69M4 189h123m153 0h12M153 191h76m55 0h53M0 192h88m2 0h34m40 0h14M184 193h169m-98 0h20M268 194h75M0 195h139m117 0h14M0 196h126m231 0h28M0 197h66M0 198h193m-117 0h62m130 0h57M0 200h70m59 0h257m-207 0h207m-169 0h73m-42 0h41m-34 0h131m-103 0h75m-50 0h66M362 202h20M0 203h154M50 204h130m-101 0h135M366 205h20M80 206h30m94 0h42M157 207h22m-7 0h10M94 208h154m-37 0h25m-4 0h154m-148 0h98m-58 0h62m-14 0h24M41 209h113m-84 0h86m-58 0h174m-5 0h3M140 210h12m144 0h50M33 212h40m11 0h174m100 0h28M0 213h97m13 0h2M0 214h42m-42 0h361m-343 0h227M75 215h138m-102 0h161m56 0h22M72 216h32m38 0h71m54 0h11M57 217h115m-94 0h107M296 218h6m50 0h8M302 219h19M21 220h107m-31 0h97M150 221h6m111 0h114m-45 0h51M153 222h31M91 224h56m140 0h63M94 225h196m-148 0h41m82 0h35m54 0h32M221 226h63m37 0h63M219 227h14m79 0h27M16 228h89m196 0h33M148 229h179m-120 0h21M189 230h65M102 231h11M311 232h29M95 233h36M258 234h108M264 236h123m-83 0h82M109 237h5m53 0h114M234 238h18m19 0h55m27 0h11M179 239h207M92 240h30m145 0h119m-89 0h49M171 242h63m-59 0h73m6 0h8m43 0h81M83 243h67M0 244h298m-8 0h97M97 246h43m83 0h106M0 247h2m-2 0h79m112 0h26m11 0h50M169 248h43m100 0h4M0 249h181m46 0h3m48 0h108" stroke="#fbe2d8" stroke-width="1.3"/>
<defs><path id="D3_1" d="M122 0h12M81 3h14m0 0h11m60 0h8m24 0h14m0 0h18M66 6h2m2 0h18m0 0h18m0 0h4M194 7h12m10 0h8M196 9h1M196 10h10M228 12h8m131 0h12M188 15h6M94 16h2m52 0h22m0 0h10M168 17h8M195 18h2M156 19h10M296 21h18M186 22h7m-5 0h14m-6 0h3m145 0h4M302 23h22m21 0h7M102 24h9m0 0h9M326 25h14m0 0h2M0 28h4m121 0h11m1 0h15m30 0h2m70 0h6M186 29h4m0 0h4m70 0h24m0 0h13m-1 0h6M140 31h21m1 0h9M180 32h5m0 0h6M105 35h13m0 0h22m16 0h22m0 0h16M194 36h4m0 0h1m13 0h6m52 0h12m0 0h14m40 0h14m0 0h8M214 37h6m4 0h18M258 38h2M144 42h14m1 0h10M52 43h15M185 47h6M69 49h5M190 50h7m2 0h5m76 0h9m0 0h11M188 51h10m0 0h3m0 0h4m0 0h1M168 52h12M232 59h12M46 60h10m2 0h6m202 0h10m10 0h12m70 0h2M250 62h12M360 65h15m4 0h5M104 67h8m1 0h17m0 0h14m18 0h2M86 70h8m36 0h9m0 0h9m0 0h16m-1 0h14m0 0h13m1 0h11M162 73h6m34 0h17m0 0h11m2 0h9M0 74h10m112 0h4M0 75h10M166 76h2M88 79h4m92 0h4m2 0h6m2 0h1M4 81h22m0 0h16m164 0h3M60 83h15m0 0h23m0 0h20m0 0h2M104 84h14M228 85h12m21 0h17m0 0h11M44 86h6M190 92h6m0 0h2m8 0h14M274 93h12M180 94h3m0 0h6m-1 0h4m148 0h16m0 0h4M312 96h23m0 0h15m0 0h4M240 97h2M220 98h23M187 99h5m0 0h3m0 0h1M72 101h20m32 0h16m0 0h12M174 102h16M186 103h8m1 0h3M12 105h19m1 0h17M0 107h10m0 0h4m174 0h14m0 0h2m14 0h10m0 0h12m0 0h22m0 0h6M78 108h10m224 0h4M16 109h4M70 110h6M62 111h9m12 0h3m52 0h8M100 114h19m0 0h20m0 0h16m1 0h12M140 115h10m4 0h16m84 0h14m62 0h20M0 118h15m0 0h9m2 0h11m0 0h19m50 0h19m22 0h21m20 0h8m64 0h9m0 0h8m0 0h7M290 120h12m48 0h8m14 0h8M174 121h2m6 0h6M120 122h6M271 123h11m1 0h4m23 0h6M154 126h8M0 127h4m192 0h10M208 128h14M10 131h18m0 0h22m0 0h10M58 132h6m278 0h14m0 0h13m1 0h17M142 133h19m13 0h2M144 134h18m0 0h16M228 135h14M290 138h21m0 0h11M0 139h22m0 0h2M17 140h4M146 141h18M27 145h13M185 146h6M254 148h19m0 0h20m0 0h18m-1 0h6M94 149h6m36 0h22m1 0h13m0 0h2m100 0h8m0 0h12m27 0h9M62 151h11m35 0h2m90 0h6m12 0h12m0 0h13M199 152h3m-2 0h10M334 153h10M174 157h8M24 158h2M191 160h8M104 162h11M26 163h10m34 0h18m124 0h14m58 0h12m9 0h13M258 164h2m112 0h14M102 166h10m200 0h4M54 168h19m0 0h21m0 0h16M26 169h12M208 171h13m0 0h10m0 0h10m0 0h7M26 172h16M150 173h14m25 0h6M204 174h10M134 177h13m0 0h21m48 0h11m0 0h14m7 0h6m74 0h10m0 0h4M193 179h4M60 181h10m226 0h10M120 183h9m129 0h6M165 187h17m143 0h13M20 188h16m0 0h21m-1 0h8m8 0h13m37 0h12m0 0h8M13 189h17m0 0h10m0 0h4M185 191h5M154 193h11M188 194h9m0 0h6m161 0h11M104 196h14M308 198h11m0 0h8m1 0h18m0 0h12M38 203h16M58 205h8M116 207h12m10 0h23m1 0h16m-1 0h11m0 0h4M18 208h10m138 0h10M11 209h22m57 0h2m80 0h10m18 0h14m0 0h17m1 0h23m-1 0h15m2 0h18m0 0h9m77 0h10m-1 0h2M12 210h19m155 0h12m84 0h9m0 0h9m0 0h23m14 0h19m0 0h18m0 0h12M6 212h10M122 215h18m0 0h9m31 0h6m0 0h4m-1 0h3m1 0h5m0 0h1M193 216h8m3 0h2M115 217h21m2 0h11m1 0h15M150 222h2M258 223h21m11 0h12M189 225h7m1 0h2M42 226h12m42 0h21m70 0h7m0 0h2m20 0h6M98 227h21m43 0h19m-1 0h19m0 0h12m1 0h11m-1 0h3m119 0h8m0 0h12M360 228h14M66 229h10m126 0h10m0 0h10m0 0h16m110 0h4M84 230h19M188 231h9M382 234h4M94 235h12m0 0h16m11 0h16m0 0h7M62 237h12m11 0h22m2 0h3m80 0h8m0 0h2M26 244h6M72 245h2m160 0h6m100 0h23M54 246h2m137 0h5M10 247h8m84 0h4m72 0h4M178 248h22m0 0h18M172 249h4m66 0h8m4 0h10"/></defs>
<defs><path id="D3_2" d="M198 1h5m0 0h9m-1 0h1M72 3h9m25 0h14m26 0h18m28 0h8m1 0h3m66 0h12m0 0h6M258 4h2M26 5h17m0 0h21M10 7h20m177 0h9m160 0h10M189 9h6M150 10h21m4 0h19M146 12h22m186 0h13M146 15h23m0 0h15m0 0h4m116 0h10m4 0h19m0 0h7M190 18h4M184 21h4M324 23h21M195 25h6M204 27h18M194 29h6M122 32h12M140 35h5m41 0h5M4 36h2M185 37h9m48 0h20m4 0h19m0 0h13m64 0h10M248 38h10m117 0h10M0 42h16M67 43h20M262 44h4m46 0h10M181 47h3m8 0h7M192 49h19M186 50h4M320 52h4M4 53h2m128 0h22m18 0h13m1 0h10m-1 0h22m1 0h13m-1 0h11M136 57h10m4 0h8m14 0h8M113 60h3m70 0h9M122 61h21m0 0h7M179 62h5m0 0h2M348 65h10M122 66h2M146 67h16m126 0h10M370 71h6M114 73h6M184 75h10M98 77h8M193 81h6m1 0h6M262 84h21M289 85h10m0 0h9M188 86h5M342 87h8m14 0h18m0 0h4M58 92h15m0 0h7m118 0h4m70 0h12M203 93h12M100 94h21m71 0h6M114 99h10m0 0h12M95 101h17m0 0h12M96 105h12M144 108h8M156 110h12m14 0h20M20 111h4m47 0h12m43 0h12m44 0h10m56 0h23M181 112h8M82 115h12M354 118h22M66 119h14m90 0h10M358 120h12M32 121h21m275 0h17m15 0h10m0 0h11M188 122h9M0 123h2m356 0h6m-4 0h6M22 125h11m0 0h9M206 127h8M134 129h4M196 130h14m134 0h10M161 133h12M256 134h10M0 140h17M12 141h8m146 0h8M6 145h19M182 146h3m59 0h8m0 0h20m0 0h16m20 0h8M52 148h13m0 0h18m151 0h11m0 0h9M312 149h9M80 150h6m110 0h18M73 151h3m167 0h3M158 152h18m0 0h24m-14 0h6m2 0h3M52 154h4M18 157h2M180 160h11m8 0h16m3 0h13M115 162h7M296 163h8M278 168h14M72 170h22m0 0h13M84 171h24m0 0h10m78 0h12m160 0h18M162 172h4M168 173h13m0 0h10m-1 0h2m50 0h8M56 178h10M186 179h8M183 181h8m0 0h2m65 0h8m40 0h4M90 183h10m29 0h10m0 0h2M154 187h11m69 0h21m53 0h17m14 0h8M160 188h24M0 189h13M317 190h8m1 0h20M190 191h3M139 193h1m25 0h7M375 194h9M102 195h12M210 200h12m150 0h14M262 203h24M190 205h5M245 206h20M104 207h6m100 0h10M0 209h11m89 0h23m231 0h12m0 0h9M110 210h2m211 0h13M166 213h4M149 215h9M384 216h2M104 217h11M163 221h5M279 223h11M103 224h17m1 0h20M57 226h10m1 0h2m88 0h12M248 227h6M103 228h5M103 230h5m184 0h4M148 231h16m20 0h4m9 0h2M62 232h14M148 233h16m118 0h12m0 0h2M122 235h9M172 236h2M74 237h11m33 0h10M375 239h3M170 242h14m0 0h2M363 245h5M64 248h8m0 0h16m10 0h4"/></defs>
<use href="#D3_2" stroke="#e65440" stroke-width="1.6" stroke-opacity="0.34"/>
<defs><path id="D3_3" d="M224 0h12M336 2h18m0 0h6M204 4h2M22 6h14M168 8h20M100 10h6M378 12h8M234 13h18m76 0h22m0 0h15M169 18h7m72 0h16M200 20h23m9 0h10M376 21h8M38 24h14M354 25h14M196 26h9M0 27h4m118 0h13m61 0h8m20 0h8m42 0h10M189 28h4M256 30h14M72 32h18M106 34h23M179 35h7m5 0h6M187 36h7m122 0h2M146 37h4m43 0h3m156 0h10M192 38h4m152 0h13m0 0h14M190 48h4M26 49h12m0 0h9m0 0h13m0 0h10M158 53h16m69 0h13M42 58h11m0 0h21m0 0h8m11 0h20m-1 0h14M104 60h9m82 0h7M102 63h10M204 64h4M170 65h2M179 68h4m3 0h9m0 0h2M14 69h10m246 0h10M78 72h18m212 0h2M0 73h6m172 0h10m70 0h18m1 0h2M180 74h12M283 84h17M190 85h22m0 0h8m0 0h2m50 0h13m0 0h9M150 86h4m30 0h15m-6 0h5m60 0h14m4 0h6M128 87h14m214 0h8M285 93h3M34 94h9m78 0h16m0 0h5m12 0h4M316 98h4M150 100h6M108 105h11M18 107h2M0 108h15m0 0h3m186 0h2M108 110h16m44 0h10m197 0h11M119 111h3m36 0h22m36 0h13m74 0h5M189 112h6m0 0h1m56 0h9M231 116h9M222 117h14M72 118h10m44 0h22m20 0h8m158 0h20M67 120h12m89 0h8M0 121h21m36 0h13m0 0h9m-1 0h18m249 0h14m5 0h8m9 0h5M28 122h2m167 0h4m82 0h3m14 0h16m0 0h6m38 0h6M4 125h18m154 0h22m0 0h2M188 129h6M198 135h3M0 141h12M346 142h8M216 145h12M230 146h14m44 0h20M84 148h12M70 149h15M374 153h12M174 154h22m-14 0h4m90 0h17M0 155h14M264 156h8M189 157h10m0 0h1m36 0h6m138 0h6M383 160h3M58 163h12M84 164h6m132 0h18M190 169h4m6 0h5M14 170h10M195 173h5M195 176h8m0 0h2M44 177h4m22 0h4m36 0h4m76 0h16M16 178h10m50 0h10m105 0h6M104 183h16M76 184h12M85 188h15m0 0h22m70 0h15m127 0h14M298 190h18M50 191h4m174 0h6M136 192h18m0 0h20m4 0h2M130 193h9m234 0h9M104 197h12m238 0h10m-6 0h16M10 200h19m0 0h15M286 203h10m62 0h12m0 0h12m-1 0h5M195 205h3m1 0h1M174 206h20m0 0h6m12 0h19m34 0h7M278 207h4M198 208h22M29 211h5m169 0h7M187 212h5M24 216h10M194 218h4M138 221h9m0 0h16M90 224h13m38 0h7M117 226h3m55 0h18m0 0h24m21 0h6M237 227h6m75 0h7M240 229h9m0 0h11M159 230h7M165 231h4m91 0h9M178 239h14m146 0h21m0 0h12M14 243h14M90 244h10m22 0h20M64 247h8m206 0h2m96 0h10"/></defs>
<use href="#D3_3" stroke="#e65440" stroke-width="1.6" stroke-opacity="0.34"/>
<defs><path id="D3_4" d="M210 0h14m12 0h9M0 6h22M228 7h6M188 8h12M0 10h2M371 13h16M330 17h21m4 0h9M188 18h16m82 0h12M120 20h19m0 0h11m73 0h5M186 26h9M138 27h12M193 28h7M224 32h20M302 33h21m0 0h8m5 0h19m0 0h18m0 0h13M129 34h23M88 35h12m228 0h12M136 36h14M196 37h7M182 38h5m0 0h5m4 0h1M190 40h9M192 41h14M42 43h2M300 44h6M298 46h24m0 0h9m0 0h13M195 48h9m0 0h1M320 49h18M104 53h4M278 56h2M192 57h18m0 0h21m1 0h10M82 58h10M94 59h2M216 60h12m86 0h22m0 0h10M98 61h6M246 63h16m0 0h13m0 0h17M196 65h4m84 0h4M344 70h4M158 74h4M78 77h18M101 78h8M120 80h13m0 0h21m0 0h19m0 0h15m160 0h13m0 0h15M150 81h16m0 0h4M192 82h4M300 84h10M144 85h8m1 0h10M184 86h4m11 0h12m1 0h10m50 0h2m108 0h4M224 90h9M262 93h8m6 0h9M43 94h5m38 0h14M96 96h10m44 0h16M342 108h14m0 0h13M360 110h15M96 111h23m83 0h14m13 0h9m33 0h3m14 0h15m15 0h2m50 0h11m0 0h5M54 112h10m0 0h6m170 0h10M376 113h10M212 116h19M236 117h22m1 0h8M21 121h12m36 0h13m267 0h15m8 0h8M270 122h13M121 123h5M342 124h8m0 0h11m1 0h22m-1 0h3M0 126h11m35 0h12M44 127h6m40 0h10M274 131h22M190 135h3m0 0h5M288 140h10M30 141h8M292 142h21m0 0h16m-1 0h6M187 145h7m1 0h1M192 146h12M96 148h12M56 149h13m15 0h6M188 150h5m0 0h5m0 0h8M0 151h12m0 0h9m149 0h18M360 153h14M186 154h6m-1 0h5m99 0h7M246 155h14M6 157h2M308 160h12m0 0h23m1 0h17m0 0h13m0 0h9M102 163h17m4 0h12m29 0h18m0 0h8M12 164h16M194 169h4m-4 0h14m150 0h10M189 176h6m53 0h8M356 177h6M0 178h16m162 0h10m-7 0h9M0 182h4m53 0h10m169 0h6M2 183h4m216 0h4m4 0h8M58 184h18M255 187h18m-1 0h12M184 188h8M262 190h10m0 0h4M160 191h24m0 0h15m0 0h14m0 0h15M364 193h9M124 195h2m202 0h2M162 196h9m173 0h21m0 0h15m0 0h6M342 197h13M45 200h5m146 0h12m68 0h10M231 206h14M162 209h6M98 210h10M8 211h21m164 0h8M264 213h12M260 214h4M232 216h10m18 0h12M316 217h2M172 218h6m6 0h9M50 220h11m0 0h3M318 226h8M183 227h7m1 0h4m1 0h4m66 0h9m0 0h14m0 0h13M80 228h23M142 229h11m0 0h15m27 0h8M148 230h11m157 0h20m20 0h10M242 231h12m0 0h2m13 0h1M76 232h20m8 0h8m2 0h10M0 238h2m10 0h2M146 239h23m0 0h9"/></defs>
<use href="#D3_4" stroke="#e65440" stroke-width="1.6" stroke-opacity="0.34"/>
<use href="#D3_1" stroke="#f4a38b" stroke-width="0.75"/>
<use href="#D3_2" stroke="#dd4c36" stroke-width="0.75"/>
<use href="#D3_3" stroke="#9c1719" stroke-width="0.75"/>
<use href="#D3_4" stroke="#5a0a0c" stroke-width="0.75"/>
</g></g></g>
<g transform="translate(839.2 2138.4)">
<rect width="193.3" height="355.7" fill="#fef6f2"/>
<g filter="url(#soft2)"><g transform="scale(0.5 1.4228) translate(0 0.5)" stroke-width="1.05" fill="none">
<path d="M41 0h5m147 0h12M51 1h3m0 0h17m123 0h9M109 3h26m26 0h2m0 0h14m15 0h9m90 0h6M124 5h112M180 6h17m170 0h4M164 7h2M189 8h5m-4 0h12m102 0h33m5 0h21m3 0h2M194 9h8m75 0h6M194 10h7M98 11h2m2 0h22M102 12h18m70 0h4m40 0h6M99 13h30m3 0h7m49 0h18m95 0h14M184 14h12M188 15h9M0 17h2m2 0h4m3 0h53m-1 0h29m177 0h78M176 18h4m4 0h24M174 19h34m-24 0h13m79 0h4M178 20h18M385 21h2M192 26h6m2 0h44M183 28h13m-2 0h44M100 30h11m5 0h2m238 0h31M185 31h15M6 32h5M68 33h25m2 0h17m77 0h11M33 34h2m0 0h5m13 0h5m121 0h14m-8 0h16m120 0h32m27 0h3M123 35h6m55 0h16m64 0h64M185 37h19M186 38h17M192 39h6M189 40h17M0 42h54m2 0h2m128 0h12M76 44h50m0 0h8m106 0h3M174 45h3M135 46h3m233 0h6M186 47h12M189 49h8M186 50h13M165 51h10m4 0h26m-20 0h19M183 52h19m121 0h25m3 0h35M242 53h3m110 0h6M194 54h8M109 55h56m166 0h9m3 0h14M185 56h16M183 57h16M35 58h5M51 59h3M127 60h42m142 0h3m3 0h2M182 64h18M133 65h5M39 66h22m238 0h10m2 0h6m3 0h29M131 70h5m4 0h45m3 0h17m-14 0h8M191 71h6M268 72h44M165 74h47m3 0h35m2 0h2M168 77h17m3 0h14M74 78h34m2 0h2M184 80h19M228 81h44m2 0h7m2 0h11m3 0h2m2 0h67M155 82h52m14 0h6M81 84h28m138 0h10M137 85h4M14 86h30m56 0h26m10 0h2m0 0h3m61 0h6m158 0h21M141 87h4m16 0h2M207 90h23m0 0h9m4 0h32M303 92h3M180 94h13m123 0h6M195 95h2m124 0h2M92 96h3m91 0h17M43 97h52m2 0h30m-25 0h2m89 0h20m2 0h10m12 0h26M226 100h6M58 102h3M204 103h14M180 104h17M210 105h4M210 106h5m125 0h4M184 107h12M182 108h15M48 110h7m3 0h10m300 0h4M0 111h11m2 0h24m3 0h22m121 0h16M206 112h21m5 0h12M0 113h2m196 0h14M199 115h20M17 116h4m244 0h16m68 0h10M53 118h6M0 119h28m0 0h2m2 0h14m-10 0h4m5 0h37m3 0h17m83 0h11M188 122h7M185 123h18m-9 0h20M184 126h17M54 128h2m5 0h29m0 0h18M0 129h15M279 130h2m4 0h9M0 131h21m160 0h17m48 0h3M97 132h2M100 133h2M185 135h14M0 136h2m3 0h109m71 0h18M186 137h7M188 138h11m-5 0h16M185 140h13M61 141h15m1 0h11M176 142h5m143 0h9m3 0h44M183 143h18m1 0h6M189 145h6M43 146h64m148 0h4M185 147h17M191 148h10m80 0h18M188 150h18M277 151h4M179 153h17m22 0h12M0 154h4m5 0h29m3 0h43m101 0h17M272 155h2M133 156h73m4 0h8m103 0h58M164 157h3m2 0h3M10 158h26m84 0h37m4 0h17m12 0h10m8 0h3m71 0h20m4 0h10m4 0h2M0 160h30M186 161h17M93 162h22m70 0h2m64 0h10M30 163h24m106 0h4m0 0h2m5 0h18m5 0h6m36 0h18m3 0h30m0 0h33m1 0h11M0 164h5m2 0h14m165 0h14M188 165h7M4 167h2m28 0h2M184 168h17M151 170h12m22 0h13M227 171h4m3 0h30M81 172h2m0 0h24m2 0h43m199 0h16M83 173h34m0 0h5m3 0h2m2 0h9m217 0h16M49 174h10M33 175h11m3 0h6m40 0h4M166 176h2m90 0h3M346 177h2M188 178h12M100 181h15m3 0h20M180 182h4M189 183h7M189 184h16m-8 0h9m3 0h13m14 0h2M33 185h4m152 0h9M189 186h7M190 187h10m130 0h3M184 188h13M51 189h6m-6 0h24m84 0h25m3 0h10M81 190h4m2 0h9m2 0h6m100 0h4M81 191h17m70 0h15m3 0h42M187 192h6M14 193h38M0 194h14m4 0h4M97 195h6m85 0h5M0 196h30m2 0h20m3 0h20m48 0h102m-41 0h17m130 0h20m4 0h25M294 197h6m65 0h4M97 198h4m80 0h17M0 200h18m45 0h20m4 0h20m-1 0h10m151 0h22M184 201h18m95 0h4m2 0h10M246 202h30m16 0h42M69 203h3m40 0h8M195 204h10M186 205h15m78 0h52M84 207h2M193 208h10m118 0h35m3 0h8m3 0h9M0 209h35m3 0h8m2 0h12m22 0h32m74 0h24m112 0h58M0 210h39m-19 0h3m19 0h9m275 0h46m-2 0h17M103 214h2m88 0h7M65 215h5m223 0h3M169 216h3M190 219h11m145 0h5M166 220h44m6 0h6m0 0h18M216 221h11m0 0h8m32 0h10m54 0h11m5 0h2m21 0h5m0 0h4M184 224h13m38 0h4M140 225h10M124 226h24M110 227h4m74 0h14M189 228h8M184 229h13m85 0h4M283 230h3M139 232h42m6 0h11M139 233h33M346 234h5m1 0h2M185 235h9m176 0h12M271 236h3M185 237h19M212 238h26M131 239h2M48 241h17M181 242h19M371 243h5M47 244h30m42 0h2m195 0h2M20 246h114m-25 0h4m25 0h46m-5 0h14m-1 0h7m-1 0h106m17 0h39m18 0h9M369 247h18M28 248h78m13 0h29m15 0h92m20 0h98m5 0h8M184 249h14" stroke="#6e0000"/>
</g></g></g>
<rect x="88.2" y="39.2" width="193.3" height="1.1" fill="#c4c4c4"/>
<text x="73.4" y="45.4" font-size="16" text-anchor="end">15</text>
<rect x="88.2" y="112.4" width="193.3" height="1.1" fill="#c4c4c4"/>
<text x="73.4" y="118.6" font-size="16" text-anchor="end">8</text>
<text x="73.4" y="191.8" font-size="16" text-anchor="end">1</text>
<rect x="88.2" y="185.5" width="193.3" height="1.4" fill="#2a2a2a"/>
<path d="M88.9 186.1 90.1 185.9 91.4 186 92.5 186 94 185.8 94.9 186.3 96.5 185.7 97.3 185.7 99 186 101.6 185.9 103.3 185.8 104.1 186.2 105.7 186.5 106.6 186.6 108.1 187 109.1 186.4 110.5 186.1 111.7 185.7 112.9 186.6 114.2 186.5 115.3 186.6 116.7 186.4 117.7 185.9 119.3 186.2 120.1 185.7 121.8 185.9 122.5 186.3 124.3 185.7 126.8 185.9 128.5 185.7 129.4 185.8 130.9 186.3 131.9 185.7 133.3 185.6 134.4 186.2 135.7 185.9 136.9 186.5 138.2 186.2 139.4 186.1 140.6 185.9 142 186.3 143 186.6 144.5 186.3 145.4 186.6 147.1 186.3 149.6 185.7 151.4 186.3 152.1 186.1 153.8 186.6 154.6 186.6 156.2 186.3 157.2 186 158.6 186.5 159.7 186.4 161 185.9 162.2 186.2 163.4 186.4 164.8 186.6 165.8 186.4 167.3 186.6 168.2 186.5 169.8 185.8 170.6 186.1 172.3 185.9 174.9 186.3 176.6 186.3 177.4 186 179.1 186.1 179.9 186 181.4 185.5 182.5 186 183.8 185.7 185 185.9 186.2 186.1 187.5 185.7 188.6 185.5 190 185.7 191 185.9 192.6 185 193.9 184.9 195.1 185 197.6 185.2 199.4 185.1 200.2 185.4 201.8 186 202.7 186 204.2 185.2 205.2 185.3 206.6 185.8 207.7 185.6 208.8 186.1 210.3 186.2 211.4 186.3 212.8 186.5 213.8 186.4 215.3 186.6 216.2 186.6 217.9 186.1 218.6 185.9 220.4 186.3 222.9 186.3 224.6 186.5 225.4 186.3 227 186.2 228 186.2 229.4 185.6 230.5 186 231.8 185.6 233 185.8 234.2 185.7 235.6 186.3 236.6 185.9 238.1 186.2 239 185.7 240.6 186.1 241.4 185.9 243.1 186.1 245.7 186.5 247.4 186.1 248.2 186.6 249.8 186.4 250.7 186.4 252.2 186.8 253.3 186.4 254.6 186.6 255.8 186.6 257 187 258.3 186.5 259.5 186 260.8 185.7 261.9 185.9 263.4 186.5 264.3 185.9 265.9 185.7 266.7 186.2 268.4 186 271 186.5 272.7 185.7 273.5 185.7 275.1 186 276 186.1 277.5 186.2 278.5 185.7 279.9 186.2 281.1 186.1" fill="none" stroke="#8f8f8f" stroke-width="3.9" stroke-linejoin="round" stroke-linecap="round"/>
<path d="M92.9 178.6 93.9 177.7 95.5 175 96.8 175.6 98.1 176.7 98.9 177 99.8 178.6 100.7 179.2 101.9 176.3 102.8 175.6 103.9 177.9 104.9 178.4 105.8 179.6 106.9 178.7 107.9 175.6 108.7 174.6 109.9 172.9 111.1 172.8 111.9 173.3 112.7 174.6 113.7 176 114.9 176.1 115.9 177.9 116.7 177.6 117.9 175.5 118.9 172.6 119.6 173.6 121.5 174.3 123.6 171.7 124.9 170.9 126.5 168.7 128.5 163.7 129.3 166.2 130.5 168.7 132.5 174.6 134.5 176.2 136.5 173.6 137.9 173.6 138.9 172.9 139.7 171.9 141.4 174.6 142.3 172.7 143.9 172.5 145.4 173.6 147.5 170.7 149.3 171.7 150.1 170.2 150.9 170.9 152.3 172.7 153.9 171.3 155.3 168.7 156.9 167.4 157.9 165.8 159.2 163.7 160.5 162.6 162 160.1 163.2 158.8 164 157.1 165 154.5 166.2 152.8 167 153.5 168.2 156.8 169 155.3 170 155.2 171.1 152.8 172 154.9 173 156 174.1 156.8 175 152.3 176.1 146.9 177 141.3 178.1 135 179 125.9 180 115.2 181.4 91.4 182.6 59.7 183.9 58.2 184.6 58.7 186 68.7 187 67.6 188 67.7 189.6 68.7 190.9 91.4 191.7 100.8 192.5 115.2 194 123.9 194.9 131.1 196 137.2 196.9 142.1 197.9 146.9 199.5 153.3 200.8 156.8 202.1 160.9 203 161.8 203.8 161.8 204.7 163.9 206 162.7 207.3 160.9 208 161.5 208.8 160.8 209.9 162.3 211 164.2 211.7 165.7 212.5 163.5 214 163.5 214.7 164.7 216 166.6 217.7 166.7 219 166.7 220.3 166.8 221.6 164.7 222.9 167.1 224.6 169.7 225.5 170.5 227 170 228.6 167.7 230.7 172.2 232.5 174.6 233.3 175.2 234 173.2 235 173.3 236.5 170.7 238.5 173.7 240.5 173.6 242 173.2 243.7 171.1 244.4 169.7 246.3 173.7 247 173.4 248.4 173.6 250 171.8 251.5 171.1 252.3 172.7 253.1 172.3 254.1 172.9 255.1 172.9 256.3 174.6 257.1 175.2 258.1 174.5 259.3 175.7 260.3 176.6 261.1 176.3 261.9 177.4 263.1 179.3 264.2 179.6 265.1 180.1 266.1 180.1 267.1 181.2 268.2 179.6 269.7 178.9 271.1 180.3 272.3 181.1 273.1 178.6 274.1 179.3 274.9 178.8 276.1 178.5 277.1 178.9 278.1 179.6 279.1 179.8 280.1 180.6" fill="none" stroke="#1f9bef" stroke-width="3.9" stroke-linejoin="round" stroke-linecap="round"/>
<text x="184.8" y="18.5" font-size="19.8" text-anchor="middle" textLength="146.5" lengthAdjust="spacingAndGlyphs">H3K27ac (active)</text>
<text x="88.2" y="208.7" font-size="16" text-anchor="middle">-15Kb</text>
<text x="184.8" y="208.7" font-size="16" text-anchor="middle">biomarker</text>
<text x="281.5" y="208.7" font-size="16" text-anchor="middle">+15Kb</text>
<rect x="87.8" y="583.1" width="1.2" height="3" fill="#555"/>
<rect x="183.6" y="583.1" width="1.2" height="3" fill="#555"/>
<rect x="279.4" y="583.1" width="1.2" height="3" fill="#555"/>
<text x="86.8" y="604.6" font-size="16" text-anchor="middle">-15Kb</text>
<text x="184.8" y="604.6" font-size="16" text-anchor="middle">biomarker</text>
<text x="276.5" y="604.6" font-size="16" text-anchor="middle">+15Kb</text>
<rect x="336.5" y="39.2" width="194.3" height="1.1" fill="#c4c4c4"/>
<text x="322" y="45.4" font-size="16" text-anchor="end">13</text>
<rect x="336.5" y="88" width="194.3" height="1.1" fill="#c4c4c4"/>
<text x="322" y="94.2" font-size="16" text-anchor="end">9</text>
<rect x="336.5" y="136.8" width="194.3" height="1.1" fill="#c4c4c4"/>
<text x="322" y="143" font-size="16" text-anchor="end">5</text>
<text x="322" y="191.8" font-size="16" text-anchor="end">1</text>
<rect x="336.5" y="185.5" width="194.3" height="1.4" fill="#2a2a2a"/>
<path d="M340.9 179.6 342.1 179.6 343.4 179.4 344.5 179.4 345.9 179.2 346.9 179.2 348.5 180 349.3 180 351 179.5 353.5 179.3 355.3 179.7 356.1 179.5 357.7 179 358.6 179.2 360.1 179.4 361.1 179.3 362.5 180 363.6 180.1 364.9 179.6 366.2 179.8 367.6 179.6 368.7 179.5 369.7 179.1 371.2 179 372.1 179.2 373.8 179.4 374.5 179 376.3 178.8 378.1 178.6 378.8 179 380.5 179.3 381.4 179.3 382.9 179.4 383.9 179.4 385.3 179.5 386.4 178.9 387.7 178.9 388.9 178.6 390.1 178.8 391.5 178.8 392.5 178.7 394 178.5 394.9 178.8 396.5 178.2 397.3 178.6 399.1 178 400.9 178.9 401.6 178.8 403.3 178.4 404.1 178.1 405.7 178.3 406.7 178 408.1 177.7 409.2 177.6 410.5 177.7 411.7 178.2 413.2 177.6 414.2 178 415.3 177.9 416.8 178.4 417.7 177.9 419.3 178.3 420.1 177.9 421.8 178.7 424.4 179.7 426.1 179.1 427.1 179.6 428.5 179.7 429.4 179.2 430.9 179.6 432 179.7 433.3 179.7 434.5 179.1 435.7 179.5 437 179.4 438.1 179.6 439.5 179.5 440.5 179.4 442.1 179.7 442.9 180 444.6 179.8 447.1 179.2 448.9 179 449.7 179.1 451.3 179 452.2 179.3 453.7 179.3 454.7 180.1 456.1 180.1 457.2 179.3 458.5 179.7 459.8 179.2 460.9 179.9 462.3 180 463.3 180.1 464.8 179.3 465.7 179.4 466.7 179.6 468.1 179.7 469.9 179.9 471.7 179.7 472.4 179.5 474.1 179.3 475 179.1 476.5 178.8 477.5 179.2 478.9 179.9 480 179.9 481.3 179.6 482.5 179.7 483.7 179.5 485.1 179.1 486.1 179.7 487.6 179.5 488.5 180 490.1 180.1 490.9 180.3 492.7 179.8 494.5 179.4 495.2 179.9 496.9 179.8 497.7 179.7 499.3 180 500.3 180 501.7 179.9 502.8 179.6 504.1 179.7 505.3 179.3 506.5 179.1 507.8 179.8 508.9 180 510.4 179.5 511.3 179.3 512.9 179.4 513.7 179.2 515.4 179.2 518 179.2 519.7 179.9 520.5 179.6 522.1 179.4 523 180.1 524.5 179.6 525.6 180 526.9 179.6 528.1 179.6" fill="none" stroke="#8f8f8f" stroke-width="3.9" stroke-linejoin="round" stroke-linecap="round"/>
<path d="M340.9 162.7 341.9 163.6 343.5 162.3 344.8 161.8 346.1 159.9 346.9 160.2 347.8 159.8 348.7 163.3 349.8 163.7 351.3 161.5 352.9 161.6 353.8 160.8 354.9 160.7 356.5 161 357.9 159.2 358.7 156.8 359.9 159.4 360.9 161.1 361.7 163.7 362.9 164 364.3 163.3 365.6 160.8 366.9 160 367.9 158.4 369.6 157.8 370.9 158.3 372.1 158.6 373.6 155.8 374.7 157.6 375.9 158.9 377.5 158.8 378.9 161.6 379.9 162.5 381.5 164.7 382.5 160 383.9 158.1 385.4 154.8 386.9 154.7 387.7 153.9 389.4 155.8 390.3 156.9 391.9 158.2 393.4 157.8 395.5 159.1 397.3 155.8 398.1 158.9 399.3 158.8 400.7 154.9 402.3 150.9 403.3 150 405.3 143.9 407 141.4 408.2 140 409 143.7 410.2 147.9 411.1 139.1 412.2 131.1 413 130.8 413.7 128.8 415.2 129.1 416.3 128.6 418 128 419.1 126.1 420 123 421.1 121.1 422 116.2 423.1 107.3 424.1 106.7 425.1 102.3 426 97 427.1 91.4 428 84.7 429 75.6 430 65.1 431 51.8 431.9 51.8 433 50.8 434 63.7 435 74.6 436 68.8 436.9 61.7 438.5 61.7 439.7 72.3 440.9 83.5 442.3 87.7 443 90.9 443.9 97.4 444.9 104.8 446 109.6 446.9 115.2 448 117.8 449 120.3 449.8 123.1 451 125.5 452 127.2 452.8 130.1 454 134.2 455 137.3 455.8 139 457 140.7 457.9 143.2 458.7 147.9 460.5 147.1 462 146.2 462.7 145.9 464 146.7 465.7 146.9 467 149.8 468.6 152.8 470 157.6 470.9 159.7 472.6 161.8 473.5 161.2 475.6 156.8 477 157.2 478.6 158.8 480 160.5 481.3 159.9 482.5 161.8 483.9 162.1 485 160.5 486.5 158.8 488 155.1 489.4 153.8 491.7 149.4 492.4 149.9 494.3 149.5 495.4 152.8 496.9 155.2 498.4 152.8 499.5 153.9 501.1 157 502.3 158.8 503.1 158 504.7 156.8 506.1 156.9 507.3 158.8 508.1 160.1 509.1 160.6 510.2 160.8 511.1 162 512.5 163.5 513.2 166.7 514.1 166.7 515.1 164.3 516.1 161.8 517.2 160.8 518.1 159.5 519.1 159.5 520.3 158.5 521.1 160.8 522.1 160.2 522.9 161.2 524.1 163.7 525.5 165.8 527.1 169.6 528.1 171.7" fill="none" stroke="#23a323" stroke-width="3.9" stroke-linejoin="round" stroke-linecap="round"/>
<text x="433.6" y="18.5" font-size="19.8" text-anchor="middle" textLength="181.5" lengthAdjust="spacingAndGlyphs">H3K4me1 (enhancer)</text>
<text x="336.5" y="208.7" font-size="16" text-anchor="middle">-15Kb</text>
<text x="433.6" y="208.7" font-size="16" text-anchor="middle">biomarker</text>
<text x="530.8" y="208.7" font-size="16" text-anchor="middle">+15Kb</text>
<rect x="335.8" y="582" width="1.2" height="3" fill="#555"/>
<rect x="431.8" y="582" width="1.2" height="3" fill="#555"/>
<rect x="527.9" y="582" width="1.2" height="3" fill="#555"/>
<text x="334" y="604.6" font-size="16" text-anchor="middle">-15Kb</text>
<text x="428.5" y="604.6" font-size="16" text-anchor="middle">biomarker</text>
<text x="523" y="604.6" font-size="16" text-anchor="middle">+15Kb</text>
<rect x="586.2" y="39.2" width="193.2" height="1.1" fill="#c4c4c4"/>
<text x="570.6" y="45.4" font-size="16" text-anchor="end">9</text>
<rect x="586.2" y="112.4" width="193.2" height="1.1" fill="#c4c4c4"/>
<text x="570.6" y="118.6" font-size="16" text-anchor="end">5</text>
<text x="570.6" y="191.8" font-size="16" text-anchor="end">1</text>
<rect x="586.2" y="185.5" width="193.2" height="1.4" fill="#2a2a2a"/>
<path d="M589.9 184.5 591.1 184.3 592.4 184.6 593.5 184.2 594.9 184.3 595.9 184.2 597.4 184.5 598.3 184.3 599.9 184.8 600.7 184.4 602.4 184.3 603.2 184.1 604.9 184.7 607.5 184.5 609.2 184.7 610 184.7 611.6 184.6 612.5 184.1 614 184.1 615 184.7 616.4 184.9 617.6 184.5 618.8 184.5 620 184.6 621.3 184.5 622.5 184.4 623.7 184.5 625 184.1 626.1 184.1 627.5 184.4 628.5 183.6 630 183.7 630.9 184.3 632.5 184.2 633.3 183.8 635.1 183.6 637.6 183.4 639.4 183.7 640.1 183.8 641.8 183.5 642.6 183.8 644.2 184.2 645.1 183.7 646.6 183.2 647.3 183.6 649 183.5 650.1 183.6 651.4 183.3 652.6 182.9 653.8 182.8 655.1 182.6 656.2 182.3 657.6 182.8 658.7 183.1 660.1 182.6 661.1 182.7 662.3 182.3 663.2 182.6 665.2 182.3 665.9 182.3 667.7 183 670.2 183.7 671.9 183.8 672.7 183.8 674.3 183.6 675.1 184.1 676.7 184.6 677.7 185 679.2 185.5 680.2 186.8 681.6 186.7 683 187.5 684 186.5 685.2 186.4 686.4 185.4 687.7 185.1 688.8 184.3 690 184.3 690.9 184.1 692.8 184.3 693.6 184.1 695.3 183.9 696 183.6 697.8 184.3 700.3 183.8 702.1 183.6 702.8 184.2 704.5 184.8 705.3 184.3 706.9 183.9 707.8 184.1 709.3 184.1 710.3 183.7 711.7 183.4 712.8 183.9 714.1 183.7 715.4 184 716.7 184.1 717.9 184 719 184.7 720.4 184.5 721.4 183.8 722.9 183.7 723.8 183.6 725.4 183.9 726.2 183.8 727.9 183.8 728.6 184.2 730.4 184.1 732.9 183.6 734.7 184.1 735.4 183.8 737.1 183.9 737.9 184 739.5 183.7 740.4 183.9 741.9 184 743 184 744.3 184.2 745.5 184.1 746.7 183.8 748 183.5 749.1 183.2 750.5 183.3 751.5 183.1 753 183.8 754 184.2 755.5 183.7 756.3 183.6 758 184 758.8 184.2 760.5 183.6 763 183.4 764.8 183.2 765.5 183.2 767.2 183.9 768 183.7 769.6 184.2 770.6 183.8 772 184 773.1 183.4 774.5 183.2 775.6 183.4 776.9 183.6 778.1 183.6" fill="none" stroke="#8f8f8f" stroke-width="3.9" stroke-linejoin="round" stroke-linecap="round"/>
<path d="M589.9 180.6 590.9 180.9 592.5 179.4 593.9 177.6 595.1 180.4 595.9 180.9 596.8 179.6 597.7 175 598.8 171.7 600.3 174.1 601.8 175.6 602.9 176.1 603.8 172.7 605.5 171.2 606.7 169.7 608.1 173.2 608.9 177.5 609.7 179.6 610.7 180 611.9 175.1 612.7 173.6 613.9 173.9 614.9 174.4 615.6 175.6 616.9 173.2 618.6 170.7 620.6 162.7 621.9 162 622.9 162 623.7 161.3 624.5 161.8 626.3 169.8 627.5 172.7 628.9 172.8 630.5 170.7 631.5 172 633.5 172.7 634.9 171.8 635.9 171.9 636.7 170.5 637.4 171.7 639.3 175.4 641.4 176.6 642.9 174.3 644.5 170.6 645.4 166.7 647.1 165.2 648.3 166.7 649.7 175.3 651.3 181.6 652.3 176.7 654.3 168.7 656 166.1 657.2 164.7 658 162.6 659 161.6 660.2 158.8 661 154.1 662.2 148.9 663 150.5 664 152.1 665.2 155.8 666 158.6 667 162.2 667.9 165.4 669.1 167.7 670.5 165.1 672.1 157.8 673.1 158.5 674 156.4 675.1 152.8 676 149.3 677 143.4 678 139 679 125.5 680 111.2 680.9 94.4 682 71.6 683 64.3 684 55.8 685 63.4 686 71.6 687 92.8 687.9 111.2 688.7 123 689.9 142.9 691 153 691.9 161.8 693 160.8 693.9 158.5 694.9 158.8 696 161.6 696.9 161.8 698 164.5 699.1 165.4 700 169.4 700.8 171.7 701.7 170.9 703 168.5 704 167 704.8 164.7 706 164.4 706.9 164.6 707.8 162.7 709.5 167.8 710.7 168.7 712.7 180.6 714.7 169.1 715.7 160.8 717.3 158.7 718.6 158.8 719.9 165.5 720.6 170.7 722.5 167.8 724.6 162.7 726 164.4 727.7 165.9 728.5 168.7 730.3 167 731 167.5 732.5 168.7 734 170.4 735.5 173.5 736.5 174.6 738.1 176.6 739 178.1 740.4 178.6 742.1 176.4 743.4 174.6 745.1 171.5 745.9 168.5 747.1 166.3 748.4 165.7 749.1 167.6 750.4 170.7 751.1 170.1 752.1 170.7 753.1 169.1 754.3 169.7 755.1 170.8 756.3 174.8 757.3 174.6 758.1 173 758.9 170.8 760.1 168.3 761.2 166.7 762.1 169.2 763.1 172.5 764.2 174.6 765.1 173.7 766.7 173.8 768.1 173.1 769.2 170.7 770.1 170.5 771.1 172.1 771.9 172.2 773.1 174.6 774.5 175 776.1 175.6 777.1 176.6" fill="none" stroke="#f59e22" stroke-width="3.9" stroke-linejoin="round" stroke-linecap="round"/>
<text x="682.8" y="18.5" font-size="19.8" text-anchor="middle" textLength="179.5" lengthAdjust="spacingAndGlyphs">DNase (accessibility)</text>
<text x="586.2" y="208.7" font-size="16" text-anchor="middle">-15Kb</text>
<text x="682.8" y="208.7" font-size="16" text-anchor="middle">biomarker</text>
<text x="779.4" y="208.7" font-size="16" text-anchor="middle">+15Kb</text>
<rect x="593.4" y="581.6" width="1.2" height="3" fill="#555"/>
<rect x="689.4" y="581.6" width="1.2" height="3" fill="#555"/>
<rect x="785.4" y="581.6" width="1.2" height="3" fill="#555"/>
<text x="581.2" y="604.6" font-size="16" text-anchor="middle">-15Kb</text>
<text x="682.4" y="604.6" font-size="16" text-anchor="middle">biomarker</text>
<text x="779.4" y="604.6" font-size="16" text-anchor="middle">+15Kb</text>
<rect x="840.2" y="39.2" width="192.1" height="1.1" fill="#c4c4c4"/>
<text x="823.2" y="45.4" font-size="16" text-anchor="end">70%</text>
<rect x="840.2" y="112.4" width="192.1" height="1.1" fill="#c4c4c4"/>
<text x="823.2" y="118.6" font-size="16" text-anchor="end">40%</text>
<text x="823.2" y="191.8" font-size="16" text-anchor="end">10%</text>
<rect x="840.2" y="185.5" width="192.1" height="1.4" fill="#2a2a2a"/>
<path d="M842.9 180.6 844.1 180.2 845.4 180.6 846.5 180.9 847.9 181 848.9 181.1 850.5 180.8 851.3 180.5 853 180.9 853.7 181.3 855.5 181 858.1 181 859.7 181.6 860.6 181.2 862.2 181.4 863.1 181.9 864.6 182.4 865.6 182.1 867 182.5 868.2 182.9 869.5 183.4 870.7 183.1 871.9 183.1 873.2 182.7 874.3 182.7 875.8 183.1 876.7 182.8 878.3 183.4 879.5 183.6 880.8 183.8 881.5 183.8 883.4 182.3 885.2 182 885.9 181.8 887.6 181.8 888.4 181.4 890 181.3 890.9 180.8 892.4 180.3 893.4 180.6 894.8 180.7 896 180.1 897.2 180 898.5 179.8 899.6 179.7 901.1 180.2 902.1 179.7 903.6 179.9 904.5 179.6 906.1 179.3 906.9 178.9 908.7 179.3 910.5 178.8 911.2 179 912.9 179 913.7 178.9 915.3 179.2 916.2 179.2 917.8 179.2 918.8 179.5 920.2 180 921.3 180.2 922.6 180.5 923.8 180.3 925 179.9 926.4 180.1 927.4 180 929 180.6 929.8 180.2 931.4 180.4 932.3 180.4 934 181.1 934.7 180.8 936.5 181.3 938.3 180.5 939 180.6 940.7 181.1 941.5 181 943.1 181.6 944.1 181.5 945.5 180.9 946.6 181.3 948 181.9 948.9 181.6 950.4 181.7 951.7 181.6 952.8 181.5 954.2 181.7 955.2 181.4 956.7 181.1 957.6 181 959.2 181.5 960 181.5 961.8 181.1 964.3 181 966.1 180.5 966.8 180.3 968.7 180.6 969.7 180.3 970.9 181.4 971.9 181.2 973.3 180.7 974.4 181.1 975.7 181.3 977 181.1 978.1 181.2 979.5 181.3 980.6 181.4 982 182 983 181.9 984.5 182.1 985.4 182.3 987.1 182.4 988.5 182.6 989.6 182.3 991.4 182.4 992.1 182.1 993.8 182 994.7 182.6 996.3 182.6 997.2 182.1 998.7 182 999.7 182.3 1001.1 182.8 1002.3 182.4 1003.5 182.4 1004.8 182.8 1005.9 182 1007.3 182.2 1008.3 182.4 1009.8 182.2 1010.8 181.8 1012.4 182.2 1013.2 182 1014.9 182.1 1017.4 183 1019.2 182.1 1020 182.3 1021.6 181.8 1022.5 182.3 1024 182.8 1025 182.6 1026.5 182.1 1027.6 182.5 1028.9 182.1 1030.1 182.6" fill="none" stroke="#8f8f8f" stroke-width="3.9" stroke-linejoin="round" stroke-linecap="round"/>
<path d="M842.9 167.7 843.9 162.5 844.9 156.8 845.9 156 846.9 154.2 848.1 151.5 848.8 152.8 849.9 154.3 850.7 154.9 851.8 156.8 853.3 159.8 854.9 162.9 855.8 163.7 856.9 161.4 857.9 161.2 858.7 158.8 859.9 156.7 860.9 154.2 861.7 153.8 862.9 155.1 863.8 156.3 864.7 155.8 865.9 159.6 866.6 160.8 867.9 157.7 868.9 156.2 869.6 155.8 871.6 166.7 872.9 162.8 874.6 158.8 875.9 157.8 877.5 156.8 879.5 161.3 880.5 162.7 882.1 163.1 883.5 163.7 884.7 163.6 885.9 161.1 887.5 158.8 888.9 156.8 890.4 154.8 892.4 148.9 893.9 150 895.2 149.7 896.4 150.9 897.8 155 899.3 154.8 900.4 151 902.3 149.9 903.9 143.3 905.3 139 906.9 134 908.2 130.1 910.2 135 910.9 135.6 911.9 135.7 913.2 138 914 137.8 915 137.5 916.2 136 917 132.5 918.1 125.1 919 122.6 920 119.5 921.1 115.2 922 114.7 923 112.1 924.1 111.2 925 104.7 926.1 97.4 927 96 928 91.3 929 89.5 930 81.5 931 71.6 931.7 70.1 933 61.9 934 55.8 935 51.3 936 47.9 937 45.4 938 47 939 46.9 940 48.6 940.9 51.8 942.2 59.9 942.9 67.7 944 77.2 944.9 83.5 946 89 947 96.7 947.9 101.3 949 109.1 949.9 113.2 951 119 951.8 123.1 952.7 127.8 954 133.4 955 138.9 955.8 141.9 957 143.1 957.9 142.8 958.8 140 960.5 139.6 962 139.5 962.7 140.9 964 141 965 140.7 965.7 140.9 966.7 143.9 968.3 144.1 969.7 140.9 971.6 145.9 972.6 161.8 973.6 160 975.6 152.8 977 151.1 978.6 150.9 980 154.6 981.5 157.8 983 158.8 984.5 160.8 986.6 162 988.5 158.8 989.2 158.8 990 158.3 991.5 158.8 993.4 153.8 994.5 156.8 996.4 160.8 998 158.4 999.4 156.8 1001 158.3 1002.3 160.8 1003.3 160.8 1004 162.2 1004.9 165 1006.3 168.7 1007.5 167.9 1009 169.2 1010.3 169.7 1011 169.8 1012.1 171.3 1013.2 173.6 1014.1 172.7 1015.4 168.6 1016.2 168.7 1017.1 168 1018 165.5 1019.2 163.7 1020.6 159.9 1022.1 157.5 1023.1 156.8 1024.1 164.2 1025.1 170.7 1025.8 170.8 1027.1 169.8 1028.1 168.7 1029.1 169 1030.1 170.1 1031.1 170.7" fill="none" stroke="#c52f7d" stroke-width="3.9" stroke-linejoin="round" stroke-linecap="round"/>
<text x="936.2" y="18.5" font-size="19.8" text-anchor="middle" textLength="176.0" lengthAdjust="spacingAndGlyphs">chromHMM (enhan.)</text>
<text x="840.2" y="208.7" font-size="16" text-anchor="middle">-15Kb</text>
<text x="936.2" y="208.7" font-size="16" text-anchor="middle">biomarker</text>
<text x="1032.3" y="208.7" font-size="16" text-anchor="middle">+15Kb</text>
<rect x="838.6" y="583.3" width="1.2" height="3" fill="#555"/>
<rect x="934.9" y="583.3" width="1.2" height="3" fill="#555"/>
<rect x="1031.2" y="583.3" width="1.2" height="3" fill="#555"/>
<text x="835" y="604.6" font-size="16" text-anchor="middle">-15Kb</text>
<text x="935.5" y="604.6" font-size="16" text-anchor="middle">biomarker</text>
<text x="1032.4" y="604.6" font-size="16" text-anchor="middle">+15Kb</text>
<rect x="88.2" y="682.5" width="193.3" height="1.1" fill="#c4c4c4"/>
<text x="73.4" y="688.6" font-size="16" text-anchor="end">10</text>
<rect x="88.2" y="731.2" width="193.3" height="1.1" fill="#c4c4c4"/>
<text x="73.4" y="737.4" font-size="16" text-anchor="end">7</text>
<rect x="88.2" y="780.1" width="193.3" height="1.1" fill="#c4c4c4"/>
<text x="73.4" y="786.2" font-size="16" text-anchor="end">4</text>
<text x="73.4" y="835" font-size="16" text-anchor="end">1</text>
<rect x="88.2" y="828.7" width="193.3" height="1.4" fill="#2a2a2a"/>
<path d="M88.9 828.5 90.1 828.5 91.4 828.3 92.5 828.3 94 828.1 94.9 828.1 96.5 828.9 97.3 828.9 99 828.4 101.6 828.2 103.3 828.6 104.1 828.3 105.7 827.8 106.6 828 108.1 828.2 109.1 828.1 110.5 828.8 111.7 828.8 112.9 828.4 114.2 828.6 115.3 828.2 116.7 828.3 117.7 828.2 119.3 827.8 120.1 827.7 121.8 828.3 122.5 827.9 124.3 827.8 126.8 828 128.5 828.3 129.4 828.4 130.9 828.5 131.9 828.6 133.3 828.7 134.4 828.1 135.7 828.2 136.9 827.8 138.2 828.1 139.4 828.1 140.6 828.1 142 828.1 143 828.5 144.5 827.9 145.4 828.1 147.1 827.6 149.6 827.5 151.4 828.2 152.1 828.4 153.8 828.2 154.6 827.8 156.2 827.7 157.2 827.9 158.6 827.5 159.7 827.5 161 827.6 162.2 828.2 163.4 827.7 164.8 828 165.8 827.4 167.3 827.9 168.2 827.3 169.8 827.4 170.6 827.8 172.3 827.5 174.2 827.7 175.1 827.5 176.6 828.6 177.4 828.7 179 828.9 179.9 828.6 181.4 829.5 182.5 829.8 183.8 830.1 185 830.5 186.2 830.2 187.5 829.3 188.6 828.9 190 828.8 191 828.3 192.6 828.1 193.4 827.5 194.9 827.5 195.8 828.1 197.6 827.7 199.4 828.2 200.2 827.8 201.8 827.8 202.7 827.3 204.2 827.6 205.2 827.2 206.6 827.3 207.7 827.5 209 827.8 210.3 828.3 211.4 828 212.8 827.5 213.8 827.6 215.3 827.5 216.2 827.4 217.9 828.3 218.6 828.4 220.4 827.7 222.9 828.3 224.6 827.9 225.4 827.9 227 827.8 228 827.6 229.4 828.1 230.5 827.8 231.8 828.4 233 828.5 234.2 828.7 235.6 828.3 236.6 827.6 238.1 827.8 239 828 240.6 828.2 241.4 828.5 243.1 828.8 245.7 828.5 247.4 828.8 248.2 828.7 249.8 828.9 250.7 828.6 252.2 828.3 253.3 828.9 254.6 829 255.8 828.5 257 828.3 258.3 828.3 259.5 828.4 260.8 828.8 261.9 829.2 263.4 828.6 264.3 828.1 265.9 828.5 266.7 828.1 268.4 828.4 271 828.4 272.7 828.5 273.5 828.8 275.1 829.2 276 829.3 277.5 829.1 278.5 829.3 279.9 829.5 281.1 828.9" fill="none" stroke="#8f8f8f" stroke-width="3.9" stroke-linejoin="round" stroke-linecap="round"/>
<path d="M91.9 807.7 92.9 809.5 94.5 810.5 95.9 815.1 97.1 817.9 97.8 816.6 98.9 815.2 99.7 813.3 100.9 810.4 102.3 805.4 103.9 800.9 104.8 798.8 105.9 801.6 107.5 803.5 108.9 804.6 109.7 803.8 110.9 801.6 111.7 798.8 112.7 801.7 113.9 802.6 114.7 804.8 115.9 804.6 116.9 802.3 117.9 801.7 118.9 801.3 119.6 799.8 120.5 801 122.6 811.7 123.9 811.5 124.9 810.8 125.7 809.2 126.9 810.2 128.5 809.7 129.9 807.7 130.9 808 131.9 805.6 133.5 804.8 134.9 802.8 136.5 801.8 137.9 806.7 138.7 810.1 139.4 809.7 141.3 807.9 143.4 801.8 144.9 804.4 146.5 807.7 147.3 809.7 149.1 808.8 150 805.7 151 804.9 151.7 802.6 153.3 801.8 154.3 799.9 156 800.4 156.9 799.8 158 798.2 159.2 797.8 160 797.5 161 797.6 162.1 796.8 163 795.7 164 794.4 165.2 791.9 166 790.2 167.3 788.8 169 786.9 169.9 784.2 171.1 782 172.5 773 174 766.7 175.1 762.2 176 757.1 177 754.2 177.7 750.6 179.1 742.4 180.3 733.4 182 725.2 183 720.6 184 711.8 185 704.7 186 705.5 187 705.3 188 704.7 189 715.3 189.9 724.5 190.7 733.1 192 748.9 192.9 758.2 194 761.6 195 765.8 195.9 769.9 197 773.1 198 774.9 198.9 778 200 779.3 201.1 780.1 202 780.7 202.8 780 203.7 780.6 205 784.9 206.3 787.1 207 787.4 208 789.1 208.8 789.9 210 791.5 211.5 792.1 213 795.4 214.7 797.8 216.7 794.1 218.7 794.9 220 799 221 801.7 221.9 804.2 223 806 224.6 807.7 226 806.5 227.1 806.2 228 805.1 229.7 804 230.6 805.7 232.3 804.3 233 805.6 234 806.5 234.9 806.8 236.5 806.7 237.5 802.5 239 799 240.1 798.3 241.4 796.8 242.7 798.2 244.1 801.2 245.3 805.2 246.4 804.8 247.9 806.1 249.1 807.4 250.5 807.4 252.3 806.7 253.1 807.6 254.1 810.3 255.7 814.2 257.1 816.1 258.3 816.6 259.1 816.8 260.1 815.4 260.9 815.5 262.1 814.1 263.5 813.1 264.2 814.7 265.1 816.7 266.1 817 267.2 816.6 268.7 810.8 270.1 807.3 271.2 805.7 272.1 806.7 273.1 808.7 273.9 811.3 275.1 813.7 276.5 814.7 278.1 812.3 279.1 811.7" fill="none" stroke="#1f9bef" stroke-width="3.9" stroke-linejoin="round" stroke-linecap="round"/>
<text x="184.8" y="661.7" font-size="19.8" text-anchor="middle" textLength="146.5" lengthAdjust="spacingAndGlyphs">H3K27ac (active)</text>
<text x="88.2" y="851.9" font-size="16" text-anchor="middle">-15Kb</text>
<text x="184.8" y="851.9" font-size="16" text-anchor="middle">biomarker</text>
<text x="281.5" y="851.9" font-size="16" text-anchor="middle">+15Kb</text>
<rect x="91.7" y="1226" width="1.2" height="3" fill="#555"/>
<rect x="188" y="1226" width="1.2" height="3" fill="#555"/>
<rect x="284.2" y="1226" width="1.2" height="3" fill="#555"/>
<text x="86.8" y="1247.8" font-size="16" text-anchor="middle">-15Kb</text>
<text x="184.8" y="1247.8" font-size="16" text-anchor="middle">biomarker</text>
<text x="276.5" y="1247.8" font-size="16" text-anchor="middle">+15Kb</text>
<rect x="336.5" y="682.5" width="194.3" height="1.1" fill="#c4c4c4"/>
<text x="322" y="688.6" font-size="16" text-anchor="end">5</text>
<rect x="336.5" y="755.7" width="194.3" height="1.1" fill="#c4c4c4"/>
<text x="322" y="761.8" font-size="16" text-anchor="end">3</text>
<text x="322" y="835" font-size="16" text-anchor="end">1</text>
<rect x="336.5" y="828.7" width="194.3" height="1.4" fill="#2a2a2a"/>
<path d="M339.9 829.5 341.1 829.2 342.4 829.5 343.5 829.1 344.9 829.2 345.9 829.3 347.5 829.3 348.3 829.7 350 829.7 350.7 829.1 352.5 829 355 829.4 356.8 829.5 357.5 829.2 359.2 829.3 360.1 829.3 361.6 828.9 362.6 828.7 364 829.3 365.1 829.2 366.4 829.1 367.6 829.2 368.8 828.6 370.2 829 371.2 829.4 372.7 828.7 373.6 828.7 375.2 829.1 376 828.9 377.7 828.4 378.4 828.3 380.2 829 382.1 829 382.8 828.4 384.5 828 385.3 828.3 387.4 828.7 389.3 828.6 390.3 828.6 391.7 828.7 392.9 828.7 394.1 828.7 395.4 828.6 396.5 828.3 397.9 828.7 398.9 828.8 400.4 828.1 401.3 828.1 402.9 827.9 403.8 827.7 405.5 828.2 408 828.1 409.8 827.5 410.5 827.6 412.2 827.9 413 827.9 414.6 827.6 415.6 828.2 417.1 827.9 418.1 827.9 419.4 827.8 420.6 827.9 421.8 827.8 423.1 828.8 424.2 828.1 425.7 828.3 426.6 827.8 428.2 828.2 429.1 828.1 430.7 829 431.5 828.4 433.2 828.7 435 829.1 435.7 829.3 437.5 828.8 438.3 828.8 439.9 828.9 440.8 829.1 442.3 828.7 443.3 829.2 444.7 828.6 445.8 829 447.1 829.2 448.4 828.6 449.5 828.4 450.9 828.7 452 829 453.4 828.8 454.4 828.4 455.9 828.8 456.8 828.6 458.4 829.2 459.2 829.5 461 828.4 463.5 828.7 465.2 828.4 466.7 828.7 467.6 828.5 468.5 828.6 470 828.7 471.1 828.9 472.4 829 473.6 828.5 474.8 829 476.1 828.8 477.3 828.9 478.6 829 479.7 828.8 481.1 829.1 482.1 829.1 483.7 829.2 484.5 829.4 486.2 829.3 486.9 829.2 488.7 828.9 490.5 828.5 491.2 828.7 492.9 828.7 493.8 829.3 495.3 829.7 496.3 829.3 497.7 829.8 498.8 829.6 500.2 829.3 501.3 829.3 502.6 829.5 503.8 829 505 829.4 506.4 828.9 507.4 829.5 508.9 829.5 509.8 829.3 511.4 829.6 512.2 829.6 513.9 829.2 516.5 829.2 518.2 829.3 519 829.1 520.6 829.6 521.5 829.2 523 829 524 829.3 525.5 829.3 526.5 829.2 527.9 829.8 529.1 829.5" fill="none" stroke="#8f8f8f" stroke-width="3.9" stroke-linejoin="round" stroke-linecap="round"/>
<path d="M340.9 806.7 341.9 806.5 343.5 804.5 344.9 802 346.1 800.5 346.9 799.5 347.8 799.8 348.7 799.9 349.8 794.9 351.3 795.3 352.9 797.2 353.8 797.8 354.9 796.1 356.6 795.7 357.9 793 358.9 790.4 359.7 789.9 360.9 791.6 361.8 793 362.9 793.8 363.9 794.9 364.6 794.9 365.9 794.1 367 792 367.9 789.8 368.6 788.9 369.6 791.7 371.6 800.8 372.9 796.6 373.9 794.4 375.5 788.9 377.5 790.6 378.9 790.6 380.1 791.4 381.5 789.9 382.7 789.9 383.9 793.4 385.3 796.2 386.4 795.8 387.9 793.3 389.4 791.9 390.5 788.8 391.9 782.4 393.4 776 394.9 781.6 396.3 784.9 398.4 784 399.9 781.9 401.3 778 403.6 781.1 404.9 781.5 406.2 780.2 407.2 780 407.9 775.7 409.2 766.1 409.9 767.5 411.5 769.3 413.2 772.1 414.1 768.1 415 766.6 416 763 417.1 760.2 418 762.9 419.3 766.8 420.1 772.1 421 768.4 421.9 764.4 423.1 758.2 424.5 747.1 426.1 732.5 427.1 727.6 428 721.1 429 714.6 429.7 715.9 431 714.8 432 712.6 433 719.9 434 727.5 435 717.7 436.6 704.7 437.6 707.4 438.9 712.6 440.2 721.1 441 726.3 441.9 730.5 442.8 739.4 443.9 753.2 445.4 751.9 447 752.5 448 754.5 448.8 754.2 450.7 757.5 452 759.6 453 761.7 453.8 762.2 455 764.5 455.9 767.5 456.8 772.1 458.5 774 460 776.4 461.1 779.7 462 780.2 462.7 780 463.7 778.3 465 776.9 466.7 776 468 780.6 469 783.5 470.6 786.9 471.6 785.6 473 786.8 474.2 786 475 785.3 476.6 785.9 478 785.7 479.4 783.4 480.5 780 482 780 483 777.3 484.5 775 486 779.5 487.5 783 489 786.2 490.4 789.9 492.5 790.6 494 787.8 495.4 785.9 497.7 785.8 499 787.7 500.4 789.9 502 787.2 503.3 784 504 785.5 505.5 790.9 506.3 794.9 507 793 508.2 792.6 509 792.2 510.1 793.3 510.8 792.8 512.2 792.9 513.4 793.2 515.1 794.6 516 795.5 517.1 796.6 518.2 795.8 519.1 793.7 520.1 794 521.2 791.4 522.1 789.9 523.1 792.5 523.8 794.3 525.1 794.5 526.1 795.8 527.1 798.2 528.1 802.2 529.1 804.8" fill="none" stroke="#23a323" stroke-width="3.9" stroke-linejoin="round" stroke-linecap="round"/>
<text x="433.6" y="661.7" font-size="19.8" text-anchor="middle" textLength="181.5" lengthAdjust="spacingAndGlyphs">H3K4me1 (enhancer)</text>
<text x="336.5" y="851.9" font-size="16" text-anchor="middle">-15Kb</text>
<text x="433.6" y="851.9" font-size="16" text-anchor="middle">biomarker</text>
<text x="530.8" y="851.9" font-size="16" text-anchor="middle">+15Kb</text>
<rect x="339" y="1226" width="1.2" height="3" fill="#555"/>
<rect x="434.9" y="1226" width="1.2" height="3" fill="#555"/>
<rect x="530.8" y="1226" width="1.2" height="3" fill="#555"/>
<text x="334" y="1247.8" font-size="16" text-anchor="middle">-15Kb</text>
<text x="428.5" y="1247.8" font-size="16" text-anchor="middle">biomarker</text>
<text x="523" y="1247.8" font-size="16" text-anchor="middle">+15Kb</text>
<rect x="586.2" y="682.5" width="193.2" height="1.1" fill="#c4c4c4"/>
<text x="570.6" y="688.6" font-size="16" text-anchor="end">320</text>
<rect x="586.2" y="719.1" width="193.2" height="1.1" fill="#c4c4c4"/>
<text x="570.6" y="725.2" font-size="16" text-anchor="end">255</text>
<rect x="586.2" y="755.7" width="193.2" height="1.1" fill="#c4c4c4"/>
<text x="570.6" y="761.8" font-size="16" text-anchor="end">190</text>
<rect x="586.2" y="792.2" width="193.2" height="1.1" fill="#c4c4c4"/>
<text x="570.6" y="798.4" font-size="16" text-anchor="end">125</text>
<text x="570.6" y="835" font-size="16" text-anchor="end">60</text>
<rect x="586.2" y="828.7" width="193.2" height="1.4" fill="#2a2a2a"/>
<path d="M589.9 823.6 591.1 823.1 592.4 823.5 593.5 823.7 594.9 823.7 595.9 823.8 597.4 823.3 598.3 823 600 823.3 600.7 823.7 602.5 823.3 605 823.1 606.7 823.1 607.7 823.6 609.1 823.5 610 822.8 611.5 822.9 612.5 823 613.9 823.2 615.1 822.6 616.3 823 617.6 822.8 618.7 822.6 620.1 822.5 621.1 821.6 622.6 821.5 623.6 821.6 625.1 821.4 625.9 821.8 627.6 821.3 630.2 821.7 631.9 821 632.7 820.6 634.3 820.8 635.2 820.6 636.7 820.9 637.7 820.6 639.1 820.2 640.2 820.3 641.4 820.6 642.7 820.4 644 820.7 645.2 820.3 646.4 820.6 647.8 820.9 648.8 820.6 650.3 820.8 651.2 820.3 652.8 820.4 653.6 820.4 655.3 820.7 657.2 820.6 658.4 819.9 659.6 819.7 660.3 819.9 662 819.9 662.9 819.7 664.4 819.6 665.4 819.4 666.8 819.3 667.9 819.6 669.2 819.5 670.4 819.2 671.6 819.2 673.1 818.6 674 818.4 675.4 819 676.4 818.9 678 819.6 678.8 819.6 680.5 820.8 681.2 820.7 683 821.4 685 821.6 686 821 687.2 820.8 688 820.9 689.6 821.1 690.5 820.9 692 821.3 693.1 821.1 694.4 820.3 695.6 820.6 696.9 820.6 698.1 820.9 699.2 821.6 700.6 821.3 701.6 821.4 703.1 821.1 704 821.3 705.6 822 706.4 821.9 708.2 821.9 710.7 822.2 712.4 821.7 713.2 821.9 714.8 822.6 715.7 822.8 716.7 822.6 718.2 822.5 719.6 822.3 720.7 822.1 722 821.5 723.3 821.9 724.4 822.4 725.8 822.2 726.8 821.6 728.3 821.9 729.2 822.1 730.8 821.9 731.6 821.8 733.3 821.5 734.1 821.3 735.3 821.5 736.5 821.6 738.4 821.2 740.1 821.6 740.9 821.6 742.5 821.5 743.4 821.1 744.9 820.8 745.9 821.3 747.3 821.7 748.4 821.5 749.7 821.4 750.9 821.8 752.3 821.6 753.5 821.4 754.5 822 756 821.7 756.9 821.6 758.5 822 759.3 821.8 760.2 822.6 761 822.2 763.5 823 765.3 822.7 766 822.3 767.7 821.9 768.6 822.3 770.1 822.3 771.1 822.6 772.5 822.2 773.6 822.5 774.9 822.1 776.1 822.6" fill="none" stroke="#8f8f8f" stroke-width="3.9" stroke-linejoin="round" stroke-linecap="round"/>
<path d="M589.9 811.7 590.9 810.9 592.5 809.8 593.9 806.4 594.8 804.8 595.9 803.8 596.9 803.6 597.8 802.2 598.9 802.5 599.8 803.8 600.9 803.3 601.9 802.8 603 802.5 603.8 804.8 604.9 804.5 605.6 806 606.9 809.8 607.7 811.7 608.9 811 609.9 810 610.9 808.1 611.9 807.5 612.7 806.7 613.5 807.8 614.9 809.5 615.9 810.6 616.6 810.7 617.9 810.3 618.7 811.1 619.6 809.7 621.4 803.9 622.6 798.8 624 798.3 624.9 798.2 626.6 799.4 627.5 797.8 629.2 797.6 629.9 799 631.5 798.8 632.9 793.8 634.5 790.6 635.9 784.6 637.4 778 638.9 778.1 640.4 779 642.3 780.9 644.4 786.9 646 787.8 647.6 789.9 649.3 787.9 650.2 790.7 651.3 798.8 652.8 791.2 654.3 787.9 655.5 786.6 657 784.3 658.2 781 659 781.9 660 786 661.2 787.9 662 786.2 663.3 785.9 665.2 780 665.9 777.8 667 777 668 775.8 669.1 773.1 670 773.6 671.2 774.2 672.1 778 673 778.5 673.8 779.8 675.1 778 676.4 766.1 678 751.3 679 740.4 680 723.7 681 704.1 682 686.9 683 687 684 686.6 685 686.9 686 694.2 686.9 702.3 687.9 706.7 689.6 726 691 743.8 691.9 754.2 693 760.6 694 766.8 694.8 772.1 696 778.8 696.9 784 698 780.3 698.8 779 700 783.7 701 785.6 701.8 787.9 702.7 785.9 704 782.3 705.3 778.5 706 776.4 706.8 776 707.9 779.7 709 784.5 710 791.3 710.7 793.9 712 797.8 713.2 799.7 714.7 803.8 715.8 802.5 717.7 803.8 718.4 803.1 720 799.5 721 798.4 722.6 794.9 723.6 796.7 725 797.5 726.3 796.3 727 795.9 728.5 794.9 730 799.9 731.5 805.5 733.5 811.7 735.1 808.7 736.5 805.7 738.1 805.1 739.4 805 741.1 803 742.4 801.8 744.6 794.9 745.4 793.9 747.3 796.3 748.1 795.5 749.1 794.6 749.9 794.3 751.3 794.9 752.5 795.8 754.1 800.7 755.1 804.4 756.3 807.7 757.7 808.9 759.1 806.8 760.2 806.7 761.1 806.6 762.1 805.4 763 804.7 764.1 804.4 765.1 805 766.2 806.7 767.1 803.5 768.2 801.5 769.1 800.1 770.2 799.8 771.1 800 772.1 799.5 773.5 800 775.1 800.7 776.1 801.8" fill="none" stroke="#f59e22" stroke-width="3.9" stroke-linejoin="round" stroke-linecap="round"/>
<text x="682.8" y="661.7" font-size="19.8" text-anchor="middle" textLength="169.0" lengthAdjust="spacingAndGlyphs">ATAC (accessibility)</text>
<text x="586.2" y="851.9" font-size="16" text-anchor="middle">-15Kb</text>
<text x="682.8" y="851.9" font-size="16" text-anchor="middle">biomarker</text>
<text x="779.4" y="851.9" font-size="16" text-anchor="middle">+15Kb</text>
<rect x="589" y="1224.6" width="1.2" height="3" fill="#555"/>
<rect x="686.1" y="1224.6" width="1.2" height="3" fill="#555"/>
<rect x="783.3" y="1224.6" width="1.2" height="3" fill="#555"/>
<text x="581.2" y="1247.8" font-size="16" text-anchor="middle">-75Kb</text>
<text x="682.4" y="1247.8" font-size="16" text-anchor="middle">biomarker</text>
<text x="779.4" y="1247.8" font-size="16" text-anchor="middle">+75Kb</text>
<rect x="840.2" y="682.5" width="192.1" height="1.1" fill="#c4c4c4"/>
<text x="823.2" y="688.6" font-size="16" text-anchor="end">50%</text>
<rect x="840.2" y="719.1" width="192.1" height="1.1" fill="#c4c4c4"/>
<text x="823.2" y="725.2" font-size="16" text-anchor="end">40%</text>
<rect x="840.2" y="755.7" width="192.1" height="1.1" fill="#c4c4c4"/>
<text x="823.2" y="761.8" font-size="16" text-anchor="end">30%</text>
<rect x="840.2" y="792.2" width="192.1" height="1.1" fill="#c4c4c4"/>
<text x="823.2" y="798.4" font-size="16" text-anchor="end">20%</text>
<text x="823.2" y="835" font-size="16" text-anchor="end">10%</text>
<rect x="840.2" y="828.7" width="192.1" height="1.4" fill="#2a2a2a"/>
<path d="M841.9 827.5 843.1 827.4 844.4 826.4 845.5 826.4 846.9 826.4 847.9 826.1 849.4 825.2 850.3 825.1 851.9 824.5 852.7 824 853.8 823.6 855.2 823.3 856.9 823.9 859.5 822.9 861.2 823.9 862 823.7 863.7 823.2 864.5 823.6 866 824.3 867 824.1 868.4 824.4 869.5 824.4 870.8 824.9 872 825 873.6 825.5 874.5 825.7 875.7 825.5 877 825 878.1 824.7 879.5 824.7 880.5 824.8 882 824.3 882.9 823.9 884.5 823.5 885.3 823 887.1 822.9 889.4 822.6 890.1 822.1 891.4 822.3 892.1 822.6 893.8 821.9 894.6 821.8 896.2 821.7 897.1 821.9 898.6 821.7 899.6 822.1 901 822 902.1 822.1 903.4 821.9 905.3 821.6 907.1 822 908.2 822.5 909.6 823.3 910.7 823.3 912.1 823.6 913.1 824.2 914.3 824.4 915.2 824.6 917.2 824.2 917.9 823.7 919.7 823.9 922.2 824.3 923.9 823.7 924.7 824.1 926.3 823.5 927.2 823.8 929 823.6 930 823.9 931.2 823.9 932.2 824.5 933.6 824.3 934.7 824.6 936 824.6 937.2 825.2 938.4 825.3 939.7 826.3 940.9 826.5 942.3 826.4 943.2 827.1 944.8 827 945.6 826.6 947.3 826.9 948 827.2 949.8 827.3 951.7 827.4 952.8 827.5 954.1 827.5 954.8 827.2 956.5 827.5 957.3 827.7 958.9 827.9 959.8 827.4 961.3 827.2 962.3 827.2 963.7 827.7 964.8 827.6 966.1 828 967.3 827.7 968.7 827.5 969.9 826.7 971 826 972.4 826.3 973.4 825.7 974.9 824.7 975.8 824.5 977.4 823.9 978.6 823.6 979.9 823 980.6 823.1 982.4 823.4 984.9 823.3 986.7 823.2 987.4 823.1 988.5 822.6 989.9 823.1 991.5 823.4 992.4 823.3 993.9 824.1 995 824.8 996.3 825 997.5 825.6 998.4 825.5 1000 825.4 1001.1 825.3 1002.5 825.6 1003.5 825.2 1005 825.5 1006 825.1 1007.5 824.9 1008.4 825 1010 824.2 1010.8 824.1 1012.2 824.6 1013.2 824.7 1015 824.7 1016.8 825.5 1017.5 825.6 1019.2 825.4 1020 825 1021.6 824.9 1022.6 825.3 1024 825.5 1025.1 825.7 1026.5 826.6 1027.6 826.6 1028.9 826.8 1030.1 826.5" fill="none" stroke="#8f8f8f" stroke-width="3.9" stroke-linejoin="round" stroke-linecap="round"/>
<path d="M841.9 802.8 842.9 809.7 844.5 808.6 845.9 804.1 846.8 801.8 847.9 800.1 848.9 800.8 849.8 798.8 850.9 800.6 852.4 804.3 853.8 808.7 855 806.7 855.9 804.4 856.7 801.8 857.7 801.2 858.9 799.3 859.9 797 860.7 795.8 861.9 790.8 862.9 785 863.7 778 865.5 784 866.6 785.9 867.9 794.7 868.6 800.8 869.9 801.3 870.8 803.3 871.6 801.8 873.4 794.1 874.6 788.9 876 790.1 876.9 788.2 878.5 785.9 880.5 793.9 881.3 796.9 883.5 812.7 884.9 812 886.5 811.7 887.9 805.2 889.4 796.8 891.4 798.8 892.9 793.3 894.4 787.8 895.4 784.9 897.4 774 898.9 773.3 899.7 774.1 901.3 775 902.3 780.8 903.9 784.7 905.3 788.9 907.6 781.6 909.2 778 910.2 773.2 911.2 768.1 912 769.3 912.8 771.8 914.2 778 915.5 772.4 917.2 766.1 918.1 768 919 769.6 920 770.1 921.1 772.1 922 767.5 923.3 762 924.1 758.2 925 754.7 926 748.7 927.1 742.4 928.6 735 930 726.8 931 718.6 932 711.5 933 701.9 933.9 694.4 935 682.9 936.5 680.6 938 682.9 939.1 687.3 940 690.6 940.9 694.8 941.7 707.6 943 722.6 943.9 734.4 945 747.3 945.9 758.2 947 759.9 948 759.9 948.9 760.2 949.6 762.3 951 765.8 952 769.7 952.8 772.1 954 772 954.9 770.3 956 765.8 956.8 764.1 957.5 768.2 959 772.7 960 774.8 960.7 776 962 777.9 962.8 778.3 964 780.5 964.7 783 966 788.7 967 792.3 968.7 799.8 970.6 797.4 972.6 791.9 974.6 784 975.9 786.9 977.6 786.9 978.5 782.9 980.5 780 982 779.2 983 779.8 983.8 780.1 985.5 778 986.4 775.9 988.5 776 990 788.7 991.5 799.8 993 797.3 994.4 793.9 996 791.9 996.9 790.1 998.4 787.9 999.5 793.8 1000.4 797.8 1002.2 796.1 1003 792.6 1004.3 789.9 1005 788.6 1006 786.9 1007.4 785.1 1008.3 785.9 1009 790 1010 796.3 1011.3 799.8 1012.7 794.2 1014.2 784 1015.3 788.9 1016.1 790.9 1017.1 796.3 1018.2 799.8 1019.1 801.5 1020.6 802.6 1022.1 803.6 1023.1 805.7 1024.1 801.1 1025.1 796 1025.8 793.4 1027.1 789.4 1028.1 784.9 1029.1 788.8 1030.1 794.7 1031.1 799.8" fill="none" stroke="#961a5e" stroke-width="3.9" stroke-linejoin="round" stroke-linecap="round"/>
<text x="936.2" y="661.7" font-size="19.8" text-anchor="middle" textLength="176.0" lengthAdjust="spacingAndGlyphs">chromHMM (enhan.)</text>
<text x="840.2" y="851.9" font-size="16" text-anchor="middle">-15Kb</text>
<text x="936.2" y="851.9" font-size="16" text-anchor="middle">biomarker</text>
<text x="1032.3" y="851.9" font-size="16" text-anchor="middle">+15Kb</text>
<rect x="838.6" y="1225.6" width="1.2" height="3" fill="#555"/>
<rect x="935.2" y="1225.6" width="1.2" height="3" fill="#555"/>
<rect x="1031.9" y="1225.6" width="1.2" height="3" fill="#555"/>
<text x="835" y="1247.8" font-size="16" text-anchor="middle">-15Kb</text>
<text x="935.5" y="1247.8" font-size="16" text-anchor="middle">biomarker</text>
<text x="1032.4" y="1247.8" font-size="16" text-anchor="middle">+15Kb</text>
<rect x="88.2" y="1325.3" width="193.3" height="1.1" fill="#c4c4c4"/>
<text x="73.4" y="1331.5" font-size="16" text-anchor="end">4.5</text>
<rect x="88.2" y="1398.5" width="193.3" height="1.1" fill="#c4c4c4"/>
<text x="73.4" y="1404.7" font-size="16" text-anchor="end">2.5</text>
<text x="73.4" y="1477.9" font-size="16" text-anchor="end">0.5</text>
<rect x="88.2" y="1471.6" width="193.3" height="1.4" fill="#2a2a2a"/>
<path d="M91.9 1454.7 93.1 1455 94.4 1455.2 95.5 1455 96.9 1455.3 97.9 1455.2 99.4 1455.9 100.3 1456.3 101.9 1456.7 102.7 1456.9 103.8 1456.7 105.2 1456.3 106.9 1456.2 109.5 1456.4 111.2 1456 112 1456.1 113.6 1455.8 114.5 1456.2 116 1455.4 117 1455.4 118.4 1455.4 119.6 1455.7 120.8 1455.4 122 1455.7 123.3 1455.3 124.5 1455.5 125.7 1455.1 127 1455.3 128.1 1455.2 129.5 1455 130.5 1455.3 132 1455.3 132.9 1454.6 134.5 1454.5 135.3 1454.9 137.1 1454.9 139.4 1454.7 140.1 1454.5 141.4 1454.3 142.1 1454.1 143.8 1454.3 144.6 1453.9 146.2 1454 147.1 1454.2 148.6 1453.7 149.6 1454.2 151 1454.5 152.1 1454 153.4 1453.7 155.3 1453.7 157.1 1453.6 158.2 1453.2 159.6 1452.7 160.7 1452.1 162.1 1452.1 163.1 1452.6 164.7 1452.1 165.5 1451.6 167.2 1451.7 167.9 1451.7 169.7 1452 172.2 1452.1 173.9 1452.6 174.7 1452.8 176.3 1453.3 177.2 1453.6 179.1 1453.7 180 1453.5 181.2 1454.5 182.2 1454.4 183.6 1454.7 184.7 1454.9 186 1455.1 187 1455.7 188.4 1455.1 189.7 1455.1 190.8 1454.5 192.3 1453.5 193.2 1452.8 194.9 1452.7 195.6 1452.6 197.3 1452.7 198 1452.5 199.8 1453.7 202.3 1453.7 204.1 1453.9 204.8 1454.6 206.8 1454.7 207.7 1454.1 208.9 1454.1 209.8 1454.4 211.3 1454.1 212.3 1454.7 213.7 1454.7 214.8 1454.9 216.1 1454.7 217.3 1454.7 218.6 1454.1 219.9 1454.3 221 1454 222.6 1454.7 223.4 1455.2 224.9 1454.9 225.8 1454.8 227.4 1455.4 228.2 1455.8 229.9 1455.8 230.6 1455.7 232.4 1456.7 234.5 1456.7 235.4 1456.2 236.7 1456.7 237.4 1456.1 239.1 1455.9 239.9 1456.2 241.5 1455.9 242.4 1456 243.9 1456 245 1456.2 246.3 1456.1 247.5 1455.5 248.7 1455.9 250.4 1455.7 251.1 1455.6 252.5 1455.5 253.5 1455.2 255 1455.5 256 1455.4 257.5 1455.2 258.4 1455.3 260 1455.1 260.8 1454.9 262.2 1454.7 263.2 1454.6 265 1455.1 266.8 1454.3 267.5 1454.5 269.2 1454.8 270 1454.3 271.6 1455 272.6 1454.9 274 1454.8 275.1 1454.8 276.5 1455.3 277.6 1455.1 278.9 1455.3 280.1 1454.7" fill="none" stroke="#8f8f8f" stroke-width="3.9" stroke-linejoin="round" stroke-linecap="round"/>
<path d="M92.9 1441.8 93.9 1443 94.9 1445 95.8 1446.8 96.9 1449.9 98.1 1451.9 98.9 1453.1 99.8 1452.7 100.7 1452.5 101.9 1455.2 102.9 1454.6 103.8 1456.7 104.9 1452.7 105.8 1450.7 106.9 1452 108.5 1455.6 109.7 1456.7 111.1 1456.5 111.9 1455.3 112.7 1454.7 113.7 1454.1 114.9 1449.4 115.7 1446.8 116.9 1442.6 117.9 1438.8 118.9 1435.2 119.6 1433.9 121.5 1441.2 122.6 1444.8 124.1 1450.7 124.9 1452.9 126.5 1454.7 127.9 1449.4 129.5 1441.8 130.9 1439.9 131.9 1439.2 133.5 1436.9 134.5 1436.3 135.9 1436.8 137.4 1438.8 138.9 1440.3 139.7 1440.6 141.4 1437.8 142.3 1438.9 143.4 1441.8 144.9 1441.6 145.9 1438.7 147.3 1436.9 148.9 1438 150.1 1439.2 151.3 1438.8 152.7 1436.8 153.9 1433 155.3 1430.9 156.9 1428.7 157.9 1427.6 159.2 1427.9 160.5 1426.2 161.2 1423 162 1424.3 163.1 1426.1 164 1426.5 165.2 1426 166 1423.4 167 1417.9 168.3 1412.8 169.1 1411.1 170 1412.8 170.9 1415.2 172.1 1415.1 173.5 1406.4 175.1 1397.2 176.1 1396.7 177 1394.8 178.1 1391.3 179 1383.5 180 1375.5 181.3 1375.7 183 1371.5 183.9 1362.5 185 1345.7 186.5 1346.3 188 1345.7 189.1 1355.6 189.9 1363.6 191.7 1371.5 192.9 1379.4 194.3 1384.9 195 1389.9 196 1395.6 196.9 1401.2 198 1407.3 199 1412.2 199.8 1415.1 201 1420.5 201.8 1423 203 1422.9 204 1421.8 204.8 1421 206 1424.5 207.3 1426.7 208 1427.5 208.8 1428.9 209.9 1434.7 210.7 1436.9 212.5 1442 214 1444.1 214.7 1444.8 216 1443.5 217.7 1442.1 218.7 1438.8 220.3 1441.1 221 1442 222.6 1446.8 224 1445 225.5 1441.7 226.6 1440.8 228.1 1438.7 229 1436.4 230.6 1432.9 232 1435.3 233.3 1435.5 234.5 1438.8 235.9 1435.2 237 1433.3 238.5 1432.9 240 1432.8 241.1 1432.6 242.4 1431.9 243.7 1432.6 245 1433.4 246.4 1432.9 248 1431.9 248.9 1432.5 250.4 1434.9 251.5 1433.9 253.1 1432.5 254.3 1432.9 255.1 1436.1 256.1 1439.3 257.3 1444.8 258.1 1448 259.3 1452.7 260.1 1452.6 261.1 1449.7 262.2 1448.7 263.1 1448.8 264.5 1446.1 265.2 1442.8 266.1 1442.4 267.1 1443.4 268.2 1444.8 269.7 1444.4 271.1 1442.8 272.2 1440.8 273.1 1444.6 274.1 1449.4 275.1 1454.7 276.1 1449.5 277.1 1445 278.1 1438.8 279.1 1439.6 280.1 1441.8" fill="none" stroke="#1f9bef" stroke-width="3.9" stroke-linejoin="round" stroke-linecap="round"/>
<text x="184.8" y="1304.6" font-size="19.8" text-anchor="middle" textLength="146.5" lengthAdjust="spacingAndGlyphs">H3K27ac (active)</text>
<text x="88.2" y="1494.8" font-size="16" text-anchor="middle">-15Kb</text>
<text x="184.8" y="1494.8" font-size="16" text-anchor="middle">biomarker</text>
<text x="281.5" y="1494.8" font-size="16" text-anchor="middle">+15Kb</text>
<rect x="91.4" y="1866.3" width="1.2" height="3" fill="#555"/>
<rect x="187.7" y="1866.3" width="1.2" height="3" fill="#555"/>
<rect x="283.9" y="1866.3" width="1.2" height="3" fill="#555"/>
<text x="86.8" y="1890.7" font-size="16" text-anchor="middle">-15Kb</text>
<text x="184.8" y="1890.7" font-size="16" text-anchor="middle">biomarker</text>
<text x="276.5" y="1890.7" font-size="16" text-anchor="middle">+15Kb</text>
<rect x="336.5" y="1325.3" width="194.3" height="1.1" fill="#c4c4c4"/>
<text x="322" y="1331.5" font-size="16" text-anchor="end">4</text>
<rect x="336.5" y="1374.1" width="194.3" height="1.1" fill="#c4c4c4"/>
<text x="322" y="1380.3" font-size="16" text-anchor="end">3</text>
<rect x="336.5" y="1422.9" width="194.3" height="1.1" fill="#c4c4c4"/>
<text x="322" y="1429.1" font-size="16" text-anchor="end">2</text>
<text x="322" y="1477.9" font-size="16" text-anchor="end">1</text>
<rect x="336.5" y="1471.6" width="194.3" height="1.4" fill="#2a2a2a"/>
<path d="M339.9 1471.5 341.1 1471.6 342.4 1471.3 343.5 1471.5 344.9 1471.4 345.9 1470.9 347.4 1470.9 348.3 1471.2 349.9 1470.7 350.7 1470.4 352.4 1470.6 353.1 1470.8 354.9 1470.2 356.7 1470.4 357.7 1470.5 359.1 1470.6 359.9 1470 361.6 1470.4 362.4 1470.3 364 1470.1 364.9 1470.1 366.4 1470 367.4 1470.5 368.8 1470.9 369.9 1470.4 371.2 1470 372.4 1469.6 373.6 1469.8 374.9 1469.6 376 1469.8 377.5 1469.5 378.4 1469.2 379.9 1469.4 380.8 1469.9 382.4 1469.8 383.2 1469.5 384.9 1468.7 387.4 1468.7 389.9 1468.7 391.6 1468.3 392.4 1468.5 394.1 1468.1 394.9 1468.5 396.5 1468.4 397.3 1468.5 398.9 1467.9 399.9 1468.1 401.3 1468 402.4 1468.6 403.7 1468.6 404.9 1468.4 406.1 1468.3 407.5 1467.9 408.5 1467.7 410 1468 410.9 1467.9 412.5 1467.4 413.3 1467.7 415 1467.5 415.7 1467.2 417.1 1467.6 418.1 1467.2 420 1467.2 421.7 1467.1 422.5 1467.6 424.1 1467.2 425 1467.4 426.5 1466.6 427.5 1466.8 429 1466.4 430 1466.6 431.4 1467.1 432.5 1467 433.8 1467.1 435 1466.6 436.2 1465.9 437.5 1466.3 438.9 1465.6 440 1465.6 441 1466.7 442.5 1467.2 443.4 1467.9 445 1468.8 445.8 1469 446.9 1469.5 448.2 1469.5 450 1469.4 452.5 1469.7 454.2 1469.6 455 1469.9 456.6 1469.7 457.5 1469.4 459 1469.8 460 1470 461.5 1469.4 462.5 1469.7 463.9 1470.1 465 1469.8 466.7 1469.5 467.5 1469.2 468.7 1469.1 470 1470.1 471.1 1470.2 472.5 1469.8 473.5 1469.8 475 1469.7 475.9 1469.5 477.5 1469.7 478.3 1469.8 480 1470.3 482.5 1470.3 485 1470.5 486.5 1470.5 487.5 1470.3 489.1 1470.3 490 1470.2 491.5 1470.7 492.5 1470.7 494 1470 495 1470.3 496.4 1470.7 497.5 1470.5 498.8 1470.4 500 1470.7 501.2 1471.3 502.5 1471.1 503.6 1470.6 505 1470.6 506.3 1470.9 507.5 1470.6 508.4 1470 510 1470.5 510.8 1470.6 512.5 1470.4 515 1471.2 516.8 1470.3 517.5 1470.5 519.2 1470.3 520.1 1470.4 521.6 1470.2 522.6 1470.7 524 1470.1 525.1 1470.6 526.4 1470.7 527.6 1470.2 528.9 1470 530.1 1470.5" fill="none" stroke="#8f8f8f" stroke-width="3.9" stroke-linejoin="round" stroke-linecap="round"/>
<path d="M340.9 1455.7 341.9 1453.4 342.9 1451.7 343.9 1448.7 344.9 1445.7 345.9 1444 346.8 1441.8 347.9 1443.8 348.8 1445.6 349.8 1450.7 351.4 1450.8 352.8 1454.7 354 1453.8 354.9 1452.7 355.7 1453.7 356.6 1455.3 357.9 1457.4 358.9 1459.2 359.7 1459.6 360.9 1458.2 361.9 1455.6 362.7 1452.7 364.5 1454.6 365.6 1454.7 366.9 1457.4 367.6 1458.7 368.9 1455.1 369.8 1451.9 370.6 1449.7 372.4 1450.2 374.6 1447.8 376.5 1436.9 377.7 1438.9 379.5 1443.8 380.3 1448.2 382.5 1451.7 383.9 1449.2 385.5 1445.1 386.4 1445.8 388.2 1447.7 388.9 1446.4 389.9 1445.6 391.4 1444.8 393.4 1441.3 394.4 1442.8 396.1 1439.7 397.3 1440.8 398.7 1438.8 399.9 1437 401.3 1432.9 402.9 1435.7 403.9 1439.1 405.3 1438.8 406.6 1434.4 407.9 1431.3 409.2 1427.9 409.9 1429.7 411.2 1433.9 411.9 1431.3 412.9 1429.9 414.4 1425.1 415.2 1426 416 1427.3 417.1 1431.1 418 1432.9 419.1 1432.9 420 1425.3 421.1 1417 422.3 1414.9 424.1 1409.1 425 1409.1 426 1406 427.1 1401.2 428 1402.7 429 1402.2 430.2 1387.4 431 1377.4 432 1369.2 432.8 1361.5 434 1350.7 435 1351.3 436 1352.7 437 1361.9 437.9 1369.5 439 1375.2 440 1378.5 440.7 1383.1 441.9 1387.3 443.4 1403.7 444.9 1421 446 1420.5 447 1421.4 448 1422 448.8 1423 450 1423.5 451.2 1425.7 452 1428.1 452.8 1429.9 453.9 1430.5 455 1431 456 1431.8 456.8 1432.9 458 1436.8 459 1439.6 459.7 1442.8 461 1440.6 461.7 1439.9 463 1439.7 464.7 1438.8 466 1440.9 467 1444.1 468.6 1446.8 469.6 1447.2 471 1445.8 472.6 1445.8 474 1446.5 474.9 1445.4 476.6 1441.8 477.5 1443.7 479 1444.6 480.5 1443.8 482 1441.8 482.8 1441.8 484 1441.7 485.4 1439.4 486.5 1436.9 488 1437.4 489 1438.9 490.4 1440.8 492 1444.9 493.3 1448.7 494.4 1448.7 495.9 1446.2 497 1444.7 498.4 1442.8 500.4 1454.7 501.2 1452.2 502 1452.1 503 1452.2 504.3 1452.7 505 1453.1 506.4 1454.5 508.3 1456.7 509 1459.3 510 1460 511 1461.2 512.2 1462.6 513 1460.5 514.3 1459.6 515 1460.5 516.2 1460.6 516.9 1456.9 518 1454.5 519 1451.1 520.2 1449.7 521.1 1448.8 522.2 1449.9 523.1 1449.7 524.1 1450.7 524.8 1452 526.1 1452.7 527.4 1453.2 529.1 1455.5 530.1 1456.7" fill="none" stroke="#23a323" stroke-width="3.9" stroke-linejoin="round" stroke-linecap="round"/>
<text x="433.6" y="1304.6" font-size="19.8" text-anchor="middle" textLength="181.5" lengthAdjust="spacingAndGlyphs">H3K4me1 (enhancer)</text>
<text x="336.5" y="1494.8" font-size="16" text-anchor="middle">-15Kb</text>
<text x="433.6" y="1494.8" font-size="16" text-anchor="middle">biomarker</text>
<rect x="338.6" y="1867.7" width="1.2" height="3" fill="#555"/>
<rect x="435.2" y="1867.7" width="1.2" height="3" fill="#555"/>
<rect x="531.9" y="1867.7" width="1.2" height="3" fill="#555"/>
<text x="334" y="1890.7" font-size="16" text-anchor="middle">-15Kb</text>
<text x="428.5" y="1890.7" font-size="16" text-anchor="middle">biomarker</text>
<text x="523" y="1890.7" font-size="16" text-anchor="middle">+15Kb</text>
<rect x="586.2" y="1325.3" width="193.2" height="1.1" fill="#c4c4c4"/>
<text x="570.6" y="1331.5" font-size="16" text-anchor="end">400</text>
<rect x="586.2" y="1374.1" width="193.2" height="1.1" fill="#c4c4c4"/>
<text x="570.6" y="1380.3" font-size="16" text-anchor="end">300</text>
<rect x="586.2" y="1422.9" width="193.2" height="1.1" fill="#c4c4c4"/>
<text x="570.6" y="1429.1" font-size="16" text-anchor="end">200</text>
<text x="570.6" y="1477.9" font-size="16" text-anchor="end">100</text>
<rect x="586.2" y="1471.6" width="193.2" height="1.4" fill="#2a2a2a"/>
<path d="M589.9 1472.5 591.1 1472.5 592.4 1472.2 593.5 1472.4 594.9 1473 595.9 1472.5 597.5 1472.7 598.3 1473.2 600 1472.8 600.7 1473.3 602.5 1473 605 1472.1 606.8 1472.9 607.5 1473 609.2 1473 610.1 1472.8 611.6 1472.8 612.6 1472.6 614 1472.3 615.1 1472.4 616.4 1472.6 617.6 1472.3 618.8 1472.5 620.2 1472.8 621.2 1472.4 622.7 1472.6 623.6 1472.2 625.2 1472.8 626 1472.5 627.7 1472.8 628.4 1472.6 630.2 1472.5 632.1 1472.2 632.8 1472.4 634.5 1472.4 635.3 1472.8 637.4 1472.5 639.3 1471.9 640.3 1471.7 641.7 1471.7 642.9 1471.7 644.1 1471.5 645.4 1471.5 646.5 1471.5 647.9 1471.7 648.9 1472.1 650.4 1471.9 651.3 1471.8 653 1471.4 653.8 1471.1 655.5 1471.9 658 1471.5 659.8 1470.9 660.5 1471.3 662.2 1470.9 663 1471.2 664.6 1471.6 665.6 1471.7 667.1 1471.5 668.1 1471.5 669.4 1470.9 670.6 1470.9 671.8 1470.4 673.1 1470.5 674.2 1469.8 675.7 1469.6 676.6 1469 678.2 1469 679.1 1469.5 680.7 1469 681.5 1468.6 683 1468.5 683.9 1468.9 685.7 1468.9 687.5 1469.5 688.3 1469.8 689.9 1470.1 690.8 1470 692.3 1470.5 693.3 1470.8 694.7 1471.4 695.8 1471 696.9 1471.5 698.4 1471.7 699.5 1471.6 700.9 1471.5 702 1471.8 703.4 1471.5 704.4 1472.1 705.9 1472.1 706.8 1471.7 708.4 1472.2 709.2 1472.2 711 1471.8 713.5 1472.6 715.2 1472.7 716.7 1472.5 717.6 1472.4 718.5 1472.1 720 1472.3 721.1 1472.4 722.4 1472.4 723.6 1472 724.8 1472.4 726.1 1472.8 727.3 1472.6 728.6 1472.9 729.7 1472.8 731.1 1473 732.1 1472.4 733.7 1472.6 734.5 1472.2 736.2 1472.1 736.9 1472.6 738.7 1472.8 740.5 1472.6 741.2 1472.8 742.9 1472.7 743.8 1472.4 745.3 1472.8 746.3 1472.9 747.7 1473.2 748.8 1473 750.2 1472.5 751.3 1472.5 752.6 1472.2 753.8 1472 755 1472.6 756.4 1472.3 757.4 1472.8 758.9 1473 759.8 1473.1 761.4 1472.1 762.2 1471.9 763.9 1472.1 766.5 1472.3 768.2 1472.9 769 1472.9 770.6 1473.1 771.5 1473 773 1473.2 774 1472.6 775.5 1472.9 776.5 1472.7 777.9 1473 779.1 1472.5" fill="none" stroke="#8f8f8f" stroke-width="3.9" stroke-linejoin="round" stroke-linecap="round"/>
<path d="M589.9 1463.6 590.9 1463.3 591.9 1464.4 592.9 1465.6 593.9 1466.8 594.9 1469.2 595.8 1469.5 596.9 1470.3 597.8 1470.9 598.9 1470.7 599.9 1471.4 600.8 1472.5 601.9 1471 602.8 1470.5 603.9 1464.8 604.9 1458.7 605.7 1454.7 606.9 1455.9 608.3 1458.9 609.7 1457.7 610.9 1459.4 611.9 1464.4 612.7 1466.6 613.5 1466.9 614.9 1469.1 615.9 1470 616.6 1469.5 617.9 1469.5 618.8 1469.6 620.6 1470.5 621.4 1468.6 622.6 1460.6 624 1459.9 624.9 1460.1 625.9 1460.6 626.7 1461.5 627.5 1461.6 629.3 1460.8 630.9 1462.3 631.9 1463.3 633.5 1464.6 634.6 1465.4 635.9 1465.6 637.2 1466.1 637.9 1465.6 639.4 1466.6 640.9 1463.1 642.4 1459.5 643.4 1456.7 645.1 1455.6 646.3 1451.7 647.7 1456.7 648.9 1460.5 650.3 1462.6 651.9 1460.7 653 1460.9 654.3 1463.6 655.6 1458.6 657.2 1452.7 658.2 1455.2 659 1455.5 660.2 1453.7 661 1456.5 662 1459.4 663.5 1463.6 664.2 1464.6 665 1464 666.1 1465 667.1 1465.6 668 1464.3 668.7 1462.8 670 1457.1 671.1 1452.7 672 1448.9 673 1446.2 674 1443.1 675.1 1436.9 676.6 1430.6 678 1427 679.2 1410.7 680 1397.2 681 1386.6 681.9 1376.2 683 1360.6 684.5 1358.7 686 1360.6 687.1 1375.2 687.9 1383.4 689 1396.3 689.7 1404.5 690.9 1421 692 1429 692.9 1434.9 694 1435.3 695 1437.5 696 1438.6 696.9 1439.8 697.6 1441.6 699 1444.3 700 1446.5 700.8 1448.7 702 1450.9 702.9 1454 704 1455.1 705.5 1454.9 706.8 1458.7 708.1 1461.9 709 1463.3 710 1462.6 710.8 1463.9 712 1463.3 712.7 1463.6 714 1460.5 715 1460.2 716.7 1456.7 718.6 1460.3 720.6 1462.6 722 1456.8 723 1454.2 724.6 1448.7 726.5 1451.6 728.5 1454.7 730 1459.3 731 1463.2 731.8 1466.4 732.5 1470.5 734.5 1472.5 736.5 1464.6 738 1461.6 739.7 1459.8 741.4 1458.7 742.3 1459.1 743 1462.1 744.4 1464.6 746 1468.7 747.5 1471.6 748.4 1470.5 750.2 1470.3 751 1470.2 752.3 1472.5 753 1472.8 754 1471.9 755.4 1472.9 756.3 1472.5 757 1472.6 758.1 1472.3 759.1 1470.5 760.2 1470.5 761.1 1470.5 762.1 1469.7 763.3 1470 764.1 1471.1 765.1 1470.3 766.2 1470.5 767.1 1469.7 768.6 1470 770.1 1467.6 771.1 1465.6 772.1 1464 773.1 1461.8 773.8 1461.4 775.1 1461 776.1 1460.6 777.1 1462.5 778.1 1462.4 779.1 1463.6" fill="none" stroke="#f59e22" stroke-width="3.9" stroke-linejoin="round" stroke-linecap="round"/>
<text x="682.8" y="1304.6" font-size="19.8" text-anchor="middle" textLength="169.0" lengthAdjust="spacingAndGlyphs">ATAC (accessibility)</text>
<text x="586.2" y="1494.8" font-size="16" text-anchor="middle">-75Kb</text>
<text x="682.8" y="1494.8" font-size="16" text-anchor="middle">biomarker</text>
<text x="779.4" y="1494.8" font-size="16" text-anchor="middle">+75Kb</text>
<rect x="593.7" y="1865.2" width="1.2" height="3" fill="#555"/>
<rect x="690" y="1865.2" width="1.2" height="3" fill="#555"/>
<rect x="786.3" y="1865.2" width="1.2" height="3" fill="#555"/>
<text x="581.2" y="1890.7" font-size="16" text-anchor="middle">-75Kb</text>
<text x="682.4" y="1890.7" font-size="16" text-anchor="middle">biomarker</text>
<text x="779.4" y="1890.7" font-size="16" text-anchor="middle">+75Kb</text>
<rect x="840.2" y="1325.3" width="192.1" height="1.1" fill="#c4c4c4"/>
<text x="823.2" y="1331.5" font-size="16" text-anchor="end">60%</text>
<rect x="840.2" y="1398.5" width="192.1" height="1.1" fill="#c4c4c4"/>
<text x="823.2" y="1404.7" font-size="16" text-anchor="end">35%</text>
<text x="823.2" y="1477.9" font-size="16" text-anchor="end">10%</text>
<rect x="840.2" y="1471.6" width="192.1" height="1.4" fill="#2a2a2a"/>
<path d="M841.9 1469.5 843.1 1469.4 844.4 1468.9 845.5 1469 846.9 1469 847.9 1468.2 849.4 1468 850.3 1468.5 851.9 1468.3 852.7 1468.2 853.8 1467.6 855.2 1467.7 856.9 1467.5 859.5 1467.6 861.2 1468.2 862 1467.8 863.6 1467.8 864.5 1468.4 865.7 1468.5 867 1468.1 868.4 1468.4 869.5 1467.8 870.8 1466.5 872 1466.2 873.3 1465.9 874.5 1466.3 875.6 1465.6 877 1466 878.1 1465.8 879.5 1466 880.5 1466 882 1466.5 882.9 1465.8 884.5 1465.8 885.3 1466 887.1 1466.8 889.4 1466.6 890.1 1466.8 891.4 1466.7 892.1 1466.3 893.8 1466.7 894.6 1466.8 896.2 1466.6 897.1 1466.2 898.6 1466.5 899.6 1466.5 901.3 1466.6 902.1 1466.9 903.4 1465.7 904.6 1465.5 905.8 1464.9 907.1 1465.1 908.2 1464.9 909.2 1464.6 910.7 1465 912.1 1465 913.1 1465 914.7 1465.1 915.5 1465.4 917.2 1464.6 917.9 1464.2 919.1 1464.6 920.3 1464.5 922.2 1464.7 923.9 1464.2 924.7 1464.2 926.3 1464.9 927.2 1464.5 928.7 1464.7 929.7 1464.2 931.2 1464.4 932.2 1464.1 933 1463.6 934.7 1463.7 936 1463.6 937.2 1463.4 938.4 1463.9 939.7 1463.9 940.9 1463.6 942.3 1464 943.2 1464.6 944.8 1464.9 945.6 1465.1 947.3 1465.6 948 1465.9 949.8 1466.5 951.7 1466.8 952.8 1467.6 954.1 1467.9 954.8 1467.9 956.5 1467.4 957.3 1466.9 958.9 1467.3 959.8 1467.4 961.3 1466.8 962.3 1466.7 963.7 1467.1 964.8 1466.5 966.1 1466.4 967.3 1466.5 968.7 1466.6 969.9 1466.6 971 1466.6 972.4 1466.1 973.4 1466.6 974.9 1466.5 975.8 1466.8 977.4 1466.1 978.2 1466.1 979.9 1466.2 980.6 1466.4 982.4 1465.6 984.5 1465.6 985.4 1465.4 986.7 1465.2 987.4 1465.8 989.1 1466.3 989.9 1466.6 991.5 1467 992.4 1466.8 993.9 1467.2 995 1467.9 996.3 1468.3 997.5 1468.2 998.7 1468.2 1000.4 1468.5 1001.1 1468.6 1002.5 1468.7 1003.5 1468.4 1005 1468.1 1006 1467.9 1007.5 1468.6 1008.4 1468.5 1010 1468.6 1010.8 1468.7 1012.2 1468.5 1013.2 1467.9 1015 1468.1 1016.8 1468.1 1017.5 1467.9 1019.2 1467.8 1020 1467.9 1021.6 1468.7 1022.6 1468.4 1024 1468.2 1025.1 1467.3 1026.5 1468.1 1027.6 1468 1028.9 1467.3 1030.1 1467.6" fill="none" stroke="#8f8f8f" stroke-width="3.9" stroke-linejoin="round" stroke-linecap="round"/>
<path d="M842.9 1456.7 843.9 1455.4 845.5 1452.2 846.8 1449.7 848.1 1454.8 848.9 1459.3 849.8 1463.6 850.8 1460.8 851.9 1458.4 852.8 1456.7 853.9 1457.5 854.9 1458.7 856 1458.9 856.7 1456.7 857.9 1456.6 858.6 1456.3 859.9 1458.8 860.7 1459.6 861.9 1461 862.9 1464 863.7 1464.6 864.9 1460.1 865.7 1455.7 866.5 1457.4 867.9 1458.9 868.6 1460.6 869.9 1459.9 870.9 1457 871.8 1456.5 872.6 1454.7 874.4 1449.3 876.5 1444.8 877.9 1442.8 879.5 1438.8 880.9 1438 882.3 1439.3 883.5 1439.8 884.9 1439.8 885.9 1441.6 887.5 1442.8 889.4 1438.8 890.2 1440.6 891.4 1449.7 893.4 1452.7 895.4 1442.8 896.9 1437.4 898.3 1430.9 899.9 1434.7 901.3 1438.8 903.3 1439.5 905.3 1436.9 906.9 1438.8 908.2 1438.8 909.9 1428.8 911.2 1421 911.9 1420.8 912.9 1419.1 913.8 1417.1 915.2 1415.1 916.5 1415 918 1417.2 919.1 1417.2 920 1419.2 921.1 1420 922 1417 923 1411.8 924.1 1405.2 925 1401.4 926 1396.4 927.1 1391.3 928 1389.6 929.6 1388.2 931 1385.3 932.2 1379.3 933 1373.5 934 1361.8 934.8 1352.2 936 1335.8 937.5 1339.1 939 1337.8 940.1 1348.5 940.9 1357.6 942 1367.1 942.7 1372.9 943.9 1379.4 945.4 1395.1 946.9 1409.1 948 1415.5 949 1419.8 949.9 1423 950.6 1420.3 952 1416 952.8 1415.1 954 1417 955 1418.8 955.9 1420.2 956.8 1421 958.5 1429.8 960 1435.1 960.7 1436.9 962 1440.4 963 1442.2 963.7 1444 965 1447.3 966.7 1451.7 968 1447.5 969 1443.7 970 1441.8 971.6 1438.8 973 1443.6 974.6 1449.7 976 1449.8 976.9 1449.9 978.6 1448.7 979.5 1450.3 981 1447.4 982.1 1445.3 983 1444.6 984.5 1444.8 986 1442.9 987.4 1440.1 988.5 1436.9 990.5 1442.8 992.6 1447.8 994.4 1449.7 995.3 1448.1 996 1448.5 997 1449.3 998.4 1448.7 1000.5 1454.1 1002.4 1456.7 1003.2 1455.6 1004 1456.1 1005 1454.2 1006.3 1454.7 1007 1455.4 1008.4 1456.8 1010.3 1460.6 1011 1460.5 1012 1461.3 1013.2 1464.6 1014 1465.1 1015 1467.3 1016.2 1469.5 1017 1467.6 1018 1464.5 1018.9 1461.1 1020.2 1454.7 1021.5 1450.8 1023.1 1450.4 1024.2 1450.4 1025.1 1448.7 1026.1 1451.3 1026.8 1451.6 1028.1 1453.4 1029.1 1454.7 1030.1 1458 1031.1 1459.9 1032.1 1463.6" fill="none" stroke="#961a5e" stroke-width="3.9" stroke-linejoin="round" stroke-linecap="round"/>
<text x="936.2" y="1304.6" font-size="19.8" text-anchor="middle" textLength="176.0" lengthAdjust="spacingAndGlyphs">chromHMM (enhan.)</text>
<text x="840.2" y="1494.8" font-size="16" text-anchor="middle">-15Kb</text>
<text x="936.2" y="1494.8" font-size="16" text-anchor="middle">biomarker</text>
<text x="1032.3" y="1494.8" font-size="16" text-anchor="middle">+15Kb</text>
<rect x="838.6" y="1869.1" width="1.2" height="3" fill="#555"/>
<rect x="935.2" y="1869.1" width="1.2" height="3" fill="#555"/>
<rect x="1031.9" y="1869.1" width="1.2" height="3" fill="#555"/>
<text x="835" y="1890.7" font-size="16" text-anchor="middle">-15Kb</text>
<text x="935.5" y="1890.7" font-size="16" text-anchor="middle">biomarker</text>
<text x="1032.4" y="1890.7" font-size="16" text-anchor="middle">+15Kb</text>
<rect x="88.2" y="1950.5" width="193.3" height="1.1" fill="#c4c4c4"/>
<text x="73.4" y="1956.6" font-size="16" text-anchor="end">2.5</text>
<rect x="88.2" y="2023.7" width="193.3" height="1.1" fill="#c4c4c4"/>
<text x="73.4" y="2029.8" font-size="16" text-anchor="end">1.5</text>
<text x="73.4" y="2103" font-size="16" text-anchor="end">0.5</text>
<rect x="88.2" y="2096.7" width="193.3" height="1.4" fill="#2a2a2a"/>
<path d="M91.9 2082.7 93.1 2082.7 94.4 2081.9 95.5 2081.5 96.9 2081.5 97.9 2080.9 99.8 2080.7 101.9 2080.3 102.7 2080.3 104.4 2080.1 105.2 2080.1 106.9 2080.1 109.5 2079.7 111.2 2079.3 112 2079.6 113.6 2080 114.5 2080 116 2080.1 117 2079.8 118.4 2079.5 119.6 2079.7 120.8 2080.4 122 2080.3 123.3 2080.1 124.5 2080.4 125.7 2080.5 127 2079.8 128.1 2079.9 129.5 2080.1 130.5 2080.5 132 2080.3 132.9 2080.7 134.5 2080.9 135.3 2080.6 137.1 2080.1 139.4 2080.7 140.1 2080.1 141.4 2080.8 142.1 2080.2 143.8 2080.3 144.6 2080.2 146.2 2080.3 147.1 2080 148.6 2080.2 149.6 2080 151 2079.5 152.1 2079.7 153.4 2080.3 154.6 2080.2 155.8 2080.2 157.1 2080 158.2 2079.5 159.2 2079.7 160.7 2079.2 162.1 2079.5 163.1 2079.5 164.7 2079.8 165.5 2079.2 167.2 2079.3 167.9 2079.1 169.7 2079.5 172.2 2079.5 173.9 2079.7 175.1 2079.7 176.3 2080.6 177.2 2081.1 178.7 2081.6 179.7 2082.2 181.2 2082.8 182.2 2083 183.6 2084.1 185 2084.6 186 2083.7 187.2 2083.2 188.4 2082.6 189.7 2082.6 190.8 2081.6 192 2081 192.9 2080.7 194.8 2080.8 195.6 2080.1 197.3 2079.8 198 2079.5 199.8 2079.8 201.7 2080 202.8 2079.7 204.1 2080.2 204.8 2080.1 206.5 2079.6 207.3 2080.1 208.9 2081 209.8 2080.7 211.3 2081.1 212.3 2081.2 213.7 2081 214.8 2081.1 216.1 2081.5 217.3 2082 218.7 2081.7 219.9 2082 221 2082 222.4 2082.5 223.4 2082.5 224.9 2082.3 225.8 2082.7 227.4 2083.5 228.2 2083.1 229.4 2083.9 230.6 2083.7 232.4 2083.7 234.9 2083.4 236.7 2082.8 237.4 2083.3 239.1 2083.8 239.9 2083.7 241.5 2083.6 242.4 2083.6 243.9 2083.4 245 2083.7 246.3 2083.4 247.5 2083.4 248.7 2083.6 250.4 2083.7 251.1 2083.6 252.5 2082.9 253.5 2082.5 255 2082.9 256 2082.9 257.5 2082 258.4 2081.7 260 2081.8 260.8 2082.2 262.2 2081.7 263.2 2081.5 265 2081.7 266.8 2081.5 267.5 2082.2 269.2 2082.1 270 2081.7 271.6 2081.5 272.6 2081.9 274 2081.8 275.1 2082 276.5 2081.7 277.6 2082.1 278.9 2081.9 280.1 2082.7" fill="none" stroke="#8f8f8f" stroke-width="3.9" stroke-linejoin="round" stroke-linecap="round"/>
<path d="M90.9 2073.7 91.9 2068 92.9 2061.9 93.9 2063.9 94.9 2066.1 95.8 2066.8 96.9 2066.1 97.9 2064.3 98.8 2062.8 99.9 2068.3 100.8 2071.8 101.9 2074.3 102.9 2078.4 103.8 2079.7 104.9 2081.5 105.9 2082.3 106.7 2084.6 107.9 2083.3 108.9 2083.1 109.7 2081.7 110.9 2076.5 111.7 2074.7 112.9 2077.6 113.9 2081 114.7 2083.7 115.9 2081.1 116.9 2078.8 117.6 2077.7 118.9 2076.2 119.8 2075.1 120.6 2071.8 122.4 2067 124.6 2065.8 125.9 2068.4 127.5 2069.8 128.9 2073.4 130.5 2078.7 132.5 2059.9 134.5 2077.7 135.6 2078.5 137.4 2085.6 138.2 2081.1 138.9 2079.3 140.4 2075.7 141.9 2078.7 143.4 2081.7 145 2075.4 146.4 2071.8 148 2076.3 149.3 2079.7 151.3 2080.2 153.3 2081.7 155.3 2075.7 156.6 2079.5 158.2 2083.7 159.2 2083.5 160 2082.8 161.2 2079.7 162 2084.2 163.2 2089.6 164.5 2081.4 165.2 2075.7 166 2074.6 167.1 2072.6 168 2071.8 169.1 2069.8 170 2070.5 171 2069.5 172.4 2070.4 173.1 2068.8 174 2066.5 175 2065.1 176.1 2063.8 177 2054.9 178.1 2042 179 2041.3 180.2 2042.9 181 2040.1 182 2031.7 183 2022.2 184 1997.3 185 1972.7 186 1972.2 187 1972.7 188.1 1987.9 188.9 2002.4 190 2011.6 190.9 2018.3 192 2019.6 192.9 2022.2 193.9 2038.1 195 2043.9 196 2047.4 196.9 2048 198.6 2047.6 199.8 2051 201 2052.8 201.8 2055.9 203 2063.7 203.8 2067.8 205 2073.6 206 2076.7 206.8 2079.7 208 2075.2 209 2072.8 209.8 2069.8 211 2074.3 211.8 2075.8 212.7 2081.7 214.4 2075.7 216.7 2065.8 218 2072 219.7 2081.7 221 2076.3 222.6 2069.8 224 2073.7 224.9 2076.6 226.6 2077.7 227.5 2077.3 229 2077.8 230.6 2079.7 232 2077 232.8 2075.1 234 2075.4 235.4 2076.6 236.5 2073.7 238 2077.9 239 2079 240.5 2081.7 242 2078.8 243.3 2076.9 244.4 2071.8 245.9 2073.3 247 2073.7 248.4 2075.7 250.1 2079.8 251.2 2083.2 252.3 2085.6 253.1 2087.1 253.8 2088.2 255.1 2088 256.3 2089.6 257.1 2089.2 258.1 2091.4 259.1 2091 260.3 2091.6 261.7 2086.9 263.1 2084.9 264.2 2081.7 265.1 2076.8 266.2 2071.8 266.9 2072.2 268.1 2077 269.2 2079.7 270.1 2079.8 271.1 2079.4 272.2 2079.7 273.1 2081 274.1 2082.1 274.8 2083.4 276.1 2085.6 277.5 2083 279.1 2081.9 280.1 2081.7" fill="none" stroke="#1f9bef" stroke-width="3.9" stroke-linejoin="round" stroke-linecap="round"/>
<text x="184.8" y="1929.7" font-size="19.8" text-anchor="middle" textLength="146.5" lengthAdjust="spacingAndGlyphs">H3K27ac (active)</text>
<text x="88.2" y="2119.9" font-size="16" text-anchor="middle">-15Kb</text>
<text x="184.8" y="2119.9" font-size="16" text-anchor="middle">biomarker</text>
<text x="281.5" y="2119.9" font-size="16" text-anchor="middle">+15Kb</text>
<rect x="91.8" y="2499.7" width="1.2" height="3" fill="#555"/>
<rect x="188.1" y="2499.7" width="1.2" height="3" fill="#555"/>
<rect x="284.4" y="2499.7" width="1.2" height="3" fill="#555"/>
<text x="86.8" y="2515.2" font-size="16" text-anchor="middle">-15Kb</text>
<text x="184.8" y="2515.2" font-size="16" text-anchor="middle">biomarker</text>
<text x="276.5" y="2515.2" font-size="16" text-anchor="middle">+15Kb</text>
<rect x="336.5" y="1950.5" width="194.3" height="1.1" fill="#c4c4c4"/>
<text x="322" y="1956.6" font-size="16" text-anchor="end">2</text>
<rect x="336.5" y="1999.2" width="194.3" height="1.1" fill="#c4c4c4"/>
<text x="322" y="2005.4" font-size="16" text-anchor="end">1.5</text>
<rect x="336.5" y="2048" width="194.3" height="1.1" fill="#c4c4c4"/>
<text x="322" y="2054.2" font-size="16" text-anchor="end">1</text>
<text x="322" y="2103" font-size="16" text-anchor="end">0.5</text>
<rect x="336.5" y="2096.7" width="194.3" height="1.4" fill="#2a2a2a"/>
<path d="M339.9 2074.7 341.1 2074.9 342.4 2074.2 343.5 2074 345 2074.9 345.9 2074.3 347.5 2074.3 348.3 2074.1 350 2074.3 350.8 2074.7 352.5 2074.3 354.4 2074 355.1 2073.2 356.8 2073.8 357.6 2073.9 359.2 2073.9 360.1 2073.5 361.6 2073.5 362.7 2073.2 364 2072.9 365.2 2072.8 366.4 2072.4 367.6 2072.8 368.9 2073.1 370.3 2072.6 371.3 2073.2 372.8 2073 373.7 2073.1 375.3 2072.8 376.1 2073 377.9 2073.1 380.4 2073.1 382.1 2073 382.9 2072.8 384.5 2072.5 385.5 2072.6 387.4 2072.8 388.2 2073 389.4 2072.7 390.5 2072.8 391.8 2072.1 393 2072 394.2 2071.6 395.6 2072.2 396.6 2071.9 398.1 2072.3 399 2072.2 400.6 2072.4 401.4 2072 403.2 2071.8 405.7 2072.2 407.2 2071.8 408.2 2071.7 409.9 2071.3 410.8 2071.5 412.3 2071.3 413.3 2071.4 414.7 2071.7 415.8 2072 417.1 2071.9 418.4 2071.9 419.1 2071.8 420.9 2071.4 422 2071 423.4 2070.8 424.4 2070.7 426 2069.7 427.1 2069.8 428.5 2068.8 429.2 2068.7 431 2068.2 432 2067.8 432.8 2063.7 434 2058.9 435.2 2061.6 436 2063.8 437.7 2068 438.9 2071.8 440.1 2071.6 441.1 2071.2 442.5 2071 443.7 2071.3 444.9 2070.8 446.1 2070.6 446.9 2070.8 448.7 2070.6 449.7 2070.3 451.3 2070.8 452.1 2071.1 453.8 2070.5 454.8 2070.8 456.3 2071.2 458.9 2071.3 460.6 2071.2 461.4 2071.5 463 2072.3 463.9 2072.4 465.4 2072.6 466.7 2072.8 467.8 2073.1 469 2073 470.2 2072.8 471.5 2072.6 472.7 2073.4 474 2073.4 475.1 2073.1 476.6 2072.9 477.5 2073.3 479.1 2073.3 479.9 2073.6 481.6 2073 484.2 2073.9 486.5 2073.7 488.3 2073.5 489.2 2074.1 490.8 2074.2 491.8 2074.2 493.2 2074.1 494.3 2073.8 495.6 2073.6 496.8 2073.3 498 2073.7 499.4 2074 500.4 2074.2 501.9 2074 502.8 2073.9 504.4 2073.7 505.2 2073.5 506.3 2073.7 507.7 2073.8 509.5 2074.3 511.3 2074.1 512 2074.5 513.7 2074.2 514.5 2074.2 516.1 2074.4 517.1 2073.9 518.5 2074 519.6 2074.4 520.9 2074.7 522.1 2074.7" fill="none" stroke="#8f8f8f" stroke-width="3.9" stroke-linejoin="round" stroke-linecap="round"/>
<path d="M339.9 2079.7 340.9 2082.6 341.9 2083.7 342.9 2075.3 343.9 2066.8 345.1 2073.2 345.8 2075.7 346.9 2074.9 347.7 2074.4 348.8 2071.8 350.3 2067.4 351.8 2065.8 353 2063.2 353.8 2061.9 354.9 2068.3 355.7 2073.7 356.9 2071.7 357.9 2070.2 358.7 2069.8 359.9 2076 360.8 2078.8 361.7 2079.7 363.4 2077.9 364.6 2074.7 366 2074.6 366.9 2071.4 367.6 2069.8 368.6 2069.5 370.6 2071.8 371.9 2069.3 372.9 2067.4 374.6 2063.8 376.5 2069.9 377.5 2071.8 379.1 2074.6 380.5 2075.7 381.7 2075.7 383.5 2069.8 384.3 2071.9 385.9 2073.1 387.4 2074.7 389.6 2072.8 391.4 2067.8 392.2 2071.1 392.9 2075 394.4 2079.7 395.9 2076.3 397.4 2074.4 398.3 2069.8 400 2070.1 401.3 2073.7 402.6 2071.6 404.3 2069.8 405.2 2069.9 406 2069.6 407.2 2071.8 408 2071.6 409 2072.3 410.5 2073.2 411.2 2070.8 412 2068.9 413.1 2064.1 414.2 2061.9 415 2062.9 415.7 2063.9 417.1 2065.8 418.3 2060.3 420.1 2055.9 420.9 2054.4 422 2052.3 423.1 2051.9 424 2045.2 425.1 2038.1 426.1 2035.7 427 2032.8 428 2030.2 428.8 2028.3 430 2024.2 431 2014 432 2002.4 433 1989.7 434 1977.7 435 1976.9 436 1977.7 436.9 2000.5 438 2007.6 438.9 2012.3 440 2026 440.9 2036.1 441.8 2039.6 443 2044.3 443.9 2046 445 2051.1 446 2055.6 446.9 2059.9 448 2056.8 449 2054.8 449.8 2052.9 451 2061.5 451.8 2067.8 453 2066.3 454 2066.4 454.8 2065.8 456 2069.5 457.5 2071.7 458.7 2071.8 460.1 2069.4 461 2065 462 2062.8 462.7 2059.1 463.7 2058.9 465.4 2064.8 466.7 2069.8 468 2072.6 469 2072.8 470.6 2071.8 472 2068.5 473.2 2065 474.6 2059.9 475.8 2064.5 477.6 2071.8 478.4 2073.8 480 2072 481 2072.3 482.5 2069.8 483.6 2070 485 2072.5 486.5 2074.7 488 2074.1 488.9 2074.4 490.4 2071.8 491.5 2072.9 493 2070.3 494.4 2069.8 496.7 2069.1 498.4 2071.8 499.3 2073.9 500.1 2073.8 501.1 2074.7 502.3 2074.7 503.1 2077.3 504.6 2080.6 505.3 2084.6 506.1 2082.9 507.2 2079 508.3 2075.7 509.1 2074 509.8 2074.3 511.1 2072.8 512.2 2071.8 513.1 2066.8 514.2 2060.9 515 2064.6 516.1 2065.8 517.2 2067.8 518.1 2065.7 519.1 2066 520.2 2063.8 521.1 2064.9 522.1 2063.8 522.9 2064.9 524.1 2067.8 525.5 2075.3 527.1 2080 528.1 2083.7" fill="none" stroke="#23a323" stroke-width="3.9" stroke-linejoin="round" stroke-linecap="round"/>
<text x="433.6" y="1929.7" font-size="19.8" text-anchor="middle" textLength="181.5" lengthAdjust="spacingAndGlyphs">H3K4me1 (enhancer)</text>
<text x="336.5" y="2119.9" font-size="16" text-anchor="middle">-15Kb</text>
<text x="433.6" y="2119.9" font-size="16" text-anchor="middle">biomarker</text>
<text x="530.8" y="2119.9" font-size="16" text-anchor="middle">+15Kb</text>
<rect x="333.2" y="2494.1" width="1.2" height="3" fill="#555"/>
<rect x="429.4" y="2494.1" width="1.2" height="3" fill="#555"/>
<rect x="525.5" y="2494.1" width="1.2" height="3" fill="#555"/>
<text x="334" y="2515.2" font-size="16" text-anchor="middle">-15Kb</text>
<text x="428.5" y="2515.2" font-size="16" text-anchor="middle">biomarker</text>
<text x="523" y="2515.2" font-size="16" text-anchor="middle">+15Kb</text>
<rect x="586.2" y="1950.5" width="193.2" height="1.1" fill="#c4c4c4"/>
<text x="570.6" y="1956.6" font-size="16" text-anchor="end">500</text>
<rect x="586.2" y="1999.2" width="193.2" height="1.1" fill="#c4c4c4"/>
<text x="570.6" y="2005.4" font-size="16" text-anchor="end">400</text>
<rect x="586.2" y="2048" width="193.2" height="1.1" fill="#c4c4c4"/>
<text x="570.6" y="2054.2" font-size="16" text-anchor="end">300</text>
<text x="570.6" y="2103" font-size="16" text-anchor="end">200</text>
<rect x="586.2" y="2096.7" width="193.2" height="1.4" fill="#2a2a2a"/>
<path d="M590.9 2071.8 592.1 2070.9 593.4 2069.6 594.5 2068.3 595.8 2067.8 596.9 2067.8 598.4 2067.7 599.3 2067.5 600.9 2066.9 601.7 2066.6 602.9 2066.4 603.8 2066.8 605.9 2066.7 607.7 2065.8 608.4 2066.2 610.2 2067.7 611 2068.6 612.7 2070.8 613.5 2069.4 615 2068.2 616 2066.8 617.6 2064.8 618.5 2064.5 619.8 2064 621 2064.4 622.2 2064 623.5 2062.9 624.7 2063.1 625.5 2062.8 627.1 2063.7 628.5 2064.4 629.5 2064.4 631 2065.2 631.9 2065.9 633.5 2065.8 634.3 2065.9 636 2065.1 638.6 2064.6 639.4 2063.8 640.3 2063.1 641.1 2062.2 642.8 2062 643.6 2061.3 645.2 2059.5 646.3 2058.9 647.6 2059.9 648.6 2059.9 650 2060.5 651.1 2061.8 652.4 2062.1 653.3 2062.8 654.8 2062.2 656.1 2062.1 657.2 2061.9 658.6 2062.1 659.6 2061.6 661.2 2061.9 662.1 2061.4 663.6 2060.9 664.5 2060.5 666.2 2058.7 666.9 2058.7 668.7 2057.3 671.1 2055.9 672.9 2057.7 673.7 2058.3 675.3 2059.7 676.2 2060.2 677.7 2061.2 679 2061.9 680.1 2062.4 681.2 2063.8 682.6 2064.7 683.7 2066.2 685 2067.2 686 2067.8 687.4 2065.9 688.7 2063.9 689.8 2062.5 691.2 2060.7 692.9 2057.9 693.8 2058.2 694.6 2058.7 696.3 2058.3 697 2057.8 698.8 2058 700.8 2057.9 701.9 2057.5 703.1 2057.1 703.8 2057.1 705.5 2057.6 706.3 2057.1 707.9 2057 708.8 2056.2 710.7 2055.9 711.5 2056.7 712.7 2057.3 713.8 2058 715.1 2059.1 716.7 2059.9 717.5 2061 718.8 2061.9 720 2063.1 721.4 2064.6 722.6 2065.8 723.9 2065.9 724.8 2065.2 726.4 2064.2 727.2 2063.7 728.5 2063.8 729.6 2064.4 731.4 2065.2 733.9 2065.5 735.6 2066.6 736.5 2066.8 738.1 2065.4 738.9 2064.5 740.5 2063.1 741.4 2062.5 742.4 2061.9 743.9 2063.1 745.3 2064.4 746.5 2064.6 747.7 2065.8 749 2067.1 750.4 2067.8 751.5 2066.8 752.5 2066 754 2064.5 754.9 2063.7 756.3 2061.9 757.4 2063.2 759 2064.1 759.8 2064.7 761.5 2066 763.4 2068.3 764.2 2068.8 765.8 2068.3 766.5 2068.5 768.2 2067.7 769 2067.9 770.6 2067.8 772.1 2067.8 773 2067.9 774.1 2067.3 775.5 2066.4 776.6 2066.1 777.9 2065.7 779.1 2064.8" fill="none" stroke="#8f8f8f" stroke-width="3.9" stroke-linejoin="round" stroke-linecap="round"/>
<path d="M590.9 2089.6 591.9 2088.6 593.5 2084.7 594.9 2082.7 595.8 2081.7 596.9 2082.4 597.9 2085.2 598.8 2086.2 599.8 2087.6 601.4 2091.6 602.8 2095.5 604 2091.2 604.9 2091.4 605.7 2089.6 606.6 2086.9 607.9 2083.2 608.7 2081.7 609.9 2085.3 610.9 2088 611.7 2089.6 612.9 2091.4 613.9 2094.5 614.6 2095.5 615.9 2096.1 616.9 2096.6 617.6 2097.5 618.9 2085.3 619.8 2077.9 620.6 2069.8 622.4 2056 623.6 2051 625.5 2051 626.9 2061.9 627.7 2066.7 628.5 2071.8 630.3 2074.9 631.5 2077.7 632.9 2084.7 634.5 2087.6 635.5 2088.4 637.4 2083.7 638.2 2087.2 638.9 2087.7 639.9 2090.9 641.4 2093.6 643.4 2076.2 644.4 2071.8 646.1 2066.2 647.3 2061.9 648.7 2063.6 650.3 2067.8 651.3 2072.2 652.3 2077.7 653.9 2080.6 654.9 2080.5 655.9 2080.5 657.2 2079.7 657.9 2071.1 659.2 2053.9 659.9 2048.1 660.9 2040.1 662.2 2030.2 662.9 2030.7 664.5 2029.9 665.2 2032.1 666 2040.2 667.1 2051.9 668 2047.6 669.1 2040.1 670 2041.1 671.1 2044 672.3 2042.6 674.1 2040.1 675 2054.7 676.1 2071.8 677 2071.5 678 2069.8 679 2065.2 680 2057.9 681 2030.8 682 2002.4 682.8 1989.8 684 1975.4 685 1960.8 686 1959.5 687 1960.3 687.9 1958.8 689 1965 689.9 1972.7 690.7 1984.4 691.9 2002.4 693.4 2020.6 694.9 2042 696 2050.7 697 2062.5 697.9 2071.8 698.6 2066.2 700 2059.4 700.8 2053.9 702 2047.7 702.8 2044 703.9 2048.9 704.8 2050 706 2060.5 706.8 2065.8 708 2071.7 709 2077.1 709.7 2079.7 711 2078.4 711.7 2076.4 713 2075.4 714.7 2071.8 716 2073 717 2072.5 718 2074.8 719.6 2075.7 721 2079.4 722.6 2081.7 724 2080.5 724.9 2079.4 726.6 2079.7 727.5 2082.8 729.5 2087.6 731 2084.6 732.5 2081.7 734 2084.7 735.4 2088.5 736.5 2089.6 738 2093.1 739 2092.7 740.4 2093.6 742 2090.7 743.3 2087.3 744.4 2081.7 745.9 2078.7 747 2077.7 748.4 2075.7 750 2080.2 751.3 2085.6 753 2092.4 754.3 2097.5 755 2098.4 756.4 2099.7 757.3 2097.5 758 2095.6 759 2091.8 760.2 2085.6 761.7 2088.8 763.2 2089.6 764.3 2085.4 765 2083.6 766.2 2079.7 766.9 2074.8 768 2066.3 769.2 2057.9 770.1 2061.4 771.1 2065.8 772.1 2069.8 773.1 2077 774.1 2084.9 775.1 2093.6 776.1 2092.3 777.1 2090.9 778.1 2089.6 779.1 2085.1 780.1 2081.7" fill="none" stroke="#f59e22" stroke-width="3.9" stroke-linejoin="round" stroke-linecap="round"/>
<text x="682.8" y="1929.7" font-size="19.8" text-anchor="middle" textLength="169.0" lengthAdjust="spacingAndGlyphs">ATAC (accessibility)</text>
<text x="586.2" y="2119.9" font-size="16" text-anchor="middle">-75Kb</text>
<text x="682.8" y="2119.9" font-size="16" text-anchor="middle">biomarker</text>
<text x="779.4" y="2119.9" font-size="16" text-anchor="middle">+75Kb</text>
<rect x="588.8" y="2494.1" width="1.2" height="3" fill="#555"/>
<rect x="685.4" y="2494.1" width="1.2" height="3" fill="#555"/>
<rect x="781.9" y="2494.1" width="1.2" height="3" fill="#555"/>
<text x="581.2" y="2515.2" font-size="16" text-anchor="middle">-75Kb</text>
<text x="682.4" y="2515.2" font-size="16" text-anchor="middle">biomarker</text>
<text x="779.4" y="2515.2" font-size="16" text-anchor="middle">+75Kb</text>
<rect x="840.2" y="1950.5" width="192.1" height="1.1" fill="#c4c4c4"/>
<text x="823.2" y="1956.6" font-size="16" text-anchor="end">45%</text>
<rect x="840.2" y="2023.7" width="192.1" height="1.1" fill="#c4c4c4"/>
<text x="823.2" y="2029.8" font-size="16" text-anchor="end">25%</text>
<text x="823.2" y="2103" font-size="16" text-anchor="end">5%</text>
<rect x="840.2" y="2096.7" width="192.1" height="1.4" fill="#2a2a2a"/>
<path d="M841.9 2083.7 843.1 2084 844.4 2083.4 845.5 2082.8 846.9 2083 847.9 2082.6 849.5 2082.9 850.3 2083.3 852 2083.7 852.7 2083.2 854.5 2083.5 857 2083.5 858.8 2083 859.5 2083.3 861.2 2083.8 862.1 2083.3 863.6 2083.5 864.6 2083.2 866 2083.1 867.1 2082.4 868.4 2082.3 869.6 2082.7 870.8 2082.4 872.2 2082.6 873.2 2082.9 874.7 2082.6 875.6 2082.1 877.2 2082.5 878 2082.1 879.7 2082.5 880.4 2082.3 882.2 2081.9 884.1 2082 884.8 2081.8 886.5 2081.2 887.3 2081.6 889.4 2081.7 891.3 2081.5 892.3 2081.6 893.7 2081.8 894.9 2081.8 896.1 2082.2 897.4 2081.8 898.5 2082.3 899.9 2082.2 900.9 2081.8 902.4 2082.3 903.3 2082.2 904.9 2082.7 905.8 2082.7 907.5 2082.6 909.2 2082.7 910 2082.8 911.8 2082.8 912.5 2082.3 914.2 2082.5 915 2083.1 916.6 2082.5 917.6 2082.8 919 2082.5 920.1 2083.1 921.4 2082.6 923.1 2082.7 923.8 2081.9 925.1 2081.9 926.2 2081.1 927.7 2080.4 929 2079.7 930.2 2079.8 931.1 2080 932.7 2080.2 933.5 2080.7 935.2 2080.9 937.7 2081.3 939 2081.7 940.3 2081.9 941.9 2082.3 942.8 2081.9 944.3 2082.4 945.3 2083.3 946.7 2083.7 947.8 2083.9 948.9 2083.7 950.4 2084 951.5 2083.8 952.9 2083.7 954 2083.3 955.4 2083.6 956.4 2083.9 957.9 2083.4 958.8 2083.6 960.4 2083.1 961.2 2082.9 963 2083 965.5 2083.3 967.2 2082.9 968.7 2082.7 969.6 2082 970.5 2082.3 972 2082.3 973.1 2082.5 974.4 2082.8 975.6 2082.7 976.8 2083.3 978.1 2083 979.3 2082.9 980.6 2083.1 981.7 2082.8 983.1 2083 984.1 2083.1 985.7 2083 986.5 2083.3 987.7 2082.9 988.5 2082.7 990.7 2082.5 992.5 2082.6 993.2 2082.7 994.9 2083 995.8 2083.6 997.3 2083.6 998.3 2083.7 999.7 2084.1 1000.8 2083.8 1002.2 2083.2 1003.3 2083.7 1004.6 2083.6 1005.8 2084.3 1007 2084.2 1008.3 2084.6 1009.4 2084.7 1010.9 2084.5 1011.8 2084.2 1013.4 2084.7 1014.2 2084.7 1015.9 2084.2 1018.5 2084.3 1020.2 2084.6 1021 2085.1 1022.6 2085.1 1023.5 2084.4 1025 2084.5 1026 2084.5 1027.5 2084.4 1028.5 2084.8 1029.9 2084.4 1031.1 2084.6" fill="none" stroke="#8f8f8f" stroke-width="3.9" stroke-linejoin="round" stroke-linecap="round"/>
<path d="M841.9 2075.7 842.9 2075.5 844.5 2073.2 845.5 2069.8 847.1 2087.5 847.8 2093.6 848.9 2094.5 849.8 2093.6 850.9 2089.1 851.9 2086.2 852.8 2081.7 853.9 2080 855.4 2078.7 856.9 2089.1 857.7 2093.6 858.9 2091.3 859.7 2091.6 860.9 2087.4 861.9 2084.2 862.7 2081.1 863.7 2079.7 865.3 2081.5 866.6 2085.6 867.9 2081.6 868.9 2080.9 869.6 2081.7 870.5 2082.9 872.6 2083.7 873.9 2081.2 875.6 2079.7 876.9 2081.8 878.5 2083.7 879.9 2082 881.5 2079.7 883.6 2078 885.5 2075.7 886.2 2076.9 886.9 2077.9 888.4 2081.7 889.9 2080.7 891.4 2081.7 893.4 2073.7 894.9 2082.2 896.6 2089.2 897.4 2093.6 899.2 2081.6 900.3 2075.7 901.8 2073.8 902.9 2072.5 904.3 2071.8 906.3 2079.7 907 2084.1 907.9 2086.9 909.2 2089.6 910 2087.4 911 2084.5 912.2 2081.7 913 2082.9 914 2087.3 915.2 2089.6 916 2089 917.4 2085.7 918.1 2083.7 919 2080.7 920 2077.8 921.1 2075.7 922.6 2074.2 924 2069.7 925.1 2065.8 926 2063.2 927 2059.8 928.1 2057.9 929 2050.8 930 2042.3 931 2032.1 932 2024.2 933.1 2013.4 934 2002.4 935 1991.4 936 1979.7 937 1978.5 938.6 1977.7 940 1992.9 940.9 2002.4 942 2015.9 943 2026 943.9 2038.1 945 2045.2 946.1 2053.8 946.9 2061.9 948 2069.3 948.9 2073.7 950 2071.7 951 2068.7 951.8 2067.8 953 2068.8 953.9 2068.2 954.8 2069.8 956.5 2069.9 958 2068.2 958.8 2067.8 960 2070.9 961 2073 961.7 2073.8 962.7 2077.7 964.3 2078.6 965.7 2075.7 966.9 2075.4 968 2075 969.7 2073.7 971 2079.1 972.6 2083.7 974 2077.8 974.7 2074 976.6 2067.8 977.4 2065 979.6 2064.8 981 2067.9 982.5 2071.8 984.5 2087.6 986 2085.2 987 2081.7 987.8 2081.1 988.5 2077.7 990.4 2074.7 991.5 2073.7 993 2075 994.4 2079.7 995.6 2077.8 997 2077.5 998.4 2077.7 1000 2078 1000.8 2077.8 1002.4 2081.7 1003.4 2082.9 1005.3 2091.6 1006 2092.4 1007 2092.6 1008 2093.6 1009.3 2093.6 1010 2092.1 1011.2 2091.9 1012 2088.5 1013.2 2085.6 1014 2082.9 1015 2079.1 1016.4 2072.8 1017.2 2071.8 1018 2073.2 1019 2074.5 1020.2 2073.7 1021.6 2073.1 1023.1 2071 1024.1 2067.8 1025.1 2072.3 1026.1 2079.7 1026.8 2082.3 1028.1 2086.8 1029.1 2091.6 1030.1 2090.8 1031.1 2089.3 1032.1 2087.6" fill="none" stroke="#961a5e" stroke-width="3.9" stroke-linejoin="round" stroke-linecap="round"/>
<text x="936.2" y="1929.7" font-size="19.8" text-anchor="middle" textLength="176.0" lengthAdjust="spacingAndGlyphs">chromHMM (enhan.)</text>
<text x="840.2" y="2119.9" font-size="16" text-anchor="middle">-15Kb</text>
<text x="936.2" y="2119.9" font-size="16" text-anchor="middle">biomarker</text>
<text x="1032.3" y="2119.9" font-size="16" text-anchor="middle">+15Kb</text>
<rect x="838.6" y="2494.1" width="1.2" height="3" fill="#555"/>
<rect x="935.2" y="2494.1" width="1.2" height="3" fill="#555"/>
<rect x="1031.9" y="2494.1" width="1.2" height="3" fill="#555"/>
<text x="835" y="2515.2" font-size="16" text-anchor="middle">-15Kb</text>
<text x="935.5" y="2515.2" font-size="16" text-anchor="middle">biomarker</text>
<text x="1032.4" y="2515.2" font-size="16" text-anchor="middle">+15Kb</text>
<text transform="translate(47.8 113.5) rotate(-90)" font-size="16" text-anchor="middle">Fold change</text>
<text transform="translate(47.8 756.7) rotate(-90)" font-size="16" text-anchor="middle">Fold change</text>
<text transform="translate(47.8 1399.6) rotate(-90)" font-size="16" text-anchor="middle">Fold change</text>
<text transform="translate(40.4 2024.7) rotate(-90)" font-size="16" text-anchor="middle">Fold change</text>
<text transform="translate(67.7 399.5) rotate(-90)" font-size="19.4" font-weight="bold" text-anchor="middle">Top 250 markers (B cells)</text>
<text transform="translate(58.1 1044.7) rotate(-90)" font-size="19.4" font-weight="bold" text-anchor="middle">Top 250 markers (Hepatocytes)</text>
<text transform="translate(46 1687.4) rotate(-90)" font-size="19.4" font-weight="bold" text-anchor="middle">Top 250 markers</text>
<text transform="translate(70.6 1687.7) rotate(-90)" font-size="19.4" font-weight="bold" text-anchor="middle">(Gastric/Sm. Int./Colon)</text>
<text transform="translate(46.2 2313) rotate(-90)" font-size="19.4" font-weight="bold" text-anchor="middle">Top 250 markers</text>
<text transform="translate(70.6 2314) rotate(-90)" font-size="19.4" font-weight="bold" text-anchor="middle">(Heart cardio+fibroblasts)</text>
<text x="2" y="20.8" font-size="26" font-weight="bold">A</text>
<text x="2" y="664" font-size="26" font-weight="bold">B</text>
<text x="2" y="1306.8" font-size="26" font-weight="bold">C</text>
<text x="2" y="1932" font-size="26" font-weight="bold">D</text>
</svg></body></html>
